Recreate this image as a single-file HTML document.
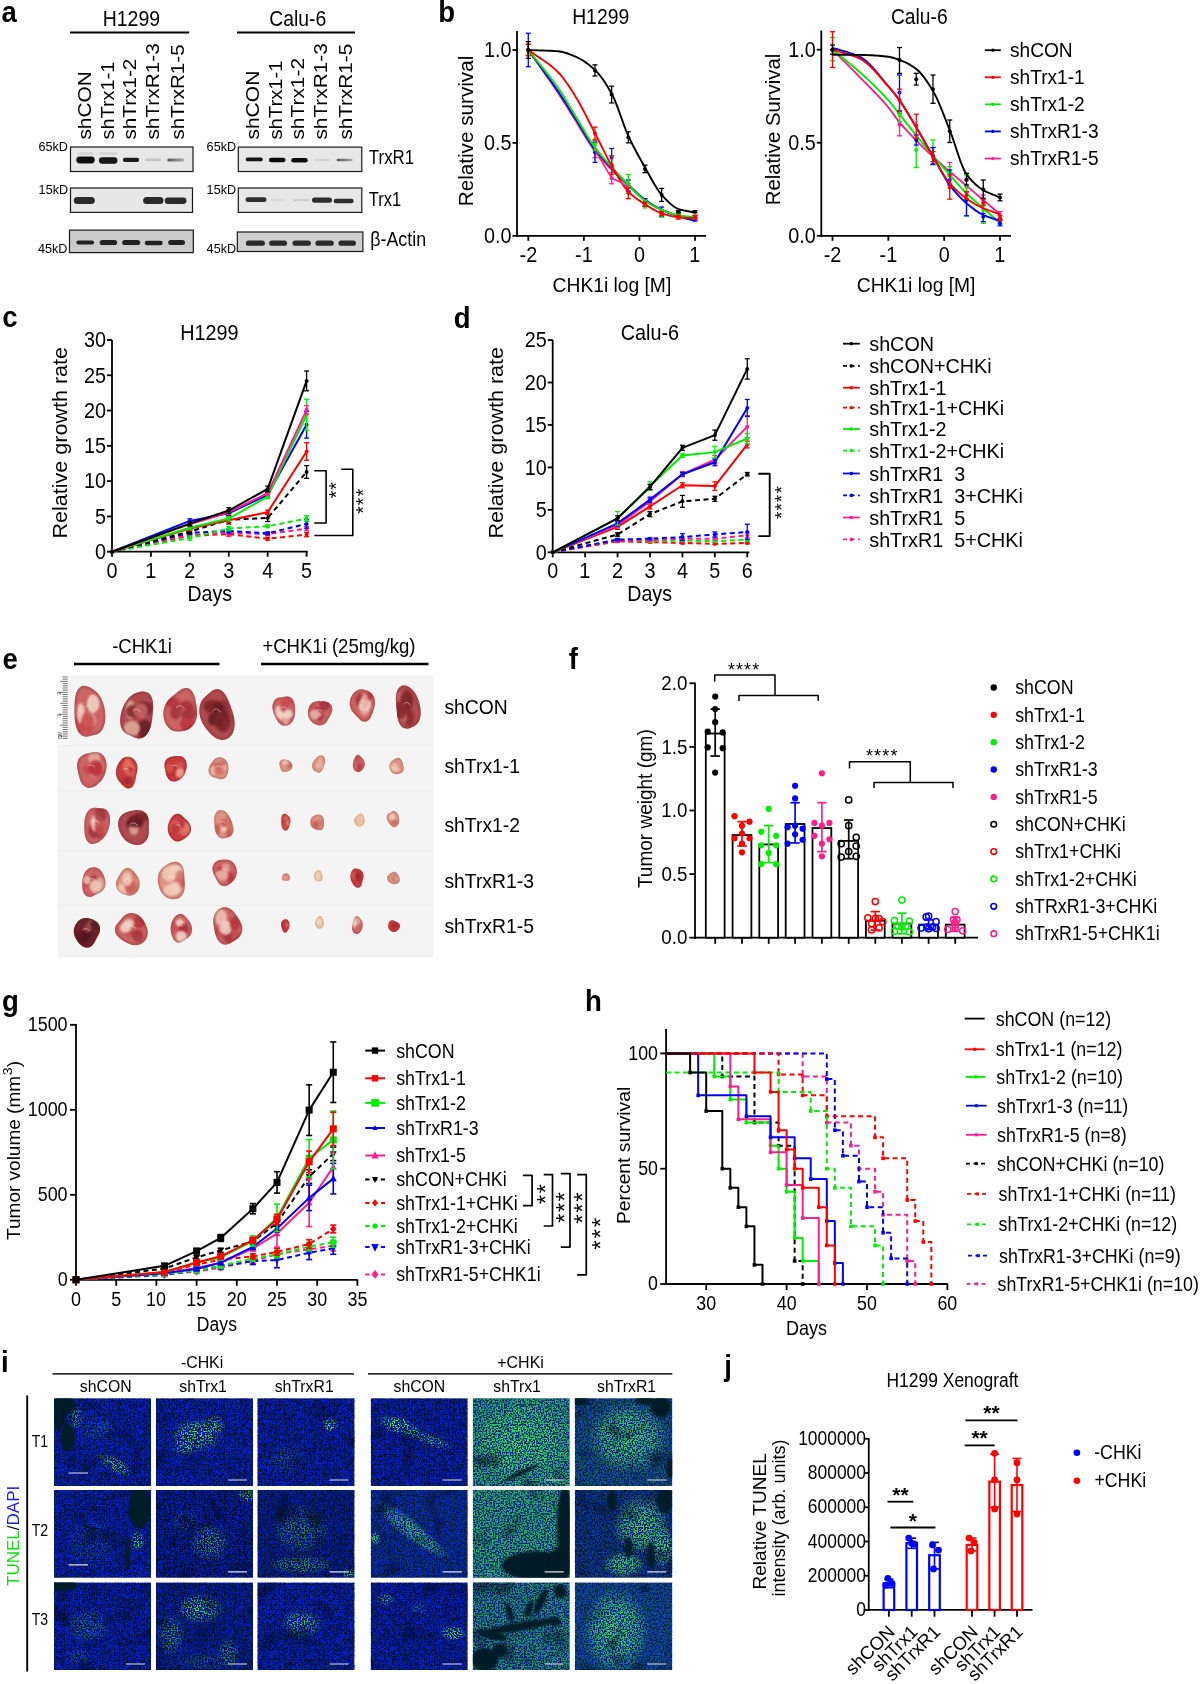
<!DOCTYPE html>
<html><head><meta charset="utf-8"><title>Figure</title>
<style>html,body{margin:0;padding:0;background:#fff;}body{width:1200px;height:1684px;overflow:hidden;}svg{display:block;will-change:transform;}text{font-family:"Liberation Sans",sans-serif;}</style>
</head><body>
<svg width="1200" height="1684" viewBox="0 0 1200 1684">
<rect width="1200" height="1684" fill="#fff"/>
<defs>
<filter id="bblur" x="-30%" y="-100%" width="160%" height="300%"><feGaussianBlur stdDeviation="0.6"/></filter>
<linearGradient id="fadeH"><stop offset="0" stop-color="#555"/><stop offset="1" stop-color="#aaa"/></linearGradient>
<filter id="tblur" x="-50%" y="-50%" width="200%" height="200%"><feGaussianBlur stdDeviation="1.2"/></filter>
<filter id="vblur" x="-50%" y="-50%" width="200%" height="200%"><feGaussianBlur stdDeviation="1.2"/></filter>
<filter id="fB0" color-interpolation-filters="sRGB" x="0" y="0" width="100%" height="100%"><feTurbulence type="turbulence" baseFrequency="0.6" numOctaves="2" seed="3" result="n"/><feColorMatrix in="n" type="matrix" values="0 0 0 0 0.02  0 0 0 0 0.14  0 0 0 0 0.92  3.0 0 0 0 -0.35"/><feGaussianBlur stdDeviation="0.35"/></filter>
<filter id="fG0" color-interpolation-filters="sRGB" x="0" y="0" width="100%" height="100%"><feTurbulence type="fractalNoise" baseFrequency="0.7" numOctaves="1" seed="5" result="n"/><feColorMatrix in="n" type="matrix" values="0 0 0 0 0.25  0 0 0 0 1.0  0 0 0 0 0.3  0 8 0 0 -4.0"/><feGaussianBlur stdDeviation="0.4"/></filter>
<filter id="fG0d" color-interpolation-filters="sRGB" x="0" y="0" width="100%" height="100%"><feTurbulence type="fractalNoise" baseFrequency="0.65" numOctaves="1" seed="2" result="n"/><feColorMatrix in="n" type="matrix" values="0 0 0 0 0.2  0 0 0 0 0.85  0 0 0 0 0.45  0 7 0 0 -3.0"/><feGaussianBlur stdDeviation="0.4"/></filter>
<filter id="fL0" color-interpolation-filters="sRGB" x="0" y="0" width="100%" height="100%"><feTurbulence type="fractalNoise" baseFrequency="0.04" numOctaves="2" seed="9" result="n"/><feColorMatrix in="n" type="matrix" values="0 0 0 0 0  0 0 0 0 0.03  0 0 0 0 0.12  0 0 -2.2 0 0.9"/></filter>
<filter id="fB1" color-interpolation-filters="sRGB" x="0" y="0" width="100%" height="100%"><feTurbulence type="turbulence" baseFrequency="0.6" numOctaves="2" seed="10" result="n"/><feColorMatrix in="n" type="matrix" values="0 0 0 0 0.02  0 0 0 0 0.14  0 0 0 0 0.92  3.0 0 0 0 -0.35"/><feGaussianBlur stdDeviation="0.35"/></filter>
<filter id="fG1" color-interpolation-filters="sRGB" x="0" y="0" width="100%" height="100%"><feTurbulence type="fractalNoise" baseFrequency="0.7" numOctaves="1" seed="16" result="n"/><feColorMatrix in="n" type="matrix" values="0 0 0 0 0.25  0 0 0 0 1.0  0 0 0 0 0.3  0 8 0 0 -4.0"/><feGaussianBlur stdDeviation="0.4"/></filter>
<filter id="fG1d" color-interpolation-filters="sRGB" x="0" y="0" width="100%" height="100%"><feTurbulence type="fractalNoise" baseFrequency="0.65" numOctaves="1" seed="15" result="n"/><feColorMatrix in="n" type="matrix" values="0 0 0 0 0.2  0 0 0 0 0.85  0 0 0 0 0.45  0 7 0 0 -3.0"/><feGaussianBlur stdDeviation="0.4"/></filter>
<filter id="fL1" color-interpolation-filters="sRGB" x="0" y="0" width="100%" height="100%"><feTurbulence type="fractalNoise" baseFrequency="0.04" numOctaves="2" seed="14" result="n"/><feColorMatrix in="n" type="matrix" values="0 0 0 0 0  0 0 0 0 0.03  0 0 0 0 0.12  0 0 -2.2 0 0.9"/></filter>
<filter id="fB2" color-interpolation-filters="sRGB" x="0" y="0" width="100%" height="100%"><feTurbulence type="turbulence" baseFrequency="0.6" numOctaves="2" seed="17" result="n"/><feColorMatrix in="n" type="matrix" values="0 0 0 0 0.02  0 0 0 0 0.14  0 0 0 0 0.92  3.0 0 0 0 -0.35"/><feGaussianBlur stdDeviation="0.35"/></filter>
<filter id="fG2" color-interpolation-filters="sRGB" x="0" y="0" width="100%" height="100%"><feTurbulence type="fractalNoise" baseFrequency="0.7" numOctaves="1" seed="27" result="n"/><feColorMatrix in="n" type="matrix" values="0 0 0 0 0.25  0 0 0 0 1.0  0 0 0 0 0.3  0 8 0 0 -4.0"/><feGaussianBlur stdDeviation="0.4"/></filter>
<filter id="fG2d" color-interpolation-filters="sRGB" x="0" y="0" width="100%" height="100%"><feTurbulence type="fractalNoise" baseFrequency="0.65" numOctaves="1" seed="28" result="n"/><feColorMatrix in="n" type="matrix" values="0 0 0 0 0.2  0 0 0 0 0.85  0 0 0 0 0.45  0 7 0 0 -3.0"/><feGaussianBlur stdDeviation="0.4"/></filter>
<filter id="fL2" color-interpolation-filters="sRGB" x="0" y="0" width="100%" height="100%"><feTurbulence type="fractalNoise" baseFrequency="0.04" numOctaves="2" seed="19" result="n"/><feColorMatrix in="n" type="matrix" values="0 0 0 0 0  0 0 0 0 0.03  0 0 0 0 0.12  0 0 -2.2 0 0.9"/></filter>
<radialGradient id="rgW"><stop offset="0" stop-color="#fff"/><stop offset="0.6" stop-color="#fff" stop-opacity="0.7"/><stop offset="1" stop-color="#fff" stop-opacity="0"/></radialGradient>
<radialGradient id="tgN" cx="0.45" cy="0.4" r="0.6"><stop offset="0" stop-color="#e08a80"/><stop offset="0.5" stop-color="#c8484a"/><stop offset="0.9" stop-color="#a52a33"/><stop offset="1" stop-color="#b04048" stop-opacity="0.6"/></radialGradient>
<radialGradient id="tgD" cx="0.45" cy="0.4" r="0.6"><stop offset="0" stop-color="#c86c6c"/><stop offset="0.5" stop-color="#9a3038"/><stop offset="0.9" stop-color="#6a1a22"/><stop offset="1" stop-color="#7a2a30" stop-opacity="0.6"/></radialGradient>
<radialGradient id="tgR" cx="0.45" cy="0.4" r="0.6"><stop offset="0" stop-color="#e06050"/><stop offset="0.6" stop-color="#c8303a"/><stop offset="1" stop-color="#b02a30" stop-opacity="0.7"/></radialGradient>
<radialGradient id="tgL" cx="0.45" cy="0.4" r="0.6"><stop offset="0" stop-color="#f0c0a8"/><stop offset="0.6" stop-color="#e08070"/><stop offset="1" stop-color="#d06060" stop-opacity="0.7"/></radialGradient>
<radialGradient id="tgP" cx="0.45" cy="0.4" r="0.6"><stop offset="0" stop-color="#f8e0c8"/><stop offset="0.7" stop-color="#ecc4a4"/><stop offset="1" stop-color="#e0b090" stop-opacity="0.7"/></radialGradient>
<radialGradient id="tgHi"><stop offset="0" stop-color="#f4d0c0" stop-opacity="0.7"/><stop offset="1" stop-color="#f4d0c0" stop-opacity="0"/></radialGradient>
<clipPath id="tcl1"><path d="M104.94,710.61 L105.35,715.15 L105.25,719.69 L104.59,723.98 L103.37,727.74 L101.66,730.73 L99.61,732.84 L97.41,734.14 L95.23,734.86 L93.13,735.34 L91.08,735.83 L88.99,736.36 L86.73,736.75 L84.30,736.62 L81.80,735.59 L79.43,733.44 L77.43,730.22 L75.97,726.23 L75.07,721.87 L74.63,717.49 L74.47,713.27 L74.43,709.19 L74.48,705.13 L74.68,701.00 L75.19,696.88 L76.17,693.02 L77.68,689.76 L79.66,687.42 L81.95,686.12 L84.36,685.78 L86.74,686.17 L89.01,687.01 L91.19,688.09 L93.32,689.38 L95.43,690.95 L97.51,692.94 L99.50,695.46 L101.31,698.56 L102.86,702.18 L104.09,706.24 Z"/></clipPath>
<clipPath id="tcl2"><path d="M152.20,718.94 L151.58,722.91 L150.55,727.02 L148.95,731.01 L146.77,734.46 L144.14,736.98 L141.30,738.36 L138.55,738.64 L136.04,738.12 L133.83,737.19 L131.82,736.21 L129.85,735.33 L127.84,734.48 L125.77,733.39 L123.78,731.79 L122.07,729.49 L120.83,726.47 L120.18,722.86 L120.14,718.90 L120.67,714.80 L121.68,710.76 L123.09,706.90 L124.84,703.34 L126.89,700.17 L129.16,697.50 L131.58,695.39 L134.05,693.83 L136.52,692.74 L138.95,692.02 L141.37,691.60 L143.79,691.53 L146.17,691.94 L148.41,693.01 L150.35,694.86 L151.81,697.48 L152.73,700.70 L153.12,704.26 L153.12,707.91 L152.91,711.54 L152.60,715.18 Z"/></clipPath>
<clipPath id="tcl3"><path d="M197.22,713.86 L196.78,717.56 L195.70,721.13 L194.01,724.29 L191.83,726.83 L189.39,728.66 L186.89,729.88 L184.43,730.65 L182.06,731.14 L179.72,731.45 L177.38,731.55 L175.01,731.31 L172.66,730.63 L170.41,729.40 L168.33,727.61 L166.51,725.28 L165.02,722.45 L163.93,719.19 L163.35,715.58 L163.38,711.79 L164.07,708.01 L165.38,704.51 L167.17,701.48 L169.26,699.00 L171.42,697.00 L173.53,695.29 L175.58,693.63 L177.66,691.92 L179.91,690.22 L182.39,688.79 L185.06,687.99 L187.74,688.12 L190.21,689.32 L192.25,691.46 L193.77,694.25 L194.84,697.36 L195.60,700.54 L196.22,703.70 L196.76,706.91 L197.15,710.28 Z"/></clipPath>
<clipPath id="tcl4"><path d="M232.74,712.31 L233.80,716.26 L234.50,720.47 L234.66,724.76 L234.17,728.86 L233.02,732.48 L231.32,735.41 L229.21,737.59 L226.87,739.02 L224.40,739.77 L221.89,739.91 L219.40,739.49 L216.96,738.55 L214.62,737.15 L212.38,735.40 L210.22,733.38 L208.09,731.12 L205.96,728.57 L203.87,725.59 L201.93,722.07 L200.37,718.02 L199.42,713.60 L199.27,709.14 L199.95,705.02 L201.32,701.55 L203.14,698.83 L205.14,696.73 L207.12,694.98 L209.05,693.34 L211.01,691.70 L213.13,690.23 L215.50,689.24 L218.09,689.09 L220.75,690.02 L223.27,692.01 L225.49,694.84 L227.33,698.15 L228.88,701.62 L230.23,705.11 L231.52,708.63 Z"/></clipPath>
<clipPath id="tcl5"><path d="M295.21,710.40 L295.13,712.80 L294.84,715.19 L294.30,717.53 L293.46,719.72 L292.33,721.65 L290.96,723.23 L289.40,724.43 L287.74,725.24 L286.03,725.67 L284.30,725.73 L282.60,725.40 L280.99,724.68 L279.51,723.57 L278.20,722.15 L277.07,720.52 L276.08,718.76 L275.16,716.92 L274.27,714.96 L273.43,712.81 L272.76,710.40 L272.40,707.76 L272.52,705.04 L273.19,702.48 L274.41,700.34 L276.00,698.79 L277.79,697.85 L279.56,697.38 L281.23,697.15 L282.78,696.95 L284.30,696.69 L285.88,696.43 L287.56,696.35 L289.29,696.68 L290.96,697.56 L292.42,699.03 L293.57,700.97 L294.38,703.21 L294.87,705.59 L295.13,708.00 Z"/></clipPath>
<clipPath id="tcl6"><path d="M331.75,712.50 L330.93,714.37 L330.03,716.02 L329.16,717.55 L328.34,719.07 L327.47,720.62 L326.42,722.15 L325.10,723.52 L323.50,724.58 L321.70,725.22 L319.80,725.40 L317.91,725.16 L316.09,724.59 L314.38,723.76 L312.79,722.71 L311.35,721.45 L310.09,719.97 L309.08,718.28 L308.37,716.43 L307.97,714.48 L307.88,712.50 L308.06,710.53 L308.50,708.61 L309.19,706.78 L310.16,705.08 L311.41,703.61 L312.91,702.45 L314.59,701.66 L316.34,701.23 L318.09,701.09 L319.80,701.10 L321.49,701.17 L323.24,701.27 L325.10,701.48 L327.04,701.94 L328.94,702.82 L330.59,704.20 L331.77,706.04 L332.34,708.18 L332.29,710.40 Z"/></clipPath>
<clipPath id="tcl7"><path d="M374.87,704.60 L374.42,707.12 L373.77,709.49 L373.04,711.76 L372.23,714.01 L371.28,716.25 L370.07,718.38 L368.55,720.18 L366.72,721.40 L364.71,721.84 L362.70,721.49 L360.85,720.49 L359.23,719.11 L357.82,717.61 L356.51,716.16 L355.20,714.79 L353.82,713.36 L352.43,711.71 L351.17,709.69 L350.21,707.29 L349.71,704.60 L349.73,701.81 L350.26,699.11 L351.20,696.64 L352.46,694.49 L353.94,692.70 L355.57,691.27 L357.31,690.22 L359.10,689.56 L360.91,689.27 L362.70,689.32 L364.45,689.63 L366.16,690.14 L367.86,690.84 L369.56,691.78 L371.20,693.05 L372.70,694.73 L373.90,696.85 L374.69,699.31 L375.00,701.95 Z"/></clipPath>
<clipPath id="tcl8"><path d="M420.15,706.41 L420.62,709.73 L420.74,713.16 L420.42,716.54 L419.63,719.64 L418.39,722.26 L416.83,724.30 L415.07,725.77 L413.24,726.81 L411.40,727.60 L409.51,728.23 L407.55,728.63 L405.47,728.62 L403.36,727.95 L401.36,726.44 L399.63,724.10 L398.34,721.12 L397.50,717.83 L397.05,714.54 L396.81,711.42 L396.59,708.47 L396.32,705.53 L396.02,702.43 L395.85,699.08 L396.00,695.60 L396.64,692.24 L397.83,689.33 L399.49,687.15 L401.48,685.84 L403.63,685.37 L405.78,685.59 L407.86,686.34 L409.81,687.46 L411.64,688.91 L413.34,690.66 L414.89,692.70 L416.28,695.02 L417.49,697.58 L418.55,700.33 L419.44,703.27 Z"/></clipPath>
<clipPath id="tcl9"><path d="M106.34,769.00 L105.81,771.61 L105.05,774.06 L104.05,776.34 L102.84,778.45 L101.46,780.38 L99.91,782.18 L98.19,783.86 L96.27,785.41 L94.11,786.72 L91.70,787.62 L89.13,787.90 L86.57,787.41 L84.22,786.12 L82.27,784.14 L80.81,781.71 L79.79,779.10 L79.06,776.51 L78.47,774.02 L77.90,771.55 L77.39,769.00 L77.08,766.30 L77.17,763.49 L77.84,760.76 L79.11,758.33 L80.90,756.39 L82.99,755.01 L85.19,754.09 L87.37,753.46 L89.52,752.93 L91.70,752.45 L94.00,752.09 L96.43,752.03 L98.91,752.50 L101.27,753.64 L103.32,755.45 L104.89,757.82 L105.94,760.54 L106.47,763.40 L106.58,766.25 Z"/></clipPath>
<clipPath id="tcl10"><path d="M137.04,772.00 L136.57,774.07 L136.12,776.04 L135.71,778.05 L135.27,780.20 L134.68,782.47 L133.77,784.71 L132.47,786.64 L130.81,788.00 L128.93,788.59 L127.00,788.39 L125.19,787.56 L123.59,786.32 L122.17,784.92 L120.88,783.48 L119.65,782.02 L118.47,780.45 L117.40,778.67 L116.56,776.63 L116.04,774.37 L115.90,772.00 L116.14,769.65 L116.69,767.43 L117.46,765.37 L118.39,763.47 L119.46,761.72 L120.68,760.14 L122.06,758.78 L123.60,757.72 L125.26,757.00 L127.00,756.68 L128.77,756.73 L130.54,757.16 L132.25,757.95 L133.86,759.13 L135.27,760.72 L136.40,762.69 L137.14,764.96 L137.45,767.37 L137.38,769.76 Z"/></clipPath>
<clipPath id="tcl11"><path d="M186.57,768.00 L186.20,769.83 L185.68,771.57 L185.02,773.23 L184.20,774.81 L183.19,776.29 L182.01,777.66 L180.65,778.90 L179.11,779.98 L177.39,780.85 L175.50,781.42 L173.51,781.55 L171.53,781.16 L169.72,780.22 L168.22,778.80 L167.10,777.05 L166.35,775.17 L165.85,773.30 L165.48,771.51 L165.11,769.77 L164.75,768.00 L164.47,766.12 L164.45,764.13 L164.83,762.14 L165.68,760.31 L166.97,758.81 L168.57,757.72 L170.30,757.01 L172.06,756.58 L173.78,756.28 L175.50,756.05 L177.28,755.89 L179.14,755.92 L181.04,756.28 L182.85,757.09 L184.42,758.39 L185.62,760.08 L186.38,762.02 L186.74,764.06 L186.77,766.08 Z"/></clipPath>
<clipPath id="tcl12"><path d="M228.46,768.50 L228.32,770.29 L228.04,772.05 L227.59,773.80 L226.93,775.48 L226.01,776.99 L224.82,778.20 L223.42,779.00 L221.91,779.34 L220.41,779.28 L219.00,778.97 L217.68,778.57 L216.40,778.19 L215.06,777.85 L213.63,777.45 L212.14,776.81 L210.71,775.79 L209.53,774.34 L208.75,772.53 L208.48,770.52 L208.69,768.50 L209.26,766.63 L210.06,764.98 L210.95,763.53 L211.86,762.22 L212.79,760.99 L213.79,759.83 L214.91,758.79 L216.17,757.95 L217.55,757.38 L219.00,757.12 L220.48,757.17 L221.95,757.50 L223.37,758.11 L224.71,758.98 L225.92,760.13 L226.93,761.53 L227.69,763.14 L228.19,764.89 L228.43,766.69 Z"/></clipPath>
<clipPath id="tcl13"><path d="M292.34,765.60 L292.37,766.67 L292.15,767.73 L291.68,768.70 L291.01,769.53 L290.18,770.18 L289.29,770.68 L288.39,771.07 L287.48,771.40 L286.56,771.68 L285.60,771.90 L284.59,772.00 L283.56,771.89 L282.58,771.53 L281.73,770.92 L281.08,770.12 L280.63,769.21 L280.32,768.29 L280.08,767.39 L279.84,766.51 L279.59,765.60 L279.38,764.61 L279.28,763.55 L279.42,762.45 L279.83,761.41 L280.53,760.53 L281.45,759.89 L282.50,759.52 L283.57,759.37 L284.62,759.39 L285.60,759.52 L286.53,759.73 L287.42,760.00 L288.28,760.34 L289.10,760.79 L289.87,761.33 L290.57,761.99 L291.19,762.75 L291.71,763.62 L292.11,764.57 Z"/></clipPath>
<clipPath id="tcl14"><path d="M324.10,765.42 L323.65,766.67 L323.18,767.91 L322.64,769.16 L321.98,770.36 L321.18,771.43 L320.26,772.22 L319.28,772.66 L318.32,772.74 L317.42,772.52 L316.62,772.12 L315.88,771.67 L315.15,771.22 L314.40,770.74 L313.63,770.14 L312.93,769.33 L312.38,768.24 L312.08,766.90 L312.08,765.40 L312.37,763.87 L312.90,762.42 L313.58,761.13 L314.33,760.01 L315.10,759.04 L315.88,758.17 L316.68,757.40 L317.50,756.72 L318.36,756.16 L319.26,755.74 L320.18,755.48 L321.10,755.40 L322.03,755.52 L322.92,755.86 L323.73,756.46 L324.41,757.34 L324.88,758.49 L325.11,759.83 L325.10,761.28 L324.88,762.74 L324.52,764.12 Z"/></clipPath>
<clipPath id="tcl15"><path d="M364.87,763.80 L364.75,765.32 L364.37,766.73 L363.80,767.94 L363.12,768.93 L362.40,769.74 L361.67,770.41 L360.94,770.97 L360.19,771.45 L359.41,771.80 L358.60,772.01 L357.76,772.04 L356.92,771.90 L356.07,771.56 L355.24,771.02 L354.46,770.27 L353.77,769.28 L353.23,768.07 L352.89,766.70 L352.76,765.24 L352.85,763.80 L353.10,762.44 L353.45,761.19 L353.85,760.02 L354.28,758.89 L354.75,757.79 L355.31,756.73 L356.00,755.81 L356.80,755.16 L357.69,754.85 L358.60,754.94 L359.46,755.35 L360.23,755.97 L360.93,756.67 L361.59,757.37 L362.27,758.07 L362.97,758.84 L363.67,759.76 L364.28,760.92 L364.71,762.29 Z"/></clipPath>
<clipPath id="tcl16"><path d="M403.50,766.40 L403.74,767.55 L403.81,768.79 L403.61,770.04 L403.11,771.21 L402.32,772.21 L401.33,772.99 L400.22,773.55 L399.06,773.91 L397.88,774.12 L396.70,774.19 L395.52,774.11 L394.36,773.84 L393.26,773.38 L392.25,772.73 L391.38,771.90 L390.65,770.94 L390.07,769.89 L389.63,768.77 L389.36,767.60 L389.27,766.40 L389.40,765.20 L389.73,764.06 L390.27,763.01 L390.94,762.08 L391.71,761.25 L392.53,760.48 L393.41,759.73 L394.38,759.02 L395.47,758.38 L396.70,757.95 L398.02,757.82 L399.31,758.08 L400.47,758.75 L401.38,759.74 L402.02,760.91 L402.42,762.11 L402.68,763.25 L402.92,764.31 L403.20,765.34 Z"/></clipPath>
<clipPath id="tcl17"><path d="M109.07,827.22 L108.12,830.20 L106.94,832.94 L105.56,835.40 L104.02,837.54 L102.36,839.34 L100.62,840.80 L98.83,841.98 L96.99,842.91 L95.10,843.60 L93.16,843.97 L91.19,843.88 L89.31,843.18 L87.63,841.81 L86.29,839.79 L85.34,837.28 L84.77,834.51 L84.47,831.65 L84.33,828.78 L84.28,825.87 L84.35,822.86 L84.64,819.70 L85.31,816.49 L86.44,813.45 L88.04,810.90 L89.98,809.07 L92.08,808.05 L94.13,807.72 L96.03,807.83 L97.77,808.07 L99.46,808.24 L101.19,808.32 L103.03,808.50 L104.92,809.04 L106.73,810.18 L108.27,812.03 L109.39,814.55 L110.00,817.54 L110.10,820.78 L109.76,824.05 Z"/></clipPath>
<clipPath id="tcl18"><path d="M148.80,827.00 L148.84,829.37 L148.86,831.87 L148.67,834.54 L148.03,837.27 L146.80,839.85 L144.95,842.05 L142.60,843.68 L139.93,844.65 L137.15,844.98 L134.40,844.77 L131.78,844.12 L129.35,843.10 L127.14,841.78 L125.17,840.17 L123.46,838.34 L122.02,836.32 L120.81,834.18 L119.79,831.92 L118.94,829.54 L118.31,827.00 L118.02,824.31 L118.21,821.55 L119.00,818.87 L120.40,816.46 L122.33,814.49 L124.60,813.02 L127.03,812.00 L129.48,811.29 L131.92,810.74 L134.40,810.29 L136.99,810.03 L139.68,810.15 L142.35,810.84 L144.76,812.22 L146.69,814.26 L147.98,816.77 L148.65,819.47 L148.86,822.13 L148.84,824.63 Z"/></clipPath>
<clipPath id="tcl19"><path d="M191.01,828.00 L190.89,830.48 L190.19,832.80 L189.05,834.77 L187.66,836.35 L186.19,837.58 L184.74,838.59 L183.32,839.49 L181.88,840.30 L180.38,840.97 L178.80,841.40 L177.15,841.49 L175.50,841.16 L173.91,840.44 L172.43,839.37 L171.09,837.99 L169.93,836.36 L168.96,834.50 L168.25,832.44 L167.84,830.25 L167.76,828.00 L167.99,825.78 L168.49,823.66 L169.20,821.66 L170.08,819.78 L171.11,818.03 L172.31,816.42 L173.72,815.08 L175.32,814.13 L177.05,813.71 L178.80,813.87 L180.44,814.56 L181.91,815.60 L183.21,816.79 L184.41,817.98 L185.64,819.13 L186.95,820.32 L188.31,821.72 L189.57,823.46 L190.54,825.59 Z"/></clipPath>
<clipPath id="tcl20"><path d="M231.96,822.48 L232.65,824.45 L233.22,826.57 L233.54,828.80 L233.49,831.01 L233.00,833.02 L232.11,834.69 L230.92,835.92 L229.57,836.75 L228.17,837.32 L226.77,837.76 L225.35,838.15 L223.85,838.44 L222.24,838.48 L220.54,838.09 L218.88,837.13 L217.40,835.61 L216.22,833.65 L215.41,831.45 L214.93,829.22 L214.68,827.11 L214.52,825.13 L214.38,823.21 L214.25,821.27 L214.21,819.26 L214.35,817.21 L214.76,815.22 L215.50,813.43 L216.56,811.95 L217.88,810.87 L219.39,810.22 L221.03,810.01 L222.71,810.25 L224.38,810.94 L225.95,812.03 L227.36,813.46 L228.57,815.14 L229.59,816.94 L230.45,818.77 L231.23,820.61 Z"/></clipPath>
<clipPath id="tcl21"><path d="M290.39,822.00 L290.18,823.21 L289.89,824.32 L289.56,825.36 L289.22,826.38 L288.83,827.39 L288.38,828.38 L287.82,829.28 L287.16,830.00 L286.40,830.46 L285.60,830.63 L284.79,830.50 L284.02,830.11 L283.31,829.48 L282.70,828.66 L282.18,827.69 L281.79,826.61 L281.52,825.46 L281.37,824.29 L281.30,823.13 L281.29,822.00 L281.30,820.87 L281.34,819.69 L281.43,818.46 L281.62,817.18 L281.97,815.95 L282.49,814.87 L283.18,814.09 L283.98,813.68 L284.81,813.64 L285.60,813.89 L286.33,814.32 L287.00,814.81 L287.65,815.30 L288.29,815.82 L288.93,816.44 L289.53,817.24 L290.02,818.25 L290.34,819.43 L290.46,820.72 Z"/></clipPath>
<clipPath id="tcl22"><path d="M323.88,820.08 L323.97,821.40 L323.96,822.64 L323.94,823.84 L323.90,825.03 L323.80,826.25 L323.55,827.46 L323.07,828.56 L322.35,829.46 L321.43,830.05 L320.38,830.32 L319.30,830.33 L318.24,830.16 L317.22,829.91 L316.21,829.63 L315.19,829.29 L314.13,828.83 L313.08,828.17 L312.11,827.28 L311.28,826.17 L310.68,824.88 L310.32,823.51 L310.21,822.12 L310.32,820.80 L310.61,819.57 L311.07,818.47 L311.67,817.52 L312.38,816.74 L313.18,816.12 L314.02,815.64 L314.90,815.25 L315.80,814.93 L316.76,814.65 L317.79,814.46 L318.92,814.43 L320.10,814.66 L321.26,815.23 L322.29,816.14 L323.09,817.34 L323.62,818.69 Z"/></clipPath>
<clipPath id="tcl23"><path d="M364.63,820.30 L364.68,821.24 L364.60,822.20 L364.37,823.14 L363.98,824.01 L363.43,824.77 L362.78,825.41 L362.05,825.91 L361.27,826.29 L360.45,826.55 L359.60,826.66 L358.74,826.62 L357.90,826.39 L357.11,826.00 L356.38,825.47 L355.73,824.81 L355.16,824.06 L354.67,823.23 L354.29,822.31 L354.05,821.32 L354.00,820.30 L354.15,819.29 L354.50,818.37 L355.01,817.57 L355.60,816.91 L356.20,816.34 L356.80,815.80 L357.39,815.23 L358.02,814.63 L358.75,814.05 L359.60,813.59 L360.54,813.38 L361.50,813.49 L362.37,813.96 L363.09,814.70 L363.61,815.62 L363.96,816.61 L364.18,817.57 L364.36,818.50 L364.51,819.39 Z"/></clipPath>
<clipPath id="tcl24"><path d="M399.00,817.47 L399.21,818.79 L399.29,820.08 L399.22,821.32 L399.02,822.50 L398.67,823.57 L398.20,824.52 L397.64,825.34 L396.99,826.05 L396.27,826.64 L395.46,827.06 L394.57,827.27 L393.64,827.23 L392.69,826.92 L391.78,826.36 L390.94,825.61 L390.17,824.75 L389.45,823.83 L388.74,822.85 L388.05,821.78 L387.42,820.58 L386.92,819.23 L386.64,817.80 L386.66,816.40 L387.00,815.15 L387.61,814.16 L388.37,813.46 L389.18,812.98 L389.96,812.63 L390.69,812.28 L391.39,811.88 L392.14,811.45 L392.98,811.11 L393.92,810.97 L394.92,811.15 L395.91,811.68 L396.82,812.53 L397.59,813.62 L398.20,814.86 L398.67,816.15 Z"/></clipPath>
<clipPath id="tcl25"><path d="M105.42,882.00 L105.39,884.39 L104.92,886.71 L103.99,888.80 L102.68,890.51 L101.15,891.80 L99.55,892.74 L98.00,893.50 L96.49,894.26 L94.96,895.11 L93.30,895.98 L91.44,896.68 L89.41,896.94 L87.36,896.54 L85.50,895.40 L84.01,893.59 L83.00,891.34 L82.46,888.89 L82.26,886.47 L82.28,884.18 L82.41,882.00 L82.60,879.88 L82.90,877.78 L83.39,875.70 L84.14,873.70 L85.18,871.87 L86.49,870.30 L88.01,869.03 L89.68,868.08 L91.45,867.45 L93.30,867.16 L95.17,867.25 L97.01,867.75 L98.74,868.68 L100.29,869.99 L101.63,871.60 L102.76,873.42 L103.71,875.38 L104.49,877.46 L105.08,879.67 Z"/></clipPath>
<clipPath id="tcl26"><path d="M139.71,882.50 L139.72,884.90 L139.31,887.24 L138.51,889.41 L137.40,891.32 L136.06,892.91 L134.56,894.15 L132.95,895.03 L131.28,895.53 L129.62,895.67 L128.00,895.52 L126.45,895.16 L124.93,894.69 L123.41,894.13 L121.84,893.45 L120.23,892.53 L118.68,891.24 L117.34,889.51 L116.40,887.36 L115.98,884.96 L116.11,882.50 L116.70,880.19 L117.60,878.14 L118.62,876.33 L119.65,874.67 L120.68,873.05 L121.78,871.45 L123.04,869.94 L124.53,868.71 L126.22,867.95 L128.00,867.80 L129.75,868.25 L131.35,869.19 L132.77,870.42 L134.03,871.79 L135.21,873.20 L136.36,874.66 L137.48,876.26 L138.49,878.10 L139.27,880.20 Z"/></clipPath>
<clipPath id="tcl27"><path d="M184.49,880.70 L184.68,883.21 L184.80,885.90 L184.64,888.75 L184.02,891.61 L182.83,894.24 L181.12,896.40 L179.03,897.96 L176.73,898.89 L174.35,899.27 L172.00,899.19 L169.72,898.72 L167.53,897.89 L165.48,896.69 L163.62,895.11 L162.00,893.20 L160.65,891.01 L159.56,888.63 L158.71,886.10 L158.11,883.45 L157.78,880.70 L157.80,877.89 L158.23,875.11 L159.11,872.49 L160.41,870.18 L162.03,868.24 L163.84,866.66 L165.74,865.35 L167.70,864.17 L169.77,863.10 L172.00,862.21 L174.41,861.71 L176.90,861.85 L179.29,862.81 L181.34,864.62 L182.86,867.12 L183.79,870.00 L184.20,872.93 L184.32,875.70 L184.37,878.25 Z"/></clipPath>
<clipPath id="tcl28"><path d="M236.93,872.00 L236.73,874.27 L236.14,876.42 L235.21,878.37 L234.04,880.06 L232.73,881.51 L231.34,882.79 L229.87,883.94 L228.31,884.95 L226.61,885.74 L224.80,886.15 L222.94,886.06 L221.17,885.41 L219.60,884.24 L218.30,882.73 L217.25,881.05 L216.35,879.37 L215.48,877.70 L214.56,875.99 L213.63,874.12 L212.86,872.00 L212.42,869.65 L212.52,867.21 L213.21,864.92 L214.46,862.98 L216.09,861.55 L217.91,860.62 L219.74,860.08 L221.49,859.79 L223.16,859.60 L224.80,859.49 L226.45,859.48 L228.13,859.69 L229.82,860.19 L231.44,861.04 L232.93,862.24 L234.25,863.76 L235.35,865.55 L236.20,867.55 L236.75,869.73 Z"/></clipPath>
<clipPath id="tcl29"><path d="M290.05,877.30 L290.08,877.95 L290.01,878.60 L289.83,879.25 L289.49,879.83 L289.01,880.31 L288.42,880.63 L287.78,880.79 L287.15,880.83 L286.55,880.80 L286.00,880.76 L285.45,880.75 L284.88,880.76 L284.25,880.73 L283.59,880.62 L282.95,880.35 L282.41,879.91 L282.02,879.33 L281.81,878.66 L281.78,877.97 L281.89,877.30 L282.08,876.68 L282.31,876.10 L282.58,875.56 L282.90,875.04 L283.27,874.57 L283.71,874.15 L284.22,873.81 L284.79,873.56 L285.39,873.42 L286.00,873.37 L286.62,873.40 L287.23,873.53 L287.81,873.74 L288.36,874.05 L288.84,874.46 L289.25,874.94 L289.56,875.49 L289.79,876.07 L289.95,876.67 Z"/></clipPath>
<clipPath id="tcl30"><path d="M322.47,876.00 L322.62,876.98 L322.64,878.01 L322.47,879.04 L322.10,879.95 L321.56,880.66 L320.90,881.12 L320.21,881.36 L319.53,881.43 L318.90,881.41 L318.30,881.37 L317.71,881.31 L317.11,881.21 L316.51,881.03 L315.90,880.71 L315.34,880.23 L314.83,879.60 L314.41,878.83 L314.09,877.95 L313.89,877.00 L313.82,876.00 L313.88,875.00 L314.09,874.05 L314.43,873.18 L314.88,872.45 L315.40,871.85 L315.94,871.37 L316.50,870.96 L317.07,870.60 L317.67,870.30 L318.30,870.07 L318.97,870.00 L319.64,870.13 L320.26,870.50 L320.80,871.09 L321.22,871.82 L321.54,872.63 L321.80,873.45 L322.03,874.27 L322.25,875.11 Z"/></clipPath>
<clipPath id="tcl31"><path d="M363.55,876.55 L363.35,877.99 L363.02,879.27 L362.67,880.42 L362.36,881.55 L362.09,882.73 L361.79,883.99 L361.35,885.28 L360.71,886.45 L359.84,887.35 L358.79,887.83 L357.64,887.87 L356.49,887.49 L355.42,886.80 L354.44,885.92 L353.57,884.93 L352.79,883.87 L352.09,882.73 L351.48,881.51 L351.00,880.19 L350.67,878.82 L350.51,877.41 L350.50,876.01 L350.63,874.64 L350.90,873.32 L351.30,872.08 L351.86,870.95 L352.58,870.00 L353.43,869.28 L354.39,868.82 L355.40,868.62 L356.43,868.62 L357.47,868.78 L358.51,869.05 L359.56,869.46 L360.62,870.05 L361.64,870.91 L362.52,872.05 L363.16,873.45 L363.51,874.99 Z"/></clipPath>
<clipPath id="tcl32"><path d="M399.68,878.30 L399.88,879.35 L399.84,880.43 L399.53,881.47 L398.95,882.38 L398.18,883.11 L397.30,883.65 L396.37,884.00 L395.43,884.20 L394.50,884.28 L393.60,884.24 L392.73,884.09 L391.89,883.84 L391.08,883.48 L390.31,883.05 L389.57,882.53 L388.86,881.91 L388.20,881.19 L387.65,880.33 L387.26,879.35 L387.11,878.30 L387.22,877.24 L387.58,876.25 L388.14,875.38 L388.81,874.64 L389.52,874.01 L390.24,873.44 L390.98,872.89 L391.77,872.38 L392.65,871.97 L393.60,871.74 L394.58,871.77 L395.52,872.09 L396.34,872.65 L397.01,873.37 L397.54,874.17 L397.99,874.95 L398.42,875.72 L398.87,876.50 L399.31,877.35 Z"/></clipPath>
<clipPath id="tcl33"><path d="M99.73,932.00 L98.94,934.04 L97.98,935.86 L97.03,937.54 L96.15,939.22 L95.28,941.03 L94.25,942.94 L92.91,944.82 L91.15,946.42 L89.03,947.47 L86.70,947.79 L84.39,947.36 L82.28,946.31 L80.48,944.85 L78.97,943.19 L77.69,941.49 L76.55,939.77 L75.52,937.99 L74.66,936.12 L74.03,934.11 L73.73,932.00 L73.80,929.85 L74.23,927.73 L74.98,925.71 L76.01,923.82 L77.29,922.10 L78.82,920.59 L80.58,919.35 L82.52,918.47 L84.59,917.98 L86.70,917.89 L88.78,918.15 L90.81,918.69 L92.78,919.45 L94.68,920.44 L96.48,921.71 L98.06,923.31 L99.29,925.25 L100.01,927.45 L100.14,929.76 Z"/></clipPath>
<clipPath id="tcl34"><path d="M147.50,935.24 L146.85,937.41 L145.82,939.49 L144.39,941.41 L142.54,943.07 L140.29,944.35 L137.72,945.11 L134.96,945.30 L132.19,944.93 L129.56,944.11 L127.12,943.00 L124.87,941.74 L122.71,940.39 L120.62,938.93 L118.61,937.26 L116.85,935.31 L115.54,933.09 L114.89,930.69 L114.97,928.29 L115.71,926.06 L116.90,924.10 L118.28,922.38 L119.67,920.78 L121.04,919.15 L122.50,917.45 L124.22,915.76 L126.35,914.27 L128.92,913.26 L131.79,912.95 L134.72,913.41 L137.46,914.59 L139.83,916.28 L141.76,918.26 L143.31,920.33 L144.59,922.40 L145.66,924.45 L146.57,926.51 L147.26,928.63 L147.68,930.81 L147.77,933.03 Z"/></clipPath>
<clipPath id="tcl35"><path d="M192.09,928.40 L192.00,930.99 L191.35,933.41 L190.26,935.44 L188.90,937.00 L187.47,938.14 L186.09,939.04 L184.80,939.87 L183.54,940.73 L182.23,941.59 L180.80,942.31 L179.25,942.70 L177.64,942.58 L176.08,941.91 L174.67,940.72 L173.45,939.13 L172.45,937.25 L171.67,935.19 L171.09,933.01 L170.73,930.73 L170.62,928.40 L170.78,926.08 L171.21,923.85 L171.88,921.77 L172.76,919.87 L173.79,918.17 L174.96,916.67 L176.27,915.41 L177.70,914.46 L179.23,913.91 L180.80,913.84 L182.33,914.27 L183.76,915.11 L185.05,916.23 L186.23,917.49 L187.37,918.81 L188.53,920.20 L189.70,921.78 L190.79,923.66 L191.65,925.89 Z"/></clipPath>
<clipPath id="tcl36"><path d="M241.24,923.49 L242.07,926.23 L242.36,929.12 L241.99,931.97 L240.99,934.53 L239.50,936.67 L237.75,938.39 L235.90,939.82 L234.04,941.10 L232.13,942.34 L230.08,943.48 L227.82,944.33 L225.37,944.64 L222.87,944.18 L220.54,942.90 L218.56,940.91 L217.04,938.46 L215.97,935.83 L215.21,933.22 L214.63,930.72 L214.11,928.27 L213.66,925.80 L213.33,923.22 L213.27,920.53 L213.58,917.82 L214.33,915.19 L215.53,912.77 L217.13,910.68 L219.07,909.00 L221.29,907.82 L223.69,907.21 L226.16,907.24 L228.58,907.92 L230.82,909.17 L232.79,910.85 L234.49,912.77 L235.98,914.77 L237.36,916.77 L238.72,918.82 L240.05,921.02 Z"/></clipPath>
<clipPath id="tcl37"><path d="M289.57,925.60 L289.46,926.56 L289.25,927.47 L288.96,928.31 L288.61,929.10 L288.22,929.85 L287.79,930.59 L287.30,931.32 L286.73,931.99 L286.05,932.52 L285.30,932.80 L284.52,932.75 L283.79,932.36 L283.17,931.67 L282.70,930.81 L282.35,929.89 L282.09,928.99 L281.85,928.16 L281.59,927.35 L281.32,926.52 L281.08,925.60 L280.95,924.60 L280.97,923.56 L281.19,922.55 L281.57,921.66 L282.09,920.93 L282.68,920.36 L283.31,919.92 L283.95,919.57 L284.62,919.32 L285.30,919.17 L286.00,919.16 L286.70,919.33 L287.37,919.70 L287.97,920.26 L288.48,920.97 L288.90,921.79 L289.22,922.69 L289.45,923.64 L289.56,924.62 Z"/></clipPath>
<clipPath id="tcl38"><path d="M323.99,922.70 L324.04,923.62 L323.96,924.55 L323.72,925.44 L323.35,926.25 L322.87,926.97 L322.31,927.57 L321.70,928.07 L321.03,928.45 L320.33,928.70 L319.60,928.80 L318.87,928.74 L318.15,928.50 L317.48,928.12 L316.86,927.62 L316.30,927.01 L315.80,926.30 L315.38,925.51 L315.07,924.62 L314.92,923.67 L314.94,922.70 L315.13,921.78 L315.46,920.94 L315.86,920.22 L316.29,919.56 L316.71,918.92 L317.13,918.26 L317.59,917.56 L318.15,916.87 L318.82,916.31 L319.60,915.97 L320.42,915.95 L321.20,916.27 L321.87,916.88 L322.40,917.67 L322.80,918.53 L323.10,919.38 L323.36,920.20 L323.61,921.00 L323.83,921.83 Z"/></clipPath>
<clipPath id="tcl39"><path d="M362.81,925.40 L362.64,926.79 L362.32,928.08 L361.88,929.23 L361.38,930.26 L360.82,931.18 L360.22,932.00 L359.57,932.71 L358.86,933.28 L358.10,933.70 L357.30,933.94 L356.47,934.01 L355.62,933.89 L354.76,933.57 L353.94,933.00 L353.18,932.16 L352.57,931.04 L352.16,929.70 L351.98,928.24 L352.03,926.77 L352.25,925.40 L352.56,924.17 L352.88,923.04 L353.16,921.94 L353.44,920.80 L353.76,919.59 L354.20,918.39 L354.79,917.32 L355.54,916.53 L356.41,916.13 L357.30,916.15 L358.16,916.51 L358.94,917.10 L359.66,917.81 L360.33,918.56 L360.97,919.38 L361.58,920.29 L362.13,921.36 L362.54,922.60 L362.78,923.97 Z"/></clipPath>
<clipPath id="tcl40"><path d="M400.08,926.20 L399.90,927.17 L399.53,928.06 L399.02,928.86 L398.45,929.58 L397.83,930.23 L397.17,930.84 L396.43,931.36 L395.61,931.77 L394.72,932.03 L393.80,932.09 L392.89,931.97 L392.02,931.69 L391.21,931.28 L390.48,930.77 L389.83,930.17 L389.26,929.50 L388.81,928.74 L388.48,927.93 L388.28,927.08 L388.19,926.20 L388.21,925.31 L388.31,924.42 L388.51,923.51 L388.84,922.60 L389.34,921.74 L390.02,921.00 L390.88,920.47 L391.85,920.21 L392.85,920.23 L393.80,920.49 L394.64,920.89 L395.38,921.33 L396.08,921.73 L396.78,922.10 L397.53,922.47 L398.31,922.93 L399.04,923.53 L399.64,924.30 L400.00,925.22 Z"/></clipPath>
<clipPath id="tc1"><rect x="54.00" y="1398.30" width="97.00" height="87.70"/></clipPath>
<mask id="gm1" maskUnits="userSpaceOnUse" x="54.0" y="1398.3" width="97.0" height="87.7"><rect x="54.00" y="1398.30" width="97.00" height="87.70" fill="#fff" fill-opacity="0.05"/><ellipse cx="114.1" cy="1464.1" rx="21.3" ry="7.9" fill="url(#rgW)" fill-opacity="0.90" transform="rotate(30.0 114.1 1464.1)"/><ellipse cx="75.3" cy="1417.6" rx="9.7" ry="12.3" fill="url(#rgW)" fill-opacity="0.70" transform="rotate(0.0 75.3 1417.6)"/><ellipse cx="58.9" cy="1402.7" rx="5.8" ry="4.4" fill="url(#rgW)" fill-opacity="1.00" transform="rotate(0.0 58.9 1402.7)"/><ellipse cx="97.7" cy="1429.0" rx="19.4" ry="13.2" fill="url(#rgW)" fill-opacity="0.30" transform="rotate(0.0 97.7 1429.0)"/></mask>
<clipPath id="tc2"><rect x="156.00" y="1398.30" width="97.00" height="87.70"/></clipPath>
<mask id="gm2" maskUnits="userSpaceOnUse" x="156.0" y="1398.3" width="97.0" height="87.7"><rect x="156.00" y="1398.30" width="97.00" height="87.70" fill="#fff" fill-opacity="0.05"/><ellipse cx="196.7" cy="1435.1" rx="26.2" ry="17.5" fill="url(#rgW)" fill-opacity="1.00" transform="rotate(0.0 196.7 1435.1)"/><ellipse cx="214.2" cy="1424.6" rx="11.6" ry="10.5" fill="url(#rgW)" fill-opacity="0.80" transform="rotate(0.0 214.2 1424.6)"/><ellipse cx="185.1" cy="1446.5" rx="14.5" ry="10.5" fill="url(#rgW)" fill-opacity="0.70" transform="rotate(0.0 185.1 1446.5)"/></mask>
<clipPath id="tc3"><rect x="257.40" y="1398.30" width="97.20" height="87.70"/></clipPath>
<mask id="gm3" maskUnits="userSpaceOnUse" x="257.4" y="1398.3" width="97.2" height="87.7"><rect x="257.40" y="1398.30" width="97.20" height="87.70" fill="#fff" fill-opacity="0.04"/><ellipse cx="330.3" cy="1424.6" rx="8.7" ry="7.9" fill="url(#rgW)" fill-opacity="1.00" transform="rotate(0.0 330.3 1424.6)"/><ellipse cx="286.6" cy="1459.7" rx="19.4" ry="17.5" fill="url(#rgW)" fill-opacity="0.25" transform="rotate(0.0 286.6 1459.7)"/></mask>
<clipPath id="tc4"><rect x="370.80" y="1398.30" width="96.90" height="87.70"/></clipPath>
<mask id="gm4" maskUnits="userSpaceOnUse" x="370.8" y="1398.3" width="96.9" height="87.7"><rect x="370.80" y="1398.30" width="96.90" height="87.70" fill="#fff" fill-opacity="0.04"/><ellipse cx="399.9" cy="1426.4" rx="24.2" ry="9.6" fill="url(#rgW)" fill-opacity="1.00" transform="rotate(20.0 399.9 1426.4)"/><ellipse cx="430.9" cy="1440.4" rx="24.2" ry="6.1" fill="url(#rgW)" fill-opacity="0.80" transform="rotate(20.0 430.9 1440.4)"/><ellipse cx="399.9" cy="1424.6" rx="11.6" ry="7.0" fill="url(#rgW)" fill-opacity="1.00" transform="rotate(0.0 399.9 1424.6)"/></mask>
<clipPath id="tc5"><rect x="472.80" y="1398.30" width="96.90" height="87.70"/></clipPath>
<mask id="gm5" maskUnits="userSpaceOnUse" x="472.8" y="1398.3" width="96.9" height="87.7"><rect x="472.80" y="1398.30" width="96.90" height="87.70" fill="#fff" fill-opacity="0.72"/><ellipse cx="521.2" cy="1442.2" rx="48.5" ry="43.9" fill="url(#rgW)" fill-opacity="1.00" transform="rotate(0.0 521.2 1442.2)"/></mask>
<clipPath id="tc6"><rect x="574.80" y="1398.30" width="97.50" height="87.70"/></clipPath>
<mask id="gm6" maskUnits="userSpaceOnUse" x="574.8" y="1398.3" width="97.5" height="87.7"><rect x="574.80" y="1398.30" width="97.50" height="87.70" fill="#fff" fill-opacity="0.30"/><ellipse cx="628.4" cy="1437.8" rx="40.9" ry="36.8" fill="url(#rgW)" fill-opacity="1.00" transform="rotate(0.0 628.4 1437.8)"/></mask>
<clipPath id="tc7"><rect x="54.00" y="1490.00" width="97.00" height="87.80"/></clipPath>
<mask id="gm7" maskUnits="userSpaceOnUse" x="54.0" y="1490.0" width="97.0" height="87.8"><rect x="54.00" y="1490.00" width="97.00" height="87.80" fill="#fff" fill-opacity="0.04"/><ellipse cx="137.4" cy="1540.9" rx="7.8" ry="10.5" fill="url(#rgW)" fill-opacity="1.00" transform="rotate(0.0 137.4 1540.9)"/><ellipse cx="92.8" cy="1542.7" rx="29.1" ry="26.3" fill="url(#rgW)" fill-opacity="0.20" transform="rotate(0.0 92.8 1542.7)"/></mask>
<clipPath id="tc8"><rect x="156.00" y="1490.00" width="97.00" height="87.80"/></clipPath>
<mask id="gm8" maskUnits="userSpaceOnUse" x="156.0" y="1490.0" width="97.0" height="87.8"><rect x="156.00" y="1490.00" width="97.00" height="87.80" fill="#fff" fill-opacity="0.05"/><ellipse cx="209.3" cy="1542.7" rx="21.3" ry="19.3" fill="url(#rgW)" fill-opacity="0.60" transform="rotate(0.0 209.3 1542.7)"/><ellipse cx="248.1" cy="1494.4" rx="11.6" ry="8.8" fill="url(#rgW)" fill-opacity="0.90" transform="rotate(0.0 248.1 1494.4)"/><ellipse cx="185.1" cy="1520.7" rx="14.5" ry="13.2" fill="url(#rgW)" fill-opacity="0.30" transform="rotate(0.0 185.1 1520.7)"/></mask>
<clipPath id="tc9"><rect x="257.40" y="1490.00" width="97.20" height="87.80"/></clipPath>
<mask id="gm9" maskUnits="userSpaceOnUse" x="257.4" y="1490.0" width="97.2" height="87.8"><rect x="257.40" y="1490.00" width="97.20" height="87.80" fill="#fff" fill-opacity="0.06"/><ellipse cx="301.1" cy="1529.5" rx="29.2" ry="26.3" fill="url(#rgW)" fill-opacity="0.50" transform="rotate(0.0 301.1 1529.5)"/><ellipse cx="301.1" cy="1564.6" rx="34.0" ry="10.5" fill="url(#rgW)" fill-opacity="0.60" transform="rotate(0.0 301.1 1564.6)"/><ellipse cx="349.7" cy="1573.4" rx="7.8" ry="7.0" fill="url(#rgW)" fill-opacity="0.80" transform="rotate(0.0 349.7 1573.4)"/></mask>
<clipPath id="tc10"><rect x="370.80" y="1490.00" width="96.90" height="87.80"/></clipPath>
<mask id="gm10" maskUnits="userSpaceOnUse" x="370.8" y="1490.0" width="96.9" height="87.8"><rect x="370.80" y="1490.00" width="96.90" height="87.80" fill="#fff" fill-opacity="0.12"/><ellipse cx="414.4" cy="1533.9" rx="43.6" ry="8.8" fill="url(#rgW)" fill-opacity="0.80" transform="rotate(35.0 414.4 1533.9)"/><ellipse cx="404.7" cy="1520.7" rx="33.9" ry="7.0" fill="url(#rgW)" fill-opacity="0.60" transform="rotate(35.0 404.7 1520.7)"/><ellipse cx="375.6" cy="1538.3" rx="5.8" ry="7.0" fill="url(#rgW)" fill-opacity="1.00" transform="rotate(0.0 375.6 1538.3)"/></mask>
<clipPath id="tc11"><rect x="472.80" y="1490.00" width="96.90" height="87.80"/></clipPath>
<mask id="gm11" maskUnits="userSpaceOnUse" x="472.8" y="1490.0" width="96.9" height="87.8"><rect x="472.80" y="1490.00" width="96.90" height="87.80" fill="#fff" fill-opacity="0.72"/></mask>
<clipPath id="tc12"><rect x="574.80" y="1490.00" width="97.50" height="87.80"/></clipPath>
<mask id="gm12" maskUnits="userSpaceOnUse" x="574.8" y="1490.0" width="97.5" height="87.8"><rect x="574.80" y="1490.00" width="97.50" height="87.80" fill="#fff" fill-opacity="0.20"/><ellipse cx="641.1" cy="1525.1" rx="29.2" ry="30.7" fill="url(#rgW)" fill-opacity="1.00" transform="rotate(0.0 641.1 1525.1)"/><ellipse cx="623.5" cy="1564.6" rx="21.4" ry="13.2" fill="url(#rgW)" fill-opacity="1.00" transform="rotate(0.0 623.5 1564.6)"/><ellipse cx="662.5" cy="1547.1" rx="11.7" ry="21.9" fill="url(#rgW)" fill-opacity="1.00" transform="rotate(0.0 662.5 1547.1)"/></mask>
<clipPath id="tc13"><rect x="54.00" y="1582.40" width="97.00" height="87.60"/></clipPath>
<mask id="gm13" maskUnits="userSpaceOnUse" x="54.0" y="1582.4" width="97.0" height="87.6"><rect x="54.00" y="1582.40" width="97.00" height="87.60" fill="#fff" fill-opacity="0.04"/><ellipse cx="87.9" cy="1626.2" rx="24.2" ry="17.5" fill="url(#rgW)" fill-opacity="0.40" transform="rotate(0.0 87.9 1626.2)"/><ellipse cx="78.2" cy="1656.9" rx="14.5" ry="8.8" fill="url(#rgW)" fill-opacity="0.30" transform="rotate(0.0 78.2 1656.9)"/></mask>
<clipPath id="tc14"><rect x="156.00" y="1582.40" width="97.00" height="87.60"/></clipPath>
<mask id="gm14" maskUnits="userSpaceOnUse" x="156.0" y="1582.4" width="97.0" height="87.6"><rect x="156.00" y="1582.40" width="97.00" height="87.60" fill="#fff" fill-opacity="0.06"/><ellipse cx="199.7" cy="1608.7" rx="24.2" ry="15.8" fill="url(#rgW)" fill-opacity="0.90" transform="rotate(0.0 199.7 1608.7)"/><ellipse cx="170.6" cy="1635.0" rx="14.5" ry="21.9" fill="url(#rgW)" fill-opacity="0.60" transform="rotate(0.0 170.6 1635.0)"/><ellipse cx="228.8" cy="1652.5" rx="11.6" ry="15.8" fill="url(#rgW)" fill-opacity="0.60" transform="rotate(0.0 228.8 1652.5)"/><ellipse cx="204.5" cy="1661.2" rx="29.1" ry="8.8" fill="url(#rgW)" fill-opacity="0.30" transform="rotate(0.0 204.5 1661.2)"/></mask>
<clipPath id="tc15"><rect x="257.40" y="1582.40" width="97.20" height="87.60"/></clipPath>
<mask id="gm15" maskUnits="userSpaceOnUse" x="257.4" y="1582.4" width="97.2" height="87.6"><rect x="257.40" y="1582.40" width="97.20" height="87.60" fill="#fff" fill-opacity="0.04"/><ellipse cx="301.1" cy="1624.4" rx="21.4" ry="15.8" fill="url(#rgW)" fill-opacity="0.80" transform="rotate(0.0 301.1 1624.4)"/></mask>
<clipPath id="tc16"><rect x="370.80" y="1582.40" width="96.90" height="87.60"/></clipPath>
<mask id="gm16" maskUnits="userSpaceOnUse" x="370.8" y="1582.4" width="96.9" height="87.6"><rect x="370.80" y="1582.40" width="96.90" height="87.60" fill="#fff" fill-opacity="0.04"/><ellipse cx="453.2" cy="1633.2" rx="13.6" ry="7.9" fill="url(#rgW)" fill-opacity="1.00" transform="rotate(0.0 453.2 1633.2)"/><ellipse cx="385.3" cy="1599.9" rx="9.7" ry="7.0" fill="url(#rgW)" fill-opacity="0.70" transform="rotate(0.0 385.3 1599.9)"/><ellipse cx="419.2" cy="1608.7" rx="9.7" ry="7.0" fill="url(#rgW)" fill-opacity="0.40" transform="rotate(0.0 419.2 1608.7)"/></mask>
<clipPath id="tc17"><rect x="472.80" y="1582.40" width="96.90" height="87.60"/></clipPath>
<mask id="gm17" maskUnits="userSpaceOnUse" x="472.8" y="1582.4" width="96.9" height="87.6"><rect x="472.80" y="1582.40" width="96.90" height="87.60" fill="#fff" fill-opacity="0.60"/></mask>
<clipPath id="tc18"><rect x="574.80" y="1582.40" width="97.50" height="87.60"/></clipPath>
<mask id="gm18" maskUnits="userSpaceOnUse" x="574.8" y="1582.4" width="97.5" height="87.6"><rect x="574.80" y="1582.40" width="97.50" height="87.60" fill="#fff" fill-opacity="0.25"/><ellipse cx="615.8" cy="1630.6" rx="34.1" ry="43.8" fill="url(#rgW)" fill-opacity="1.00" transform="rotate(0.0 615.8 1630.6)"/></mask></defs>
<text x="1.45" y="21.95" font-size="29.00" font-weight="bold" textLength="15.32" lengthAdjust="spacingAndGlyphs" fill="#000">a</text>
<text x="102.70" y="25.80" font-size="21.20" textLength="57.41" lengthAdjust="spacingAndGlyphs" fill="#000">H1299</text>
<line x1="70.00" y1="32.50" x2="189.20" y2="32.50" stroke="#000" stroke-width="2.00"/>
<text x="269.31" y="25.80" font-size="21.20" textLength="57.04" lengthAdjust="spacingAndGlyphs" fill="#000">Calu-6</text>
<line x1="237.00" y1="32.40" x2="355.00" y2="32.40" stroke="#000" stroke-width="2.00"/>
<text transform="translate(91.10 139.00) rotate(-90)" x="-0.58" y="0" font-size="19.20" textLength="68.38" lengthAdjust="spacingAndGlyphs" fill="#000">shCON</text>
<text transform="translate(114.40 139.00) rotate(-90)" x="-0.56" y="0" font-size="19.20" textLength="77.94" lengthAdjust="spacingAndGlyphs" fill="#000">shTrx1-1</text>
<text transform="translate(136.10 139.00) rotate(-90)" x="-0.58" y="0" font-size="19.20" textLength="80.92" lengthAdjust="spacingAndGlyphs" fill="#000">shTrx1-2</text>
<text transform="translate(159.40 139.00) rotate(-90)" x="-0.58" y="0" font-size="19.20" textLength="96.31" lengthAdjust="spacingAndGlyphs" fill="#000">shTrxR1-3</text>
<text transform="translate(184.00 139.00) rotate(-90)" x="-0.58" y="0" font-size="19.20" textLength="95.15" lengthAdjust="spacingAndGlyphs" fill="#000">shTrxR1-5</text>
<text transform="translate(258.80 139.00) rotate(-90)" x="-0.59" y="0" font-size="19.20" textLength="68.90" lengthAdjust="spacingAndGlyphs" fill="#000">shCON</text>
<text transform="translate(281.90 139.00) rotate(-90)" x="-0.57" y="0" font-size="19.20" textLength="79.06" lengthAdjust="spacingAndGlyphs" fill="#000">shTrx1-1</text>
<text transform="translate(303.90 139.00) rotate(-90)" x="-0.58" y="0" font-size="19.20" textLength="81.63" lengthAdjust="spacingAndGlyphs" fill="#000">shTrx1-2</text>
<text transform="translate(327.10 139.00) rotate(-90)" x="-0.58" y="0" font-size="19.20" textLength="96.31" lengthAdjust="spacingAndGlyphs" fill="#000">shTrxR1-3</text>
<text transform="translate(351.50 139.00) rotate(-90)" x="-0.58" y="0" font-size="19.20" textLength="95.76" lengthAdjust="spacingAndGlyphs" fill="#000">shTrxR1-5</text>
<rect x="70.50" y="147.00" width="122.50" height="24.50" fill="#e7e7e7" stroke="#1a1a1a" stroke-width="1.20"/>
<rect x="77.00" y="152.35" width="17.00" height="2.50" rx="1.25" fill="#d2d2d2" filter="url(#bblur)"/>
<rect x="99.70" y="152.35" width="17.00" height="2.50" rx="1.25" fill="#d2d2d2" filter="url(#bblur)"/>
<rect x="76.30" y="156.55" width="18.40" height="6.90" rx="3.45" fill="#111" filter="url(#bblur)"/>
<rect x="98.95" y="157.15" width="18.50" height="6.50" rx="3.25" fill="#141414" filter="url(#bblur)"/>
<rect x="122.90" y="157.75" width="16.20" height="4.30" rx="2.15" fill="#1a1a1a" filter="url(#bblur)"/>
<rect x="145.10" y="158.60" width="15.80" height="2.60" rx="1.30" fill="#c4c4c4" filter="url(#bblur)"/>
<rect x="167.30" y="158.40" width="16.80" height="3.00" rx="1.50" fill="url(#fadeH)" filter="url(#bblur)"/>
<rect x="70.50" y="188.00" width="122.00" height="24.40" fill="#e7e7e7" stroke="#1a1a1a" stroke-width="1.20"/>
<rect x="73.80" y="197.00" width="21.00" height="7.00" rx="3.50" fill="#2b2b2b" filter="url(#bblur)"/>
<rect x="143.10" y="197.00" width="20.40" height="7.00" rx="3.50" fill="#2b2b2b" filter="url(#bblur)"/>
<rect x="164.75" y="197.55" width="21.70" height="6.50" rx="3.25" fill="#2b2b2b" filter="url(#bblur)"/>
<rect x="69.50" y="230.10" width="123.80" height="22.50" fill="#cbcbcb" stroke="#1a1a1a" stroke-width="1.20"/>
<rect x="76.35" y="240.40" width="17.70" height="4.00" rx="2.00" fill="#222" filter="url(#bblur)"/>
<rect x="99.65" y="239.95" width="17.50" height="5.10" rx="2.55" fill="#222" filter="url(#bblur)"/>
<rect x="122.20" y="239.95" width="18.00" height="5.10" rx="2.55" fill="#222" filter="url(#bblur)"/>
<rect x="144.70" y="240.85" width="18.00" height="4.30" rx="2.15" fill="#222" filter="url(#bblur)"/>
<rect x="168.20" y="240.00" width="16.80" height="5.00" rx="2.50" fill="#222" filter="url(#bblur)"/>
<rect x="238.30" y="147.10" width="123.50" height="24.40" fill="#e7e7e7" stroke="#1a1a1a" stroke-width="1.20"/>
<rect x="245.70" y="157.50" width="17.00" height="3.80" rx="1.90" fill="#151515" filter="url(#bblur)"/>
<rect x="268.90" y="157.65" width="16.60" height="4.70" rx="2.35" fill="#111" filter="url(#bblur)"/>
<rect x="291.25" y="158.00" width="16.50" height="4.60" rx="2.30" fill="#111" filter="url(#bblur)"/>
<rect x="315.00" y="159.00" width="15.00" height="2.00" rx="1.00" fill="#d6d6d6" filter="url(#bblur)"/>
<rect x="336.60" y="158.75" width="16.00" height="2.50" rx="1.25" fill="url(#fadeH)" filter="url(#bblur)"/>
<rect x="238.30" y="188.00" width="123.50" height="24.40" fill="#e7e7e7" stroke="#1a1a1a" stroke-width="1.20"/>
<rect x="245.50" y="197.30" width="21.00" height="4.80" rx="2.40" fill="#2e2e2e" filter="url(#bblur)"/>
<rect x="271.00" y="199.20" width="14.00" height="1.60" rx="0.80" fill="#d6d6d6" filter="url(#bblur)"/>
<rect x="293.00" y="199.30" width="16.00" height="2.00" rx="1.00" fill="#cdcdcd" filter="url(#bblur)"/>
<rect x="312.00" y="197.50" width="20.00" height="5.20" rx="2.60" fill="#2e2e2e" filter="url(#bblur)"/>
<rect x="333.70" y="198.75" width="20.00" height="4.50" rx="2.25" fill="#2e2e2e" filter="url(#bblur)"/>
<rect x="237.30" y="232.00" width="125.60" height="19.50" fill="#d0d0d0" stroke="#1a1a1a" stroke-width="1.20"/>
<rect x="245.90" y="240.60" width="19.00" height="5.20" rx="2.60" fill="#2a2a2a" filter="url(#bblur)"/>
<rect x="269.15" y="240.60" width="17.90" height="5.20" rx="2.60" fill="#2a2a2a" filter="url(#bblur)"/>
<rect x="292.50" y="240.60" width="18.40" height="5.20" rx="2.60" fill="#2a2a2a" filter="url(#bblur)"/>
<rect x="315.50" y="240.60" width="18.20" height="5.20" rx="2.60" fill="#2a2a2a" filter="url(#bblur)"/>
<rect x="338.50" y="240.60" width="17.40" height="5.20" rx="2.60" fill="#2a2a2a" filter="url(#bblur)"/>
<text x="38.42" y="150.90" font-size="13.30" textLength="29.50" lengthAdjust="spacingAndGlyphs" fill="#000">65kD</text>
<text x="38.62" y="193.80" font-size="13.30" textLength="29.50" lengthAdjust="spacingAndGlyphs" fill="#000">15kD</text>
<text x="37.92" y="252.50" font-size="13.30" textLength="29.50" lengthAdjust="spacingAndGlyphs" fill="#000">45kD</text>
<text x="206.62" y="150.90" font-size="13.30" textLength="29.50" lengthAdjust="spacingAndGlyphs" fill="#000">65kD</text>
<text x="206.62" y="193.80" font-size="13.30" textLength="29.50" lengthAdjust="spacingAndGlyphs" fill="#000">15kD</text>
<text x="206.62" y="252.50" font-size="13.30" textLength="29.50" lengthAdjust="spacingAndGlyphs" fill="#000">45kD</text>
<text x="368.83" y="164.25" font-size="19.70" textLength="45.40" lengthAdjust="spacingAndGlyphs" fill="#000">TrxR1</text>
<text x="368.84" y="205.70" font-size="19.70" textLength="32.27" lengthAdjust="spacingAndGlyphs" fill="#000">Trx1</text>
<text x="370.27" y="246.30" font-size="19.70" textLength="55.79" lengthAdjust="spacingAndGlyphs" fill="#000">β-Actin</text>
<text x="438.18" y="21.70" font-size="29.00" font-weight="bold" textLength="16.83" lengthAdjust="spacingAndGlyphs" fill="#000">b</text>
<text x="572.16" y="24.00" font-size="21.60" textLength="56.99" lengthAdjust="spacingAndGlyphs" fill="#000">H1299</text>
<text x="890.92" y="24.00" font-size="21.60" textLength="56.73" lengthAdjust="spacingAndGlyphs" fill="#000">Calu-6</text>
<line x1="517.00" y1="31.00" x2="517.00" y2="236.80" stroke="#000" stroke-width="1.80"/>
<line x1="516.00" y1="235.80" x2="706.00" y2="235.80" stroke="#000" stroke-width="1.80"/>
<line x1="512.50" y1="50.00" x2="517.00" y2="50.00" stroke="#000" stroke-width="1.80"/>
<text x="483.94" y="57.00" font-size="21.30" textLength="27.54" lengthAdjust="spacingAndGlyphs" fill="#000">1.0</text>
<line x1="512.50" y1="142.90" x2="517.00" y2="142.90" stroke="#000" stroke-width="1.80"/>
<text x="484.00" y="149.90" font-size="21.30" textLength="27.54" lengthAdjust="spacingAndGlyphs" fill="#000">0.5</text>
<line x1="512.50" y1="235.80" x2="517.00" y2="235.80" stroke="#000" stroke-width="1.80"/>
<text x="483.94" y="242.80" font-size="21.30" textLength="27.54" lengthAdjust="spacingAndGlyphs" fill="#000">0.0</text>
<line x1="528.30" y1="235.80" x2="528.30" y2="240.80" stroke="#000" stroke-width="1.80"/>
<text x="519.55" y="261.80" font-size="21.30" textLength="17.61" lengthAdjust="spacingAndGlyphs" fill="#000">-2</text>
<line x1="583.87" y1="235.80" x2="583.87" y2="240.80" stroke="#000" stroke-width="1.80"/>
<text x="575.11" y="261.80" font-size="21.30" textLength="17.61" lengthAdjust="spacingAndGlyphs" fill="#000">-1</text>
<line x1="639.44" y1="235.80" x2="639.44" y2="240.80" stroke="#000" stroke-width="1.80"/>
<text x="633.93" y="261.80" font-size="21.30" textLength="11.02" lengthAdjust="spacingAndGlyphs" fill="#000">0</text>
<line x1="695.01" y1="235.80" x2="695.01" y2="240.80" stroke="#000" stroke-width="1.80"/>
<text x="689.24" y="261.80" font-size="21.30" textLength="11.02" lengthAdjust="spacingAndGlyphs" fill="#000">1</text>
<polyline points="528.30,50.00 530.80,53.59 533.30,57.16 535.80,60.72 538.30,64.26 540.80,67.81 543.30,71.37 545.80,74.94 548.31,78.53 550.81,82.15 553.31,85.82 555.81,89.53 558.31,93.29 559.74,95.49 561.18,97.71 562.61,99.96 564.05,102.23 565.49,104.51 566.92,106.81 568.36,109.12 569.79,111.42 571.23,113.73 572.66,116.03 574.10,118.33 575.53,120.60 577.16,123.20 578.78,125.85 580.40,128.53 582.02,131.23 583.64,133.93 585.26,136.62 586.88,139.26 588.50,141.84 590.12,144.36 591.74,146.78 593.36,149.08 594.98,151.26 596.37,153.04 597.76,154.75 599.15,156.41 600.54,158.02 601.93,159.59 603.32,161.13 604.71,162.63 606.10,164.10 607.49,165.55 608.88,166.99 610.27,168.42 611.65,169.84 613.04,171.25 614.43,172.63 615.82,173.99 617.21,175.33 618.60,176.65 619.99,177.96 621.38,179.25 622.77,180.54 624.16,181.81 625.55,183.09 626.94,184.36 628.33,185.63 629.72,186.93 631.10,188.24 632.49,189.57 633.88,190.91 635.27,192.24 636.66,193.55 638.05,194.84 639.44,196.08 640.83,197.29 642.22,198.43 643.61,199.50 645.00,200.50 646.39,201.44 647.78,202.35 649.16,203.23 650.55,204.08 651.94,204.91 653.33,205.70 654.72,206.46 656.11,207.19 657.50,207.89 658.89,208.56 660.28,209.19 661.67,209.79 663.06,210.36 664.45,210.92 665.84,211.46 667.22,211.99 668.61,212.50 670.00,212.98 671.39,213.44 672.78,213.88 674.17,214.30 675.56,214.68 676.95,215.04 678.34,215.36 679.73,215.66 681.12,215.93 682.51,216.19 683.90,216.43 685.29,216.65 686.67,216.87 688.06,217.08 689.45,217.29 690.84,217.50 692.23,217.71 693.62,217.92 695.01,218.15" fill="none" stroke="#ff1f8c" stroke-width="1.90" stroke-linejoin="round"/>
<line x1="528.30" y1="44.43" x2="528.30" y2="55.57" stroke="#ff1f8c" stroke-width="1.30"/>
<line x1="525.80" y1="44.43" x2="530.80" y2="44.43" stroke="#ff1f8c" stroke-width="1.30"/>
<line x1="525.80" y1="55.57" x2="530.80" y2="55.57" stroke="#ff1f8c" stroke-width="1.30"/>
<circle cx="528.30" cy="50.00" r="2.00" fill="#ff1f8c"/>
<line x1="594.98" y1="142.90" x2="594.98" y2="157.76" stroke="#ff1f8c" stroke-width="1.30"/>
<line x1="592.48" y1="142.90" x2="597.48" y2="142.90" stroke="#ff1f8c" stroke-width="1.30"/>
<line x1="592.48" y1="157.76" x2="597.48" y2="157.76" stroke="#ff1f8c" stroke-width="1.30"/>
<circle cx="594.98" cy="150.33" r="2.00" fill="#ff1f8c"/>
<line x1="611.65" y1="172.63" x2="611.65" y2="183.78" stroke="#ff1f8c" stroke-width="1.30"/>
<line x1="609.15" y1="172.63" x2="614.15" y2="172.63" stroke="#ff1f8c" stroke-width="1.30"/>
<line x1="609.15" y1="183.78" x2="614.15" y2="183.78" stroke="#ff1f8c" stroke-width="1.30"/>
<circle cx="611.65" cy="178.20" r="2.00" fill="#ff1f8c"/>
<line x1="628.33" y1="183.78" x2="628.33" y2="191.21" stroke="#ff1f8c" stroke-width="1.30"/>
<line x1="625.83" y1="183.78" x2="630.83" y2="183.78" stroke="#ff1f8c" stroke-width="1.30"/>
<line x1="625.83" y1="191.21" x2="630.83" y2="191.21" stroke="#ff1f8c" stroke-width="1.30"/>
<circle cx="628.33" cy="187.49" r="2.00" fill="#ff1f8c"/>
<line x1="645.00" y1="198.64" x2="645.00" y2="206.07" stroke="#ff1f8c" stroke-width="1.30"/>
<line x1="642.50" y1="198.64" x2="647.50" y2="198.64" stroke="#ff1f8c" stroke-width="1.30"/>
<line x1="642.50" y1="206.07" x2="647.50" y2="206.07" stroke="#ff1f8c" stroke-width="1.30"/>
<circle cx="645.00" cy="202.36" r="2.00" fill="#ff1f8c"/>
<line x1="661.67" y1="209.79" x2="661.67" y2="213.50" stroke="#ff1f8c" stroke-width="1.30"/>
<line x1="659.17" y1="209.79" x2="664.17" y2="209.79" stroke="#ff1f8c" stroke-width="1.30"/>
<line x1="659.17" y1="213.50" x2="664.17" y2="213.50" stroke="#ff1f8c" stroke-width="1.30"/>
<circle cx="661.67" cy="211.65" r="2.00" fill="#ff1f8c"/>
<line x1="678.34" y1="213.50" x2="678.34" y2="217.22" stroke="#ff1f8c" stroke-width="1.30"/>
<line x1="675.84" y1="213.50" x2="680.84" y2="213.50" stroke="#ff1f8c" stroke-width="1.30"/>
<line x1="675.84" y1="217.22" x2="680.84" y2="217.22" stroke="#ff1f8c" stroke-width="1.30"/>
<circle cx="678.34" cy="215.36" r="2.00" fill="#ff1f8c"/>
<line x1="695.01" y1="215.36" x2="695.01" y2="219.08" stroke="#ff1f8c" stroke-width="1.30"/>
<line x1="692.51" y1="215.36" x2="697.51" y2="215.36" stroke="#ff1f8c" stroke-width="1.30"/>
<line x1="692.51" y1="219.08" x2="697.51" y2="219.08" stroke="#ff1f8c" stroke-width="1.30"/>
<circle cx="695.01" cy="217.22" r="2.00" fill="#ff1f8c"/>
<polyline points="528.30,50.00 530.80,53.45 533.30,56.87 535.80,60.27 538.30,63.66 540.80,67.05 543.30,70.45 545.80,73.87 548.31,77.32 550.81,80.81 553.31,84.35 555.81,87.95 558.31,91.62 559.74,93.77 561.18,95.96 562.61,98.18 564.05,100.43 565.49,102.70 566.92,104.98 568.36,107.28 569.79,109.59 571.23,111.89 572.66,114.19 574.10,116.47 575.53,118.75 577.16,121.33 578.78,123.98 580.40,126.66 582.02,129.36 583.64,132.06 585.26,134.74 586.88,137.39 588.50,139.98 590.12,142.49 591.74,144.91 593.36,147.22 594.98,149.40 596.37,151.17 597.76,152.88 599.15,154.53 600.54,156.13 601.93,157.68 603.32,159.20 604.71,160.69 606.10,162.16 607.49,163.62 608.88,165.07 610.27,166.52 611.65,167.98 613.04,169.44 614.43,170.89 615.82,172.33 617.21,173.76 618.60,175.17 619.99,176.58 621.38,177.97 622.77,179.34 624.16,180.70 625.55,182.05 626.94,183.39 628.33,184.71 629.72,186.02 631.10,187.35 632.49,188.67 633.88,189.99 635.27,191.30 636.66,192.59 638.05,193.85 639.44,195.09 640.83,196.28 642.22,197.43 643.61,198.53 645.00,199.57 646.39,200.57 647.78,201.54 649.16,202.50 650.55,203.42 651.94,204.33 653.33,205.20 654.72,206.04 656.11,206.86 657.50,207.64 658.89,208.39 660.28,209.11 661.67,209.79 663.06,210.44 664.45,211.06 665.84,211.67 667.22,212.25 668.61,212.81 670.00,213.36 671.39,213.88 672.78,214.39 674.17,214.89 675.56,215.37 676.95,215.83 678.34,216.29 679.73,216.73 681.12,217.15 682.51,217.56 683.90,217.95 685.29,218.34 686.67,218.71 688.06,219.08 689.45,219.45 690.84,219.81 692.23,220.18 693.62,220.55 695.01,220.94" fill="none" stroke="#0000ff" stroke-width="1.90" stroke-linejoin="round"/>
<line x1="528.30" y1="33.28" x2="528.30" y2="66.72" stroke="#0000ff" stroke-width="1.30"/>
<line x1="525.80" y1="33.28" x2="530.80" y2="33.28" stroke="#0000ff" stroke-width="1.30"/>
<line x1="525.80" y1="66.72" x2="530.80" y2="66.72" stroke="#0000ff" stroke-width="1.30"/>
<circle cx="528.30" cy="50.00" r="2.00" fill="#0000ff"/>
<line x1="594.98" y1="141.97" x2="594.98" y2="162.41" stroke="#0000ff" stroke-width="1.30"/>
<line x1="592.48" y1="141.97" x2="597.48" y2="141.97" stroke="#0000ff" stroke-width="1.30"/>
<line x1="592.48" y1="162.41" x2="597.48" y2="162.41" stroke="#0000ff" stroke-width="1.30"/>
<circle cx="594.98" cy="152.19" r="2.00" fill="#0000ff"/>
<line x1="611.65" y1="148.47" x2="611.65" y2="167.05" stroke="#0000ff" stroke-width="1.30"/>
<line x1="609.15" y1="148.47" x2="614.15" y2="148.47" stroke="#0000ff" stroke-width="1.30"/>
<line x1="609.15" y1="167.05" x2="614.15" y2="167.05" stroke="#0000ff" stroke-width="1.30"/>
<circle cx="611.65" cy="157.76" r="2.00" fill="#0000ff"/>
<line x1="628.33" y1="180.06" x2="628.33" y2="191.21" stroke="#0000ff" stroke-width="1.30"/>
<line x1="625.83" y1="180.06" x2="630.83" y2="180.06" stroke="#0000ff" stroke-width="1.30"/>
<line x1="625.83" y1="191.21" x2="630.83" y2="191.21" stroke="#0000ff" stroke-width="1.30"/>
<circle cx="628.33" cy="185.63" r="2.00" fill="#0000ff"/>
<line x1="645.00" y1="198.64" x2="645.00" y2="206.07" stroke="#0000ff" stroke-width="1.30"/>
<line x1="642.50" y1="198.64" x2="647.50" y2="198.64" stroke="#0000ff" stroke-width="1.30"/>
<line x1="642.50" y1="206.07" x2="647.50" y2="206.07" stroke="#0000ff" stroke-width="1.30"/>
<circle cx="645.00" cy="202.36" r="2.00" fill="#0000ff"/>
<line x1="661.67" y1="207.00" x2="661.67" y2="216.29" stroke="#0000ff" stroke-width="1.30"/>
<line x1="659.17" y1="207.00" x2="664.17" y2="207.00" stroke="#0000ff" stroke-width="1.30"/>
<line x1="659.17" y1="216.29" x2="664.17" y2="216.29" stroke="#0000ff" stroke-width="1.30"/>
<circle cx="661.67" cy="211.65" r="2.00" fill="#0000ff"/>
<line x1="678.34" y1="213.50" x2="678.34" y2="217.22" stroke="#0000ff" stroke-width="1.30"/>
<line x1="675.84" y1="213.50" x2="680.84" y2="213.50" stroke="#0000ff" stroke-width="1.30"/>
<line x1="675.84" y1="217.22" x2="680.84" y2="217.22" stroke="#0000ff" stroke-width="1.30"/>
<circle cx="678.34" cy="215.36" r="2.00" fill="#0000ff"/>
<line x1="695.01" y1="217.22" x2="695.01" y2="220.94" stroke="#0000ff" stroke-width="1.30"/>
<line x1="692.51" y1="217.22" x2="697.51" y2="217.22" stroke="#0000ff" stroke-width="1.30"/>
<line x1="692.51" y1="220.94" x2="697.51" y2="220.94" stroke="#0000ff" stroke-width="1.30"/>
<circle cx="695.01" cy="219.08" r="2.00" fill="#0000ff"/>
<polyline points="528.30,50.00 530.80,53.16 533.30,56.26 535.80,59.33 538.30,62.39 540.80,65.44 543.30,68.51 545.80,71.62 548.31,74.78 550.81,78.00 553.31,81.32 555.81,84.74 558.31,88.27 559.74,90.39 561.18,92.57 562.61,94.82 564.05,97.12 565.49,99.46 566.92,101.83 568.36,104.23 569.79,106.63 571.23,109.04 572.66,111.43 574.10,113.81 575.53,116.14 577.16,118.80 578.78,121.50 580.40,124.24 582.02,127.00 583.64,129.75 585.26,132.49 586.88,135.19 588.50,137.84 590.12,140.42 591.74,142.90 593.36,145.29 594.98,147.55 596.37,149.39 597.76,151.17 599.15,152.89 600.54,154.57 601.93,156.20 603.32,157.80 604.71,159.37 606.10,160.92 607.49,162.46 608.88,163.99 610.27,165.52 611.65,167.05 613.04,168.59 614.43,170.12 615.82,171.64 617.21,173.14 618.60,174.63 619.99,176.11 621.38,177.58 622.77,179.03 624.16,180.47 625.55,181.90 626.94,183.31 628.33,184.71 629.72,186.11 631.10,187.53 632.49,188.97 633.88,190.40 635.27,191.82 636.66,193.22 638.05,194.59 639.44,195.91 640.83,197.17 642.22,198.36 643.61,199.47 645.00,200.50 646.39,201.46 647.78,202.38 649.16,203.27 650.55,204.12 651.94,204.95 653.33,205.73 654.72,206.49 656.11,207.21 657.50,207.91 658.89,208.56 660.28,209.19 661.67,209.79 663.06,210.37 664.45,210.94 665.84,211.51 667.22,212.06 668.61,212.59 670.00,213.10 671.39,213.58 672.78,214.02 674.17,214.43 675.56,214.79 676.95,215.10 678.34,215.36 679.73,215.58 681.12,215.78 682.51,215.96 683.90,216.12 685.29,216.27 686.67,216.41 688.06,216.54 689.45,216.67 690.84,216.80 692.23,216.93 693.62,217.07 695.01,217.22" fill="none" stroke="#00ee00" stroke-width="1.90" stroke-linejoin="round"/>
<line x1="528.30" y1="44.43" x2="528.30" y2="55.57" stroke="#00ee00" stroke-width="1.30"/>
<line x1="525.80" y1="44.43" x2="530.80" y2="44.43" stroke="#00ee00" stroke-width="1.30"/>
<line x1="525.80" y1="55.57" x2="530.80" y2="55.57" stroke="#00ee00" stroke-width="1.30"/>
<circle cx="528.30" cy="50.00" r="2.00" fill="#00ee00"/>
<line x1="594.98" y1="139.18" x2="594.98" y2="150.33" stroke="#00ee00" stroke-width="1.30"/>
<line x1="592.48" y1="139.18" x2="597.48" y2="139.18" stroke="#00ee00" stroke-width="1.30"/>
<line x1="592.48" y1="150.33" x2="597.48" y2="150.33" stroke="#00ee00" stroke-width="1.30"/>
<circle cx="594.98" cy="144.76" r="2.00" fill="#00ee00"/>
<line x1="611.65" y1="155.91" x2="611.65" y2="174.49" stroke="#00ee00" stroke-width="1.30"/>
<line x1="609.15" y1="155.91" x2="614.15" y2="155.91" stroke="#00ee00" stroke-width="1.30"/>
<line x1="609.15" y1="174.49" x2="614.15" y2="174.49" stroke="#00ee00" stroke-width="1.30"/>
<circle cx="611.65" cy="165.20" r="2.00" fill="#00ee00"/>
<line x1="628.33" y1="174.49" x2="628.33" y2="193.07" stroke="#00ee00" stroke-width="1.30"/>
<line x1="625.83" y1="174.49" x2="630.83" y2="174.49" stroke="#00ee00" stroke-width="1.30"/>
<line x1="625.83" y1="193.07" x2="630.83" y2="193.07" stroke="#00ee00" stroke-width="1.30"/>
<circle cx="628.33" cy="183.78" r="2.00" fill="#00ee00"/>
<line x1="645.00" y1="200.50" x2="645.00" y2="207.93" stroke="#00ee00" stroke-width="1.30"/>
<line x1="642.50" y1="200.50" x2="647.50" y2="200.50" stroke="#00ee00" stroke-width="1.30"/>
<line x1="642.50" y1="207.93" x2="647.50" y2="207.93" stroke="#00ee00" stroke-width="1.30"/>
<circle cx="645.00" cy="204.21" r="2.00" fill="#00ee00"/>
<line x1="661.67" y1="209.79" x2="661.67" y2="217.22" stroke="#00ee00" stroke-width="1.30"/>
<line x1="659.17" y1="209.79" x2="664.17" y2="209.79" stroke="#00ee00" stroke-width="1.30"/>
<line x1="659.17" y1="217.22" x2="664.17" y2="217.22" stroke="#00ee00" stroke-width="1.30"/>
<circle cx="661.67" cy="213.50" r="2.00" fill="#00ee00"/>
<line x1="678.34" y1="213.50" x2="678.34" y2="217.22" stroke="#00ee00" stroke-width="1.30"/>
<line x1="675.84" y1="213.50" x2="680.84" y2="213.50" stroke="#00ee00" stroke-width="1.30"/>
<line x1="675.84" y1="217.22" x2="680.84" y2="217.22" stroke="#00ee00" stroke-width="1.30"/>
<circle cx="678.34" cy="215.36" r="2.00" fill="#00ee00"/>
<line x1="695.01" y1="215.36" x2="695.01" y2="219.08" stroke="#00ee00" stroke-width="1.30"/>
<line x1="692.51" y1="215.36" x2="697.51" y2="215.36" stroke="#00ee00" stroke-width="1.30"/>
<line x1="692.51" y1="219.08" x2="697.51" y2="219.08" stroke="#00ee00" stroke-width="1.30"/>
<circle cx="695.01" cy="217.22" r="2.00" fill="#00ee00"/>
<polyline points="528.30,50.00 530.80,51.82 533.30,53.57 535.80,55.26 538.30,56.93 540.80,58.59 543.30,60.28 545.80,62.03 548.31,63.85 550.81,65.79 553.31,67.85 555.81,70.07 558.31,72.48 559.74,73.99 561.18,75.63 562.61,77.39 564.05,79.26 565.49,81.22 566.92,83.27 568.36,85.39 569.79,87.57 571.23,89.79 572.66,92.05 574.10,94.34 575.53,96.64 577.16,99.30 578.78,102.09 580.40,104.99 582.02,107.98 583.64,111.05 585.26,114.17 586.88,117.34 588.50,120.54 590.12,123.74 591.74,126.93 593.36,130.11 594.98,133.24 596.37,135.93 597.76,138.68 599.15,141.46 600.54,144.27 601.93,147.08 603.32,149.89 604.71,152.68 606.10,155.43 607.49,158.12 608.88,160.75 610.27,163.30 611.65,165.75 613.04,168.17 614.43,170.61 615.82,173.04 617.21,175.46 618.60,177.83 619.99,180.14 621.38,182.37 622.77,184.50 624.16,186.51 625.55,188.37 626.94,190.07 628.33,191.58 629.72,192.95 631.10,194.23 632.49,195.44 633.88,196.59 635.27,197.67 636.66,198.69 638.05,199.68 639.44,200.63 640.83,201.55 642.22,202.45 643.61,203.33 645.00,204.21 646.39,205.10 647.78,205.99 649.16,206.87 650.55,207.74 651.94,208.59 653.33,209.41 654.72,210.19 656.11,210.93 657.50,211.62 658.89,212.26 660.28,212.82 661.67,213.32 663.06,213.77 664.45,214.20 665.84,214.61 667.22,215.01 668.61,215.38 670.00,215.74 671.39,216.06 672.78,216.36 674.17,216.62 675.56,216.86 676.95,217.06 678.34,217.22 679.73,217.36 681.12,217.48 682.51,217.59 683.90,217.68 685.29,217.77 686.67,217.85 688.06,217.93 689.45,218.01 690.84,218.09 692.23,218.16 693.62,218.25 695.01,218.33" fill="none" stroke="#ff0000" stroke-width="1.90" stroke-linejoin="round"/>
<line x1="528.30" y1="44.43" x2="528.30" y2="55.57" stroke="#ff0000" stroke-width="1.30"/>
<line x1="525.80" y1="44.43" x2="530.80" y2="44.43" stroke="#ff0000" stroke-width="1.30"/>
<line x1="525.80" y1="55.57" x2="530.80" y2="55.57" stroke="#ff0000" stroke-width="1.30"/>
<circle cx="528.30" cy="50.00" r="2.00" fill="#ff0000"/>
<line x1="594.98" y1="127.11" x2="594.98" y2="140.11" stroke="#ff0000" stroke-width="1.30"/>
<line x1="592.48" y1="127.11" x2="597.48" y2="127.11" stroke="#ff0000" stroke-width="1.30"/>
<line x1="592.48" y1="140.11" x2="597.48" y2="140.11" stroke="#ff0000" stroke-width="1.30"/>
<circle cx="594.98" cy="133.61" r="2.00" fill="#ff0000"/>
<line x1="611.65" y1="155.91" x2="611.65" y2="174.49" stroke="#ff0000" stroke-width="1.30"/>
<line x1="609.15" y1="155.91" x2="614.15" y2="155.91" stroke="#ff0000" stroke-width="1.30"/>
<line x1="609.15" y1="174.49" x2="614.15" y2="174.49" stroke="#ff0000" stroke-width="1.30"/>
<circle cx="611.65" cy="165.20" r="2.00" fill="#ff0000"/>
<line x1="628.33" y1="187.49" x2="628.33" y2="198.64" stroke="#ff0000" stroke-width="1.30"/>
<line x1="625.83" y1="187.49" x2="630.83" y2="187.49" stroke="#ff0000" stroke-width="1.30"/>
<line x1="625.83" y1="198.64" x2="630.83" y2="198.64" stroke="#ff0000" stroke-width="1.30"/>
<circle cx="628.33" cy="193.07" r="2.00" fill="#ff0000"/>
<line x1="645.00" y1="202.36" x2="645.00" y2="206.07" stroke="#ff0000" stroke-width="1.30"/>
<line x1="642.50" y1="202.36" x2="647.50" y2="202.36" stroke="#ff0000" stroke-width="1.30"/>
<line x1="642.50" y1="206.07" x2="647.50" y2="206.07" stroke="#ff0000" stroke-width="1.30"/>
<circle cx="645.00" cy="204.21" r="2.00" fill="#ff0000"/>
<line x1="661.67" y1="211.65" x2="661.67" y2="215.36" stroke="#ff0000" stroke-width="1.30"/>
<line x1="659.17" y1="211.65" x2="664.17" y2="211.65" stroke="#ff0000" stroke-width="1.30"/>
<line x1="659.17" y1="215.36" x2="664.17" y2="215.36" stroke="#ff0000" stroke-width="1.30"/>
<circle cx="661.67" cy="213.50" r="2.00" fill="#ff0000"/>
<line x1="678.34" y1="215.36" x2="678.34" y2="219.08" stroke="#ff0000" stroke-width="1.30"/>
<line x1="675.84" y1="215.36" x2="680.84" y2="215.36" stroke="#ff0000" stroke-width="1.30"/>
<line x1="675.84" y1="219.08" x2="680.84" y2="219.08" stroke="#ff0000" stroke-width="1.30"/>
<circle cx="678.34" cy="217.22" r="2.00" fill="#ff0000"/>
<line x1="695.01" y1="215.36" x2="695.01" y2="219.08" stroke="#ff0000" stroke-width="1.30"/>
<line x1="692.51" y1="215.36" x2="697.51" y2="215.36" stroke="#ff0000" stroke-width="1.30"/>
<line x1="692.51" y1="219.08" x2="697.51" y2="219.08" stroke="#ff0000" stroke-width="1.30"/>
<circle cx="695.01" cy="217.22" r="2.00" fill="#ff0000"/>
<polyline points="528.30,50.00 530.80,50.10 533.30,50.19 535.80,50.27 538.30,50.35 540.80,50.43 543.30,50.51 545.80,50.60 548.31,50.70 550.81,50.81 553.31,50.95 555.81,51.11 558.31,51.30 559.74,51.46 561.18,51.69 562.61,52.00 564.05,52.36 565.49,52.78 566.92,53.25 568.36,53.76 569.79,54.31 571.23,54.88 572.66,55.47 574.10,56.08 575.53,56.69 577.16,57.42 578.78,58.22 580.40,59.09 582.02,60.04 583.64,61.06 585.26,62.14 586.88,63.30 588.50,64.52 590.12,65.81 591.74,67.16 593.36,68.58 594.98,70.07 596.37,71.43 597.76,72.92 599.15,74.52 600.54,76.25 601.93,78.09 603.32,80.03 604.71,82.07 606.10,84.22 607.49,86.45 608.88,88.77 610.27,91.18 611.65,93.66 613.04,96.38 614.43,99.45 615.82,102.82 617.21,106.41 618.60,110.16 619.99,114.02 621.38,117.92 622.77,121.80 624.16,125.59 625.55,129.24 626.94,132.67 628.33,135.84 629.72,138.80 631.10,141.68 632.49,144.48 633.88,147.21 635.27,149.88 636.66,152.49 638.05,155.05 639.44,157.57 640.83,160.06 642.22,162.53 643.61,164.98 645.00,167.43 646.39,169.90 647.78,172.41 649.16,174.94 650.55,177.47 651.94,179.97 653.33,182.42 654.72,184.79 656.11,187.07 657.50,189.23 658.89,191.24 660.28,193.08 661.67,194.74 663.06,196.28 664.45,197.80 665.84,199.29 667.22,200.72 668.61,202.09 670.00,203.39 671.39,204.60 672.78,205.71 674.17,206.70 675.56,207.56 676.95,208.29 678.34,208.86 679.73,209.32 681.12,209.73 682.51,210.09 683.90,210.42 685.29,210.71 686.67,210.99 688.06,211.25 689.45,211.50 690.84,211.75 692.23,212.01 693.62,212.28 695.01,212.58" fill="none" stroke="#000000" stroke-width="1.90" stroke-linejoin="round"/>
<line x1="528.30" y1="41.64" x2="528.30" y2="58.36" stroke="#000000" stroke-width="1.30"/>
<line x1="525.80" y1="41.64" x2="530.80" y2="41.64" stroke="#000000" stroke-width="1.30"/>
<line x1="525.80" y1="58.36" x2="530.80" y2="58.36" stroke="#000000" stroke-width="1.30"/>
<circle cx="528.30" cy="50.00" r="2.00" fill="#000000"/>
<line x1="594.98" y1="64.86" x2="594.98" y2="76.01" stroke="#000000" stroke-width="1.30"/>
<line x1="592.48" y1="64.86" x2="597.48" y2="64.86" stroke="#000000" stroke-width="1.30"/>
<line x1="592.48" y1="76.01" x2="597.48" y2="76.01" stroke="#000000" stroke-width="1.30"/>
<circle cx="594.98" cy="70.44" r="2.00" fill="#000000"/>
<line x1="611.65" y1="86.23" x2="611.65" y2="102.95" stroke="#000000" stroke-width="1.30"/>
<line x1="609.15" y1="86.23" x2="614.15" y2="86.23" stroke="#000000" stroke-width="1.30"/>
<line x1="609.15" y1="102.95" x2="614.15" y2="102.95" stroke="#000000" stroke-width="1.30"/>
<circle cx="611.65" cy="94.59" r="2.00" fill="#000000"/>
<line x1="628.33" y1="131.75" x2="628.33" y2="142.90" stroke="#000000" stroke-width="1.30"/>
<line x1="625.83" y1="131.75" x2="630.83" y2="131.75" stroke="#000000" stroke-width="1.30"/>
<line x1="625.83" y1="142.90" x2="630.83" y2="142.90" stroke="#000000" stroke-width="1.30"/>
<circle cx="628.33" cy="137.33" r="2.00" fill="#000000"/>
<line x1="645.00" y1="165.20" x2="645.00" y2="172.63" stroke="#000000" stroke-width="1.30"/>
<line x1="642.50" y1="165.20" x2="647.50" y2="165.20" stroke="#000000" stroke-width="1.30"/>
<line x1="642.50" y1="172.63" x2="647.50" y2="172.63" stroke="#000000" stroke-width="1.30"/>
<circle cx="645.00" cy="168.91" r="2.00" fill="#000000"/>
<line x1="661.67" y1="188.42" x2="661.67" y2="201.43" stroke="#000000" stroke-width="1.30"/>
<line x1="659.17" y1="188.42" x2="664.17" y2="188.42" stroke="#000000" stroke-width="1.30"/>
<line x1="659.17" y1="201.43" x2="664.17" y2="201.43" stroke="#000000" stroke-width="1.30"/>
<circle cx="661.67" cy="194.92" r="2.00" fill="#000000"/>
<line x1="678.34" y1="210.72" x2="678.34" y2="212.58" stroke="#000000" stroke-width="1.30"/>
<line x1="675.84" y1="210.72" x2="680.84" y2="210.72" stroke="#000000" stroke-width="1.30"/>
<line x1="675.84" y1="212.58" x2="680.84" y2="212.58" stroke="#000000" stroke-width="1.30"/>
<circle cx="678.34" cy="211.65" r="2.00" fill="#000000"/>
<line x1="695.01" y1="210.72" x2="695.01" y2="212.58" stroke="#000000" stroke-width="1.30"/>
<line x1="692.51" y1="210.72" x2="697.51" y2="210.72" stroke="#000000" stroke-width="1.30"/>
<line x1="692.51" y1="212.58" x2="697.51" y2="212.58" stroke="#000000" stroke-width="1.30"/>
<circle cx="695.01" cy="211.65" r="2.00" fill="#000000"/>
<polyline points="594.98,150.33 611.65,178.20 619.99,181.92 628.33,187.49" fill="none" stroke="#ff1f8c" stroke-width="1.60" stroke-linejoin="round"/>
<text transform="translate(473.40 204.60) rotate(-90)" x="-1.70" y="0" font-size="20.80" textLength="150.59" lengthAdjust="spacingAndGlyphs" fill="#000">Relative survival</text>
<text x="552.62" y="291.70" font-size="20.50" textLength="118.64" lengthAdjust="spacingAndGlyphs" fill="#000">CHK1i log [M]</text>
<line x1="821.30" y1="30.50" x2="821.30" y2="236.80" stroke="#000" stroke-width="1.80"/>
<line x1="820.30" y1="235.80" x2="1011.00" y2="235.80" stroke="#000" stroke-width="1.80"/>
<line x1="816.80" y1="49.70" x2="821.30" y2="49.70" stroke="#000" stroke-width="1.80"/>
<text x="788.24" y="56.70" font-size="21.30" textLength="27.54" lengthAdjust="spacingAndGlyphs" fill="#000">1.0</text>
<line x1="816.80" y1="142.75" x2="821.30" y2="142.75" stroke="#000" stroke-width="1.80"/>
<text x="788.30" y="149.75" font-size="21.30" textLength="27.54" lengthAdjust="spacingAndGlyphs" fill="#000">0.5</text>
<line x1="816.80" y1="235.80" x2="821.30" y2="235.80" stroke="#000" stroke-width="1.80"/>
<text x="788.24" y="242.80" font-size="21.30" textLength="27.54" lengthAdjust="spacingAndGlyphs" fill="#000">0.0</text>
<line x1="832.50" y1="235.80" x2="832.50" y2="240.80" stroke="#000" stroke-width="1.80"/>
<text x="823.75" y="261.80" font-size="21.30" textLength="17.61" lengthAdjust="spacingAndGlyphs" fill="#000">-2</text>
<line x1="888.33" y1="235.80" x2="888.33" y2="240.80" stroke="#000" stroke-width="1.80"/>
<text x="879.57" y="261.80" font-size="21.30" textLength="17.61" lengthAdjust="spacingAndGlyphs" fill="#000">-1</text>
<line x1="944.16" y1="235.80" x2="944.16" y2="240.80" stroke="#000" stroke-width="1.80"/>
<text x="938.65" y="261.80" font-size="21.30" textLength="11.02" lengthAdjust="spacingAndGlyphs" fill="#000">0</text>
<line x1="999.99" y1="235.80" x2="999.99" y2="240.80" stroke="#000" stroke-width="1.80"/>
<text x="994.22" y="261.80" font-size="21.30" textLength="11.02" lengthAdjust="spacingAndGlyphs" fill="#000">1</text>
<polyline points="832.50,49.70 834.83,52.04 837.15,54.37 839.48,56.69 841.80,59.01 844.13,61.34 846.46,63.66 848.78,65.99 851.11,68.33 853.44,70.67 855.76,73.03 858.09,75.41 860.41,77.80 862.74,80.19 865.07,82.55 867.39,84.91 869.72,87.26 872.05,89.62 874.37,92.01 876.70,94.43 879.02,96.89 881.35,99.41 883.68,101.99 886.00,104.65 888.33,107.39 889.26,108.54 890.19,109.74 891.12,110.97 892.05,112.24 892.98,113.53 893.91,114.84 894.84,116.14 895.77,117.43 896.70,118.70 897.63,119.94 898.57,121.13 899.50,122.28 900.89,123.93 902.29,125.55 903.68,127.12 905.08,128.67 906.47,130.18 907.87,131.67 909.27,133.14 910.66,134.60 912.06,136.04 913.45,137.47 914.85,138.90 916.25,140.33 917.64,141.76 919.04,143.17 920.43,144.57 921.83,145.97 923.22,147.35 924.62,148.72 926.02,150.08 927.41,151.42 928.81,152.76 930.20,154.09 931.60,155.40 932.99,156.71 934.39,158.00 935.79,159.28 937.18,160.55 938.58,161.80 939.97,163.05 941.37,164.29 942.76,165.52 944.16,166.74 945.56,167.96 946.95,169.17 948.35,170.39 949.74,171.60 951.14,172.80 952.53,173.99 953.93,175.18 955.33,176.36 956.72,177.53 958.12,178.70 959.51,179.87 960.91,181.04 962.30,182.21 963.70,183.38 965.10,184.56 966.49,185.74 967.89,186.93 969.28,188.12 970.68,189.31 972.08,190.51 973.47,191.71 974.87,192.90 976.26,194.10 977.66,195.30 979.05,196.50 980.45,197.69 981.85,198.88 983.24,200.07 984.64,201.25 986.03,202.44 987.43,203.62 988.82,204.80 990.22,205.98 991.62,207.15 993.01,208.33 994.41,209.50 995.80,210.68 997.20,211.86 998.59,213.03 999.99,214.21" fill="none" stroke="#ff1f8c" stroke-width="1.90" stroke-linejoin="round"/>
<circle cx="832.50" cy="49.70" r="2.00" fill="#ff1f8c"/>
<line x1="899.50" y1="113.34" x2="899.50" y2="135.84" stroke="#ff1f8c" stroke-width="1.30"/>
<line x1="897.00" y1="113.34" x2="902.00" y2="113.34" stroke="#ff1f8c" stroke-width="1.30"/>
<line x1="897.00" y1="135.84" x2="902.00" y2="135.84" stroke="#ff1f8c" stroke-width="1.30"/>
<circle cx="899.50" cy="124.67" r="2.00" fill="#ff1f8c"/>
<line x1="932.99" y1="147.50" x2="932.99" y2="164.16" stroke="#ff1f8c" stroke-width="1.30"/>
<line x1="930.49" y1="147.50" x2="935.49" y2="147.50" stroke="#ff1f8c" stroke-width="1.30"/>
<line x1="930.49" y1="164.16" x2="935.49" y2="164.16" stroke="#ff1f8c" stroke-width="1.30"/>
<circle cx="932.99" cy="156.71" r="2.00" fill="#ff1f8c"/>
<line x1="949.74" y1="162.49" x2="949.74" y2="183.32" stroke="#ff1f8c" stroke-width="1.30"/>
<line x1="947.24" y1="162.49" x2="952.24" y2="162.49" stroke="#ff1f8c" stroke-width="1.30"/>
<line x1="947.24" y1="183.32" x2="952.24" y2="183.32" stroke="#ff1f8c" stroke-width="1.30"/>
<circle cx="949.74" cy="173.32" r="2.00" fill="#ff1f8c"/>
<line x1="966.49" y1="179.99" x2="966.49" y2="191.65" stroke="#ff1f8c" stroke-width="1.30"/>
<line x1="963.99" y1="179.99" x2="968.99" y2="179.99" stroke="#ff1f8c" stroke-width="1.30"/>
<line x1="963.99" y1="191.65" x2="968.99" y2="191.65" stroke="#ff1f8c" stroke-width="1.30"/>
<circle cx="966.49" cy="186.65" r="2.00" fill="#ff1f8c"/>
<line x1="983.24" y1="194.98" x2="983.24" y2="204.98" stroke="#ff1f8c" stroke-width="1.30"/>
<line x1="980.74" y1="194.98" x2="985.74" y2="194.98" stroke="#ff1f8c" stroke-width="1.30"/>
<line x1="980.74" y1="204.98" x2="985.74" y2="204.98" stroke="#ff1f8c" stroke-width="1.30"/>
<circle cx="983.24" cy="199.98" r="2.00" fill="#ff1f8c"/>
<line x1="999.99" y1="211.64" x2="999.99" y2="218.31" stroke="#ff1f8c" stroke-width="1.30"/>
<line x1="997.49" y1="211.64" x2="1002.49" y2="211.64" stroke="#ff1f8c" stroke-width="1.30"/>
<line x1="997.49" y1="218.31" x2="1002.49" y2="218.31" stroke="#ff1f8c" stroke-width="1.30"/>
<circle cx="999.99" cy="214.97" r="2.00" fill="#ff1f8c"/>
<polyline points="832.50,49.70 834.83,51.61 837.15,53.50 839.48,55.37 841.80,57.24 844.13,59.11 846.46,60.98 848.78,62.87 851.11,64.78 853.44,66.72 855.76,68.69 858.09,70.71 860.41,72.78 862.74,74.88 865.07,77.00 867.39,79.14 869.72,81.32 872.05,83.53 874.37,85.77 876.70,88.06 879.02,90.40 881.35,92.79 883.68,95.24 886.00,97.74 888.33,100.32 889.26,101.38 890.19,102.48 891.12,103.61 892.05,104.76 892.98,105.93 893.91,107.12 894.84,108.31 895.77,109.51 896.70,110.72 897.63,111.91 898.57,113.10 899.50,114.28 900.89,116.03 902.29,117.78 903.68,119.54 905.08,121.30 906.47,123.06 907.87,124.82 909.27,126.58 910.66,128.33 912.06,130.09 913.45,131.83 914.85,133.57 916.25,135.31 917.64,137.04 919.04,138.77 920.43,140.49 921.83,142.22 923.22,143.94 924.62,145.66 926.02,147.37 927.41,149.07 928.81,150.77 930.20,152.45 931.60,154.12 932.99,155.78 934.39,157.42 935.79,159.05 937.18,160.68 938.58,162.29 939.97,163.89 941.37,165.49 942.76,167.08 944.16,168.66 945.56,170.24 946.95,171.81 948.35,173.38 949.74,174.95 951.14,176.52 952.53,178.10 953.93,179.69 955.33,181.29 956.72,182.87 958.12,184.45 959.51,186.01 960.91,187.54 962.30,189.06 963.70,190.53 965.10,191.97 966.49,193.37 967.89,194.72 969.28,196.03 970.68,197.31 972.08,198.56 973.47,199.79 974.87,201.00 976.26,202.20 977.66,203.40 979.05,204.60 980.45,205.80 981.85,207.02 983.24,208.26 984.64,209.51 986.03,210.76 987.43,212.01 988.82,213.27 990.22,214.52 991.62,215.78 993.01,217.04 994.41,218.30 995.80,219.56 997.20,220.82 998.59,222.07 999.99,223.33" fill="none" stroke="#00ee00" stroke-width="1.90" stroke-linejoin="round"/>
<line x1="832.50" y1="37.54" x2="832.50" y2="60.86" stroke="#00ee00" stroke-width="1.30"/>
<line x1="830.00" y1="37.54" x2="835.00" y2="37.54" stroke="#00ee00" stroke-width="1.30"/>
<line x1="830.00" y1="60.86" x2="835.00" y2="60.86" stroke="#00ee00" stroke-width="1.30"/>
<circle cx="832.50" cy="49.70" r="2.00" fill="#00ee00"/>
<line x1="899.50" y1="111.68" x2="899.50" y2="121.67" stroke="#00ee00" stroke-width="1.30"/>
<line x1="897.00" y1="111.68" x2="902.00" y2="111.68" stroke="#00ee00" stroke-width="1.30"/>
<line x1="897.00" y1="121.67" x2="902.00" y2="121.67" stroke="#00ee00" stroke-width="1.30"/>
<circle cx="899.50" cy="115.01" r="2.00" fill="#00ee00"/>
<line x1="916.25" y1="140.00" x2="916.25" y2="167.49" stroke="#00ee00" stroke-width="1.30"/>
<line x1="913.75" y1="140.00" x2="918.75" y2="140.00" stroke="#00ee00" stroke-width="1.30"/>
<line x1="913.75" y1="167.49" x2="918.75" y2="167.49" stroke="#00ee00" stroke-width="1.30"/>
<circle cx="916.25" cy="150.00" r="2.00" fill="#00ee00"/>
<line x1="932.99" y1="140.00" x2="932.99" y2="164.99" stroke="#00ee00" stroke-width="1.30"/>
<line x1="930.49" y1="140.00" x2="935.49" y2="140.00" stroke="#00ee00" stroke-width="1.30"/>
<line x1="930.49" y1="164.99" x2="935.49" y2="164.99" stroke="#00ee00" stroke-width="1.30"/>
<circle cx="932.99" cy="156.66" r="2.00" fill="#00ee00"/>
<line x1="949.74" y1="166.66" x2="949.74" y2="176.65" stroke="#00ee00" stroke-width="1.30"/>
<line x1="947.24" y1="166.66" x2="952.24" y2="166.66" stroke="#00ee00" stroke-width="1.30"/>
<line x1="947.24" y1="176.65" x2="952.24" y2="176.65" stroke="#00ee00" stroke-width="1.30"/>
<circle cx="949.74" cy="171.66" r="2.00" fill="#00ee00"/>
<line x1="966.49" y1="174.99" x2="966.49" y2="215.81" stroke="#00ee00" stroke-width="1.30"/>
<line x1="963.99" y1="174.99" x2="968.99" y2="174.99" stroke="#00ee00" stroke-width="1.30"/>
<line x1="963.99" y1="215.81" x2="968.99" y2="215.81" stroke="#00ee00" stroke-width="1.30"/>
<circle cx="966.49" cy="198.31" r="2.00" fill="#00ee00"/>
<line x1="983.24" y1="204.98" x2="983.24" y2="223.30" stroke="#00ee00" stroke-width="1.30"/>
<line x1="980.74" y1="204.98" x2="985.74" y2="204.98" stroke="#00ee00" stroke-width="1.30"/>
<line x1="980.74" y1="223.30" x2="985.74" y2="223.30" stroke="#00ee00" stroke-width="1.30"/>
<circle cx="983.24" cy="209.98" r="2.00" fill="#00ee00"/>
<line x1="999.99" y1="219.14" x2="999.99" y2="224.14" stroke="#00ee00" stroke-width="1.30"/>
<line x1="997.49" y1="219.14" x2="1002.49" y2="219.14" stroke="#00ee00" stroke-width="1.30"/>
<line x1="997.49" y1="224.14" x2="1002.49" y2="224.14" stroke="#00ee00" stroke-width="1.30"/>
<circle cx="999.99" cy="221.64" r="2.00" fill="#00ee00"/>
<polyline points="832.50,47.84 834.83,48.58 837.15,49.28 839.48,49.94 841.80,50.58 844.13,51.23 846.46,51.89 848.78,52.58 851.11,53.33 853.44,54.14 855.76,55.04 858.09,56.03 860.41,57.14 862.74,58.50 865.07,60.20 867.39,62.18 869.72,64.42 872.05,66.87 874.37,69.49 876.70,72.23 879.02,75.06 881.35,77.93 883.68,80.80 886.00,83.62 888.33,86.36 889.26,87.44 890.19,88.53 891.12,89.62 892.05,90.73 892.98,91.86 893.91,93.00 894.84,94.16 895.77,95.35 896.70,96.55 897.63,97.78 898.57,99.04 899.50,100.32 900.89,102.31 902.29,104.38 903.68,106.51 905.08,108.71 906.47,110.95 907.87,113.24 909.27,115.56 910.66,117.90 912.06,120.25 913.45,122.61 914.85,124.96 916.25,127.30 917.64,129.65 919.04,132.02 920.43,134.42 921.83,136.84 923.22,139.27 924.62,141.71 926.02,144.16 927.41,146.61 928.81,149.05 930.20,151.49 931.60,153.92 932.99,156.34 934.39,158.78 935.79,161.28 937.18,163.82 938.58,166.39 939.97,168.95 941.37,171.48 942.76,173.97 944.16,176.40 945.56,178.73 946.95,180.96 948.35,183.05 949.74,184.99 951.14,186.82 952.53,188.60 953.93,190.31 955.33,191.97 956.72,193.57 958.12,195.12 959.51,196.61 960.91,198.04 962.30,199.42 963.70,200.75 965.10,202.02 966.49,203.23 967.89,204.41 969.28,205.57 970.68,206.70 972.08,207.80 973.47,208.87 974.87,209.89 976.26,210.87 977.66,211.80 979.05,212.68 980.45,213.50 981.85,214.26 983.24,214.96 984.64,215.59 986.03,216.17 987.43,216.72 988.82,217.23 990.22,217.71 991.62,218.18 993.01,218.63 994.41,219.07 995.80,219.51 997.20,219.96 998.59,220.43 999.99,220.91" fill="none" stroke="#0000ff" stroke-width="1.90" stroke-linejoin="round"/>
<circle cx="832.50" cy="49.70" r="2.00" fill="#0000ff"/>
<line x1="899.50" y1="75.02" x2="899.50" y2="110.84" stroke="#0000ff" stroke-width="1.30"/>
<line x1="897.00" y1="75.02" x2="902.00" y2="75.02" stroke="#0000ff" stroke-width="1.30"/>
<line x1="897.00" y1="110.84" x2="902.00" y2="110.84" stroke="#0000ff" stroke-width="1.30"/>
<circle cx="899.50" cy="92.52" r="2.00" fill="#0000ff"/>
<line x1="916.25" y1="135.00" x2="916.25" y2="145.00" stroke="#0000ff" stroke-width="1.30"/>
<line x1="913.75" y1="135.00" x2="918.75" y2="135.00" stroke="#0000ff" stroke-width="1.30"/>
<line x1="913.75" y1="145.00" x2="918.75" y2="145.00" stroke="#0000ff" stroke-width="1.30"/>
<circle cx="916.25" cy="140.00" r="2.00" fill="#0000ff"/>
<line x1="932.99" y1="147.50" x2="932.99" y2="164.16" stroke="#0000ff" stroke-width="1.30"/>
<line x1="930.49" y1="147.50" x2="935.49" y2="147.50" stroke="#0000ff" stroke-width="1.30"/>
<line x1="930.49" y1="164.16" x2="935.49" y2="164.16" stroke="#0000ff" stroke-width="1.30"/>
<circle cx="932.99" cy="155.83" r="2.00" fill="#0000ff"/>
<line x1="949.74" y1="169.99" x2="949.74" y2="184.98" stroke="#0000ff" stroke-width="1.30"/>
<line x1="947.24" y1="169.99" x2="952.24" y2="169.99" stroke="#0000ff" stroke-width="1.30"/>
<line x1="947.24" y1="184.98" x2="952.24" y2="184.98" stroke="#0000ff" stroke-width="1.30"/>
<circle cx="949.74" cy="179.99" r="2.00" fill="#0000ff"/>
<line x1="966.49" y1="191.65" x2="966.49" y2="215.81" stroke="#0000ff" stroke-width="1.30"/>
<line x1="963.99" y1="191.65" x2="968.99" y2="191.65" stroke="#0000ff" stroke-width="1.30"/>
<line x1="963.99" y1="215.81" x2="968.99" y2="215.81" stroke="#0000ff" stroke-width="1.30"/>
<circle cx="966.49" cy="199.98" r="2.00" fill="#0000ff"/>
<line x1="983.24" y1="213.31" x2="983.24" y2="221.64" stroke="#0000ff" stroke-width="1.30"/>
<line x1="980.74" y1="213.31" x2="985.74" y2="213.31" stroke="#0000ff" stroke-width="1.30"/>
<line x1="980.74" y1="221.64" x2="985.74" y2="221.64" stroke="#0000ff" stroke-width="1.30"/>
<circle cx="983.24" cy="216.64" r="2.00" fill="#0000ff"/>
<line x1="999.99" y1="219.97" x2="999.99" y2="225.80" stroke="#0000ff" stroke-width="1.30"/>
<line x1="997.49" y1="219.97" x2="1002.49" y2="219.97" stroke="#0000ff" stroke-width="1.30"/>
<line x1="997.49" y1="225.80" x2="1002.49" y2="225.80" stroke="#0000ff" stroke-width="1.30"/>
<circle cx="999.99" cy="223.30" r="2.00" fill="#0000ff"/>
<polyline points="832.50,49.70 834.83,50.45 837.15,51.14 839.48,51.81 841.80,52.46 844.13,53.11 846.46,53.78 848.78,54.48 851.11,55.22 853.44,56.03 855.76,56.92 858.09,57.91 860.41,59.01 862.74,60.32 865.07,61.92 867.39,63.77 869.72,65.84 872.05,68.10 874.37,70.52 876.70,73.05 879.02,75.67 881.35,78.35 883.68,81.04 886.00,83.73 888.33,86.36 889.26,87.41 890.19,88.48 891.12,89.57 892.05,90.68 892.98,91.80 893.91,92.95 894.84,94.12 895.77,95.32 896.70,96.53 897.63,97.77 898.57,99.03 899.50,100.32 900.89,102.31 902.29,104.38 903.68,106.51 905.08,108.71 906.47,110.95 907.87,113.24 909.27,115.56 910.66,117.90 912.06,120.25 913.45,122.61 914.85,124.96 916.25,127.30 917.64,129.66 919.04,132.04 920.43,134.46 921.83,136.90 923.22,139.36 924.62,141.82 926.02,144.28 927.41,146.74 928.81,149.18 930.20,151.59 931.60,153.98 932.99,156.34 934.39,158.70 935.79,161.12 937.18,163.57 938.58,166.03 939.97,168.48 941.37,170.89 942.76,173.24 944.16,175.51 945.56,177.67 946.95,179.71 948.35,181.60 949.74,183.32 951.14,184.91 952.53,186.43 953.93,187.89 955.33,189.29 956.72,190.62 958.12,191.91 959.51,193.13 960.91,194.31 962.30,195.44 963.70,196.53 965.10,197.57 966.49,198.58 967.89,199.55 969.28,200.50 970.68,201.41 972.08,202.30 973.47,203.15 974.87,203.98 976.26,204.77 977.66,205.53 979.05,206.26 980.45,206.96 981.85,207.63 983.24,208.26 984.64,208.85 986.03,209.41 987.43,209.95 988.82,210.45 990.22,210.94 991.62,211.41 993.01,211.87 994.41,212.33 995.80,212.79 997.20,213.25 998.59,213.73 999.99,214.21" fill="none" stroke="#ff0000" stroke-width="1.90" stroke-linejoin="round"/>
<line x1="832.50" y1="31.71" x2="832.50" y2="67.53" stroke="#ff0000" stroke-width="1.30"/>
<line x1="830.00" y1="31.71" x2="835.00" y2="31.71" stroke="#ff0000" stroke-width="1.30"/>
<line x1="830.00" y1="67.53" x2="835.00" y2="67.53" stroke="#ff0000" stroke-width="1.30"/>
<circle cx="832.50" cy="49.70" r="2.00" fill="#ff0000"/>
<line x1="899.50" y1="89.19" x2="899.50" y2="111.68" stroke="#ff0000" stroke-width="1.30"/>
<line x1="897.00" y1="89.19" x2="902.00" y2="89.19" stroke="#ff0000" stroke-width="1.30"/>
<line x1="897.00" y1="111.68" x2="902.00" y2="111.68" stroke="#ff0000" stroke-width="1.30"/>
<circle cx="899.50" cy="100.02" r="2.00" fill="#ff0000"/>
<line x1="916.25" y1="114.18" x2="916.25" y2="138.33" stroke="#ff0000" stroke-width="1.30"/>
<line x1="913.75" y1="114.18" x2="918.75" y2="114.18" stroke="#ff0000" stroke-width="1.30"/>
<line x1="913.75" y1="138.33" x2="918.75" y2="138.33" stroke="#ff0000" stroke-width="1.30"/>
<circle cx="916.25" cy="125.84" r="2.00" fill="#ff0000"/>
<line x1="932.99" y1="151.66" x2="932.99" y2="161.66" stroke="#ff0000" stroke-width="1.30"/>
<line x1="930.49" y1="151.66" x2="935.49" y2="151.66" stroke="#ff0000" stroke-width="1.30"/>
<line x1="930.49" y1="161.66" x2="935.49" y2="161.66" stroke="#ff0000" stroke-width="1.30"/>
<circle cx="932.99" cy="156.66" r="2.00" fill="#ff0000"/>
<line x1="949.74" y1="174.99" x2="949.74" y2="199.15" stroke="#ff0000" stroke-width="1.30"/>
<line x1="947.24" y1="174.99" x2="952.24" y2="174.99" stroke="#ff0000" stroke-width="1.30"/>
<line x1="947.24" y1="199.15" x2="952.24" y2="199.15" stroke="#ff0000" stroke-width="1.30"/>
<circle cx="949.74" cy="187.48" r="2.00" fill="#ff0000"/>
<line x1="966.49" y1="191.65" x2="966.49" y2="199.15" stroke="#ff0000" stroke-width="1.30"/>
<line x1="963.99" y1="191.65" x2="968.99" y2="191.65" stroke="#ff0000" stroke-width="1.30"/>
<line x1="963.99" y1="199.15" x2="968.99" y2="199.15" stroke="#ff0000" stroke-width="1.30"/>
<circle cx="966.49" cy="194.98" r="2.00" fill="#ff0000"/>
<line x1="983.24" y1="199.15" x2="983.24" y2="205.81" stroke="#ff0000" stroke-width="1.30"/>
<line x1="980.74" y1="199.15" x2="985.74" y2="199.15" stroke="#ff0000" stroke-width="1.30"/>
<line x1="980.74" y1="205.81" x2="985.74" y2="205.81" stroke="#ff0000" stroke-width="1.30"/>
<circle cx="983.24" cy="202.48" r="2.00" fill="#ff0000"/>
<line x1="999.99" y1="215.81" x2="999.99" y2="220.81" stroke="#ff0000" stroke-width="1.30"/>
<line x1="997.49" y1="215.81" x2="1002.49" y2="215.81" stroke="#ff0000" stroke-width="1.30"/>
<line x1="997.49" y1="220.81" x2="1002.49" y2="220.81" stroke="#ff0000" stroke-width="1.30"/>
<circle cx="999.99" cy="218.31" r="2.00" fill="#ff0000"/>
<polyline points="832.50,54.72 834.83,54.74 837.15,54.75 839.48,54.76 841.80,54.78 844.13,54.79 846.46,54.80 848.78,54.81 851.11,54.83 853.44,54.84 855.76,54.86 858.09,54.88 860.41,54.91 862.74,54.95 865.07,55.01 867.39,55.09 869.72,55.20 872.05,55.32 874.37,55.47 876.70,55.64 879.02,55.82 881.35,56.03 883.68,56.26 886.00,56.51 888.33,56.77 889.26,56.90 890.19,57.06 891.12,57.26 892.05,57.49 892.98,57.74 893.91,58.01 894.84,58.30 895.77,58.61 896.70,58.93 897.63,59.26 898.57,59.60 899.50,59.94 900.89,60.46 902.29,61.02 903.68,61.62 905.08,62.25 906.47,62.93 907.87,63.65 909.27,64.42 910.66,65.23 912.06,66.10 913.45,67.03 914.85,68.01 916.25,69.05 917.64,70.21 919.04,71.52 920.43,72.98 921.83,74.57 923.22,76.29 924.62,78.13 926.02,80.07 927.41,82.11 928.81,84.23 930.20,86.43 931.60,88.70 932.99,91.01 934.39,93.49 935.79,96.20 937.18,99.13 938.58,102.24 939.97,105.50 941.37,108.89 942.76,112.37 944.16,115.91 945.56,119.48 946.95,123.05 948.35,126.60 949.74,130.10 951.14,133.72 952.53,137.62 953.93,141.72 955.33,145.94 956.72,150.20 958.12,154.42 959.51,158.51 960.91,162.39 962.30,165.98 963.70,169.20 965.10,171.97 966.49,174.20 967.89,176.08 969.28,177.83 970.68,179.47 972.08,181.00 973.47,182.43 974.87,183.76 976.26,184.99 977.66,186.14 979.05,187.22 980.45,188.21 981.85,189.15 983.24,190.02 984.64,190.83 986.03,191.57 987.43,192.26 988.82,192.90 990.22,193.50 991.62,194.08 993.01,194.63 994.41,195.18 995.80,195.73 997.20,196.28 998.59,196.86 999.99,197.46" fill="none" stroke="#000000" stroke-width="1.90" stroke-linejoin="round"/>
<line x1="832.50" y1="45.04" x2="832.50" y2="54.20" stroke="#000000" stroke-width="1.30"/>
<line x1="830.00" y1="45.04" x2="835.00" y2="45.04" stroke="#000000" stroke-width="1.30"/>
<line x1="830.00" y1="54.20" x2="835.00" y2="54.20" stroke="#000000" stroke-width="1.30"/>
<circle cx="832.50" cy="49.70" r="2.00" fill="#000000"/>
<line x1="899.50" y1="47.53" x2="899.50" y2="73.36" stroke="#000000" stroke-width="1.30"/>
<line x1="897.00" y1="47.53" x2="902.00" y2="47.53" stroke="#000000" stroke-width="1.30"/>
<line x1="897.00" y1="73.36" x2="902.00" y2="73.36" stroke="#000000" stroke-width="1.30"/>
<circle cx="899.50" cy="60.03" r="2.00" fill="#000000"/>
<line x1="916.25" y1="73.36" x2="916.25" y2="85.02" stroke="#000000" stroke-width="1.30"/>
<line x1="913.75" y1="73.36" x2="918.75" y2="73.36" stroke="#000000" stroke-width="1.30"/>
<line x1="913.75" y1="85.02" x2="918.75" y2="85.02" stroke="#000000" stroke-width="1.30"/>
<circle cx="916.25" cy="79.19" r="2.00" fill="#000000"/>
<line x1="932.99" y1="75.02" x2="932.99" y2="103.35" stroke="#000000" stroke-width="1.30"/>
<line x1="930.49" y1="75.02" x2="935.49" y2="75.02" stroke="#000000" stroke-width="1.30"/>
<line x1="930.49" y1="103.35" x2="935.49" y2="103.35" stroke="#000000" stroke-width="1.30"/>
<circle cx="932.99" cy="89.19" r="2.00" fill="#000000"/>
<line x1="949.74" y1="120.01" x2="949.74" y2="142.50" stroke="#000000" stroke-width="1.30"/>
<line x1="947.24" y1="120.01" x2="952.24" y2="120.01" stroke="#000000" stroke-width="1.30"/>
<line x1="947.24" y1="142.50" x2="952.24" y2="142.50" stroke="#000000" stroke-width="1.30"/>
<circle cx="949.74" cy="131.34" r="2.00" fill="#000000"/>
<line x1="966.49" y1="173.32" x2="966.49" y2="184.98" stroke="#000000" stroke-width="1.30"/>
<line x1="963.99" y1="173.32" x2="968.99" y2="173.32" stroke="#000000" stroke-width="1.30"/>
<line x1="963.99" y1="184.98" x2="968.99" y2="184.98" stroke="#000000" stroke-width="1.30"/>
<circle cx="966.49" cy="179.65" r="2.00" fill="#000000"/>
<line x1="983.24" y1="179.99" x2="983.24" y2="198.31" stroke="#000000" stroke-width="1.30"/>
<line x1="980.74" y1="179.99" x2="985.74" y2="179.99" stroke="#000000" stroke-width="1.30"/>
<line x1="980.74" y1="198.31" x2="985.74" y2="198.31" stroke="#000000" stroke-width="1.30"/>
<circle cx="983.24" cy="189.48" r="2.00" fill="#000000"/>
<line x1="999.99" y1="194.15" x2="999.99" y2="200.81" stroke="#000000" stroke-width="1.30"/>
<line x1="997.49" y1="194.15" x2="1002.49" y2="194.15" stroke="#000000" stroke-width="1.30"/>
<line x1="997.49" y1="200.81" x2="1002.49" y2="200.81" stroke="#000000" stroke-width="1.30"/>
<circle cx="999.99" cy="197.48" r="2.00" fill="#000000"/>
<text transform="translate(779.90 203.60) rotate(-90)" x="-1.67" y="0" font-size="20.20" textLength="151.54" lengthAdjust="spacingAndGlyphs" fill="#000">Relative Survival</text>
<text x="856.82" y="291.70" font-size="20.50" textLength="118.64" lengthAdjust="spacingAndGlyphs" fill="#000">CHK1i log [M]</text>
<line x1="984.80" y1="50.20" x2="1000.80" y2="50.20" stroke="#000000" stroke-width="1.80"/>
<circle cx="992.80" cy="50.20" r="1.60" fill="#000000"/>
<text x="1009.96" y="57.00" font-size="20.00" textLength="62.75" lengthAdjust="spacingAndGlyphs" fill="#000">shCON</text>
<line x1="984.80" y1="77.28" x2="1000.80" y2="77.28" stroke="#ff0000" stroke-width="1.80"/>
<circle cx="992.80" cy="77.28" r="1.60" fill="#ff0000"/>
<text x="1009.96" y="84.08" font-size="20.00" textLength="74.80" lengthAdjust="spacingAndGlyphs" fill="#000">shTrx1-1</text>
<line x1="984.80" y1="104.36" x2="1000.80" y2="104.36" stroke="#00ee00" stroke-width="1.80"/>
<circle cx="992.80" cy="104.36" r="1.60" fill="#00ee00"/>
<text x="1009.96" y="111.16" font-size="20.00" textLength="74.80" lengthAdjust="spacingAndGlyphs" fill="#000">shTrx1-2</text>
<line x1="984.80" y1="131.44" x2="1000.80" y2="131.44" stroke="#0000ff" stroke-width="1.80"/>
<circle cx="992.80" cy="131.44" r="1.60" fill="#0000ff"/>
<text x="1009.96" y="138.24" font-size="20.00" textLength="88.63" lengthAdjust="spacingAndGlyphs" fill="#000">shTrxR1-3</text>
<line x1="984.80" y1="158.52" x2="1000.80" y2="158.52" stroke="#ff1f8c" stroke-width="1.80"/>
<circle cx="992.80" cy="158.52" r="1.60" fill="#ff1f8c"/>
<text x="1009.96" y="165.32" font-size="20.00" textLength="88.63" lengthAdjust="spacingAndGlyphs" fill="#000">shTrxR1-5</text>
<text x="2.23" y="327.00" font-size="29.00" font-weight="bold" textLength="15.32" lengthAdjust="spacingAndGlyphs" fill="#000">c</text>
<text x="180.28" y="339.80" font-size="21.60" textLength="58.35" lengthAdjust="spacingAndGlyphs" fill="#000">H1299</text>
<line x1="112.00" y1="340.00" x2="112.00" y2="552.70" stroke="#000" stroke-width="1.80"/>
<line x1="111.00" y1="551.70" x2="307.70" y2="551.70" stroke="#000" stroke-width="1.80"/>
<line x1="107.00" y1="551.70" x2="112.00" y2="551.70" stroke="#000" stroke-width="1.80"/>
<text x="94.97" y="559.00" font-size="21.50" textLength="11.00" lengthAdjust="spacingAndGlyphs" fill="#000">0</text>
<line x1="107.00" y1="516.42" x2="112.00" y2="516.42" stroke="#000" stroke-width="1.80"/>
<text x="95.03" y="523.72" font-size="21.50" textLength="11.00" lengthAdjust="spacingAndGlyphs" fill="#000">5</text>
<line x1="107.00" y1="481.13" x2="112.00" y2="481.13" stroke="#000" stroke-width="1.80"/>
<text x="83.98" y="488.43" font-size="21.50" textLength="22.00" lengthAdjust="spacingAndGlyphs" fill="#000">10</text>
<line x1="107.00" y1="445.85" x2="112.00" y2="445.85" stroke="#000" stroke-width="1.80"/>
<text x="84.04" y="453.15" font-size="21.50" textLength="22.00" lengthAdjust="spacingAndGlyphs" fill="#000">15</text>
<line x1="107.00" y1="410.56" x2="112.00" y2="410.56" stroke="#000" stroke-width="1.80"/>
<text x="83.98" y="417.86" font-size="21.50" textLength="22.00" lengthAdjust="spacingAndGlyphs" fill="#000">20</text>
<line x1="107.00" y1="375.28" x2="112.00" y2="375.28" stroke="#000" stroke-width="1.80"/>
<text x="84.04" y="382.58" font-size="21.50" textLength="22.00" lengthAdjust="spacingAndGlyphs" fill="#000">25</text>
<line x1="107.00" y1="339.99" x2="112.00" y2="339.99" stroke="#000" stroke-width="1.80"/>
<text x="83.98" y="347.29" font-size="21.50" textLength="22.00" lengthAdjust="spacingAndGlyphs" fill="#000">30</text>
<line x1="112.00" y1="551.70" x2="112.00" y2="556.70" stroke="#000" stroke-width="1.80"/>
<text x="106.50" y="577.50" font-size="21.50" textLength="11.00" lengthAdjust="spacingAndGlyphs" fill="#000">0</text>
<line x1="150.92" y1="551.70" x2="150.92" y2="556.70" stroke="#000" stroke-width="1.80"/>
<text x="145.15" y="577.50" font-size="21.50" textLength="11.00" lengthAdjust="spacingAndGlyphs" fill="#000">1</text>
<line x1="189.84" y1="551.70" x2="189.84" y2="556.70" stroke="#000" stroke-width="1.80"/>
<text x="184.34" y="577.50" font-size="21.50" textLength="11.00" lengthAdjust="spacingAndGlyphs" fill="#000">2</text>
<line x1="228.76" y1="551.70" x2="228.76" y2="556.70" stroke="#000" stroke-width="1.80"/>
<text x="223.32" y="577.50" font-size="21.50" textLength="11.00" lengthAdjust="spacingAndGlyphs" fill="#000">3</text>
<line x1="267.68" y1="551.70" x2="267.68" y2="556.70" stroke="#000" stroke-width="1.80"/>
<text x="262.24" y="577.50" font-size="21.50" textLength="11.00" lengthAdjust="spacingAndGlyphs" fill="#000">4</text>
<line x1="306.60" y1="551.70" x2="306.60" y2="556.70" stroke="#000" stroke-width="1.80"/>
<text x="301.12" y="577.50" font-size="21.50" textLength="11.00" lengthAdjust="spacingAndGlyphs" fill="#000">5</text>
<polyline points="112.00,551.70 189.84,535.82 228.76,534.06 267.68,538.72 306.60,534.62" fill="none" stroke="#ff0000" stroke-width="2.00" stroke-dasharray="5,3.5" stroke-linejoin="round"/>
<circle cx="112.00" cy="551.70" r="2.00" fill="#ff0000"/>
<line x1="189.84" y1="533.70" x2="189.84" y2="537.94" stroke="#ff0000" stroke-width="1.30"/>
<line x1="187.34" y1="533.70" x2="192.34" y2="533.70" stroke="#ff0000" stroke-width="1.30"/>
<line x1="187.34" y1="537.94" x2="192.34" y2="537.94" stroke="#ff0000" stroke-width="1.30"/>
<circle cx="189.84" cy="535.82" r="2.00" fill="#ff0000"/>
<line x1="228.76" y1="531.94" x2="228.76" y2="536.17" stroke="#ff0000" stroke-width="1.30"/>
<line x1="226.26" y1="531.94" x2="231.26" y2="531.94" stroke="#ff0000" stroke-width="1.30"/>
<line x1="226.26" y1="536.17" x2="231.26" y2="536.17" stroke="#ff0000" stroke-width="1.30"/>
<circle cx="228.76" cy="534.06" r="2.00" fill="#ff0000"/>
<line x1="267.68" y1="537.30" x2="267.68" y2="540.13" stroke="#ff0000" stroke-width="1.30"/>
<line x1="265.18" y1="537.30" x2="270.18" y2="537.30" stroke="#ff0000" stroke-width="1.30"/>
<line x1="265.18" y1="540.13" x2="270.18" y2="540.13" stroke="#ff0000" stroke-width="1.30"/>
<circle cx="267.68" cy="538.72" r="2.00" fill="#ff0000"/>
<line x1="306.60" y1="532.50" x2="306.60" y2="536.74" stroke="#ff0000" stroke-width="1.30"/>
<line x1="304.10" y1="532.50" x2="309.10" y2="532.50" stroke="#ff0000" stroke-width="1.30"/>
<line x1="304.10" y1="536.74" x2="309.10" y2="536.74" stroke="#ff0000" stroke-width="1.30"/>
<circle cx="306.60" cy="534.62" r="2.00" fill="#ff0000"/>
<polyline points="112.00,551.70 189.84,534.76 228.76,532.79 267.68,534.06 306.60,528.62" fill="none" stroke="#ff1f8c" stroke-width="2.00" stroke-dasharray="5,3.5" stroke-linejoin="round"/>
<circle cx="112.00" cy="551.70" r="2.00" fill="#ff1f8c"/>
<line x1="189.84" y1="532.65" x2="189.84" y2="536.88" stroke="#ff1f8c" stroke-width="1.30"/>
<line x1="187.34" y1="532.65" x2="192.34" y2="532.65" stroke="#ff1f8c" stroke-width="1.30"/>
<line x1="187.34" y1="536.88" x2="192.34" y2="536.88" stroke="#ff1f8c" stroke-width="1.30"/>
<circle cx="189.84" cy="534.76" r="2.00" fill="#ff1f8c"/>
<line x1="228.76" y1="530.67" x2="228.76" y2="534.90" stroke="#ff1f8c" stroke-width="1.30"/>
<line x1="226.26" y1="530.67" x2="231.26" y2="530.67" stroke="#ff1f8c" stroke-width="1.30"/>
<line x1="226.26" y1="534.90" x2="231.26" y2="534.90" stroke="#ff1f8c" stroke-width="1.30"/>
<circle cx="228.76" cy="532.79" r="2.00" fill="#ff1f8c"/>
<line x1="267.68" y1="532.65" x2="267.68" y2="535.47" stroke="#ff1f8c" stroke-width="1.30"/>
<line x1="265.18" y1="532.65" x2="270.18" y2="532.65" stroke="#ff1f8c" stroke-width="1.30"/>
<line x1="265.18" y1="535.47" x2="270.18" y2="535.47" stroke="#ff1f8c" stroke-width="1.30"/>
<circle cx="267.68" cy="534.06" r="2.00" fill="#ff1f8c"/>
<line x1="306.60" y1="526.51" x2="306.60" y2="530.74" stroke="#ff1f8c" stroke-width="1.30"/>
<line x1="304.10" y1="526.51" x2="309.10" y2="526.51" stroke="#ff1f8c" stroke-width="1.30"/>
<line x1="304.10" y1="530.74" x2="309.10" y2="530.74" stroke="#ff1f8c" stroke-width="1.30"/>
<circle cx="306.60" cy="528.62" r="2.00" fill="#ff1f8c"/>
<polyline points="112.00,551.70 189.84,532.79 228.76,531.02 267.68,533.35 306.60,523.90" fill="none" stroke="#0000ff" stroke-width="2.00" stroke-dasharray="5,3.5" stroke-linejoin="round"/>
<circle cx="112.00" cy="551.70" r="2.00" fill="#0000ff"/>
<line x1="189.84" y1="530.67" x2="189.84" y2="534.90" stroke="#0000ff" stroke-width="1.30"/>
<line x1="187.34" y1="530.67" x2="192.34" y2="530.67" stroke="#0000ff" stroke-width="1.30"/>
<line x1="187.34" y1="534.90" x2="192.34" y2="534.90" stroke="#0000ff" stroke-width="1.30"/>
<circle cx="189.84" cy="532.79" r="2.00" fill="#0000ff"/>
<line x1="228.76" y1="528.91" x2="228.76" y2="533.14" stroke="#0000ff" stroke-width="1.30"/>
<line x1="226.26" y1="528.91" x2="231.26" y2="528.91" stroke="#0000ff" stroke-width="1.30"/>
<line x1="226.26" y1="533.14" x2="231.26" y2="533.14" stroke="#0000ff" stroke-width="1.30"/>
<circle cx="228.76" cy="531.02" r="2.00" fill="#0000ff"/>
<line x1="267.68" y1="531.94" x2="267.68" y2="534.76" stroke="#0000ff" stroke-width="1.30"/>
<line x1="265.18" y1="531.94" x2="270.18" y2="531.94" stroke="#0000ff" stroke-width="1.30"/>
<line x1="265.18" y1="534.76" x2="270.18" y2="534.76" stroke="#0000ff" stroke-width="1.30"/>
<circle cx="267.68" cy="533.35" r="2.00" fill="#0000ff"/>
<line x1="306.60" y1="519.66" x2="306.60" y2="528.13" stroke="#0000ff" stroke-width="1.30"/>
<line x1="304.10" y1="519.66" x2="309.10" y2="519.66" stroke="#0000ff" stroke-width="1.30"/>
<line x1="304.10" y1="528.13" x2="309.10" y2="528.13" stroke="#0000ff" stroke-width="1.30"/>
<circle cx="306.60" cy="523.90" r="2.00" fill="#0000ff"/>
<polyline points="112.00,551.70 189.84,538.08 228.76,528.62 267.68,526.29 306.60,518.53" fill="none" stroke="#00ee00" stroke-width="2.00" stroke-dasharray="5,3.5" stroke-linejoin="round"/>
<circle cx="112.00" cy="551.70" r="2.00" fill="#00ee00"/>
<line x1="189.84" y1="535.96" x2="189.84" y2="540.20" stroke="#00ee00" stroke-width="1.30"/>
<line x1="187.34" y1="535.96" x2="192.34" y2="535.96" stroke="#00ee00" stroke-width="1.30"/>
<line x1="187.34" y1="540.20" x2="192.34" y2="540.20" stroke="#00ee00" stroke-width="1.30"/>
<circle cx="189.84" cy="538.08" r="2.00" fill="#00ee00"/>
<line x1="228.76" y1="526.51" x2="228.76" y2="530.74" stroke="#00ee00" stroke-width="1.30"/>
<line x1="226.26" y1="526.51" x2="231.26" y2="526.51" stroke="#00ee00" stroke-width="1.30"/>
<line x1="226.26" y1="530.74" x2="231.26" y2="530.74" stroke="#00ee00" stroke-width="1.30"/>
<circle cx="228.76" cy="528.62" r="2.00" fill="#00ee00"/>
<line x1="267.68" y1="524.88" x2="267.68" y2="527.71" stroke="#00ee00" stroke-width="1.30"/>
<line x1="265.18" y1="524.88" x2="270.18" y2="524.88" stroke="#00ee00" stroke-width="1.30"/>
<line x1="265.18" y1="527.71" x2="270.18" y2="527.71" stroke="#00ee00" stroke-width="1.30"/>
<circle cx="267.68" cy="526.29" r="2.00" fill="#00ee00"/>
<line x1="306.60" y1="515.71" x2="306.60" y2="521.35" stroke="#00ee00" stroke-width="1.30"/>
<line x1="304.10" y1="515.71" x2="309.10" y2="515.71" stroke="#00ee00" stroke-width="1.30"/>
<line x1="304.10" y1="521.35" x2="309.10" y2="521.35" stroke="#00ee00" stroke-width="1.30"/>
<circle cx="306.60" cy="518.53" r="2.00" fill="#00ee00"/>
<polyline points="112.00,551.70 189.84,531.59 228.76,519.73 267.68,517.97 306.60,471.96" fill="none" stroke="#000000" stroke-width="2.00" stroke-dasharray="5,3.5" stroke-linejoin="round"/>
<circle cx="112.00" cy="551.70" r="2.00" fill="#000000"/>
<line x1="189.84" y1="529.47" x2="189.84" y2="533.70" stroke="#000000" stroke-width="1.30"/>
<line x1="187.34" y1="529.47" x2="192.34" y2="529.47" stroke="#000000" stroke-width="1.30"/>
<line x1="187.34" y1="533.70" x2="192.34" y2="533.70" stroke="#000000" stroke-width="1.30"/>
<circle cx="189.84" cy="531.59" r="2.00" fill="#000000"/>
<line x1="228.76" y1="515.50" x2="228.76" y2="523.97" stroke="#000000" stroke-width="1.30"/>
<line x1="226.26" y1="515.50" x2="231.26" y2="515.50" stroke="#000000" stroke-width="1.30"/>
<line x1="226.26" y1="523.97" x2="231.26" y2="523.97" stroke="#000000" stroke-width="1.30"/>
<circle cx="228.76" cy="519.73" r="2.00" fill="#000000"/>
<line x1="267.68" y1="514.44" x2="267.68" y2="521.50" stroke="#000000" stroke-width="1.30"/>
<line x1="265.18" y1="514.44" x2="270.18" y2="514.44" stroke="#000000" stroke-width="1.30"/>
<line x1="265.18" y1="521.50" x2="270.18" y2="521.50" stroke="#000000" stroke-width="1.30"/>
<circle cx="267.68" cy="517.97" r="2.00" fill="#000000"/>
<line x1="306.60" y1="465.60" x2="306.60" y2="478.31" stroke="#000000" stroke-width="1.30"/>
<line x1="304.10" y1="465.60" x2="309.10" y2="465.60" stroke="#000000" stroke-width="1.30"/>
<line x1="304.10" y1="478.31" x2="309.10" y2="478.31" stroke="#000000" stroke-width="1.30"/>
<circle cx="306.60" cy="471.96" r="2.00" fill="#000000"/>
<polyline points="112.00,551.70 189.84,528.62 228.76,520.30 267.68,512.18 306.60,451.49" fill="none" stroke="#ff0000" stroke-width="2.00" stroke-linejoin="round"/>
<circle cx="112.00" cy="551.70" r="2.00" fill="#ff0000"/>
<line x1="189.84" y1="526.51" x2="189.84" y2="530.74" stroke="#ff0000" stroke-width="1.30"/>
<line x1="187.34" y1="526.51" x2="192.34" y2="526.51" stroke="#ff0000" stroke-width="1.30"/>
<line x1="187.34" y1="530.74" x2="192.34" y2="530.74" stroke="#ff0000" stroke-width="1.30"/>
<circle cx="189.84" cy="528.62" r="2.00" fill="#ff0000"/>
<line x1="228.76" y1="518.18" x2="228.76" y2="522.41" stroke="#ff0000" stroke-width="1.30"/>
<line x1="226.26" y1="518.18" x2="231.26" y2="518.18" stroke="#ff0000" stroke-width="1.30"/>
<line x1="226.26" y1="522.41" x2="231.26" y2="522.41" stroke="#ff0000" stroke-width="1.30"/>
<circle cx="228.76" cy="520.30" r="2.00" fill="#ff0000"/>
<line x1="267.68" y1="510.06" x2="267.68" y2="514.30" stroke="#ff0000" stroke-width="1.30"/>
<line x1="265.18" y1="510.06" x2="270.18" y2="510.06" stroke="#ff0000" stroke-width="1.30"/>
<line x1="265.18" y1="514.30" x2="270.18" y2="514.30" stroke="#ff0000" stroke-width="1.30"/>
<circle cx="267.68" cy="512.18" r="2.00" fill="#ff0000"/>
<line x1="306.60" y1="442.67" x2="306.60" y2="460.31" stroke="#ff0000" stroke-width="1.30"/>
<line x1="304.10" y1="442.67" x2="309.10" y2="442.67" stroke="#ff0000" stroke-width="1.30"/>
<line x1="304.10" y1="460.31" x2="309.10" y2="460.31" stroke="#ff0000" stroke-width="1.30"/>
<circle cx="306.60" cy="451.49" r="2.00" fill="#ff0000"/>
<polyline points="112.00,551.70 189.84,520.93 228.76,513.24 267.68,494.82 306.60,424.67" fill="none" stroke="#0000ff" stroke-width="2.00" stroke-linejoin="round"/>
<circle cx="112.00" cy="551.70" r="2.00" fill="#0000ff"/>
<line x1="189.84" y1="518.81" x2="189.84" y2="523.05" stroke="#0000ff" stroke-width="1.30"/>
<line x1="187.34" y1="518.81" x2="192.34" y2="518.81" stroke="#0000ff" stroke-width="1.30"/>
<line x1="187.34" y1="523.05" x2="192.34" y2="523.05" stroke="#0000ff" stroke-width="1.30"/>
<circle cx="189.84" cy="520.93" r="2.00" fill="#0000ff"/>
<line x1="228.76" y1="510.42" x2="228.76" y2="516.06" stroke="#0000ff" stroke-width="1.30"/>
<line x1="226.26" y1="510.42" x2="231.26" y2="510.42" stroke="#0000ff" stroke-width="1.30"/>
<line x1="226.26" y1="516.06" x2="231.26" y2="516.06" stroke="#0000ff" stroke-width="1.30"/>
<circle cx="228.76" cy="513.24" r="2.00" fill="#0000ff"/>
<line x1="267.68" y1="492.70" x2="267.68" y2="496.94" stroke="#0000ff" stroke-width="1.30"/>
<line x1="265.18" y1="492.70" x2="270.18" y2="492.70" stroke="#0000ff" stroke-width="1.30"/>
<line x1="265.18" y1="496.94" x2="270.18" y2="496.94" stroke="#0000ff" stroke-width="1.30"/>
<circle cx="267.68" cy="494.82" r="2.00" fill="#0000ff"/>
<line x1="306.60" y1="411.27" x2="306.60" y2="438.08" stroke="#0000ff" stroke-width="1.30"/>
<line x1="304.10" y1="411.27" x2="309.10" y2="411.27" stroke="#0000ff" stroke-width="1.30"/>
<line x1="304.10" y1="438.08" x2="309.10" y2="438.08" stroke="#0000ff" stroke-width="1.30"/>
<circle cx="306.60" cy="424.67" r="2.00" fill="#0000ff"/>
<polyline points="112.00,551.70 189.84,527.71 228.76,518.53 267.68,496.66 306.60,414.79" fill="none" stroke="#00ee00" stroke-width="2.00" stroke-linejoin="round"/>
<circle cx="112.00" cy="551.70" r="2.00" fill="#00ee00"/>
<line x1="189.84" y1="525.59" x2="189.84" y2="529.82" stroke="#00ee00" stroke-width="1.30"/>
<line x1="187.34" y1="525.59" x2="192.34" y2="525.59" stroke="#00ee00" stroke-width="1.30"/>
<line x1="187.34" y1="529.82" x2="192.34" y2="529.82" stroke="#00ee00" stroke-width="1.30"/>
<circle cx="189.84" cy="527.71" r="2.00" fill="#00ee00"/>
<line x1="228.76" y1="516.42" x2="228.76" y2="520.65" stroke="#00ee00" stroke-width="1.30"/>
<line x1="226.26" y1="516.42" x2="231.26" y2="516.42" stroke="#00ee00" stroke-width="1.30"/>
<line x1="226.26" y1="520.65" x2="231.26" y2="520.65" stroke="#00ee00" stroke-width="1.30"/>
<circle cx="228.76" cy="518.53" r="2.00" fill="#00ee00"/>
<line x1="267.68" y1="494.54" x2="267.68" y2="498.77" stroke="#00ee00" stroke-width="1.30"/>
<line x1="265.18" y1="494.54" x2="270.18" y2="494.54" stroke="#00ee00" stroke-width="1.30"/>
<line x1="265.18" y1="498.77" x2="270.18" y2="498.77" stroke="#00ee00" stroke-width="1.30"/>
<circle cx="267.68" cy="496.66" r="2.00" fill="#00ee00"/>
<line x1="306.60" y1="399.27" x2="306.60" y2="430.32" stroke="#00ee00" stroke-width="1.30"/>
<line x1="304.10" y1="399.27" x2="309.10" y2="399.27" stroke="#00ee00" stroke-width="1.30"/>
<line x1="304.10" y1="430.32" x2="309.10" y2="430.32" stroke="#00ee00" stroke-width="1.30"/>
<circle cx="306.60" cy="414.79" r="2.00" fill="#00ee00"/>
<polyline points="112.00,551.70 189.84,524.18 228.76,512.18 267.68,493.13 306.60,409.85" fill="none" stroke="#ff1f8c" stroke-width="2.00" stroke-linejoin="round"/>
<circle cx="112.00" cy="551.70" r="2.00" fill="#ff1f8c"/>
<line x1="189.84" y1="522.06" x2="189.84" y2="526.29" stroke="#ff1f8c" stroke-width="1.30"/>
<line x1="187.34" y1="522.06" x2="192.34" y2="522.06" stroke="#ff1f8c" stroke-width="1.30"/>
<line x1="187.34" y1="526.29" x2="192.34" y2="526.29" stroke="#ff1f8c" stroke-width="1.30"/>
<circle cx="189.84" cy="524.18" r="2.00" fill="#ff1f8c"/>
<line x1="228.76" y1="510.06" x2="228.76" y2="514.30" stroke="#ff1f8c" stroke-width="1.30"/>
<line x1="226.26" y1="510.06" x2="231.26" y2="510.06" stroke="#ff1f8c" stroke-width="1.30"/>
<line x1="226.26" y1="514.30" x2="231.26" y2="514.30" stroke="#ff1f8c" stroke-width="1.30"/>
<circle cx="228.76" cy="512.18" r="2.00" fill="#ff1f8c"/>
<line x1="267.68" y1="491.01" x2="267.68" y2="495.24" stroke="#ff1f8c" stroke-width="1.30"/>
<line x1="265.18" y1="491.01" x2="270.18" y2="491.01" stroke="#ff1f8c" stroke-width="1.30"/>
<line x1="265.18" y1="495.24" x2="270.18" y2="495.24" stroke="#ff1f8c" stroke-width="1.30"/>
<circle cx="267.68" cy="493.13" r="2.00" fill="#ff1f8c"/>
<line x1="306.60" y1="405.62" x2="306.60" y2="414.09" stroke="#ff1f8c" stroke-width="1.30"/>
<line x1="304.10" y1="405.62" x2="309.10" y2="405.62" stroke="#ff1f8c" stroke-width="1.30"/>
<line x1="304.10" y1="414.09" x2="309.10" y2="414.09" stroke="#ff1f8c" stroke-width="1.30"/>
<circle cx="306.60" cy="409.85" r="2.00" fill="#ff1f8c"/>
<polyline points="112.00,551.70 189.84,523.68 228.76,510.56 267.68,488.89 306.60,380.92" fill="none" stroke="#000000" stroke-width="2.00" stroke-linejoin="round"/>
<circle cx="112.00" cy="551.70" r="2.00" fill="#000000"/>
<line x1="189.84" y1="521.57" x2="189.84" y2="525.80" stroke="#000000" stroke-width="1.30"/>
<line x1="187.34" y1="521.57" x2="192.34" y2="521.57" stroke="#000000" stroke-width="1.30"/>
<line x1="187.34" y1="525.80" x2="192.34" y2="525.80" stroke="#000000" stroke-width="1.30"/>
<circle cx="189.84" cy="523.68" r="2.00" fill="#000000"/>
<line x1="228.76" y1="507.73" x2="228.76" y2="513.38" stroke="#000000" stroke-width="1.30"/>
<line x1="226.26" y1="507.73" x2="231.26" y2="507.73" stroke="#000000" stroke-width="1.30"/>
<line x1="226.26" y1="513.38" x2="231.26" y2="513.38" stroke="#000000" stroke-width="1.30"/>
<circle cx="228.76" cy="510.56" r="2.00" fill="#000000"/>
<line x1="267.68" y1="486.07" x2="267.68" y2="491.72" stroke="#000000" stroke-width="1.30"/>
<line x1="265.18" y1="486.07" x2="270.18" y2="486.07" stroke="#000000" stroke-width="1.30"/>
<line x1="265.18" y1="491.72" x2="270.18" y2="491.72" stroke="#000000" stroke-width="1.30"/>
<circle cx="267.68" cy="488.89" r="2.00" fill="#000000"/>
<line x1="306.60" y1="371.04" x2="306.60" y2="390.80" stroke="#000000" stroke-width="1.30"/>
<line x1="304.10" y1="371.04" x2="309.10" y2="371.04" stroke="#000000" stroke-width="1.30"/>
<line x1="304.10" y1="390.80" x2="309.10" y2="390.80" stroke="#000000" stroke-width="1.30"/>
<circle cx="306.60" cy="380.92" r="2.00" fill="#000000"/>
<text transform="translate(66.60 536.80) rotate(-90)" x="-1.77" y="0" font-size="20.80" textLength="191.62" lengthAdjust="spacingAndGlyphs" fill="#000">Relative growth rate</text>
<text x="187.40" y="601.00" font-size="21.80" textLength="44.56" lengthAdjust="spacingAndGlyphs" fill="#000">Days</text>
<polyline points="314.30,470.80 326.10,470.80 326.10,523.00 314.30,523.00" fill="none" stroke="#000" stroke-width="1.60" stroke-linejoin="round"/>
<text x="329.51" y="495.99" font-size="19.50" transform="rotate(-90.0 333.30 486.00)">*</text>
<text x="329.51" y="504.39" font-size="19.50" transform="rotate(-90.0 333.30 494.40)">*</text>
<polyline points="341.20,469.30 352.80,469.30 352.80,535.50 314.30,535.50" fill="none" stroke="#000" stroke-width="1.60" stroke-linejoin="round"/>
<text x="356.61" y="502.39" font-size="19.50" transform="rotate(-90.0 360.40 492.40)">*</text>
<text x="356.61" y="511.49" font-size="19.50" transform="rotate(-90.0 360.40 501.50)">*</text>
<text x="356.61" y="519.89" font-size="19.50" transform="rotate(-90.0 360.40 509.90)">*</text>
<text x="453.87" y="328.00" font-size="29.00" font-weight="bold" textLength="16.83" lengthAdjust="spacingAndGlyphs" fill="#000">d</text>
<text x="620.79" y="339.60" font-size="21.60" textLength="58.28" lengthAdjust="spacingAndGlyphs" fill="#000">Calu-6</text>
<line x1="552.70" y1="340.00" x2="552.70" y2="553.30" stroke="#000" stroke-width="1.80"/>
<line x1="551.70" y1="552.30" x2="749.30" y2="552.30" stroke="#000" stroke-width="1.80"/>
<line x1="547.70" y1="552.30" x2="552.70" y2="552.30" stroke="#000" stroke-width="1.80"/>
<text x="535.67" y="559.60" font-size="21.50" textLength="11.00" lengthAdjust="spacingAndGlyphs" fill="#000">0</text>
<line x1="547.70" y1="509.85" x2="552.70" y2="509.85" stroke="#000" stroke-width="1.80"/>
<text x="535.73" y="517.15" font-size="21.50" textLength="11.00" lengthAdjust="spacingAndGlyphs" fill="#000">5</text>
<line x1="547.70" y1="467.40" x2="552.70" y2="467.40" stroke="#000" stroke-width="1.80"/>
<text x="524.68" y="474.70" font-size="21.50" textLength="22.00" lengthAdjust="spacingAndGlyphs" fill="#000">10</text>
<line x1="547.70" y1="424.95" x2="552.70" y2="424.95" stroke="#000" stroke-width="1.80"/>
<text x="524.74" y="432.25" font-size="21.50" textLength="22.00" lengthAdjust="spacingAndGlyphs" fill="#000">15</text>
<line x1="547.70" y1="382.50" x2="552.70" y2="382.50" stroke="#000" stroke-width="1.80"/>
<text x="524.68" y="389.80" font-size="21.50" textLength="22.00" lengthAdjust="spacingAndGlyphs" fill="#000">20</text>
<line x1="547.70" y1="340.05" x2="552.70" y2="340.05" stroke="#000" stroke-width="1.80"/>
<text x="524.74" y="347.35" font-size="21.50" textLength="22.00" lengthAdjust="spacingAndGlyphs" fill="#000">25</text>
<line x1="552.70" y1="552.30" x2="552.70" y2="557.30" stroke="#000" stroke-width="1.80"/>
<text x="547.20" y="578.10" font-size="21.50" textLength="11.00" lengthAdjust="spacingAndGlyphs" fill="#000">0</text>
<line x1="585.13" y1="552.30" x2="585.13" y2="557.30" stroke="#000" stroke-width="1.80"/>
<text x="579.36" y="578.10" font-size="21.50" textLength="11.00" lengthAdjust="spacingAndGlyphs" fill="#000">1</text>
<line x1="617.56" y1="552.30" x2="617.56" y2="557.30" stroke="#000" stroke-width="1.80"/>
<text x="612.06" y="578.10" font-size="21.50" textLength="11.00" lengthAdjust="spacingAndGlyphs" fill="#000">2</text>
<line x1="649.99" y1="552.30" x2="649.99" y2="557.30" stroke="#000" stroke-width="1.80"/>
<text x="644.55" y="578.10" font-size="21.50" textLength="11.00" lengthAdjust="spacingAndGlyphs" fill="#000">3</text>
<line x1="682.42" y1="552.30" x2="682.42" y2="557.30" stroke="#000" stroke-width="1.80"/>
<text x="676.98" y="578.10" font-size="21.50" textLength="11.00" lengthAdjust="spacingAndGlyphs" fill="#000">4</text>
<line x1="714.85" y1="552.30" x2="714.85" y2="557.30" stroke="#000" stroke-width="1.80"/>
<text x="709.37" y="578.10" font-size="21.50" textLength="11.00" lengthAdjust="spacingAndGlyphs" fill="#000">5</text>
<line x1="747.28" y1="552.30" x2="747.28" y2="557.30" stroke="#000" stroke-width="1.80"/>
<text x="741.71" y="578.10" font-size="21.50" textLength="11.00" lengthAdjust="spacingAndGlyphs" fill="#000">6</text>
<polyline points="552.70,552.30 617.56,541.26 649.99,542.11 682.42,542.96 714.85,543.81 747.28,542.96" fill="none" stroke="#ff0000" stroke-width="2.00" stroke-dasharray="5,3.5" stroke-linejoin="round"/>
<circle cx="552.70" cy="552.30" r="2.00" fill="#ff0000"/>
<line x1="617.56" y1="540.41" x2="617.56" y2="542.11" stroke="#ff0000" stroke-width="1.30"/>
<line x1="615.06" y1="540.41" x2="620.06" y2="540.41" stroke="#ff0000" stroke-width="1.30"/>
<line x1="615.06" y1="542.11" x2="620.06" y2="542.11" stroke="#ff0000" stroke-width="1.30"/>
<circle cx="617.56" cy="541.26" r="2.00" fill="#ff0000"/>
<line x1="649.99" y1="541.26" x2="649.99" y2="542.96" stroke="#ff0000" stroke-width="1.30"/>
<line x1="647.49" y1="541.26" x2="652.49" y2="541.26" stroke="#ff0000" stroke-width="1.30"/>
<line x1="647.49" y1="542.96" x2="652.49" y2="542.96" stroke="#ff0000" stroke-width="1.30"/>
<circle cx="649.99" cy="542.11" r="2.00" fill="#ff0000"/>
<line x1="682.42" y1="542.11" x2="682.42" y2="543.81" stroke="#ff0000" stroke-width="1.30"/>
<line x1="679.92" y1="542.11" x2="684.92" y2="542.11" stroke="#ff0000" stroke-width="1.30"/>
<line x1="679.92" y1="543.81" x2="684.92" y2="543.81" stroke="#ff0000" stroke-width="1.30"/>
<circle cx="682.42" cy="542.96" r="2.00" fill="#ff0000"/>
<line x1="714.85" y1="542.96" x2="714.85" y2="544.66" stroke="#ff0000" stroke-width="1.30"/>
<line x1="712.35" y1="542.96" x2="717.35" y2="542.96" stroke="#ff0000" stroke-width="1.30"/>
<line x1="712.35" y1="544.66" x2="717.35" y2="544.66" stroke="#ff0000" stroke-width="1.30"/>
<circle cx="714.85" cy="543.81" r="2.00" fill="#ff0000"/>
<line x1="747.28" y1="542.11" x2="747.28" y2="543.81" stroke="#ff0000" stroke-width="1.30"/>
<line x1="744.78" y1="542.11" x2="749.78" y2="542.11" stroke="#ff0000" stroke-width="1.30"/>
<line x1="744.78" y1="543.81" x2="749.78" y2="543.81" stroke="#ff0000" stroke-width="1.30"/>
<circle cx="747.28" cy="542.96" r="2.00" fill="#ff0000"/>
<polyline points="552.70,552.30 617.56,539.56 649.99,541.26 682.42,540.41 714.85,541.26 747.28,539.56" fill="none" stroke="#00ee00" stroke-width="2.00" stroke-dasharray="5,3.5" stroke-linejoin="round"/>
<circle cx="552.70" cy="552.30" r="2.00" fill="#00ee00"/>
<line x1="617.56" y1="538.72" x2="617.56" y2="540.41" stroke="#00ee00" stroke-width="1.30"/>
<line x1="615.06" y1="538.72" x2="620.06" y2="538.72" stroke="#00ee00" stroke-width="1.30"/>
<line x1="615.06" y1="540.41" x2="620.06" y2="540.41" stroke="#00ee00" stroke-width="1.30"/>
<circle cx="617.56" cy="539.56" r="2.00" fill="#00ee00"/>
<line x1="649.99" y1="540.41" x2="649.99" y2="542.11" stroke="#00ee00" stroke-width="1.30"/>
<line x1="647.49" y1="540.41" x2="652.49" y2="540.41" stroke="#00ee00" stroke-width="1.30"/>
<line x1="647.49" y1="542.11" x2="652.49" y2="542.11" stroke="#00ee00" stroke-width="1.30"/>
<circle cx="649.99" cy="541.26" r="2.00" fill="#00ee00"/>
<line x1="682.42" y1="539.56" x2="682.42" y2="541.26" stroke="#00ee00" stroke-width="1.30"/>
<line x1="679.92" y1="539.56" x2="684.92" y2="539.56" stroke="#00ee00" stroke-width="1.30"/>
<line x1="679.92" y1="541.26" x2="684.92" y2="541.26" stroke="#00ee00" stroke-width="1.30"/>
<circle cx="682.42" cy="540.41" r="2.00" fill="#00ee00"/>
<line x1="714.85" y1="540.41" x2="714.85" y2="542.11" stroke="#00ee00" stroke-width="1.30"/>
<line x1="712.35" y1="540.41" x2="717.35" y2="540.41" stroke="#00ee00" stroke-width="1.30"/>
<line x1="712.35" y1="542.11" x2="717.35" y2="542.11" stroke="#00ee00" stroke-width="1.30"/>
<circle cx="714.85" cy="541.26" r="2.00" fill="#00ee00"/>
<line x1="747.28" y1="537.87" x2="747.28" y2="541.26" stroke="#00ee00" stroke-width="1.30"/>
<line x1="744.78" y1="537.87" x2="749.78" y2="537.87" stroke="#00ee00" stroke-width="1.30"/>
<line x1="744.78" y1="541.26" x2="749.78" y2="541.26" stroke="#00ee00" stroke-width="1.30"/>
<circle cx="747.28" cy="539.56" r="2.00" fill="#00ee00"/>
<polyline points="552.70,552.30 617.56,540.41 649.99,540.41 682.42,538.72 714.85,538.72 747.28,535.32" fill="none" stroke="#ff1f8c" stroke-width="2.00" stroke-dasharray="5,3.5" stroke-linejoin="round"/>
<circle cx="552.70" cy="552.30" r="2.00" fill="#ff1f8c"/>
<line x1="617.56" y1="539.56" x2="617.56" y2="541.26" stroke="#ff1f8c" stroke-width="1.30"/>
<line x1="615.06" y1="539.56" x2="620.06" y2="539.56" stroke="#ff1f8c" stroke-width="1.30"/>
<line x1="615.06" y1="541.26" x2="620.06" y2="541.26" stroke="#ff1f8c" stroke-width="1.30"/>
<circle cx="617.56" cy="540.41" r="2.00" fill="#ff1f8c"/>
<line x1="649.99" y1="539.56" x2="649.99" y2="541.26" stroke="#ff1f8c" stroke-width="1.30"/>
<line x1="647.49" y1="539.56" x2="652.49" y2="539.56" stroke="#ff1f8c" stroke-width="1.30"/>
<line x1="647.49" y1="541.26" x2="652.49" y2="541.26" stroke="#ff1f8c" stroke-width="1.30"/>
<circle cx="649.99" cy="540.41" r="2.00" fill="#ff1f8c"/>
<line x1="682.42" y1="537.87" x2="682.42" y2="539.56" stroke="#ff1f8c" stroke-width="1.30"/>
<line x1="679.92" y1="537.87" x2="684.92" y2="537.87" stroke="#ff1f8c" stroke-width="1.30"/>
<line x1="679.92" y1="539.56" x2="684.92" y2="539.56" stroke="#ff1f8c" stroke-width="1.30"/>
<circle cx="682.42" cy="538.72" r="2.00" fill="#ff1f8c"/>
<line x1="714.85" y1="537.87" x2="714.85" y2="539.56" stroke="#ff1f8c" stroke-width="1.30"/>
<line x1="712.35" y1="537.87" x2="717.35" y2="537.87" stroke="#ff1f8c" stroke-width="1.30"/>
<line x1="712.35" y1="539.56" x2="717.35" y2="539.56" stroke="#ff1f8c" stroke-width="1.30"/>
<circle cx="714.85" cy="538.72" r="2.00" fill="#ff1f8c"/>
<line x1="747.28" y1="532.77" x2="747.28" y2="537.87" stroke="#ff1f8c" stroke-width="1.30"/>
<line x1="744.78" y1="532.77" x2="749.78" y2="532.77" stroke="#ff1f8c" stroke-width="1.30"/>
<line x1="744.78" y1="537.87" x2="749.78" y2="537.87" stroke="#ff1f8c" stroke-width="1.30"/>
<circle cx="747.28" cy="535.32" r="2.00" fill="#ff1f8c"/>
<polyline points="552.70,552.30 617.56,539.56 649.99,538.72 682.42,537.02 714.85,534.47 747.28,531.92" fill="none" stroke="#0000ff" stroke-width="2.00" stroke-dasharray="5,3.5" stroke-linejoin="round"/>
<circle cx="552.70" cy="552.30" r="2.00" fill="#0000ff"/>
<line x1="617.56" y1="538.72" x2="617.56" y2="540.41" stroke="#0000ff" stroke-width="1.30"/>
<line x1="615.06" y1="538.72" x2="620.06" y2="538.72" stroke="#0000ff" stroke-width="1.30"/>
<line x1="615.06" y1="540.41" x2="620.06" y2="540.41" stroke="#0000ff" stroke-width="1.30"/>
<circle cx="617.56" cy="539.56" r="2.00" fill="#0000ff"/>
<line x1="649.99" y1="537.87" x2="649.99" y2="539.56" stroke="#0000ff" stroke-width="1.30"/>
<line x1="647.49" y1="537.87" x2="652.49" y2="537.87" stroke="#0000ff" stroke-width="1.30"/>
<line x1="647.49" y1="539.56" x2="652.49" y2="539.56" stroke="#0000ff" stroke-width="1.30"/>
<circle cx="649.99" cy="538.72" r="2.00" fill="#0000ff"/>
<line x1="682.42" y1="533.62" x2="682.42" y2="540.41" stroke="#0000ff" stroke-width="1.30"/>
<line x1="679.92" y1="533.62" x2="684.92" y2="533.62" stroke="#0000ff" stroke-width="1.30"/>
<line x1="679.92" y1="540.41" x2="684.92" y2="540.41" stroke="#0000ff" stroke-width="1.30"/>
<circle cx="682.42" cy="537.02" r="2.00" fill="#0000ff"/>
<line x1="714.85" y1="531.92" x2="714.85" y2="537.02" stroke="#0000ff" stroke-width="1.30"/>
<line x1="712.35" y1="531.92" x2="717.35" y2="531.92" stroke="#0000ff" stroke-width="1.30"/>
<line x1="712.35" y1="537.02" x2="717.35" y2="537.02" stroke="#0000ff" stroke-width="1.30"/>
<circle cx="714.85" cy="534.47" r="2.00" fill="#0000ff"/>
<line x1="747.28" y1="524.28" x2="747.28" y2="539.56" stroke="#0000ff" stroke-width="1.30"/>
<line x1="744.78" y1="524.28" x2="749.78" y2="524.28" stroke="#0000ff" stroke-width="1.30"/>
<line x1="744.78" y1="539.56" x2="749.78" y2="539.56" stroke="#0000ff" stroke-width="1.30"/>
<circle cx="747.28" cy="531.92" r="2.00" fill="#0000ff"/>
<polyline points="552.70,552.30 617.56,534.47 649.99,514.09 682.42,501.36 714.85,498.81 747.28,474.19" fill="none" stroke="#000000" stroke-width="2.00" stroke-dasharray="5,3.5" stroke-linejoin="round"/>
<circle cx="552.70" cy="552.30" r="2.00" fill="#000000"/>
<line x1="617.56" y1="532.77" x2="617.56" y2="536.17" stroke="#000000" stroke-width="1.30"/>
<line x1="615.06" y1="532.77" x2="620.06" y2="532.77" stroke="#000000" stroke-width="1.30"/>
<line x1="615.06" y1="536.17" x2="620.06" y2="536.17" stroke="#000000" stroke-width="1.30"/>
<circle cx="617.56" cy="534.47" r="2.00" fill="#000000"/>
<line x1="649.99" y1="511.55" x2="649.99" y2="516.64" stroke="#000000" stroke-width="1.30"/>
<line x1="647.49" y1="511.55" x2="652.49" y2="511.55" stroke="#000000" stroke-width="1.30"/>
<line x1="647.49" y1="516.64" x2="652.49" y2="516.64" stroke="#000000" stroke-width="1.30"/>
<circle cx="649.99" cy="514.09" r="2.00" fill="#000000"/>
<line x1="682.42" y1="495.42" x2="682.42" y2="507.30" stroke="#000000" stroke-width="1.30"/>
<line x1="679.92" y1="495.42" x2="684.92" y2="495.42" stroke="#000000" stroke-width="1.30"/>
<line x1="679.92" y1="507.30" x2="684.92" y2="507.30" stroke="#000000" stroke-width="1.30"/>
<circle cx="682.42" cy="501.36" r="2.00" fill="#000000"/>
<line x1="714.85" y1="496.27" x2="714.85" y2="501.36" stroke="#000000" stroke-width="1.30"/>
<line x1="712.35" y1="496.27" x2="717.35" y2="496.27" stroke="#000000" stroke-width="1.30"/>
<line x1="712.35" y1="501.36" x2="717.35" y2="501.36" stroke="#000000" stroke-width="1.30"/>
<circle cx="714.85" cy="498.81" r="2.00" fill="#000000"/>
<line x1="747.28" y1="472.49" x2="747.28" y2="475.89" stroke="#000000" stroke-width="1.30"/>
<line x1="744.78" y1="472.49" x2="749.78" y2="472.49" stroke="#000000" stroke-width="1.30"/>
<line x1="744.78" y1="475.89" x2="749.78" y2="475.89" stroke="#000000" stroke-width="1.30"/>
<circle cx="747.28" cy="474.19" r="2.00" fill="#000000"/>
<polyline points="552.70,552.30 617.56,526.83 649.99,506.45 682.42,485.23 714.85,486.08 747.28,444.48" fill="none" stroke="#ff0000" stroke-width="2.00" stroke-linejoin="round"/>
<circle cx="552.70" cy="552.30" r="2.00" fill="#ff0000"/>
<line x1="617.56" y1="524.28" x2="617.56" y2="529.38" stroke="#ff0000" stroke-width="1.30"/>
<line x1="615.06" y1="524.28" x2="620.06" y2="524.28" stroke="#ff0000" stroke-width="1.30"/>
<line x1="615.06" y1="529.38" x2="620.06" y2="529.38" stroke="#ff0000" stroke-width="1.30"/>
<circle cx="617.56" cy="526.83" r="2.00" fill="#ff0000"/>
<line x1="649.99" y1="503.91" x2="649.99" y2="509.00" stroke="#ff0000" stroke-width="1.30"/>
<line x1="647.49" y1="503.91" x2="652.49" y2="503.91" stroke="#ff0000" stroke-width="1.30"/>
<line x1="647.49" y1="509.00" x2="652.49" y2="509.00" stroke="#ff0000" stroke-width="1.30"/>
<circle cx="649.99" cy="506.45" r="2.00" fill="#ff0000"/>
<line x1="682.42" y1="482.68" x2="682.42" y2="487.78" stroke="#ff0000" stroke-width="1.30"/>
<line x1="679.92" y1="482.68" x2="684.92" y2="482.68" stroke="#ff0000" stroke-width="1.30"/>
<line x1="679.92" y1="487.78" x2="684.92" y2="487.78" stroke="#ff0000" stroke-width="1.30"/>
<circle cx="682.42" cy="485.23" r="2.00" fill="#ff0000"/>
<line x1="714.85" y1="481.83" x2="714.85" y2="490.32" stroke="#ff0000" stroke-width="1.30"/>
<line x1="712.35" y1="481.83" x2="717.35" y2="481.83" stroke="#ff0000" stroke-width="1.30"/>
<line x1="712.35" y1="490.32" x2="717.35" y2="490.32" stroke="#ff0000" stroke-width="1.30"/>
<circle cx="714.85" cy="486.08" r="2.00" fill="#ff0000"/>
<line x1="747.28" y1="441.08" x2="747.28" y2="447.87" stroke="#ff0000" stroke-width="1.30"/>
<line x1="744.78" y1="441.08" x2="749.78" y2="441.08" stroke="#ff0000" stroke-width="1.30"/>
<line x1="744.78" y1="447.87" x2="749.78" y2="447.87" stroke="#ff0000" stroke-width="1.30"/>
<circle cx="747.28" cy="444.48" r="2.00" fill="#ff0000"/>
<polyline points="552.70,552.30 617.56,525.13 649.99,501.36 682.42,474.19 714.85,459.76 747.28,426.65" fill="none" stroke="#ff1f8c" stroke-width="2.00" stroke-linejoin="round"/>
<circle cx="552.70" cy="552.30" r="2.00" fill="#ff1f8c"/>
<line x1="617.56" y1="522.58" x2="617.56" y2="527.68" stroke="#ff1f8c" stroke-width="1.30"/>
<line x1="615.06" y1="522.58" x2="620.06" y2="522.58" stroke="#ff1f8c" stroke-width="1.30"/>
<line x1="615.06" y1="527.68" x2="620.06" y2="527.68" stroke="#ff1f8c" stroke-width="1.30"/>
<circle cx="617.56" cy="525.13" r="2.00" fill="#ff1f8c"/>
<line x1="649.99" y1="498.81" x2="649.99" y2="503.91" stroke="#ff1f8c" stroke-width="1.30"/>
<line x1="647.49" y1="498.81" x2="652.49" y2="498.81" stroke="#ff1f8c" stroke-width="1.30"/>
<line x1="647.49" y1="503.91" x2="652.49" y2="503.91" stroke="#ff1f8c" stroke-width="1.30"/>
<circle cx="649.99" cy="501.36" r="2.00" fill="#ff1f8c"/>
<line x1="682.42" y1="471.64" x2="682.42" y2="476.74" stroke="#ff1f8c" stroke-width="1.30"/>
<line x1="679.92" y1="471.64" x2="684.92" y2="471.64" stroke="#ff1f8c" stroke-width="1.30"/>
<line x1="679.92" y1="476.74" x2="684.92" y2="476.74" stroke="#ff1f8c" stroke-width="1.30"/>
<circle cx="682.42" cy="474.19" r="2.00" fill="#ff1f8c"/>
<line x1="714.85" y1="455.51" x2="714.85" y2="464.00" stroke="#ff1f8c" stroke-width="1.30"/>
<line x1="712.35" y1="455.51" x2="717.35" y2="455.51" stroke="#ff1f8c" stroke-width="1.30"/>
<line x1="712.35" y1="464.00" x2="717.35" y2="464.00" stroke="#ff1f8c" stroke-width="1.30"/>
<circle cx="714.85" cy="459.76" r="2.00" fill="#ff1f8c"/>
<line x1="747.28" y1="415.61" x2="747.28" y2="437.68" stroke="#ff1f8c" stroke-width="1.30"/>
<line x1="744.78" y1="415.61" x2="749.78" y2="415.61" stroke="#ff1f8c" stroke-width="1.30"/>
<line x1="744.78" y1="437.68" x2="749.78" y2="437.68" stroke="#ff1f8c" stroke-width="1.30"/>
<circle cx="747.28" cy="426.65" r="2.00" fill="#ff1f8c"/>
<polyline points="552.70,552.30 617.56,523.43 649.99,499.66 682.42,474.19 714.85,462.31 747.28,407.97" fill="none" stroke="#0000ff" stroke-width="2.00" stroke-linejoin="round"/>
<circle cx="552.70" cy="552.30" r="2.00" fill="#0000ff"/>
<line x1="617.56" y1="520.89" x2="617.56" y2="525.98" stroke="#0000ff" stroke-width="1.30"/>
<line x1="615.06" y1="520.89" x2="620.06" y2="520.89" stroke="#0000ff" stroke-width="1.30"/>
<line x1="615.06" y1="525.98" x2="620.06" y2="525.98" stroke="#0000ff" stroke-width="1.30"/>
<circle cx="617.56" cy="523.43" r="2.00" fill="#0000ff"/>
<line x1="649.99" y1="497.11" x2="649.99" y2="502.21" stroke="#0000ff" stroke-width="1.30"/>
<line x1="647.49" y1="497.11" x2="652.49" y2="497.11" stroke="#0000ff" stroke-width="1.30"/>
<line x1="647.49" y1="502.21" x2="652.49" y2="502.21" stroke="#0000ff" stroke-width="1.30"/>
<circle cx="649.99" cy="499.66" r="2.00" fill="#0000ff"/>
<line x1="682.42" y1="472.49" x2="682.42" y2="475.89" stroke="#0000ff" stroke-width="1.30"/>
<line x1="679.92" y1="472.49" x2="684.92" y2="472.49" stroke="#0000ff" stroke-width="1.30"/>
<line x1="679.92" y1="475.89" x2="684.92" y2="475.89" stroke="#0000ff" stroke-width="1.30"/>
<circle cx="682.42" cy="474.19" r="2.00" fill="#0000ff"/>
<line x1="714.85" y1="458.91" x2="714.85" y2="465.70" stroke="#0000ff" stroke-width="1.30"/>
<line x1="712.35" y1="458.91" x2="717.35" y2="458.91" stroke="#0000ff" stroke-width="1.30"/>
<line x1="712.35" y1="465.70" x2="717.35" y2="465.70" stroke="#0000ff" stroke-width="1.30"/>
<circle cx="714.85" cy="462.31" r="2.00" fill="#0000ff"/>
<line x1="747.28" y1="399.48" x2="747.28" y2="416.46" stroke="#0000ff" stroke-width="1.30"/>
<line x1="744.78" y1="399.48" x2="749.78" y2="399.48" stroke="#0000ff" stroke-width="1.30"/>
<line x1="744.78" y1="416.46" x2="749.78" y2="416.46" stroke="#0000ff" stroke-width="1.30"/>
<circle cx="747.28" cy="407.97" r="2.00" fill="#0000ff"/>
<polyline points="552.70,552.30 617.56,518.34 649.99,486.08 682.42,455.51 714.85,452.12 747.28,438.53" fill="none" stroke="#00ee00" stroke-width="2.00" stroke-linejoin="round"/>
<circle cx="552.70" cy="552.30" r="2.00" fill="#00ee00"/>
<line x1="617.56" y1="511.55" x2="617.56" y2="525.13" stroke="#00ee00" stroke-width="1.30"/>
<line x1="615.06" y1="511.55" x2="620.06" y2="511.55" stroke="#00ee00" stroke-width="1.30"/>
<line x1="615.06" y1="525.13" x2="620.06" y2="525.13" stroke="#00ee00" stroke-width="1.30"/>
<circle cx="617.56" cy="518.34" r="2.00" fill="#00ee00"/>
<line x1="649.99" y1="481.83" x2="649.99" y2="490.32" stroke="#00ee00" stroke-width="1.30"/>
<line x1="647.49" y1="481.83" x2="652.49" y2="481.83" stroke="#00ee00" stroke-width="1.30"/>
<line x1="647.49" y1="490.32" x2="652.49" y2="490.32" stroke="#00ee00" stroke-width="1.30"/>
<circle cx="649.99" cy="486.08" r="2.00" fill="#00ee00"/>
<line x1="682.42" y1="453.82" x2="682.42" y2="457.21" stroke="#00ee00" stroke-width="1.30"/>
<line x1="679.92" y1="453.82" x2="684.92" y2="453.82" stroke="#00ee00" stroke-width="1.30"/>
<line x1="679.92" y1="457.21" x2="684.92" y2="457.21" stroke="#00ee00" stroke-width="1.30"/>
<circle cx="682.42" cy="455.51" r="2.00" fill="#00ee00"/>
<line x1="714.85" y1="446.17" x2="714.85" y2="458.06" stroke="#00ee00" stroke-width="1.30"/>
<line x1="712.35" y1="446.17" x2="717.35" y2="446.17" stroke="#00ee00" stroke-width="1.30"/>
<line x1="712.35" y1="458.06" x2="717.35" y2="458.06" stroke="#00ee00" stroke-width="1.30"/>
<circle cx="714.85" cy="452.12" r="2.00" fill="#00ee00"/>
<line x1="747.28" y1="433.44" x2="747.28" y2="443.63" stroke="#00ee00" stroke-width="1.30"/>
<line x1="744.78" y1="433.44" x2="749.78" y2="433.44" stroke="#00ee00" stroke-width="1.30"/>
<line x1="744.78" y1="443.63" x2="749.78" y2="443.63" stroke="#00ee00" stroke-width="1.30"/>
<circle cx="747.28" cy="438.53" r="2.00" fill="#00ee00"/>
<polyline points="552.70,552.30 617.56,518.34 649.99,486.93 682.42,447.87 714.85,435.14 747.28,368.92" fill="none" stroke="#000000" stroke-width="2.00" stroke-linejoin="round"/>
<circle cx="552.70" cy="552.30" r="2.00" fill="#000000"/>
<line x1="617.56" y1="515.79" x2="617.56" y2="520.89" stroke="#000000" stroke-width="1.30"/>
<line x1="615.06" y1="515.79" x2="620.06" y2="515.79" stroke="#000000" stroke-width="1.30"/>
<line x1="615.06" y1="520.89" x2="620.06" y2="520.89" stroke="#000000" stroke-width="1.30"/>
<circle cx="617.56" cy="518.34" r="2.00" fill="#000000"/>
<line x1="649.99" y1="484.38" x2="649.99" y2="489.47" stroke="#000000" stroke-width="1.30"/>
<line x1="647.49" y1="484.38" x2="652.49" y2="484.38" stroke="#000000" stroke-width="1.30"/>
<line x1="647.49" y1="489.47" x2="652.49" y2="489.47" stroke="#000000" stroke-width="1.30"/>
<circle cx="649.99" cy="486.93" r="2.00" fill="#000000"/>
<line x1="682.42" y1="445.33" x2="682.42" y2="450.42" stroke="#000000" stroke-width="1.30"/>
<line x1="679.92" y1="445.33" x2="684.92" y2="445.33" stroke="#000000" stroke-width="1.30"/>
<line x1="679.92" y1="450.42" x2="684.92" y2="450.42" stroke="#000000" stroke-width="1.30"/>
<circle cx="682.42" cy="447.87" r="2.00" fill="#000000"/>
<line x1="714.85" y1="430.04" x2="714.85" y2="440.23" stroke="#000000" stroke-width="1.30"/>
<line x1="712.35" y1="430.04" x2="717.35" y2="430.04" stroke="#000000" stroke-width="1.30"/>
<line x1="712.35" y1="440.23" x2="717.35" y2="440.23" stroke="#000000" stroke-width="1.30"/>
<circle cx="714.85" cy="435.14" r="2.00" fill="#000000"/>
<line x1="747.28" y1="358.73" x2="747.28" y2="379.10" stroke="#000000" stroke-width="1.30"/>
<line x1="744.78" y1="358.73" x2="749.78" y2="358.73" stroke="#000000" stroke-width="1.30"/>
<line x1="744.78" y1="379.10" x2="749.78" y2="379.10" stroke="#000000" stroke-width="1.30"/>
<circle cx="747.28" cy="368.92" r="2.00" fill="#000000"/>
<text transform="translate(502.50 536.80) rotate(-90)" x="-1.77" y="0" font-size="20.70" textLength="191.62" lengthAdjust="spacingAndGlyphs" fill="#000">Relative growth rate</text>
<text x="627.19" y="601.00" font-size="21.80" textLength="44.83" lengthAdjust="spacingAndGlyphs" fill="#000">Days</text>
<polyline points="758.30,473.80 769.70,473.80 769.70,536.10 758.30,536.10" fill="none" stroke="#000" stroke-width="1.90" stroke-linejoin="round"/>
<text x="774.10" y="499.44" font-size="19.00" transform="rotate(-90.0 777.80 489.70)">*</text>
<text x="774.10" y="508.24" font-size="19.00" transform="rotate(-90.0 777.80 498.50)">*</text>
<text x="774.10" y="516.54" font-size="19.00" transform="rotate(-90.0 777.80 506.80)">*</text>
<text x="774.10" y="525.14" font-size="19.00" transform="rotate(-90.0 777.80 515.40)">*</text>
<line x1="843.00" y1="343.70" x2="859.80" y2="343.70" stroke="#000000" stroke-width="1.80"/>
<circle cx="851.30" cy="343.70" r="1.80" fill="#000000"/>
<text x="869.25" y="351.00" font-size="20.80" textLength="64.78" lengthAdjust="spacingAndGlyphs" fill="#000">shCON</text>
<line x1="843.00" y1="365.90" x2="859.80" y2="365.90" stroke="#000000" stroke-width="1.80" stroke-dasharray="4,3.5"/>
<circle cx="851.30" cy="365.90" r="1.80" fill="#000000"/>
<text x="869.25" y="373.20" font-size="20.80" textLength="122.43" lengthAdjust="spacingAndGlyphs" fill="#000">shCON+CHKi</text>
<line x1="843.00" y1="387.70" x2="859.80" y2="387.70" stroke="#ff0000" stroke-width="1.80"/>
<circle cx="851.30" cy="387.70" r="1.80" fill="#ff0000"/>
<text x="869.25" y="395.00" font-size="20.80" textLength="77.23" lengthAdjust="spacingAndGlyphs" fill="#000">shTrx1-1</text>
<line x1="843.00" y1="407.70" x2="859.80" y2="407.70" stroke="#ff0000" stroke-width="1.80" stroke-dasharray="4,3.5"/>
<circle cx="851.30" cy="407.70" r="1.80" fill="#ff0000"/>
<text x="869.25" y="415.00" font-size="20.80" textLength="134.88" lengthAdjust="spacingAndGlyphs" fill="#000">shTrx1-1+CHKi</text>
<line x1="843.00" y1="428.95" x2="859.80" y2="428.95" stroke="#00ee00" stroke-width="1.80"/>
<circle cx="851.30" cy="428.95" r="1.80" fill="#00ee00"/>
<text x="869.25" y="436.25" font-size="20.80" textLength="77.23" lengthAdjust="spacingAndGlyphs" fill="#000">shTrx1-2</text>
<line x1="843.00" y1="450.60" x2="859.80" y2="450.60" stroke="#00ee00" stroke-width="1.80" stroke-dasharray="4,3.5"/>
<circle cx="851.30" cy="450.60" r="1.80" fill="#00ee00"/>
<text x="869.25" y="457.90" font-size="20.80" textLength="134.88" lengthAdjust="spacingAndGlyphs" fill="#000">shTrx1-2+CHKi</text>
<line x1="843.00" y1="473.50" x2="859.80" y2="473.50" stroke="#0000ff" stroke-width="1.80"/>
<circle cx="851.30" cy="473.50" r="1.80" fill="#0000ff"/>
<text x="869.25" y="480.80" font-size="20.80" textLength="95.90" lengthAdjust="spacingAndGlyphs" fill="#000">shTrxR1  3</text>
<line x1="843.00" y1="495.40" x2="859.80" y2="495.40" stroke="#0000ff" stroke-width="1.80" stroke-dasharray="4,3.5"/>
<circle cx="851.30" cy="495.40" r="1.80" fill="#0000ff"/>
<text x="869.25" y="502.70" font-size="20.80" textLength="153.55" lengthAdjust="spacingAndGlyphs" fill="#000">shTrxR1  3+CHKi</text>
<line x1="843.00" y1="517.50" x2="859.80" y2="517.50" stroke="#ff1f8c" stroke-width="1.80"/>
<circle cx="851.30" cy="517.50" r="1.80" fill="#ff1f8c"/>
<text x="869.25" y="524.80" font-size="20.80" textLength="95.90" lengthAdjust="spacingAndGlyphs" fill="#000">shTrxR1  5</text>
<line x1="843.00" y1="539.40" x2="859.80" y2="539.40" stroke="#ff1f8c" stroke-width="1.80" stroke-dasharray="4,3.5"/>
<circle cx="851.30" cy="539.40" r="1.80" fill="#ff1f8c"/>
<text x="869.25" y="546.70" font-size="20.80" textLength="153.55" lengthAdjust="spacingAndGlyphs" fill="#000">shTrxR1  5+CHKi</text>
<text x="2.53" y="669.30" font-size="29.00" font-weight="bold" textLength="15.32" lengthAdjust="spacingAndGlyphs" fill="#000">e</text>
<text x="112.18" y="652.90" font-size="19.80" textLength="59.75" lengthAdjust="spacingAndGlyphs" fill="#000">-CHK1i</text>
<line x1="74.00" y1="664.00" x2="219.60" y2="664.00" stroke="#000" stroke-width="2.60"/>
<text x="262.39" y="652.90" font-size="19.80" textLength="153.06" lengthAdjust="spacingAndGlyphs" fill="#000">+CHK1i (25mg/kg)</text>
<line x1="261.00" y1="664.00" x2="428.40" y2="664.00" stroke="#000" stroke-width="2.60"/>
<rect x="57.80" y="675.30" width="375.40" height="282.30" fill="#f4f4f4"/>
<rect x="57.80" y="745.00" width="375.40" height="1.00" fill="#ececec"/>
<rect x="57.80" y="790.00" width="375.40" height="1.00" fill="#ececec"/>
<rect x="57.80" y="850.00" width="375.40" height="1.00" fill="#ececec"/>
<rect x="57.80" y="905.00" width="375.40" height="1.00" fill="#ececec"/>
<path d="M58.1,674.9 H68.3 V740 Q68.3,745.2 63,745.2 H58.1 Z" fill="#fbfbfb"/>
<line x1="62.60" y1="677.00" x2="67.80" y2="677.00" stroke="#555" stroke-width="0.80"/>
<line x1="62.60" y1="679.19" x2="67.80" y2="679.19" stroke="#555" stroke-width="0.80"/>
<line x1="60.20" y1="681.38" x2="67.80" y2="681.38" stroke="#555" stroke-width="0.80"/>
<line x1="62.60" y1="683.57" x2="67.80" y2="683.57" stroke="#555" stroke-width="0.80"/>
<line x1="62.60" y1="685.76" x2="67.80" y2="685.76" stroke="#555" stroke-width="0.80"/>
<line x1="62.60" y1="687.95" x2="67.80" y2="687.95" stroke="#555" stroke-width="0.80"/>
<line x1="62.60" y1="690.14" x2="67.80" y2="690.14" stroke="#555" stroke-width="0.80"/>
<line x1="58.60" y1="692.33" x2="67.80" y2="692.33" stroke="#555" stroke-width="0.80"/>
<line x1="62.60" y1="694.52" x2="67.80" y2="694.52" stroke="#555" stroke-width="0.80"/>
<line x1="62.60" y1="696.71" x2="67.80" y2="696.71" stroke="#555" stroke-width="0.80"/>
<line x1="62.60" y1="698.90" x2="67.80" y2="698.90" stroke="#555" stroke-width="0.80"/>
<line x1="62.60" y1="701.09" x2="67.80" y2="701.09" stroke="#555" stroke-width="0.80"/>
<line x1="60.20" y1="703.28" x2="67.80" y2="703.28" stroke="#555" stroke-width="0.80"/>
<line x1="62.60" y1="705.47" x2="67.80" y2="705.47" stroke="#555" stroke-width="0.80"/>
<line x1="62.60" y1="707.66" x2="67.80" y2="707.66" stroke="#555" stroke-width="0.80"/>
<line x1="62.60" y1="709.85" x2="67.80" y2="709.85" stroke="#555" stroke-width="0.80"/>
<line x1="62.60" y1="712.04" x2="67.80" y2="712.04" stroke="#555" stroke-width="0.80"/>
<line x1="58.60" y1="714.23" x2="67.80" y2="714.23" stroke="#555" stroke-width="0.80"/>
<line x1="62.60" y1="716.42" x2="67.80" y2="716.42" stroke="#555" stroke-width="0.80"/>
<line x1="62.60" y1="718.61" x2="67.80" y2="718.61" stroke="#555" stroke-width="0.80"/>
<line x1="62.60" y1="720.80" x2="67.80" y2="720.80" stroke="#555" stroke-width="0.80"/>
<line x1="62.60" y1="722.99" x2="67.80" y2="722.99" stroke="#555" stroke-width="0.80"/>
<line x1="60.20" y1="725.18" x2="67.80" y2="725.18" stroke="#555" stroke-width="0.80"/>
<line x1="62.60" y1="727.37" x2="67.80" y2="727.37" stroke="#555" stroke-width="0.80"/>
<line x1="62.60" y1="729.56" x2="67.80" y2="729.56" stroke="#555" stroke-width="0.80"/>
<line x1="62.60" y1="731.75" x2="67.80" y2="731.75" stroke="#555" stroke-width="0.80"/>
<line x1="62.60" y1="733.94" x2="67.80" y2="733.94" stroke="#555" stroke-width="0.80"/>
<line x1="58.60" y1="736.13" x2="67.80" y2="736.13" stroke="#555" stroke-width="0.80"/>
<line x1="62.60" y1="738.32" x2="67.80" y2="738.32" stroke="#555" stroke-width="0.80"/>
<text transform="translate(61.3 694.5) rotate(-90)" font-size="4.5" fill="#333">2</text>
<text transform="translate(61.3 716.3) rotate(-90)" font-size="4.5" fill="#333">1</text>
<text transform="translate(62.2 739) rotate(-90)" font-size="4.5" fill="#333">CM</text>
<path d="M104.94,710.61 L105.35,715.15 L105.25,719.69 L104.59,723.98 L103.37,727.74 L101.66,730.73 L99.61,732.84 L97.41,734.14 L95.23,734.86 L93.13,735.34 L91.08,735.83 L88.99,736.36 L86.73,736.75 L84.30,736.62 L81.80,735.59 L79.43,733.44 L77.43,730.22 L75.97,726.23 L75.07,721.87 L74.63,717.49 L74.47,713.27 L74.43,709.19 L74.48,705.13 L74.68,701.00 L75.19,696.88 L76.17,693.02 L77.68,689.76 L79.66,687.42 L81.95,686.12 L84.36,685.78 L86.74,686.17 L89.01,687.01 L91.19,688.09 L93.32,689.38 L95.43,690.95 L97.51,692.94 L99.50,695.46 L101.31,698.56 L102.86,702.18 L104.09,706.24 Z" fill="#cc6464"/>
<g clip-path="url(#tcl1)">
<ellipse cx="81.04" cy="722.95" rx="5.56" ry="9.91" fill="#c84a4e" opacity="0.85" filter="url(#tblur)"/>
<ellipse cx="93.22" cy="703.46" rx="6.18" ry="8.49" fill="#f2dccc" opacity="0.85" filter="url(#tblur)"/>
<ellipse cx="89.42" cy="720.41" rx="6.68" ry="7.57" fill="#e6aca0" opacity="0.85" filter="url(#tblur)"/>
<ellipse cx="80.87" cy="713.28" rx="3.83" ry="10.24" fill="#f2dccc" opacity="0.85" filter="url(#tblur)"/>
<ellipse cx="92.58" cy="704.36" rx="4.39" ry="9.68" fill="#ecc8b8" opacity="0.85" filter="url(#tblur)"/>
<ellipse cx="87.51" cy="722.99" rx="6.87" ry="10.53" fill="#c84a4e" opacity="0.85" filter="url(#tblur)"/>
<path d="M104.94,710.61 L105.35,715.15 L105.25,719.69 L104.59,723.98 L103.37,727.74 L101.66,730.73 L99.61,732.84 L97.41,734.14 L95.23,734.86 L93.13,735.34 L91.08,735.83 L88.99,736.36 L86.73,736.75 L84.30,736.62 L81.80,735.59 L79.43,733.44 L77.43,730.22 L75.97,726.23 L75.07,721.87 L74.63,717.49 L74.47,713.27 L74.43,709.19 L74.48,705.13 L74.68,701.00 L75.19,696.88 L76.17,693.02 L77.68,689.76 L79.66,687.42 L81.95,686.12 L84.36,685.78 L86.74,686.17 L89.01,687.01 L91.19,688.09 L93.32,689.38 L95.43,690.95 L97.51,692.94 L99.50,695.46 L101.31,698.56 L102.86,702.18 L104.09,706.24 Z" fill="none" stroke="#6a1a22" stroke-opacity="0.35" stroke-width="2.70" filter="url(#tblur)"/>
<path d="M84.50,707.95 q3.75,-5.40 7.50,1.35" fill="none" stroke="#fff3ee" stroke-opacity="0.55" stroke-width="0.9"/>
</g>
<path d="M152.20,718.94 L151.58,722.91 L150.55,727.02 L148.95,731.01 L146.77,734.46 L144.14,736.98 L141.30,738.36 L138.55,738.64 L136.04,738.12 L133.83,737.19 L131.82,736.21 L129.85,735.33 L127.84,734.48 L125.77,733.39 L123.78,731.79 L122.07,729.49 L120.83,726.47 L120.18,722.86 L120.14,718.90 L120.67,714.80 L121.68,710.76 L123.09,706.90 L124.84,703.34 L126.89,700.17 L129.16,697.50 L131.58,695.39 L134.05,693.83 L136.52,692.74 L138.95,692.02 L141.37,691.60 L143.79,691.53 L146.17,691.94 L148.41,693.01 L150.35,694.86 L151.81,697.48 L152.73,700.70 L153.12,704.26 L153.12,707.91 L152.91,711.54 L152.60,715.18 Z" fill="#b04a50"/>
<g clip-path="url(#tcl2)">
<ellipse cx="130.47" cy="709.70" rx="4.78" ry="9.44" fill="#e0b0a0" opacity="0.85" filter="url(#tblur)"/>
<ellipse cx="143.83" cy="708.59" rx="8.47" ry="7.18" fill="#7a2028" opacity="0.85" filter="url(#tblur)"/>
<ellipse cx="144.48" cy="729.32" rx="7.87" ry="9.52" fill="#5e1a22" opacity="0.85" filter="url(#tblur)"/>
<ellipse cx="133.49" cy="711.36" rx="7.69" ry="6.51" fill="#7a2028" opacity="0.85" filter="url(#tblur)"/>
<ellipse cx="140.72" cy="710.68" rx="7.18" ry="7.60" fill="#c86a6a" opacity="0.85" filter="url(#tblur)"/>
<ellipse cx="131.86" cy="728.41" rx="8.12" ry="7.74" fill="#e0b0a0" opacity="0.85" filter="url(#tblur)"/>
<path d="M152.20,718.94 L151.58,722.91 L150.55,727.02 L148.95,731.01 L146.77,734.46 L144.14,736.98 L141.30,738.36 L138.55,738.64 L136.04,738.12 L133.83,737.19 L131.82,736.21 L129.85,735.33 L127.84,734.48 L125.77,733.39 L123.78,731.79 L122.07,729.49 L120.83,726.47 L120.18,722.86 L120.14,718.90 L120.67,714.80 L121.68,710.76 L123.09,706.90 L124.84,703.34 L126.89,700.17 L129.16,697.50 L131.58,695.39 L134.05,693.83 L136.52,692.74 L138.95,692.02 L141.37,691.60 L143.79,691.53 L146.17,691.94 L148.41,693.01 L150.35,694.86 L151.81,697.48 L152.73,700.70 L153.12,704.26 L153.12,707.91 L152.91,711.54 L152.60,715.18 Z" fill="none" stroke="#6a1a22" stroke-opacity="0.35" stroke-width="2.79" filter="url(#tblur)"/>
<path d="M132.85,711.25 q3.88,-5.00 7.75,1.25" fill="none" stroke="#fff3ee" stroke-opacity="0.55" stroke-width="0.9"/>
</g>
<path d="M197.22,713.86 L196.78,717.56 L195.70,721.13 L194.01,724.29 L191.83,726.83 L189.39,728.66 L186.89,729.88 L184.43,730.65 L182.06,731.14 L179.72,731.45 L177.38,731.55 L175.01,731.31 L172.66,730.63 L170.41,729.40 L168.33,727.61 L166.51,725.28 L165.02,722.45 L163.93,719.19 L163.35,715.58 L163.38,711.79 L164.07,708.01 L165.38,704.51 L167.17,701.48 L169.26,699.00 L171.42,697.00 L173.53,695.29 L175.58,693.63 L177.66,691.92 L179.91,690.22 L182.39,688.79 L185.06,687.99 L187.74,688.12 L190.21,689.32 L192.25,691.46 L193.77,694.25 L194.84,697.36 L195.60,700.54 L196.22,703.70 L196.76,706.91 L197.15,710.28 Z" fill="#cc6464"/>
<g clip-path="url(#tcl3)">
<ellipse cx="172.79" cy="702.66" rx="6.98" ry="5.41" fill="#b8303a" opacity="0.85" filter="url(#tblur)"/>
<ellipse cx="186.28" cy="706.61" rx="7.40" ry="5.94" fill="#a0303a" opacity="0.85" filter="url(#tblur)"/>
<ellipse cx="184.15" cy="715.66" rx="5.95" ry="6.23" fill="#e6aca0" opacity="0.85" filter="url(#tblur)"/>
<ellipse cx="186.80" cy="721.44" rx="6.60" ry="10.85" fill="#b8303a" opacity="0.85" filter="url(#tblur)"/>
<ellipse cx="176.21" cy="712.72" rx="6.27" ry="6.43" fill="#a0303a" opacity="0.85" filter="url(#tblur)"/>
<ellipse cx="188.74" cy="713.61" rx="7.19" ry="5.72" fill="#a0303a" opacity="0.85" filter="url(#tblur)"/>
<path d="M197.22,713.86 L196.78,717.56 L195.70,721.13 L194.01,724.29 L191.83,726.83 L189.39,728.66 L186.89,729.88 L184.43,730.65 L182.06,731.14 L179.72,731.45 L177.38,731.55 L175.01,731.31 L172.66,730.63 L170.41,729.40 L168.33,727.61 L166.51,725.28 L165.02,722.45 L163.93,719.19 L163.35,715.58 L163.38,711.79 L164.07,708.01 L165.38,704.51 L167.17,701.48 L169.26,699.00 L171.42,697.00 L173.53,695.29 L175.58,693.63 L177.66,691.92 L179.91,690.22 L182.39,688.79 L185.06,687.99 L187.74,688.12 L190.21,689.32 L192.25,691.46 L193.77,694.25 L194.84,697.36 L195.60,700.54 L196.22,703.70 L196.76,706.91 L197.15,710.28 Z" fill="none" stroke="#6a1a22" stroke-opacity="0.35" stroke-width="2.88" filter="url(#tblur)"/>
<path d="M176.20,707.62 q4.00,-4.50 8.00,1.12" fill="none" stroke="#fff3ee" stroke-opacity="0.55" stroke-width="0.9"/>
</g>
<path d="M232.74,712.31 L233.80,716.26 L234.50,720.47 L234.66,724.76 L234.17,728.86 L233.02,732.48 L231.32,735.41 L229.21,737.59 L226.87,739.02 L224.40,739.77 L221.89,739.91 L219.40,739.49 L216.96,738.55 L214.62,737.15 L212.38,735.40 L210.22,733.38 L208.09,731.12 L205.96,728.57 L203.87,725.59 L201.93,722.07 L200.37,718.02 L199.42,713.60 L199.27,709.14 L199.95,705.02 L201.32,701.55 L203.14,698.83 L205.14,696.73 L207.12,694.98 L209.05,693.34 L211.01,691.70 L213.13,690.23 L215.50,689.24 L218.09,689.09 L220.75,690.02 L223.27,692.01 L225.49,694.84 L227.33,698.15 L228.88,701.62 L230.23,705.11 L231.52,708.63 Z" fill="#b04a50"/>
<g clip-path="url(#tcl4)">
<ellipse cx="212.13" cy="719.47" rx="4.03" ry="6.16" fill="#5e1a22" opacity="0.85" filter="url(#tblur)"/>
<ellipse cx="212.13" cy="706.64" rx="8.78" ry="6.86" fill="#7a2028" opacity="0.85" filter="url(#tblur)"/>
<ellipse cx="223.29" cy="710.42" rx="5.70" ry="10.59" fill="#8a2a32" opacity="0.85" filter="url(#tblur)"/>
<ellipse cx="219.69" cy="718.05" rx="4.38" ry="7.41" fill="#e0b0a0" opacity="0.85" filter="url(#tblur)"/>
<ellipse cx="218.73" cy="714.82" rx="6.06" ry="12.68" fill="#5e1a22" opacity="0.85" filter="url(#tblur)"/>
<ellipse cx="223.16" cy="721.22" rx="7.46" ry="11.00" fill="#7a2028" opacity="0.85" filter="url(#tblur)"/>
<path d="M232.74,712.31 L233.80,716.26 L234.50,720.47 L234.66,724.76 L234.17,728.86 L233.02,732.48 L231.32,735.41 L229.21,737.59 L226.87,739.02 L224.40,739.77 L221.89,739.91 L219.40,739.49 L216.96,738.55 L214.62,737.15 L212.38,735.40 L210.22,733.38 L208.09,731.12 L205.96,728.57 L203.87,725.59 L201.93,722.07 L200.37,718.02 L199.42,713.60 L199.27,709.14 L199.95,705.02 L201.32,701.55 L203.14,698.83 L205.14,696.73 L207.12,694.98 L209.05,693.34 L211.01,691.70 L213.13,690.23 L215.50,689.24 L218.09,689.09 L220.75,690.02 L223.27,692.01 L225.49,694.84 L227.33,698.15 L228.88,701.62 L230.23,705.11 L231.52,708.63 Z" fill="none" stroke="#6a1a22" stroke-opacity="0.35" stroke-width="2.88" filter="url(#tblur)"/>
<path d="M212.70,711.10 q4.00,-5.20 8.00,1.30" fill="none" stroke="#fff3ee" stroke-opacity="0.55" stroke-width="0.9"/>
</g>
<path d="M295.21,710.40 L295.13,712.80 L294.84,715.19 L294.30,717.53 L293.46,719.72 L292.33,721.65 L290.96,723.23 L289.40,724.43 L287.74,725.24 L286.03,725.67 L284.30,725.73 L282.60,725.40 L280.99,724.68 L279.51,723.57 L278.20,722.15 L277.07,720.52 L276.08,718.76 L275.16,716.92 L274.27,714.96 L273.43,712.81 L272.76,710.40 L272.40,707.76 L272.52,705.04 L273.19,702.48 L274.41,700.34 L276.00,698.79 L277.79,697.85 L279.56,697.38 L281.23,697.15 L282.78,696.95 L284.30,696.69 L285.88,696.43 L287.56,696.35 L289.29,696.68 L290.96,697.56 L292.42,699.03 L293.57,700.97 L294.38,703.21 L294.87,705.59 L295.13,708.00 Z" fill="#cc6464"/>
<g clip-path="url(#tcl5)">
<ellipse cx="278.91" cy="711.64" rx="3.94" ry="6.43" fill="#f2dccc" opacity="0.85" filter="url(#tblur)"/>
<ellipse cx="287.62" cy="701.85" rx="5.42" ry="3.73" fill="#c84a4e" opacity="0.85" filter="url(#tblur)"/>
<ellipse cx="281.61" cy="714.58" rx="3.03" ry="6.10" fill="#f2dccc" opacity="0.85" filter="url(#tblur)"/>
<ellipse cx="286.04" cy="717.86" rx="3.42" ry="7.65" fill="#e6aca0" opacity="0.85" filter="url(#tblur)"/>
<ellipse cx="287.23" cy="714.01" rx="5.81" ry="4.68" fill="#f2dccc" opacity="0.85" filter="url(#tblur)"/>
<ellipse cx="283.53" cy="707.00" rx="3.29" ry="5.36" fill="#c84a4e" opacity="0.85" filter="url(#tblur)"/>
<path d="M295.21,710.40 L295.13,712.80 L294.84,715.19 L294.30,717.53 L293.46,719.72 L292.33,721.65 L290.96,723.23 L289.40,724.43 L287.74,725.24 L286.03,725.67 L284.30,725.73 L282.60,725.40 L280.99,724.68 L279.51,723.57 L278.20,722.15 L277.07,720.52 L276.08,718.76 L275.16,716.92 L274.27,714.96 L273.43,712.81 L272.76,710.40 L272.40,707.76 L272.52,705.04 L273.19,702.48 L274.41,700.34 L276.00,698.79 L277.79,697.85 L279.56,697.38 L281.23,697.15 L282.78,696.95 L284.30,696.69 L285.88,696.43 L287.56,696.35 L289.29,696.68 L290.96,697.56 L292.42,699.03 L293.57,700.97 L294.38,703.21 L294.87,705.59 L295.13,708.00 Z" fill="none" stroke="#6a1a22" stroke-opacity="0.35" stroke-width="1.98" filter="url(#tblur)"/>
<path d="M281.00,708.09 q2.75,-3.08 5.50,0.77" fill="none" stroke="#fff3ee" stroke-opacity="0.55" stroke-width="0.9"/>
</g>
<path d="M331.75,712.50 L330.93,714.37 L330.03,716.02 L329.16,717.55 L328.34,719.07 L327.47,720.62 L326.42,722.15 L325.10,723.52 L323.50,724.58 L321.70,725.22 L319.80,725.40 L317.91,725.16 L316.09,724.59 L314.38,723.76 L312.79,722.71 L311.35,721.45 L310.09,719.97 L309.08,718.28 L308.37,716.43 L307.97,714.48 L307.88,712.50 L308.06,710.53 L308.50,708.61 L309.19,706.78 L310.16,705.08 L311.41,703.61 L312.91,702.45 L314.59,701.66 L316.34,701.23 L318.09,701.09 L319.80,701.10 L321.49,701.17 L323.24,701.27 L325.10,701.48 L327.04,701.94 L328.94,702.82 L330.59,704.20 L331.77,706.04 L332.34,708.18 L332.29,710.40 Z" fill="#cc6464"/>
<g clip-path="url(#tcl6)">
<ellipse cx="313.85" cy="708.89" rx="4.84" ry="3.86" fill="#c84a4e" opacity="0.85" filter="url(#tblur)"/>
<ellipse cx="319.71" cy="715.53" rx="3.99" ry="5.67" fill="#a0303a" opacity="0.85" filter="url(#tblur)"/>
<ellipse cx="317.84" cy="711.62" rx="3.85" ry="3.86" fill="#a0303a" opacity="0.85" filter="url(#tblur)"/>
<ellipse cx="316.64" cy="714.31" rx="4.95" ry="2.99" fill="#e6aca0" opacity="0.85" filter="url(#tblur)"/>
<ellipse cx="314.38" cy="714.36" rx="4.86" ry="5.40" fill="#e6aca0" opacity="0.85" filter="url(#tblur)"/>
<ellipse cx="324.69" cy="705.73" rx="5.28" ry="4.96" fill="#a0303a" opacity="0.85" filter="url(#tblur)"/>
<path d="M331.75,712.50 L330.93,714.37 L330.03,716.02 L329.16,717.55 L328.34,719.07 L327.47,720.62 L326.42,722.15 L325.10,723.52 L323.50,724.58 L321.70,725.22 L319.80,725.40 L317.91,725.16 L316.09,724.59 L314.38,723.76 L312.79,722.71 L311.35,721.45 L310.09,719.97 L309.08,718.28 L308.37,716.43 L307.97,714.48 L307.88,712.50 L308.06,710.53 L308.50,708.61 L309.19,706.78 L310.16,705.08 L311.41,703.61 L312.91,702.45 L314.59,701.66 L316.34,701.23 L318.09,701.09 L319.80,701.10 L321.49,701.17 L323.24,701.27 L325.10,701.48 L327.04,701.94 L328.94,702.82 L330.59,704.20 L331.77,706.04 L332.34,708.18 L332.29,710.40 Z" fill="none" stroke="#6a1a22" stroke-opacity="0.35" stroke-width="2.12" filter="url(#tblur)"/>
<path d="M316.26,710.62 q2.95,-2.50 5.90,0.62" fill="none" stroke="#fff3ee" stroke-opacity="0.55" stroke-width="0.9"/>
</g>
<path d="M374.87,704.60 L374.42,707.12 L373.77,709.49 L373.04,711.76 L372.23,714.01 L371.28,716.25 L370.07,718.38 L368.55,720.18 L366.72,721.40 L364.71,721.84 L362.70,721.49 L360.85,720.49 L359.23,719.11 L357.82,717.61 L356.51,716.16 L355.20,714.79 L353.82,713.36 L352.43,711.71 L351.17,709.69 L350.21,707.29 L349.71,704.60 L349.73,701.81 L350.26,699.11 L351.20,696.64 L352.46,694.49 L353.94,692.70 L355.57,691.27 L357.31,690.22 L359.10,689.56 L360.91,689.27 L362.70,689.32 L364.45,689.63 L366.16,690.14 L367.86,690.84 L369.56,691.78 L371.20,693.05 L372.70,694.73 L373.90,696.85 L374.69,699.31 L375.00,701.95 Z" fill="#cc6464"/>
<g clip-path="url(#tcl7)">
<ellipse cx="359.77" cy="700.02" rx="4.26" ry="6.55" fill="#a0303a" opacity="0.85" filter="url(#tblur)"/>
<ellipse cx="361.81" cy="706.32" rx="3.16" ry="3.92" fill="#f2dccc" opacity="0.85" filter="url(#tblur)"/>
<ellipse cx="364.39" cy="710.55" rx="4.49" ry="5.22" fill="#e6aca0" opacity="0.85" filter="url(#tblur)"/>
<ellipse cx="365.55" cy="704.05" rx="5.46" ry="7.18" fill="#f2dccc" opacity="0.85" filter="url(#tblur)"/>
<ellipse cx="368.72" cy="696.48" rx="4.08" ry="4.03" fill="#b8303a" opacity="0.85" filter="url(#tblur)"/>
<ellipse cx="364.73" cy="701.37" rx="3.57" ry="7.82" fill="#e6aca0" opacity="0.85" filter="url(#tblur)"/>
<path d="M374.87,704.60 L374.42,707.12 L373.77,709.49 L373.04,711.76 L372.23,714.01 L371.28,716.25 L370.07,718.38 L368.55,720.18 L366.72,721.40 L364.71,721.84 L362.70,721.49 L360.85,720.49 L359.23,719.11 L357.82,717.61 L356.51,716.16 L355.20,714.79 L353.82,713.36 L352.43,711.71 L351.17,709.69 L350.21,707.29 L349.71,704.60 L349.73,701.81 L350.26,699.11 L351.20,696.64 L352.46,694.49 L353.94,692.70 L355.57,691.27 L357.31,690.22 L359.10,689.56 L360.91,689.27 L362.70,689.32 L364.45,689.63 L366.16,690.14 L367.86,690.84 L369.56,691.78 L371.20,693.05 L372.70,694.73 L373.90,696.85 L374.69,699.31 L375.00,701.95 Z" fill="none" stroke="#6a1a22" stroke-opacity="0.35" stroke-width="2.16" filter="url(#tblur)"/>
<path d="M359.10,702.15 q3.00,-3.26 6.00,0.82" fill="none" stroke="#fff3ee" stroke-opacity="0.55" stroke-width="0.9"/>
</g>
<path d="M420.15,706.41 L420.62,709.73 L420.74,713.16 L420.42,716.54 L419.63,719.64 L418.39,722.26 L416.83,724.30 L415.07,725.77 L413.24,726.81 L411.40,727.60 L409.51,728.23 L407.55,728.63 L405.47,728.62 L403.36,727.95 L401.36,726.44 L399.63,724.10 L398.34,721.12 L397.50,717.83 L397.05,714.54 L396.81,711.42 L396.59,708.47 L396.32,705.53 L396.02,702.43 L395.85,699.08 L396.00,695.60 L396.64,692.24 L397.83,689.33 L399.49,687.15 L401.48,685.84 L403.63,685.37 L405.78,685.59 L407.86,686.34 L409.81,687.46 L411.64,688.91 L413.34,690.66 L414.89,692.70 L416.28,695.02 L417.49,697.58 L418.55,700.33 L419.44,703.27 Z" fill="#b04a50"/>
<g clip-path="url(#tcl8)">
<ellipse cx="401.60" cy="697.88" rx="6.37" ry="6.31" fill="#c86a6a" opacity="0.85" filter="url(#tblur)"/>
<ellipse cx="406.76" cy="700.49" rx="6.56" ry="9.91" fill="#7a2028" opacity="0.85" filter="url(#tblur)"/>
<ellipse cx="403.53" cy="714.23" rx="5.08" ry="8.32" fill="#7a2028" opacity="0.85" filter="url(#tblur)"/>
<ellipse cx="409.20" cy="717.14" rx="4.68" ry="9.21" fill="#8a2a32" opacity="0.85" filter="url(#tblur)"/>
<ellipse cx="403.22" cy="717.69" rx="4.10" ry="5.37" fill="#c86a6a" opacity="0.85" filter="url(#tblur)"/>
<ellipse cx="401.09" cy="709.64" rx="6.23" ry="9.00" fill="#8a2a32" opacity="0.85" filter="url(#tblur)"/>
<path d="M420.15,706.41 L420.62,709.73 L420.74,713.16 L420.42,716.54 L419.63,719.64 L418.39,722.26 L416.83,724.30 L415.07,725.77 L413.24,726.81 L411.40,727.60 L409.51,728.23 L407.55,728.63 L405.47,728.62 L403.36,727.95 L401.36,726.44 L399.63,724.10 L398.34,721.12 L397.50,717.83 L397.05,714.54 L396.81,711.42 L396.59,708.47 L396.32,705.53 L396.02,702.43 L395.85,699.08 L396.00,695.60 L396.64,692.24 L397.83,689.33 L399.49,687.15 L401.48,685.84 L403.63,685.37 L405.78,685.59 L407.86,686.34 L409.81,687.46 L411.64,688.91 L413.34,690.66 L414.89,692.70 L416.28,695.02 L417.49,697.58 L418.55,700.33 L419.44,703.27 Z" fill="none" stroke="#6a1a22" stroke-opacity="0.35" stroke-width="2.29" filter="url(#tblur)"/>
<path d="M403.89,704.32 q3.17,-4.24 6.35,1.06" fill="none" stroke="#fff3ee" stroke-opacity="0.55" stroke-width="0.9"/>
</g>
<path d="M106.34,769.00 L105.81,771.61 L105.05,774.06 L104.05,776.34 L102.84,778.45 L101.46,780.38 L99.91,782.18 L98.19,783.86 L96.27,785.41 L94.11,786.72 L91.70,787.62 L89.13,787.90 L86.57,787.41 L84.22,786.12 L82.27,784.14 L80.81,781.71 L79.79,779.10 L79.06,776.51 L78.47,774.02 L77.90,771.55 L77.39,769.00 L77.08,766.30 L77.17,763.49 L77.84,760.76 L79.11,758.33 L80.90,756.39 L82.99,755.01 L85.19,754.09 L87.37,753.46 L89.52,752.93 L91.70,752.45 L94.00,752.09 L96.43,752.03 L98.91,752.50 L101.27,753.64 L103.32,755.45 L104.89,757.82 L105.94,760.54 L106.47,763.40 L106.58,766.25 Z" fill="#cc6464"/>
<g clip-path="url(#tcl9)">
<ellipse cx="96.92" cy="766.75" rx="7.52" ry="5.45" fill="#e6aca0" opacity="0.85" filter="url(#tblur)"/>
<ellipse cx="94.22" cy="758.89" rx="5.96" ry="8.71" fill="#e6aca0" opacity="0.85" filter="url(#tblur)"/>
<ellipse cx="94.92" cy="773.37" rx="4.66" ry="3.74" fill="#e6aca0" opacity="0.85" filter="url(#tblur)"/>
<ellipse cx="97.79" cy="769.34" rx="4.65" ry="7.37" fill="#c84a4e" opacity="0.85" filter="url(#tblur)"/>
<ellipse cx="88.51" cy="769.33" rx="5.58" ry="4.83" fill="#c84a4e" opacity="0.85" filter="url(#tblur)"/>
<ellipse cx="95.42" cy="768.19" rx="7.35" ry="8.01" fill="#b8303a" opacity="0.85" filter="url(#tblur)"/>
<path d="M106.34,769.00 L105.81,771.61 L105.05,774.06 L104.05,776.34 L102.84,778.45 L101.46,780.38 L99.91,782.18 L98.19,783.86 L96.27,785.41 L94.11,786.72 L91.70,787.62 L89.13,787.90 L86.57,787.41 L84.22,786.12 L82.27,784.14 L80.81,781.71 L79.79,779.10 L79.06,776.51 L78.47,774.02 L77.90,771.55 L77.39,769.00 L77.08,766.30 L77.17,763.49 L77.84,760.76 L79.11,758.33 L80.90,756.39 L82.99,755.01 L85.19,754.09 L87.37,753.46 L89.52,752.93 L91.70,752.45 L94.00,752.09 L96.43,752.03 L98.91,752.50 L101.27,753.64 L103.32,755.45 L104.89,757.82 L105.94,760.54 L106.47,763.40 L106.58,766.25 Z" fill="none" stroke="#6a1a22" stroke-opacity="0.35" stroke-width="2.70" filter="url(#tblur)"/>
<path d="M87.20,766.38 q3.75,-3.50 7.50,0.88" fill="none" stroke="#fff3ee" stroke-opacity="0.55" stroke-width="0.9"/>
</g>
<path d="M137.04,772.00 L136.57,774.07 L136.12,776.04 L135.71,778.05 L135.27,780.20 L134.68,782.47 L133.77,784.71 L132.47,786.64 L130.81,788.00 L128.93,788.59 L127.00,788.39 L125.19,787.56 L123.59,786.32 L122.17,784.92 L120.88,783.48 L119.65,782.02 L118.47,780.45 L117.40,778.67 L116.56,776.63 L116.04,774.37 L115.90,772.00 L116.14,769.65 L116.69,767.43 L117.46,765.37 L118.39,763.47 L119.46,761.72 L120.68,760.14 L122.06,758.78 L123.60,757.72 L125.26,757.00 L127.00,756.68 L128.77,756.73 L130.54,757.16 L132.25,757.95 L133.86,759.13 L135.27,760.72 L136.40,762.69 L137.14,764.96 L137.45,767.37 L137.38,769.76 Z" fill="#c83c40"/>
<g clip-path="url(#tcl10)">
<ellipse cx="130.27" cy="769.62" rx="4.38" ry="5.68" fill="#eea890" opacity="0.85" filter="url(#tblur)"/>
<ellipse cx="130.33" cy="778.05" rx="5.98" ry="6.78" fill="#d85850" opacity="0.85" filter="url(#tblur)"/>
<ellipse cx="127.24" cy="767.25" rx="4.99" ry="4.83" fill="#e27060" opacity="0.85" filter="url(#tblur)"/>
<ellipse cx="127.97" cy="780.67" rx="5.25" ry="4.35" fill="#a02830" opacity="0.85" filter="url(#tblur)"/>
<ellipse cx="127.99" cy="763.78" rx="3.53" ry="6.67" fill="#e27060" opacity="0.85" filter="url(#tblur)"/>
<ellipse cx="130.91" cy="769.87" rx="3.33" ry="3.01" fill="#b83038" opacity="0.85" filter="url(#tblur)"/>
<path d="M137.04,772.00 L136.57,774.07 L136.12,776.04 L135.71,778.05 L135.27,780.20 L134.68,782.47 L133.77,784.71 L132.47,786.64 L130.81,788.00 L128.93,788.59 L127.00,788.39 L125.19,787.56 L123.59,786.32 L122.17,784.92 L120.88,783.48 L119.65,782.02 L118.47,780.45 L117.40,778.67 L116.56,776.63 L116.04,774.37 L115.90,772.00 L116.14,769.65 L116.69,767.43 L117.46,765.37 L118.39,763.47 L119.46,761.72 L120.68,760.14 L122.06,758.78 L123.60,757.72 L125.26,757.00 L127.00,756.68 L128.77,756.73 L130.54,757.16 L132.25,757.95 L133.86,759.13 L135.27,760.72 L136.40,762.69 L137.14,764.96 L137.45,767.37 L137.38,769.76 Z" fill="none" stroke="#6a1a22" stroke-opacity="0.35" stroke-width="1.98" filter="url(#tblur)"/>
<path d="M123.70,769.75 q2.75,-3.00 5.50,0.75" fill="none" stroke="#fff3ee" stroke-opacity="0.55" stroke-width="0.9"/>
</g>
<path d="M186.57,768.00 L186.20,769.83 L185.68,771.57 L185.02,773.23 L184.20,774.81 L183.19,776.29 L182.01,777.66 L180.65,778.90 L179.11,779.98 L177.39,780.85 L175.50,781.42 L173.51,781.55 L171.53,781.16 L169.72,780.22 L168.22,778.80 L167.10,777.05 L166.35,775.17 L165.85,773.30 L165.48,771.51 L165.11,769.77 L164.75,768.00 L164.47,766.12 L164.45,764.13 L164.83,762.14 L165.68,760.31 L166.97,758.81 L168.57,757.72 L170.30,757.01 L172.06,756.58 L173.78,756.28 L175.50,756.05 L177.28,755.89 L179.14,755.92 L181.04,756.28 L182.85,757.09 L184.42,758.39 L185.62,760.08 L186.38,762.02 L186.74,764.06 L186.77,766.08 Z" fill="#c83c40"/>
<g clip-path="url(#tcl11)">
<ellipse cx="179.46" cy="767.18" rx="3.68" ry="5.29" fill="#d85850" opacity="0.85" filter="url(#tblur)"/>
<ellipse cx="171.88" cy="773.86" rx="5.22" ry="3.36" fill="#b83038" opacity="0.85" filter="url(#tblur)"/>
<ellipse cx="172.17" cy="768.74" rx="5.83" ry="2.72" fill="#b83038" opacity="0.85" filter="url(#tblur)"/>
<ellipse cx="179.28" cy="774.67" rx="4.06" ry="3.37" fill="#d85850" opacity="0.85" filter="url(#tblur)"/>
<ellipse cx="169.13" cy="768.20" rx="4.37" ry="4.50" fill="#d85850" opacity="0.85" filter="url(#tblur)"/>
<ellipse cx="180.18" cy="772.96" rx="4.30" ry="4.83" fill="#eea890" opacity="0.85" filter="url(#tblur)"/>
<path d="M186.57,768.00 L186.20,769.83 L185.68,771.57 L185.02,773.23 L184.20,774.81 L183.19,776.29 L182.01,777.66 L180.65,778.90 L179.11,779.98 L177.39,780.85 L175.50,781.42 L173.51,781.55 L171.53,781.16 L169.72,780.22 L168.22,778.80 L167.10,777.05 L166.35,775.17 L165.85,773.30 L165.48,771.51 L165.11,769.77 L164.75,768.00 L164.47,766.12 L164.45,764.13 L164.83,762.14 L165.68,760.31 L166.97,758.81 L168.57,757.72 L170.30,757.01 L172.06,756.58 L173.78,756.28 L175.50,756.05 L177.28,755.89 L179.14,755.92 L181.04,756.28 L182.85,757.09 L184.42,758.39 L185.62,760.08 L186.38,762.02 L186.74,764.06 L186.77,766.08 Z" fill="none" stroke="#6a1a22" stroke-opacity="0.35" stroke-width="2.09" filter="url(#tblur)"/>
<path d="M172.02,766.12 q2.90,-2.50 5.80,0.62" fill="none" stroke="#fff3ee" stroke-opacity="0.55" stroke-width="0.9"/>
</g>
<path d="M228.46,768.50 L228.32,770.29 L228.04,772.05 L227.59,773.80 L226.93,775.48 L226.01,776.99 L224.82,778.20 L223.42,779.00 L221.91,779.34 L220.41,779.28 L219.00,778.97 L217.68,778.57 L216.40,778.19 L215.06,777.85 L213.63,777.45 L212.14,776.81 L210.71,775.79 L209.53,774.34 L208.75,772.53 L208.48,770.52 L208.69,768.50 L209.26,766.63 L210.06,764.98 L210.95,763.53 L211.86,762.22 L212.79,760.99 L213.79,759.83 L214.91,758.79 L216.17,757.95 L217.55,757.38 L219.00,757.12 L220.48,757.17 L221.95,757.50 L223.37,758.11 L224.71,758.98 L225.92,760.13 L226.93,761.53 L227.69,763.14 L228.19,764.89 L228.43,766.69 Z" fill="#dc9484"/>
<g clip-path="url(#tcl12)">
<ellipse cx="216.42" cy="765.93" rx="4.64" ry="2.77" fill="#c85a54" opacity="0.85" filter="url(#tblur)"/>
<ellipse cx="223.91" cy="767.20" rx="3.57" ry="3.21" fill="#ecb4a0" opacity="0.85" filter="url(#tblur)"/>
<ellipse cx="213.85" cy="770.36" rx="3.17" ry="4.60" fill="#f2ccb8" opacity="0.85" filter="url(#tblur)"/>
<ellipse cx="221.61" cy="763.44" rx="4.59" ry="2.76" fill="#d47064" opacity="0.85" filter="url(#tblur)"/>
<ellipse cx="219.76" cy="771.57" rx="3.64" ry="2.32" fill="#d47064" opacity="0.85" filter="url(#tblur)"/>
<ellipse cx="218.41" cy="770.40" rx="4.79" ry="4.29" fill="#d47064" opacity="0.85" filter="url(#tblur)"/>
<path d="M228.46,768.50 L228.32,770.29 L228.04,772.05 L227.59,773.80 L226.93,775.48 L226.01,776.99 L224.82,778.20 L223.42,779.00 L221.91,779.34 L220.41,779.28 L219.00,778.97 L217.68,778.57 L216.40,778.19 L215.06,777.85 L213.63,777.45 L212.14,776.81 L210.71,775.79 L209.53,774.34 L208.75,772.53 L208.48,770.52 L208.69,768.50 L209.26,766.63 L210.06,764.98 L210.95,763.53 L211.86,762.22 L212.79,760.99 L213.79,759.83 L214.91,758.79 L216.17,757.95 L217.55,757.38 L219.00,757.12 L220.48,757.17 L221.95,757.50 L223.37,758.11 L224.71,758.98 L225.92,760.13 L226.93,761.53 L227.69,763.14 L228.19,764.89 L228.43,766.69 Z" fill="none" stroke="#6a1a22" stroke-opacity="0.35" stroke-width="1.71" filter="url(#tblur)"/>
<path d="M216.15,766.77 q2.38,-2.30 4.75,0.58" fill="none" stroke="#fff3ee" stroke-opacity="0.55" stroke-width="0.9"/>
</g>
<path d="M292.34,765.60 L292.37,766.67 L292.15,767.73 L291.68,768.70 L291.01,769.53 L290.18,770.18 L289.29,770.68 L288.39,771.07 L287.48,771.40 L286.56,771.68 L285.60,771.90 L284.59,772.00 L283.56,771.89 L282.58,771.53 L281.73,770.92 L281.08,770.12 L280.63,769.21 L280.32,768.29 L280.08,767.39 L279.84,766.51 L279.59,765.60 L279.38,764.61 L279.28,763.55 L279.42,762.45 L279.83,761.41 L280.53,760.53 L281.45,759.89 L282.50,759.52 L283.57,759.37 L284.62,759.39 L285.60,759.52 L286.53,759.73 L287.42,760.00 L288.28,760.34 L289.10,760.79 L289.87,761.33 L290.57,761.99 L291.19,762.75 L291.71,763.62 L292.11,764.57 Z" fill="#dc9484"/>
<g clip-path="url(#tcl13)">
<ellipse cx="289.22" cy="765.71" rx="2.05" ry="2.22" fill="#c85a54" opacity="0.85" filter="url(#tblur)"/>
<ellipse cx="287.24" cy="763.50" rx="3.44" ry="2.46" fill="#d47064" opacity="0.85" filter="url(#tblur)"/>
<ellipse cx="285.29" cy="762.25" rx="3.31" ry="3.00" fill="#f2ccb8" opacity="0.85" filter="url(#tblur)"/>
<path d="M292.34,765.60 L292.37,766.67 L292.15,767.73 L291.68,768.70 L291.01,769.53 L290.18,770.18 L289.29,770.68 L288.39,771.07 L287.48,771.40 L286.56,771.68 L285.60,771.90 L284.59,772.00 L283.56,771.89 L282.58,771.53 L281.73,770.92 L281.08,770.12 L280.63,769.21 L280.32,768.29 L280.08,767.39 L279.84,766.51 L279.59,765.60 L279.38,764.61 L279.28,763.55 L279.42,762.45 L279.83,761.41 L280.53,760.53 L281.45,759.89 L282.50,759.52 L283.57,759.37 L284.62,759.39 L285.60,759.52 L286.53,759.73 L287.42,760.00 L288.28,760.34 L289.10,760.79 L289.87,761.33 L290.57,761.99 L291.19,762.75 L291.71,763.62 L292.11,764.57 Z" fill="none" stroke="#6a1a22" stroke-opacity="0.35" stroke-width="1.15" filter="url(#tblur)"/>
</g>
<path d="M324.10,765.42 L323.65,766.67 L323.18,767.91 L322.64,769.16 L321.98,770.36 L321.18,771.43 L320.26,772.22 L319.28,772.66 L318.32,772.74 L317.42,772.52 L316.62,772.12 L315.88,771.67 L315.15,771.22 L314.40,770.74 L313.63,770.14 L312.93,769.33 L312.38,768.24 L312.08,766.90 L312.08,765.40 L312.37,763.87 L312.90,762.42 L313.58,761.13 L314.33,760.01 L315.10,759.04 L315.88,758.17 L316.68,757.40 L317.50,756.72 L318.36,756.16 L319.26,755.74 L320.18,755.48 L321.10,755.40 L322.03,755.52 L322.92,755.86 L323.73,756.46 L324.41,757.34 L324.88,758.49 L325.11,759.83 L325.10,761.28 L324.88,762.74 L324.52,764.12 Z" fill="#dc9484"/>
<g clip-path="url(#tcl14)">
<ellipse cx="319.96" cy="760.30" rx="1.69" ry="3.58" fill="#ecb4a0" opacity="0.85" filter="url(#tblur)"/>
<ellipse cx="317.99" cy="765.50" rx="1.57" ry="2.35" fill="#f6dccc" opacity="0.85" filter="url(#tblur)"/>
<ellipse cx="320.75" cy="765.25" rx="2.78" ry="3.64" fill="#ecb4a0" opacity="0.85" filter="url(#tblur)"/>
<path d="M324.10,765.42 L323.65,766.67 L323.18,767.91 L322.64,769.16 L321.98,770.36 L321.18,771.43 L320.26,772.22 L319.28,772.66 L318.32,772.74 L317.42,772.52 L316.62,772.12 L315.88,771.67 L315.15,771.22 L314.40,770.74 L313.63,770.14 L312.93,769.33 L312.38,768.24 L312.08,766.90 L312.08,765.40 L312.37,763.87 L312.90,762.42 L313.58,761.13 L314.33,760.01 L315.10,759.04 L315.88,758.17 L316.68,757.40 L317.50,756.72 L318.36,756.16 L319.26,755.74 L320.18,755.48 L321.10,755.40 L322.03,755.52 L322.92,755.86 L323.73,756.46 L324.41,757.34 L324.88,758.49 L325.11,759.83 L325.10,761.28 L324.88,762.74 L324.52,764.12 Z" fill="none" stroke="#6a1a22" stroke-opacity="0.35" stroke-width="1.04" filter="url(#tblur)"/>
</g>
<path d="M364.87,763.80 L364.75,765.32 L364.37,766.73 L363.80,767.94 L363.12,768.93 L362.40,769.74 L361.67,770.41 L360.94,770.97 L360.19,771.45 L359.41,771.80 L358.60,772.01 L357.76,772.04 L356.92,771.90 L356.07,771.56 L355.24,771.02 L354.46,770.27 L353.77,769.28 L353.23,768.07 L352.89,766.70 L352.76,765.24 L352.85,763.80 L353.10,762.44 L353.45,761.19 L353.85,760.02 L354.28,758.89 L354.75,757.79 L355.31,756.73 L356.00,755.81 L356.80,755.16 L357.69,754.85 L358.60,754.94 L359.46,755.35 L360.23,755.97 L360.93,756.67 L361.59,757.37 L362.27,758.07 L362.97,758.84 L363.67,759.76 L364.28,760.92 L364.71,762.29 Z" fill="#cc6464"/>
<g clip-path="url(#tcl15)">
<ellipse cx="359.62" cy="765.90" rx="1.82" ry="1.96" fill="#a0303a" opacity="0.85" filter="url(#tblur)"/>
<ellipse cx="357.48" cy="758.65" rx="1.91" ry="3.62" fill="#c84a4e" opacity="0.85" filter="url(#tblur)"/>
<ellipse cx="359.29" cy="768.68" rx="1.55" ry="4.14" fill="#b8303a" opacity="0.85" filter="url(#tblur)"/>
<path d="M364.87,763.80 L364.75,765.32 L364.37,766.73 L363.80,767.94 L363.12,768.93 L362.40,769.74 L361.67,770.41 L360.94,770.97 L360.19,771.45 L359.41,771.80 L358.60,772.01 L357.76,772.04 L356.92,771.90 L356.07,771.56 L355.24,771.02 L354.46,770.27 L353.77,769.28 L353.23,768.07 L352.89,766.70 L352.76,765.24 L352.85,763.80 L353.10,762.44 L353.45,761.19 L353.85,760.02 L354.28,758.89 L354.75,757.79 L355.31,756.73 L356.00,755.81 L356.80,755.16 L357.69,754.85 L358.60,754.94 L359.46,755.35 L360.23,755.97 L360.93,756.67 L361.59,757.37 L362.27,758.07 L362.97,758.84 L363.67,759.76 L364.28,760.92 L364.71,762.29 Z" fill="none" stroke="#6a1a22" stroke-opacity="0.35" stroke-width="1.01" filter="url(#tblur)"/>
</g>
<path d="M403.50,766.40 L403.74,767.55 L403.81,768.79 L403.61,770.04 L403.11,771.21 L402.32,772.21 L401.33,772.99 L400.22,773.55 L399.06,773.91 L397.88,774.12 L396.70,774.19 L395.52,774.11 L394.36,773.84 L393.26,773.38 L392.25,772.73 L391.38,771.90 L390.65,770.94 L390.07,769.89 L389.63,768.77 L389.36,767.60 L389.27,766.40 L389.40,765.20 L389.73,764.06 L390.27,763.01 L390.94,762.08 L391.71,761.25 L392.53,760.48 L393.41,759.73 L394.38,759.02 L395.47,758.38 L396.70,757.95 L398.02,757.82 L399.31,758.08 L400.47,758.75 L401.38,759.74 L402.02,760.91 L402.42,762.11 L402.68,763.25 L402.92,764.31 L403.20,765.34 Z" fill="#dc9484"/>
<g clip-path="url(#tcl16)">
<ellipse cx="393.13" cy="767.50" rx="3.43" ry="1.99" fill="#f6dccc" opacity="0.85" filter="url(#tblur)"/>
<ellipse cx="392.22" cy="764.54" rx="4.04" ry="2.38" fill="#ecb4a0" opacity="0.85" filter="url(#tblur)"/>
<ellipse cx="395.36" cy="769.19" rx="4.04" ry="2.36" fill="#f2ccb8" opacity="0.85" filter="url(#tblur)"/>
<path d="M403.50,766.40 L403.74,767.55 L403.81,768.79 L403.61,770.04 L403.11,771.21 L402.32,772.21 L401.33,772.99 L400.22,773.55 L399.06,773.91 L397.88,774.12 L396.70,774.19 L395.52,774.11 L394.36,773.84 L393.26,773.38 L392.25,772.73 L391.38,771.90 L390.65,770.94 L390.07,769.89 L389.63,768.77 L389.36,767.60 L389.27,766.40 L389.40,765.20 L389.73,764.06 L390.27,763.01 L390.94,762.08 L391.71,761.25 L392.53,760.48 L393.41,759.73 L394.38,759.02 L395.47,758.38 L396.70,757.95 L398.02,757.82 L399.31,758.08 L400.47,758.75 L401.38,759.74 L402.02,760.91 L402.42,762.11 L402.68,763.25 L402.92,764.31 L403.20,765.34 Z" fill="none" stroke="#6a1a22" stroke-opacity="0.35" stroke-width="1.35" filter="url(#tblur)"/>
<path d="M394.45,765.24 q1.88,-1.55 3.75,0.39" fill="none" stroke="#fff3ee" stroke-opacity="0.55" stroke-width="0.9"/>
</g>
<path d="M109.07,827.22 L108.12,830.20 L106.94,832.94 L105.56,835.40 L104.02,837.54 L102.36,839.34 L100.62,840.80 L98.83,841.98 L96.99,842.91 L95.10,843.60 L93.16,843.97 L91.19,843.88 L89.31,843.18 L87.63,841.81 L86.29,839.79 L85.34,837.28 L84.77,834.51 L84.47,831.65 L84.33,828.78 L84.28,825.87 L84.35,822.86 L84.64,819.70 L85.31,816.49 L86.44,813.45 L88.04,810.90 L89.98,809.07 L92.08,808.05 L94.13,807.72 L96.03,807.83 L97.77,808.07 L99.46,808.24 L101.19,808.32 L103.03,808.50 L104.92,809.04 L106.73,810.18 L108.27,812.03 L109.39,814.55 L110.00,817.54 L110.10,820.78 L109.76,824.05 Z" fill="#cc6464"/>
<g clip-path="url(#tcl17)">
<ellipse cx="93.79" cy="830.80" rx="5.64" ry="7.42" fill="#a0303a" opacity="0.85" filter="url(#tblur)"/>
<ellipse cx="97.00" cy="819.23" rx="3.20" ry="5.61" fill="#ecc8b8" opacity="0.85" filter="url(#tblur)"/>
<ellipse cx="96.60" cy="823.11" rx="5.81" ry="9.00" fill="#f2dccc" opacity="0.85" filter="url(#tblur)"/>
<ellipse cx="100.32" cy="814.78" rx="6.36" ry="7.06" fill="#a0303a" opacity="0.85" filter="url(#tblur)"/>
<ellipse cx="99.25" cy="832.13" rx="3.75" ry="6.33" fill="#a0303a" opacity="0.85" filter="url(#tblur)"/>
<ellipse cx="99.53" cy="826.02" rx="4.86" ry="9.04" fill="#c84a4e" opacity="0.85" filter="url(#tblur)"/>
<path d="M109.07,827.22 L108.12,830.20 L106.94,832.94 L105.56,835.40 L104.02,837.54 L102.36,839.34 L100.62,840.80 L98.83,841.98 L96.99,842.91 L95.10,843.60 L93.16,843.97 L91.19,843.88 L89.31,843.18 L87.63,841.81 L86.29,839.79 L85.34,837.28 L84.77,834.51 L84.47,831.65 L84.33,828.78 L84.28,825.87 L84.35,822.86 L84.64,819.70 L85.31,816.49 L86.44,813.45 L88.04,810.90 L89.98,809.07 L92.08,808.05 L94.13,807.72 L96.03,807.83 L97.77,808.07 L99.46,808.24 L101.19,808.32 L103.03,808.50 L104.92,809.04 L106.73,810.18 L108.27,812.03 L109.39,814.55 L110.00,817.54 L110.10,820.78 L109.76,824.05 Z" fill="none" stroke="#6a1a22" stroke-opacity="0.35" stroke-width="2.21" filter="url(#tblur)"/>
<path d="M92.81,822.08 q3.08,-3.90 6.15,0.98" fill="none" stroke="#fff3ee" stroke-opacity="0.55" stroke-width="0.9"/>
</g>
<path d="M148.80,827.00 L148.84,829.37 L148.86,831.87 L148.67,834.54 L148.03,837.27 L146.80,839.85 L144.95,842.05 L142.60,843.68 L139.93,844.65 L137.15,844.98 L134.40,844.77 L131.78,844.12 L129.35,843.10 L127.14,841.78 L125.17,840.17 L123.46,838.34 L122.02,836.32 L120.81,834.18 L119.79,831.92 L118.94,829.54 L118.31,827.00 L118.02,824.31 L118.21,821.55 L119.00,818.87 L120.40,816.46 L122.33,814.49 L124.60,813.02 L127.03,812.00 L129.48,811.29 L131.92,810.74 L134.40,810.29 L136.99,810.03 L139.68,810.15 L142.35,810.84 L144.76,812.22 L146.69,814.26 L147.98,816.77 L148.65,819.47 L148.86,822.13 L148.84,824.63 Z" fill="#b04a50"/>
<g clip-path="url(#tcl18)">
<ellipse cx="133.14" cy="825.73" rx="6.09" ry="8.31" fill="#8a2a32" opacity="0.85" filter="url(#tblur)"/>
<ellipse cx="135.92" cy="820.43" rx="7.22" ry="5.60" fill="#5e1a22" opacity="0.85" filter="url(#tblur)"/>
<ellipse cx="134.07" cy="824.64" rx="6.78" ry="7.04" fill="#8a2a32" opacity="0.85" filter="url(#tblur)"/>
<ellipse cx="141.72" cy="816.98" rx="7.78" ry="4.14" fill="#7a2028" opacity="0.85" filter="url(#tblur)"/>
<ellipse cx="133.90" cy="828.77" rx="4.95" ry="6.47" fill="#e0b0a0" opacity="0.85" filter="url(#tblur)"/>
<ellipse cx="134.92" cy="823.46" rx="8.43" ry="3.93" fill="#5e1a22" opacity="0.85" filter="url(#tblur)"/>
<path d="M148.80,827.00 L148.84,829.37 L148.86,831.87 L148.67,834.54 L148.03,837.27 L146.80,839.85 L144.95,842.05 L142.60,843.68 L139.93,844.65 L137.15,844.98 L134.40,844.77 L131.78,844.12 L129.35,843.10 L127.14,841.78 L125.17,840.17 L123.46,838.34 L122.02,836.32 L120.81,834.18 L119.79,831.92 L118.94,829.54 L118.31,827.00 L118.02,824.31 L118.21,821.55 L119.00,818.87 L120.40,816.46 L122.33,814.49 L124.60,813.02 L127.03,812.00 L129.48,811.29 L131.92,810.74 L134.40,810.29 L136.99,810.03 L139.68,810.15 L142.35,810.84 L144.76,812.22 L146.69,814.26 L147.98,816.77 L148.65,819.47 L148.86,822.13 L148.84,824.63 Z" fill="none" stroke="#6a1a22" stroke-opacity="0.35" stroke-width="2.95" filter="url(#tblur)"/>
<path d="M129.48,824.45 q4.10,-3.40 8.20,0.85" fill="none" stroke="#fff3ee" stroke-opacity="0.55" stroke-width="0.9"/>
</g>
<path d="M191.01,828.00 L190.89,830.48 L190.19,832.80 L189.05,834.77 L187.66,836.35 L186.19,837.58 L184.74,838.59 L183.32,839.49 L181.88,840.30 L180.38,840.97 L178.80,841.40 L177.15,841.49 L175.50,841.16 L173.91,840.44 L172.43,839.37 L171.09,837.99 L169.93,836.36 L168.96,834.50 L168.25,832.44 L167.84,830.25 L167.76,828.00 L167.99,825.78 L168.49,823.66 L169.20,821.66 L170.08,819.78 L171.11,818.03 L172.31,816.42 L173.72,815.08 L175.32,814.13 L177.05,813.71 L178.80,813.87 L180.44,814.56 L181.91,815.60 L183.21,816.79 L184.41,817.98 L185.64,819.13 L186.95,820.32 L188.31,821.72 L189.57,823.46 L190.54,825.59 Z" fill="#c83c40"/>
<g clip-path="url(#tcl19)">
<ellipse cx="184.86" cy="827.61" rx="4.17" ry="4.91" fill="#eea890" opacity="0.85" filter="url(#tblur)"/>
<ellipse cx="184.58" cy="830.59" rx="4.95" ry="5.30" fill="#e27060" opacity="0.85" filter="url(#tblur)"/>
<ellipse cx="177.52" cy="828.33" rx="4.62" ry="5.70" fill="#e27060" opacity="0.85" filter="url(#tblur)"/>
<ellipse cx="179.63" cy="824.92" rx="5.76" ry="3.57" fill="#b83038" opacity="0.85" filter="url(#tblur)"/>
<ellipse cx="174.91" cy="826.96" rx="5.61" ry="6.82" fill="#e27060" opacity="0.85" filter="url(#tblur)"/>
<ellipse cx="175.13" cy="828.79" rx="4.70" ry="5.74" fill="#b83038" opacity="0.85" filter="url(#tblur)"/>
<path d="M191.01,828.00 L190.89,830.48 L190.19,832.80 L189.05,834.77 L187.66,836.35 L186.19,837.58 L184.74,838.59 L183.32,839.49 L181.88,840.30 L180.38,840.97 L178.80,841.40 L177.15,841.49 L175.50,841.16 L173.91,840.44 L172.43,839.37 L171.09,837.99 L169.93,836.36 L168.96,834.50 L168.25,832.44 L167.84,830.25 L167.76,828.00 L167.99,825.78 L168.49,823.66 L169.20,821.66 L170.08,819.78 L171.11,818.03 L172.31,816.42 L173.72,815.08 L175.32,814.13 L177.05,813.71 L178.80,813.87 L180.44,814.56 L181.91,815.60 L183.21,816.79 L184.41,817.98 L185.64,819.13 L186.95,820.32 L188.31,821.72 L189.57,823.46 L190.54,825.59 Z" fill="none" stroke="#6a1a22" stroke-opacity="0.35" stroke-width="1.94" filter="url(#tblur)"/>
<path d="M175.56,825.90 q2.70,-2.80 5.40,0.70" fill="none" stroke="#fff3ee" stroke-opacity="0.55" stroke-width="0.9"/>
</g>
<path d="M231.96,822.48 L232.65,824.45 L233.22,826.57 L233.54,828.80 L233.49,831.01 L233.00,833.02 L232.11,834.69 L230.92,835.92 L229.57,836.75 L228.17,837.32 L226.77,837.76 L225.35,838.15 L223.85,838.44 L222.24,838.48 L220.54,838.09 L218.88,837.13 L217.40,835.61 L216.22,833.65 L215.41,831.45 L214.93,829.22 L214.68,827.11 L214.52,825.13 L214.38,823.21 L214.25,821.27 L214.21,819.26 L214.35,817.21 L214.76,815.22 L215.50,813.43 L216.56,811.95 L217.88,810.87 L219.39,810.22 L221.03,810.01 L222.71,810.25 L224.38,810.94 L225.95,812.03 L227.36,813.46 L228.57,815.14 L229.59,816.94 L230.45,818.77 L231.23,820.61 Z" fill="#dc9484"/>
<g clip-path="url(#tcl20)">
<ellipse cx="228.20" cy="830.84" rx="3.91" ry="4.62" fill="#d47064" opacity="0.85" filter="url(#tblur)"/>
<ellipse cx="223.64" cy="828.27" rx="5.21" ry="3.67" fill="#f6dccc" opacity="0.85" filter="url(#tblur)"/>
<ellipse cx="228.71" cy="833.03" rx="2.55" ry="5.97" fill="#c85a54" opacity="0.85" filter="url(#tblur)"/>
<ellipse cx="227.94" cy="822.17" rx="4.47" ry="6.05" fill="#d47064" opacity="0.85" filter="url(#tblur)"/>
<ellipse cx="223.56" cy="823.42" rx="2.73" ry="3.66" fill="#c85a54" opacity="0.85" filter="url(#tblur)"/>
<ellipse cx="217.93" cy="828.71" rx="2.95" ry="5.41" fill="#c85a54" opacity="0.85" filter="url(#tblur)"/>
<path d="M231.96,822.48 L232.65,824.45 L233.22,826.57 L233.54,828.80 L233.49,831.01 L233.00,833.02 L232.11,834.69 L230.92,835.92 L229.57,836.75 L228.17,837.32 L226.77,837.76 L225.35,838.15 L223.85,838.44 L222.24,838.48 L220.54,838.09 L218.88,837.13 L217.40,835.61 L216.22,833.65 L215.41,831.45 L214.93,829.22 L214.68,827.11 L214.52,825.13 L214.38,823.21 L214.25,821.27 L214.21,819.26 L214.35,817.21 L214.76,815.22 L215.50,813.43 L216.56,811.95 L217.88,810.87 L219.39,810.22 L221.03,810.01 L222.71,810.25 L224.38,810.94 L225.95,812.03 L227.36,813.46 L228.57,815.14 L229.59,816.94 L230.45,818.77 L231.23,820.61 Z" fill="none" stroke="#6a1a22" stroke-opacity="0.35" stroke-width="1.75" filter="url(#tblur)"/>
<path d="M220.39,822.70 q2.42,-2.80 4.85,0.70" fill="none" stroke="#fff3ee" stroke-opacity="0.55" stroke-width="0.9"/>
</g>
<path d="M290.39,822.00 L290.18,823.21 L289.89,824.32 L289.56,825.36 L289.22,826.38 L288.83,827.39 L288.38,828.38 L287.82,829.28 L287.16,830.00 L286.40,830.46 L285.60,830.63 L284.79,830.50 L284.02,830.11 L283.31,829.48 L282.70,828.66 L282.18,827.69 L281.79,826.61 L281.52,825.46 L281.37,824.29 L281.30,823.13 L281.29,822.00 L281.30,820.87 L281.34,819.69 L281.43,818.46 L281.62,817.18 L281.97,815.95 L282.49,814.87 L283.18,814.09 L283.98,813.68 L284.81,813.64 L285.60,813.89 L286.33,814.32 L287.00,814.81 L287.65,815.30 L288.29,815.82 L288.93,816.44 L289.53,817.24 L290.02,818.25 L290.34,819.43 L290.46,820.72 Z" fill="#c83c40"/>
<g clip-path="url(#tcl21)">
<ellipse cx="287.89" cy="823.09" rx="1.49" ry="3.39" fill="#eea890" opacity="0.85" filter="url(#tblur)"/>
<ellipse cx="284.33" cy="826.55" rx="1.78" ry="3.60" fill="#d85850" opacity="0.85" filter="url(#tblur)"/>
<ellipse cx="285.84" cy="818.10" rx="2.63" ry="2.82" fill="#e27060" opacity="0.85" filter="url(#tblur)"/>
<path d="M290.39,822.00 L290.18,823.21 L289.89,824.32 L289.56,825.36 L289.22,826.38 L288.83,827.39 L288.38,828.38 L287.82,829.28 L287.16,830.00 L286.40,830.46 L285.60,830.63 L284.79,830.50 L284.02,830.11 L283.31,829.48 L282.70,828.66 L282.18,827.69 L281.79,826.61 L281.52,825.46 L281.37,824.29 L281.30,823.13 L281.29,822.00 L281.30,820.87 L281.34,819.69 L281.43,818.46 L281.62,817.18 L281.97,815.95 L282.49,814.87 L283.18,814.09 L283.98,813.68 L284.81,813.64 L285.60,813.89 L286.33,814.32 L287.00,814.81 L287.65,815.30 L288.29,815.82 L288.93,816.44 L289.53,817.24 L290.02,818.25 L290.34,819.43 L290.46,820.72 Z" fill="none" stroke="#6a1a22" stroke-opacity="0.35" stroke-width="1.00" filter="url(#tblur)"/>
</g>
<path d="M323.88,820.08 L323.97,821.40 L323.96,822.64 L323.94,823.84 L323.90,825.03 L323.80,826.25 L323.55,827.46 L323.07,828.56 L322.35,829.46 L321.43,830.05 L320.38,830.32 L319.30,830.33 L318.24,830.16 L317.22,829.91 L316.21,829.63 L315.19,829.29 L314.13,828.83 L313.08,828.17 L312.11,827.28 L311.28,826.17 L310.68,824.88 L310.32,823.51 L310.21,822.12 L310.32,820.80 L310.61,819.57 L311.07,818.47 L311.67,817.52 L312.38,816.74 L313.18,816.12 L314.02,815.64 L314.90,815.25 L315.80,814.93 L316.76,814.65 L317.79,814.46 L318.92,814.43 L320.10,814.66 L321.26,815.23 L322.29,816.14 L323.09,817.34 L323.62,818.69 Z" fill="#dc9484"/>
<g clip-path="url(#tcl22)">
<ellipse cx="313.69" cy="824.37" rx="1.86" ry="2.56" fill="#d47064" opacity="0.85" filter="url(#tblur)"/>
<ellipse cx="316.27" cy="824.95" rx="2.88" ry="4.10" fill="#c85a54" opacity="0.85" filter="url(#tblur)"/>
<ellipse cx="320.86" cy="823.26" rx="2.09" ry="3.23" fill="#d47064" opacity="0.85" filter="url(#tblur)"/>
<path d="M323.88,820.08 L323.97,821.40 L323.96,822.64 L323.94,823.84 L323.90,825.03 L323.80,826.25 L323.55,827.46 L323.07,828.56 L322.35,829.46 L321.43,830.05 L320.38,830.32 L319.30,830.33 L318.24,830.16 L317.22,829.91 L316.21,829.63 L315.19,829.29 L314.13,828.83 L313.08,828.17 L312.11,827.28 L311.28,826.17 L310.68,824.88 L310.32,823.51 L310.21,822.12 L310.32,820.80 L310.61,819.57 L311.07,818.47 L311.67,817.52 L312.38,816.74 L313.18,816.12 L314.02,815.64 L314.90,815.25 L315.80,814.93 L316.76,814.65 L317.79,814.46 L318.92,814.43 L320.10,814.66 L321.26,815.23 L322.29,816.14 L323.09,817.34 L323.62,818.69 Z" fill="none" stroke="#6a1a22" stroke-opacity="0.35" stroke-width="1.21" filter="url(#tblur)"/>
</g>
<path d="M364.63,820.30 L364.68,821.24 L364.60,822.20 L364.37,823.14 L363.98,824.01 L363.43,824.77 L362.78,825.41 L362.05,825.91 L361.27,826.29 L360.45,826.55 L359.60,826.66 L358.74,826.62 L357.90,826.39 L357.11,826.00 L356.38,825.47 L355.73,824.81 L355.16,824.06 L354.67,823.23 L354.29,822.31 L354.05,821.32 L354.00,820.30 L354.15,819.29 L354.50,818.37 L355.01,817.57 L355.60,816.91 L356.20,816.34 L356.80,815.80 L357.39,815.23 L358.02,814.63 L358.75,814.05 L359.60,813.59 L360.54,813.38 L361.50,813.49 L362.37,813.96 L363.09,814.70 L363.61,815.62 L363.96,816.61 L364.18,817.57 L364.36,818.50 L364.51,819.39 Z" fill="#ecc8a8"/>
<g clip-path="url(#tcl23)">
<ellipse cx="358.60" cy="817.91" rx="2.33" ry="3.01" fill="#e4b898" opacity="0.85" filter="url(#tblur)"/>
<ellipse cx="358.98" cy="818.23" rx="2.26" ry="1.81" fill="#f0d2b8" opacity="0.85" filter="url(#tblur)"/>
<ellipse cx="357.46" cy="821.11" rx="1.57" ry="2.34" fill="#e4b898" opacity="0.85" filter="url(#tblur)"/>
<path d="M364.63,820.30 L364.68,821.24 L364.60,822.20 L364.37,823.14 L363.98,824.01 L363.43,824.77 L362.78,825.41 L362.05,825.91 L361.27,826.29 L360.45,826.55 L359.60,826.66 L358.74,826.62 L357.90,826.39 L357.11,826.00 L356.38,825.47 L355.73,824.81 L355.16,824.06 L354.67,823.23 L354.29,822.31 L354.05,821.32 L354.00,820.30 L354.15,819.29 L354.50,818.37 L355.01,817.57 L355.60,816.91 L356.20,816.34 L356.80,815.80 L357.39,815.23 L358.02,814.63 L358.75,814.05 L359.60,813.59 L360.54,813.38 L361.50,813.49 L362.37,813.96 L363.09,814.70 L363.61,815.62 L363.96,816.61 L364.18,817.57 L364.36,818.50 L364.51,819.39 Z" fill="none" stroke="#6a1a22" stroke-opacity="0.35" stroke-width="1.00" filter="url(#tblur)"/>
</g>
<path d="M399.00,817.47 L399.21,818.79 L399.29,820.08 L399.22,821.32 L399.02,822.50 L398.67,823.57 L398.20,824.52 L397.64,825.34 L396.99,826.05 L396.27,826.64 L395.46,827.06 L394.57,827.27 L393.64,827.23 L392.69,826.92 L391.78,826.36 L390.94,825.61 L390.17,824.75 L389.45,823.83 L388.74,822.85 L388.05,821.78 L387.42,820.58 L386.92,819.23 L386.64,817.80 L386.66,816.40 L387.00,815.15 L387.61,814.16 L388.37,813.46 L389.18,812.98 L389.96,812.63 L390.69,812.28 L391.39,811.88 L392.14,811.45 L392.98,811.11 L393.92,810.97 L394.92,811.15 L395.91,811.68 L396.82,812.53 L397.59,813.62 L398.20,814.86 L398.67,816.15 Z" fill="#dc9484"/>
<g clip-path="url(#tcl24)">
<ellipse cx="391.34" cy="816.84" rx="2.47" ry="3.07" fill="#ecb4a0" opacity="0.85" filter="url(#tblur)"/>
<ellipse cx="392.34" cy="817.05" rx="2.97" ry="3.46" fill="#f2ccb8" opacity="0.85" filter="url(#tblur)"/>
<ellipse cx="394.33" cy="822.74" rx="3.16" ry="2.48" fill="#c85a54" opacity="0.85" filter="url(#tblur)"/>
<path d="M399.00,817.47 L399.21,818.79 L399.29,820.08 L399.22,821.32 L399.02,822.50 L398.67,823.57 L398.20,824.52 L397.64,825.34 L396.99,826.05 L396.27,826.64 L395.46,827.06 L394.57,827.27 L393.64,827.23 L392.69,826.92 L391.78,826.36 L390.94,825.61 L390.17,824.75 L389.45,823.83 L388.74,822.85 L388.05,821.78 L387.42,820.58 L386.92,819.23 L386.64,817.80 L386.66,816.40 L387.00,815.15 L387.61,814.16 L388.37,813.46 L389.18,812.98 L389.96,812.63 L390.69,812.28 L391.39,811.88 L392.14,811.45 L392.98,811.11 L393.92,810.97 L394.92,811.15 L395.91,811.68 L396.82,812.53 L397.59,813.62 L398.20,814.86 L398.67,816.15 Z" fill="none" stroke="#6a1a22" stroke-opacity="0.35" stroke-width="1.04" filter="url(#tblur)"/>
</g>
<path d="M105.42,882.00 L105.39,884.39 L104.92,886.71 L103.99,888.80 L102.68,890.51 L101.15,891.80 L99.55,892.74 L98.00,893.50 L96.49,894.26 L94.96,895.11 L93.30,895.98 L91.44,896.68 L89.41,896.94 L87.36,896.54 L85.50,895.40 L84.01,893.59 L83.00,891.34 L82.46,888.89 L82.26,886.47 L82.28,884.18 L82.41,882.00 L82.60,879.88 L82.90,877.78 L83.39,875.70 L84.14,873.70 L85.18,871.87 L86.49,870.30 L88.01,869.03 L89.68,868.08 L91.45,867.45 L93.30,867.16 L95.17,867.25 L97.01,867.75 L98.74,868.68 L100.29,869.99 L101.63,871.60 L102.76,873.42 L103.71,875.38 L104.49,877.46 L105.08,879.67 Z" fill="#cc6464"/>
<g clip-path="url(#tcl25)">
<ellipse cx="99.88" cy="884.32" rx="6.35" ry="6.95" fill="#e6aca0" opacity="0.85" filter="url(#tblur)"/>
<ellipse cx="87.27" cy="881.06" rx="6.43" ry="4.94" fill="#b8303a" opacity="0.85" filter="url(#tblur)"/>
<ellipse cx="86.60" cy="879.91" rx="4.84" ry="4.50" fill="#ecc8b8" opacity="0.85" filter="url(#tblur)"/>
<ellipse cx="94.06" cy="881.00" rx="3.22" ry="5.76" fill="#a0303a" opacity="0.85" filter="url(#tblur)"/>
<ellipse cx="94.54" cy="884.85" rx="5.47" ry="5.06" fill="#e6aca0" opacity="0.85" filter="url(#tblur)"/>
<ellipse cx="96.07" cy="886.83" rx="5.65" ry="6.82" fill="#ecc8b8" opacity="0.85" filter="url(#tblur)"/>
<path d="M105.42,882.00 L105.39,884.39 L104.92,886.71 L103.99,888.80 L102.68,890.51 L101.15,891.80 L99.55,892.74 L98.00,893.50 L96.49,894.26 L94.96,895.11 L93.30,895.98 L91.44,896.68 L89.41,896.94 L87.36,896.54 L85.50,895.40 L84.01,893.59 L83.00,891.34 L82.46,888.89 L82.26,886.47 L82.28,884.18 L82.41,882.00 L82.60,879.88 L82.90,877.78 L83.39,875.70 L84.14,873.70 L85.18,871.87 L86.49,870.30 L88.01,869.03 L89.68,868.08 L91.45,867.45 L93.30,867.16 L95.17,867.25 L97.01,867.75 L98.74,868.68 L100.29,869.99 L101.63,871.60 L102.76,873.42 L103.71,875.38 L104.49,877.46 L105.08,879.67 Z" fill="none" stroke="#6a1a22" stroke-opacity="0.35" stroke-width="2.11" filter="url(#tblur)"/>
<path d="M89.79,879.81 q2.92,-2.92 5.85,0.73" fill="none" stroke="#fff3ee" stroke-opacity="0.55" stroke-width="0.9"/>
</g>
<path d="M139.71,882.50 L139.72,884.90 L139.31,887.24 L138.51,889.41 L137.40,891.32 L136.06,892.91 L134.56,894.15 L132.95,895.03 L131.28,895.53 L129.62,895.67 L128.00,895.52 L126.45,895.16 L124.93,894.69 L123.41,894.13 L121.84,893.45 L120.23,892.53 L118.68,891.24 L117.34,889.51 L116.40,887.36 L115.98,884.96 L116.11,882.50 L116.70,880.19 L117.60,878.14 L118.62,876.33 L119.65,874.67 L120.68,873.05 L121.78,871.45 L123.04,869.94 L124.53,868.71 L126.22,867.95 L128.00,867.80 L129.75,868.25 L131.35,869.19 L132.77,870.42 L134.03,871.79 L135.21,873.20 L136.36,874.66 L137.48,876.26 L138.49,878.10 L139.27,880.20 Z" fill="#dc9484"/>
<g clip-path="url(#tcl26)">
<ellipse cx="130.82" cy="885.22" rx="3.06" ry="3.01" fill="#d47064" opacity="0.85" filter="url(#tblur)"/>
<ellipse cx="121.69" cy="890.50" rx="5.83" ry="6.62" fill="#f2ccb8" opacity="0.85" filter="url(#tblur)"/>
<ellipse cx="132.50" cy="887.13" rx="5.72" ry="6.12" fill="#d47064" opacity="0.85" filter="url(#tblur)"/>
<ellipse cx="132.76" cy="876.77" rx="2.85" ry="5.39" fill="#d47064" opacity="0.85" filter="url(#tblur)"/>
<ellipse cx="129.89" cy="886.96" rx="5.09" ry="6.57" fill="#c85a54" opacity="0.85" filter="url(#tblur)"/>
<ellipse cx="127.36" cy="879.04" rx="5.23" ry="6.90" fill="#f2ccb8" opacity="0.85" filter="url(#tblur)"/>
<path d="M139.71,882.50 L139.72,884.90 L139.31,887.24 L138.51,889.41 L137.40,891.32 L136.06,892.91 L134.56,894.15 L132.95,895.03 L131.28,895.53 L129.62,895.67 L128.00,895.52 L126.45,895.16 L124.93,894.69 L123.41,894.13 L121.84,893.45 L120.23,892.53 L118.68,891.24 L117.34,889.51 L116.40,887.36 L115.98,884.96 L116.11,882.50 L116.70,880.19 L117.60,878.14 L118.62,876.33 L119.65,874.67 L120.68,873.05 L121.78,871.45 L123.04,869.94 L124.53,868.71 L126.22,867.95 L128.00,867.80 L129.75,868.25 L131.35,869.19 L132.77,870.42 L134.03,871.79 L135.21,873.20 L136.36,874.66 L137.48,876.26 L138.49,878.10 L139.27,880.20 Z" fill="none" stroke="#6a1a22" stroke-opacity="0.35" stroke-width="1.98" filter="url(#tblur)"/>
<path d="M124.70,880.37 q2.75,-2.84 5.50,0.71" fill="none" stroke="#fff3ee" stroke-opacity="0.55" stroke-width="0.9"/>
</g>
<path d="M184.49,880.70 L184.68,883.21 L184.80,885.90 L184.64,888.75 L184.02,891.61 L182.83,894.24 L181.12,896.40 L179.03,897.96 L176.73,898.89 L174.35,899.27 L172.00,899.19 L169.72,898.72 L167.53,897.89 L165.48,896.69 L163.62,895.11 L162.00,893.20 L160.65,891.01 L159.56,888.63 L158.71,886.10 L158.11,883.45 L157.78,880.70 L157.80,877.89 L158.23,875.11 L159.11,872.49 L160.41,870.18 L162.03,868.24 L163.84,866.66 L165.74,865.35 L167.70,864.17 L169.77,863.10 L172.00,862.21 L174.41,861.71 L176.90,861.85 L179.29,862.81 L181.34,864.62 L182.86,867.12 L183.79,870.00 L184.20,872.93 L184.32,875.70 L184.37,878.25 Z" fill="#dc9484"/>
<g clip-path="url(#tcl27)">
<ellipse cx="176.20" cy="871.83" rx="6.96" ry="6.94" fill="#f6dccc" opacity="0.85" filter="url(#tblur)"/>
<ellipse cx="169.66" cy="873.25" rx="7.61" ry="8.71" fill="#f2ccb8" opacity="0.85" filter="url(#tblur)"/>
<ellipse cx="179.82" cy="882.89" rx="6.59" ry="3.78" fill="#c85a54" opacity="0.85" filter="url(#tblur)"/>
<ellipse cx="179.76" cy="878.49" rx="4.56" ry="8.53" fill="#d47064" opacity="0.85" filter="url(#tblur)"/>
<ellipse cx="175.04" cy="888.16" rx="5.26" ry="6.65" fill="#f6dccc" opacity="0.85" filter="url(#tblur)"/>
<ellipse cx="170.12" cy="890.06" rx="7.07" ry="5.91" fill="#f2ccb8" opacity="0.85" filter="url(#tblur)"/>
<path d="M184.49,880.70 L184.68,883.21 L184.80,885.90 L184.64,888.75 L184.02,891.61 L182.83,894.24 L181.12,896.40 L179.03,897.96 L176.73,898.89 L174.35,899.27 L172.00,899.19 L169.72,898.72 L167.53,897.89 L165.48,896.69 L163.62,895.11 L162.00,893.20 L160.65,891.01 L159.56,888.63 L158.71,886.10 L158.11,883.45 L157.78,880.70 L157.80,877.89 L158.23,875.11 L159.11,872.49 L160.41,870.18 L162.03,868.24 L163.84,866.66 L165.74,865.35 L167.70,864.17 L169.77,863.10 L172.00,862.21 L174.41,861.71 L176.90,861.85 L179.29,862.81 L181.34,864.62 L182.86,867.12 L183.79,870.00 L184.20,872.93 L184.32,875.70 L184.37,878.25 Z" fill="none" stroke="#6a1a22" stroke-opacity="0.35" stroke-width="2.59" filter="url(#tblur)"/>
<path d="M167.68,878.00 q3.60,-3.60 7.20,0.90" fill="none" stroke="#fff3ee" stroke-opacity="0.55" stroke-width="0.9"/>
</g>
<path d="M236.93,872.00 L236.73,874.27 L236.14,876.42 L235.21,878.37 L234.04,880.06 L232.73,881.51 L231.34,882.79 L229.87,883.94 L228.31,884.95 L226.61,885.74 L224.80,886.15 L222.94,886.06 L221.17,885.41 L219.60,884.24 L218.30,882.73 L217.25,881.05 L216.35,879.37 L215.48,877.70 L214.56,875.99 L213.63,874.12 L212.86,872.00 L212.42,869.65 L212.52,867.21 L213.21,864.92 L214.46,862.98 L216.09,861.55 L217.91,860.62 L219.74,860.08 L221.49,859.79 L223.16,859.60 L224.80,859.49 L226.45,859.48 L228.13,859.69 L229.82,860.19 L231.44,861.04 L232.93,862.24 L234.25,863.76 L235.35,865.55 L236.20,867.55 L236.75,869.73 Z" fill="#cc6464"/>
<g clip-path="url(#tcl28)">
<ellipse cx="223.10" cy="869.13" rx="6.03" ry="2.88" fill="#b8303a" opacity="0.85" filter="url(#tblur)"/>
<ellipse cx="226.67" cy="872.83" rx="5.02" ry="4.80" fill="#e6aca0" opacity="0.85" filter="url(#tblur)"/>
<ellipse cx="230.28" cy="876.91" rx="3.38" ry="6.22" fill="#b8303a" opacity="0.85" filter="url(#tblur)"/>
<ellipse cx="222.19" cy="875.70" rx="5.78" ry="5.51" fill="#e6aca0" opacity="0.85" filter="url(#tblur)"/>
<ellipse cx="225.66" cy="866.94" rx="3.92" ry="3.15" fill="#e6aca0" opacity="0.85" filter="url(#tblur)"/>
<ellipse cx="220.00" cy="874.06" rx="4.86" ry="2.97" fill="#e6aca0" opacity="0.85" filter="url(#tblur)"/>
<path d="M236.93,872.00 L236.73,874.27 L236.14,876.42 L235.21,878.37 L234.04,880.06 L232.73,881.51 L231.34,882.79 L229.87,883.94 L228.31,884.95 L226.61,885.74 L224.80,886.15 L222.94,886.06 L221.17,885.41 L219.60,884.24 L218.30,882.73 L217.25,881.05 L216.35,879.37 L215.48,877.70 L214.56,875.99 L213.63,874.12 L212.86,872.00 L212.42,869.65 L212.52,867.21 L213.21,864.92 L214.46,862.98 L216.09,861.55 L217.91,860.62 L219.74,860.08 L221.49,859.79 L223.16,859.60 L224.80,859.49 L226.45,859.48 L228.13,859.69 L229.82,860.19 L231.44,861.04 L232.93,862.24 L234.25,863.76 L235.35,865.55 L236.20,867.55 L236.75,869.73 Z" fill="none" stroke="#6a1a22" stroke-opacity="0.35" stroke-width="2.07" filter="url(#tblur)"/>
<path d="M221.35,869.93 q2.88,-2.76 5.75,0.69" fill="none" stroke="#fff3ee" stroke-opacity="0.55" stroke-width="0.9"/>
</g>
<path d="M290.05,877.30 L290.08,877.95 L290.01,878.60 L289.83,879.25 L289.49,879.83 L289.01,880.31 L288.42,880.63 L287.78,880.79 L287.15,880.83 L286.55,880.80 L286.00,880.76 L285.45,880.75 L284.88,880.76 L284.25,880.73 L283.59,880.62 L282.95,880.35 L282.41,879.91 L282.02,879.33 L281.81,878.66 L281.78,877.97 L281.89,877.30 L282.08,876.68 L282.31,876.10 L282.58,875.56 L282.90,875.04 L283.27,874.57 L283.71,874.15 L284.22,873.81 L284.79,873.56 L285.39,873.42 L286.00,873.37 L286.62,873.40 L287.23,873.53 L287.81,873.74 L288.36,874.05 L288.84,874.46 L289.25,874.94 L289.56,875.49 L289.79,876.07 L289.95,876.67 Z" fill="#dc9484"/>
<g clip-path="url(#tcl29)">
<ellipse cx="284.80" cy="875.31" rx="1.98" ry="0.85" fill="#d47064" opacity="0.85" filter="url(#tblur)"/>
<ellipse cx="284.64" cy="876.95" rx="2.18" ry="1.60" fill="#ecb4a0" opacity="0.85" filter="url(#tblur)"/>
<ellipse cx="285.80" cy="874.90" rx="1.44" ry="0.84" fill="#c85a54" opacity="0.85" filter="url(#tblur)"/>
<path d="M290.05,877.30 L290.08,877.95 L290.01,878.60 L289.83,879.25 L289.49,879.83 L289.01,880.31 L288.42,880.63 L287.78,880.79 L287.15,880.83 L286.55,880.80 L286.00,880.76 L285.45,880.75 L284.88,880.76 L284.25,880.73 L283.59,880.62 L282.95,880.35 L282.41,879.91 L282.02,879.33 L281.81,878.66 L281.78,877.97 L281.89,877.30 L282.08,876.68 L282.31,876.10 L282.58,875.56 L282.90,875.04 L283.27,874.57 L283.71,874.15 L284.22,873.81 L284.79,873.56 L285.39,873.42 L286.00,873.37 L286.62,873.40 L287.23,873.53 L287.81,873.74 L288.36,874.05 L288.84,874.46 L289.25,874.94 L289.56,875.49 L289.79,876.07 L289.95,876.67 Z" fill="none" stroke="#6a1a22" stroke-opacity="0.35" stroke-width="1.00" filter="url(#tblur)"/>
</g>
<path d="M322.47,876.00 L322.62,876.98 L322.64,878.01 L322.47,879.04 L322.10,879.95 L321.56,880.66 L320.90,881.12 L320.21,881.36 L319.53,881.43 L318.90,881.41 L318.30,881.37 L317.71,881.31 L317.11,881.21 L316.51,881.03 L315.90,880.71 L315.34,880.23 L314.83,879.60 L314.41,878.83 L314.09,877.95 L313.89,877.00 L313.82,876.00 L313.88,875.00 L314.09,874.05 L314.43,873.18 L314.88,872.45 L315.40,871.85 L315.94,871.37 L316.50,870.96 L317.07,870.60 L317.67,870.30 L318.30,870.07 L318.97,870.00 L319.64,870.13 L320.26,870.50 L320.80,871.09 L321.22,871.82 L321.54,872.63 L321.80,873.45 L322.03,874.27 L322.25,875.11 Z" fill="#ecc8a8"/>
<g clip-path="url(#tcl30)">
<ellipse cx="319.91" cy="872.44" rx="1.24" ry="2.15" fill="#f0d2b8" opacity="0.85" filter="url(#tblur)"/>
<ellipse cx="316.70" cy="875.14" rx="2.17" ry="1.48" fill="#f0d2b8" opacity="0.85" filter="url(#tblur)"/>
<ellipse cx="318.17" cy="877.90" rx="2.05" ry="2.18" fill="#f0d2b8" opacity="0.85" filter="url(#tblur)"/>
<path d="M322.47,876.00 L322.62,876.98 L322.64,878.01 L322.47,879.04 L322.10,879.95 L321.56,880.66 L320.90,881.12 L320.21,881.36 L319.53,881.43 L318.90,881.41 L318.30,881.37 L317.71,881.31 L317.11,881.21 L316.51,881.03 L315.90,880.71 L315.34,880.23 L314.83,879.60 L314.41,878.83 L314.09,877.95 L313.89,877.00 L313.82,876.00 L313.88,875.00 L314.09,874.05 L314.43,873.18 L314.88,872.45 L315.40,871.85 L315.94,871.37 L316.50,870.96 L317.07,870.60 L317.67,870.30 L318.30,870.07 L318.97,870.00 L319.64,870.13 L320.26,870.50 L320.80,871.09 L321.22,871.82 L321.54,872.63 L321.80,873.45 L322.03,874.27 L322.25,875.11 Z" fill="none" stroke="#6a1a22" stroke-opacity="0.35" stroke-width="1.00" filter="url(#tblur)"/>
</g>
<path d="M363.55,876.55 L363.35,877.99 L363.02,879.27 L362.67,880.42 L362.36,881.55 L362.09,882.73 L361.79,883.99 L361.35,885.28 L360.71,886.45 L359.84,887.35 L358.79,887.83 L357.64,887.87 L356.49,887.49 L355.42,886.80 L354.44,885.92 L353.57,884.93 L352.79,883.87 L352.09,882.73 L351.48,881.51 L351.00,880.19 L350.67,878.82 L350.51,877.41 L350.50,876.01 L350.63,874.64 L350.90,873.32 L351.30,872.08 L351.86,870.95 L352.58,870.00 L353.43,869.28 L354.39,868.82 L355.40,868.62 L356.43,868.62 L357.47,868.78 L358.51,869.05 L359.56,869.46 L360.62,870.05 L361.64,870.91 L362.52,872.05 L363.16,873.45 L363.51,874.99 Z" fill="#c83c40"/>
<g clip-path="url(#tcl31)">
<ellipse cx="353.28" cy="875.02" rx="3.30" ry="3.87" fill="#d85850" opacity="0.85" filter="url(#tblur)"/>
<ellipse cx="357.88" cy="875.20" rx="2.84" ry="3.18" fill="#a02830" opacity="0.85" filter="url(#tblur)"/>
<ellipse cx="358.33" cy="878.07" rx="1.81" ry="3.18" fill="#a02830" opacity="0.85" filter="url(#tblur)"/>
<path d="M363.55,876.55 L363.35,877.99 L363.02,879.27 L362.67,880.42 L362.36,881.55 L362.09,882.73 L361.79,883.99 L361.35,885.28 L360.71,886.45 L359.84,887.35 L358.79,887.83 L357.64,887.87 L356.49,887.49 L355.42,886.80 L354.44,885.92 L353.57,884.93 L352.79,883.87 L352.09,882.73 L351.48,881.51 L351.00,880.19 L350.67,878.82 L350.51,877.41 L350.50,876.01 L350.63,874.64 L350.90,873.32 L351.30,872.08 L351.86,870.95 L352.58,870.00 L353.43,869.28 L354.39,868.82 L355.40,868.62 L356.43,868.62 L357.47,868.78 L358.51,869.05 L359.56,869.46 L360.62,870.05 L361.64,870.91 L362.52,872.05 L363.16,873.45 L363.51,874.99 Z" fill="none" stroke="#6a1a22" stroke-opacity="0.35" stroke-width="1.19" filter="url(#tblur)"/>
</g>
<path d="M399.68,878.30 L399.88,879.35 L399.84,880.43 L399.53,881.47 L398.95,882.38 L398.18,883.11 L397.30,883.65 L396.37,884.00 L395.43,884.20 L394.50,884.28 L393.60,884.24 L392.73,884.09 L391.89,883.84 L391.08,883.48 L390.31,883.05 L389.57,882.53 L388.86,881.91 L388.20,881.19 L387.65,880.33 L387.26,879.35 L387.11,878.30 L387.22,877.24 L387.58,876.25 L388.14,875.38 L388.81,874.64 L389.52,874.01 L390.24,873.44 L390.98,872.89 L391.77,872.38 L392.65,871.97 L393.60,871.74 L394.58,871.77 L395.52,872.09 L396.34,872.65 L397.01,873.37 L397.54,874.17 L397.99,874.95 L398.42,875.72 L398.87,876.50 L399.31,877.35 Z" fill="#dc9484"/>
<g clip-path="url(#tcl32)">
<ellipse cx="394.90" cy="879.53" rx="2.41" ry="1.57" fill="#c85a54" opacity="0.85" filter="url(#tblur)"/>
<ellipse cx="396.93" cy="878.26" rx="2.40" ry="1.67" fill="#f2ccb8" opacity="0.85" filter="url(#tblur)"/>
<ellipse cx="396.14" cy="876.44" rx="2.83" ry="1.28" fill="#d47064" opacity="0.85" filter="url(#tblur)"/>
<path d="M399.68,878.30 L399.88,879.35 L399.84,880.43 L399.53,881.47 L398.95,882.38 L398.18,883.11 L397.30,883.65 L396.37,884.00 L395.43,884.20 L394.50,884.28 L393.60,884.24 L392.73,884.09 L391.89,883.84 L391.08,883.48 L390.31,883.05 L389.57,882.53 L388.86,881.91 L388.20,881.19 L387.65,880.33 L387.26,879.35 L387.11,878.30 L387.22,877.24 L387.58,876.25 L388.14,875.38 L388.81,874.64 L389.52,874.01 L390.24,873.44 L390.98,872.89 L391.77,872.38 L392.65,871.97 L393.60,871.74 L394.58,871.77 L395.52,872.09 L396.34,872.65 L397.01,873.37 L397.54,874.17 L397.99,874.95 L398.42,875.72 L398.87,876.50 L399.31,877.35 Z" fill="none" stroke="#6a1a22" stroke-opacity="0.35" stroke-width="1.08" filter="url(#tblur)"/>
</g>
<path d="M99.73,932.00 L98.94,934.04 L97.98,935.86 L97.03,937.54 L96.15,939.22 L95.28,941.03 L94.25,942.94 L92.91,944.82 L91.15,946.42 L89.03,947.47 L86.70,947.79 L84.39,947.36 L82.28,946.31 L80.48,944.85 L78.97,943.19 L77.69,941.49 L76.55,939.77 L75.52,937.99 L74.66,936.12 L74.03,934.11 L73.73,932.00 L73.80,929.85 L74.23,927.73 L74.98,925.71 L76.01,923.82 L77.29,922.10 L78.82,920.59 L80.58,919.35 L82.52,918.47 L84.59,917.98 L86.70,917.89 L88.78,918.15 L90.81,918.69 L92.78,919.45 L94.68,920.44 L96.48,921.71 L98.06,923.31 L99.29,925.25 L100.01,927.45 L100.14,929.76 Z" fill="#6e222a"/>
<g clip-path="url(#tcl33)">
<ellipse cx="91.93" cy="926.78" rx="4.76" ry="6.56" fill="#c88080" opacity="0.85" filter="url(#tblur)"/>
<ellipse cx="84.07" cy="938.29" rx="4.53" ry="5.29" fill="#4a1218" opacity="0.85" filter="url(#tblur)"/>
<ellipse cx="87.93" cy="933.60" rx="6.80" ry="4.88" fill="#581820" opacity="0.85" filter="url(#tblur)"/>
<ellipse cx="93.55" cy="926.45" rx="4.78" ry="5.88" fill="#4a1218" opacity="0.85" filter="url(#tblur)"/>
<ellipse cx="79.27" cy="937.97" rx="4.31" ry="6.24" fill="#581820" opacity="0.85" filter="url(#tblur)"/>
<ellipse cx="87.79" cy="928.32" rx="4.16" ry="3.73" fill="#a04048" opacity="0.85" filter="url(#tblur)"/>
<path d="M99.73,932.00 L98.94,934.04 L97.98,935.86 L97.03,937.54 L96.15,939.22 L95.28,941.03 L94.25,942.94 L92.91,944.82 L91.15,946.42 L89.03,947.47 L86.70,947.79 L84.39,947.36 L82.28,946.31 L80.48,944.85 L78.97,943.19 L77.69,941.49 L76.55,939.77 L75.52,937.99 L74.66,936.12 L74.03,934.11 L73.73,932.00 L73.80,929.85 L74.23,927.73 L74.98,925.71 L76.01,923.82 L77.29,922.10 L78.82,920.59 L80.58,919.35 L82.52,918.47 L84.59,917.98 L86.70,917.89 L88.78,918.15 L90.81,918.69 L92.78,919.45 L94.68,920.44 L96.48,921.71 L98.06,923.31 L99.29,925.25 L100.01,927.45 L100.14,929.76 Z" fill="none" stroke="#6a1a22" stroke-opacity="0.35" stroke-width="2.39" filter="url(#tblur)"/>
<path d="M82.71,929.90 q3.33,-2.80 6.65,0.70" fill="none" stroke="#fff3ee" stroke-opacity="0.55" stroke-width="0.9"/>
</g>
<path d="M147.50,935.24 L146.85,937.41 L145.82,939.49 L144.39,941.41 L142.54,943.07 L140.29,944.35 L137.72,945.11 L134.96,945.30 L132.19,944.93 L129.56,944.11 L127.12,943.00 L124.87,941.74 L122.71,940.39 L120.62,938.93 L118.61,937.26 L116.85,935.31 L115.54,933.09 L114.89,930.69 L114.97,928.29 L115.71,926.06 L116.90,924.10 L118.28,922.38 L119.67,920.78 L121.04,919.15 L122.50,917.45 L124.22,915.76 L126.35,914.27 L128.92,913.26 L131.79,912.95 L134.72,913.41 L137.46,914.59 L139.83,916.28 L141.76,918.26 L143.31,920.33 L144.59,922.40 L145.66,924.45 L146.57,926.51 L147.26,928.63 L147.68,930.81 L147.77,933.03 Z" fill="#cc6464"/>
<g clip-path="url(#tcl34)">
<ellipse cx="135.77" cy="935.35" rx="4.64" ry="6.12" fill="#e6aca0" opacity="0.85" filter="url(#tblur)"/>
<ellipse cx="133.58" cy="933.40" rx="8.02" ry="3.63" fill="#c84a4e" opacity="0.85" filter="url(#tblur)"/>
<ellipse cx="139.14" cy="921.68" rx="6.08" ry="6.35" fill="#b8303a" opacity="0.85" filter="url(#tblur)"/>
<ellipse cx="137.17" cy="935.84" rx="5.84" ry="6.32" fill="#a0303a" opacity="0.85" filter="url(#tblur)"/>
<ellipse cx="125.47" cy="927.73" rx="5.48" ry="4.97" fill="#f2dccc" opacity="0.85" filter="url(#tblur)"/>
<ellipse cx="128.82" cy="923.14" rx="5.36" ry="3.98" fill="#f2dccc" opacity="0.85" filter="url(#tblur)"/>
<path d="M147.50,935.24 L146.85,937.41 L145.82,939.49 L144.39,941.41 L142.54,943.07 L140.29,944.35 L137.72,945.11 L134.96,945.30 L132.19,944.93 L129.56,944.11 L127.12,943.00 L124.87,941.74 L122.71,940.39 L120.62,938.93 L118.61,937.26 L116.85,935.31 L115.54,933.09 L114.89,930.69 L114.97,928.29 L115.71,926.06 L116.90,924.10 L118.28,922.38 L119.67,920.78 L121.04,919.15 L122.50,917.45 L124.22,915.76 L126.35,914.27 L128.92,913.26 L131.79,912.95 L134.72,913.41 L137.46,914.59 L139.83,916.28 L141.76,918.26 L143.31,920.33 L144.59,922.40 L145.66,924.45 L146.57,926.51 L147.26,928.63 L147.68,930.81 L147.77,933.03 Z" fill="none" stroke="#6a1a22" stroke-opacity="0.35" stroke-width="3.06" filter="url(#tblur)"/>
<path d="M126.90,927.41 q4.25,-2.92 8.50,0.73" fill="none" stroke="#fff3ee" stroke-opacity="0.55" stroke-width="0.9"/>
</g>
<path d="M192.09,928.40 L192.00,930.99 L191.35,933.41 L190.26,935.44 L188.90,937.00 L187.47,938.14 L186.09,939.04 L184.80,939.87 L183.54,940.73 L182.23,941.59 L180.80,942.31 L179.25,942.70 L177.64,942.58 L176.08,941.91 L174.67,940.72 L173.45,939.13 L172.45,937.25 L171.67,935.19 L171.09,933.01 L170.73,930.73 L170.62,928.40 L170.78,926.08 L171.21,923.85 L171.88,921.77 L172.76,919.87 L173.79,918.17 L174.96,916.67 L176.27,915.41 L177.70,914.46 L179.23,913.91 L180.80,913.84 L182.33,914.27 L183.76,915.11 L185.05,916.23 L186.23,917.49 L187.37,918.81 L188.53,920.20 L189.70,921.78 L190.79,923.66 L191.65,925.89 Z" fill="#cc6464"/>
<g clip-path="url(#tcl35)">
<ellipse cx="183.83" cy="927.43" rx="4.16" ry="6.45" fill="#c84a4e" opacity="0.85" filter="url(#tblur)"/>
<ellipse cx="174.88" cy="925.79" rx="2.92" ry="4.83" fill="#c84a4e" opacity="0.85" filter="url(#tblur)"/>
<ellipse cx="184.56" cy="931.64" rx="3.95" ry="4.39" fill="#c84a4e" opacity="0.85" filter="url(#tblur)"/>
<ellipse cx="179.79" cy="922.55" rx="4.16" ry="3.63" fill="#f2dccc" opacity="0.85" filter="url(#tblur)"/>
<ellipse cx="183.39" cy="929.05" rx="4.74" ry="4.24" fill="#a0303a" opacity="0.85" filter="url(#tblur)"/>
<ellipse cx="181.39" cy="936.78" rx="5.44" ry="5.94" fill="#f2dccc" opacity="0.85" filter="url(#tblur)"/>
<path d="M192.09,928.40 L192.00,930.99 L191.35,933.41 L190.26,935.44 L188.90,937.00 L187.47,938.14 L186.09,939.04 L184.80,939.87 L183.54,940.73 L182.23,941.59 L180.80,942.31 L179.25,942.70 L177.64,942.58 L176.08,941.91 L174.67,940.72 L173.45,939.13 L172.45,937.25 L171.67,935.19 L171.09,933.01 L170.73,930.73 L170.62,928.40 L170.78,926.08 L171.21,923.85 L171.88,921.77 L172.76,919.87 L173.79,918.17 L174.96,916.67 L176.27,915.41 L177.70,914.46 L179.23,913.91 L180.80,913.84 L182.33,914.27 L183.76,915.11 L185.05,916.23 L186.23,917.49 L187.37,918.81 L188.53,920.20 L189.70,921.78 L190.79,923.66 L191.65,925.89 Z" fill="none" stroke="#6a1a22" stroke-opacity="0.35" stroke-width="1.80" filter="url(#tblur)"/>
<path d="M177.80,926.21 q2.50,-2.92 5.00,0.73" fill="none" stroke="#fff3ee" stroke-opacity="0.55" stroke-width="0.9"/>
</g>
<path d="M241.24,923.49 L242.07,926.23 L242.36,929.12 L241.99,931.97 L240.99,934.53 L239.50,936.67 L237.75,938.39 L235.90,939.82 L234.04,941.10 L232.13,942.34 L230.08,943.48 L227.82,944.33 L225.37,944.64 L222.87,944.18 L220.54,942.90 L218.56,940.91 L217.04,938.46 L215.97,935.83 L215.21,933.22 L214.63,930.72 L214.11,928.27 L213.66,925.80 L213.33,923.22 L213.27,920.53 L213.58,917.82 L214.33,915.19 L215.53,912.77 L217.13,910.68 L219.07,909.00 L221.29,907.82 L223.69,907.21 L226.16,907.24 L228.58,907.92 L230.82,909.17 L232.79,910.85 L234.49,912.77 L235.98,914.77 L237.36,916.77 L238.72,918.82 L240.05,921.02 Z" fill="#cc6464"/>
<g clip-path="url(#tcl36)">
<ellipse cx="228.39" cy="935.54" rx="5.81" ry="7.33" fill="#a0303a" opacity="0.85" filter="url(#tblur)"/>
<ellipse cx="218.99" cy="931.61" rx="6.42" ry="4.18" fill="#c84a4e" opacity="0.85" filter="url(#tblur)"/>
<ellipse cx="225.80" cy="927.88" rx="6.52" ry="7.02" fill="#f2dccc" opacity="0.85" filter="url(#tblur)"/>
<ellipse cx="234.56" cy="923.75" rx="4.96" ry="7.22" fill="#b8303a" opacity="0.85" filter="url(#tblur)"/>
<ellipse cx="220.83" cy="917.22" rx="6.20" ry="8.53" fill="#ecc8b8" opacity="0.85" filter="url(#tblur)"/>
<ellipse cx="235.30" cy="935.54" rx="5.03" ry="4.78" fill="#c84a4e" opacity="0.85" filter="url(#tblur)"/>
<path d="M241.24,923.49 L242.07,926.23 L242.36,929.12 L241.99,931.97 L240.99,934.53 L239.50,936.67 L237.75,938.39 L235.90,939.82 L234.04,941.10 L232.13,942.34 L230.08,943.48 L227.82,944.33 L225.37,944.64 L222.87,944.18 L220.54,942.90 L218.56,940.91 L217.04,938.46 L215.97,935.83 L215.21,933.22 L214.63,930.72 L214.11,928.27 L213.66,925.80 L213.33,923.22 L213.27,920.53 L213.58,917.82 L214.33,915.19 L215.53,912.77 L217.13,910.68 L219.07,909.00 L221.29,907.82 L223.69,907.21 L226.16,907.24 L228.58,907.92 L230.82,909.17 L232.79,910.85 L234.49,912.77 L235.98,914.77 L237.36,916.77 L238.72,918.82 L240.05,921.02 Z" fill="none" stroke="#6a1a22" stroke-opacity="0.35" stroke-width="2.63" filter="url(#tblur)"/>
<path d="M222.62,923.35 q3.65,-3.54 7.30,0.89" fill="none" stroke="#fff3ee" stroke-opacity="0.55" stroke-width="0.9"/>
</g>
<path d="M289.57,925.60 L289.46,926.56 L289.25,927.47 L288.96,928.31 L288.61,929.10 L288.22,929.85 L287.79,930.59 L287.30,931.32 L286.73,931.99 L286.05,932.52 L285.30,932.80 L284.52,932.75 L283.79,932.36 L283.17,931.67 L282.70,930.81 L282.35,929.89 L282.09,928.99 L281.85,928.16 L281.59,927.35 L281.32,926.52 L281.08,925.60 L280.95,924.60 L280.97,923.56 L281.19,922.55 L281.57,921.66 L282.09,920.93 L282.68,920.36 L283.31,919.92 L283.95,919.57 L284.62,919.32 L285.30,919.17 L286.00,919.16 L286.70,919.33 L287.37,919.70 L287.97,920.26 L288.48,920.97 L288.90,921.79 L289.22,922.69 L289.45,923.64 L289.56,924.62 Z" fill="#c83c40"/>
<g clip-path="url(#tcl37)">
<ellipse cx="286.75" cy="923.08" rx="1.18" ry="1.67" fill="#b83038" opacity="0.85" filter="url(#tblur)"/>
<ellipse cx="283.36" cy="925.88" rx="2.11" ry="1.73" fill="#b83038" opacity="0.85" filter="url(#tblur)"/>
<ellipse cx="287.18" cy="924.83" rx="1.21" ry="1.72" fill="#eea890" opacity="0.85" filter="url(#tblur)"/>
<path d="M289.57,925.60 L289.46,926.56 L289.25,927.47 L288.96,928.31 L288.61,929.10 L288.22,929.85 L287.79,930.59 L287.30,931.32 L286.73,931.99 L286.05,932.52 L285.30,932.80 L284.52,932.75 L283.79,932.36 L283.17,931.67 L282.70,930.81 L282.35,929.89 L282.09,928.99 L281.85,928.16 L281.59,927.35 L281.32,926.52 L281.08,925.60 L280.95,924.60 L280.97,923.56 L281.19,922.55 L281.57,921.66 L282.09,920.93 L282.68,920.36 L283.31,919.92 L283.95,919.57 L284.62,919.32 L285.30,919.17 L286.00,919.16 L286.70,919.33 L287.37,919.70 L287.97,920.26 L288.48,920.97 L288.90,921.79 L289.22,922.69 L289.45,923.64 L289.56,924.62 Z" fill="none" stroke="#6a1a22" stroke-opacity="0.35" stroke-width="1.00" filter="url(#tblur)"/>
</g>
<path d="M323.99,922.70 L324.04,923.62 L323.96,924.55 L323.72,925.44 L323.35,926.25 L322.87,926.97 L322.31,927.57 L321.70,928.07 L321.03,928.45 L320.33,928.70 L319.60,928.80 L318.87,928.74 L318.15,928.50 L317.48,928.12 L316.86,927.62 L316.30,927.01 L315.80,926.30 L315.38,925.51 L315.07,924.62 L314.92,923.67 L314.94,922.70 L315.13,921.78 L315.46,920.94 L315.86,920.22 L316.29,919.56 L316.71,918.92 L317.13,918.26 L317.59,917.56 L318.15,916.87 L318.82,916.31 L319.60,915.97 L320.42,915.95 L321.20,916.27 L321.87,916.88 L322.40,917.67 L322.80,918.53 L323.10,919.38 L323.36,920.20 L323.61,921.00 L323.83,921.83 Z" fill="#ecc8a8"/>
<g clip-path="url(#tcl38)">
<ellipse cx="320.94" cy="921.48" rx="1.32" ry="1.64" fill="#f0d2b8" opacity="0.85" filter="url(#tblur)"/>
<ellipse cx="319.69" cy="919.87" rx="2.07" ry="2.32" fill="#f0d2b8" opacity="0.85" filter="url(#tblur)"/>
<ellipse cx="318.08" cy="921.51" rx="1.35" ry="2.86" fill="#fae8d8" opacity="0.85" filter="url(#tblur)"/>
<path d="M323.99,922.70 L324.04,923.62 L323.96,924.55 L323.72,925.44 L323.35,926.25 L322.87,926.97 L322.31,927.57 L321.70,928.07 L321.03,928.45 L320.33,928.70 L319.60,928.80 L318.87,928.74 L318.15,928.50 L317.48,928.12 L316.86,927.62 L316.30,927.01 L315.80,926.30 L315.38,925.51 L315.07,924.62 L314.92,923.67 L314.94,922.70 L315.13,921.78 L315.46,920.94 L315.86,920.22 L316.29,919.56 L316.71,918.92 L317.13,918.26 L317.59,917.56 L318.15,916.87 L318.82,916.31 L319.60,915.97 L320.42,915.95 L321.20,916.27 L321.87,916.88 L322.40,917.67 L322.80,918.53 L323.10,919.38 L323.36,920.20 L323.61,921.00 L323.83,921.83 Z" fill="none" stroke="#6a1a22" stroke-opacity="0.35" stroke-width="1.00" filter="url(#tblur)"/>
</g>
<path d="M362.81,925.40 L362.64,926.79 L362.32,928.08 L361.88,929.23 L361.38,930.26 L360.82,931.18 L360.22,932.00 L359.57,932.71 L358.86,933.28 L358.10,933.70 L357.30,933.94 L356.47,934.01 L355.62,933.89 L354.76,933.57 L353.94,933.00 L353.18,932.16 L352.57,931.04 L352.16,929.70 L351.98,928.24 L352.03,926.77 L352.25,925.40 L352.56,924.17 L352.88,923.04 L353.16,921.94 L353.44,920.80 L353.76,919.59 L354.20,918.39 L354.79,917.32 L355.54,916.53 L356.41,916.13 L357.30,916.15 L358.16,916.51 L358.94,917.10 L359.66,917.81 L360.33,918.56 L360.97,919.38 L361.58,920.29 L362.13,921.36 L362.54,922.60 L362.78,923.97 Z" fill="#cc6464"/>
<g clip-path="url(#tcl39)">
<ellipse cx="355.10" cy="921.16" rx="2.44" ry="4.30" fill="#f2dccc" opacity="0.85" filter="url(#tblur)"/>
<ellipse cx="358.86" cy="920.38" rx="2.04" ry="3.89" fill="#e6aca0" opacity="0.85" filter="url(#tblur)"/>
<ellipse cx="354.15" cy="924.36" rx="1.89" ry="3.73" fill="#f2dccc" opacity="0.85" filter="url(#tblur)"/>
<path d="M362.81,925.40 L362.64,926.79 L362.32,928.08 L361.88,929.23 L361.38,930.26 L360.82,931.18 L360.22,932.00 L359.57,932.71 L358.86,933.28 L358.10,933.70 L357.30,933.94 L356.47,934.01 L355.62,933.89 L354.76,933.57 L353.94,933.00 L353.18,932.16 L352.57,931.04 L352.16,929.70 L351.98,928.24 L352.03,926.77 L352.25,925.40 L352.56,924.17 L352.88,923.04 L353.16,921.94 L353.44,920.80 L353.76,919.59 L354.20,918.39 L354.79,917.32 L355.54,916.53 L356.41,916.13 L357.30,916.15 L358.16,916.51 L358.94,917.10 L359.66,917.81 L360.33,918.56 L360.97,919.38 L361.58,920.29 L362.13,921.36 L362.54,922.60 L362.78,923.97 Z" fill="none" stroke="#6a1a22" stroke-opacity="0.35" stroke-width="1.00" filter="url(#tblur)"/>
</g>
<path d="M400.08,926.20 L399.90,927.17 L399.53,928.06 L399.02,928.86 L398.45,929.58 L397.83,930.23 L397.17,930.84 L396.43,931.36 L395.61,931.77 L394.72,932.03 L393.80,932.09 L392.89,931.97 L392.02,931.69 L391.21,931.28 L390.48,930.77 L389.83,930.17 L389.26,929.50 L388.81,928.74 L388.48,927.93 L388.28,927.08 L388.19,926.20 L388.21,925.31 L388.31,924.42 L388.51,923.51 L388.84,922.60 L389.34,921.74 L390.02,921.00 L390.88,920.47 L391.85,920.21 L392.85,920.23 L393.80,920.49 L394.64,920.89 L395.38,921.33 L396.08,921.73 L396.78,922.10 L397.53,922.47 L398.31,922.93 L399.04,923.53 L399.64,924.30 L400.00,925.22 Z" fill="#c83c40"/>
<g clip-path="url(#tcl40)">
<ellipse cx="395.93" cy="924.22" rx="2.58" ry="2.49" fill="#b83038" opacity="0.85" filter="url(#tblur)"/>
<ellipse cx="396.30" cy="926.56" rx="2.83" ry="1.75" fill="#b83038" opacity="0.85" filter="url(#tblur)"/>
<ellipse cx="393.68" cy="926.19" rx="1.50" ry="2.76" fill="#a02830" opacity="0.85" filter="url(#tblur)"/>
<path d="M400.08,926.20 L399.90,927.17 L399.53,928.06 L399.02,928.86 L398.45,929.58 L397.83,930.23 L397.17,930.84 L396.43,931.36 L395.61,931.77 L394.72,932.03 L393.80,932.09 L392.89,931.97 L392.02,931.69 L391.21,931.28 L390.48,930.77 L389.83,930.17 L389.26,929.50 L388.81,928.74 L388.48,927.93 L388.28,927.08 L388.19,926.20 L388.21,925.31 L388.31,924.42 L388.51,923.51 L388.84,922.60 L389.34,921.74 L390.02,921.00 L390.88,920.47 L391.85,920.21 L392.85,920.23 L393.80,920.49 L394.64,920.89 L395.38,921.33 L396.08,921.73 L396.78,922.10 L397.53,922.47 L398.31,922.93 L399.04,923.53 L399.64,924.30 L400.00,925.22 Z" fill="none" stroke="#6a1a22" stroke-opacity="0.35" stroke-width="1.04" filter="url(#tblur)"/>
</g>
<text x="444.46" y="713.90" font-size="21.00" textLength="63.34" lengthAdjust="spacingAndGlyphs" fill="#000">shCON</text>
<text x="444.46" y="772.90" font-size="21.00" textLength="75.51" lengthAdjust="spacingAndGlyphs" fill="#000">shTrx1-1</text>
<text x="444.46" y="831.90" font-size="21.00" textLength="75.51" lengthAdjust="spacingAndGlyphs" fill="#000">shTrx1-2</text>
<text x="444.46" y="888.40" font-size="21.00" textLength="89.46" lengthAdjust="spacingAndGlyphs" fill="#000">shTrxR1-3</text>
<text x="444.46" y="933.30" font-size="21.00" textLength="89.46" lengthAdjust="spacingAndGlyphs" fill="#000">shTrxR1-5</text>
<text x="568.83" y="669.30" font-size="29.00" font-weight="bold" textLength="9.17" lengthAdjust="spacingAndGlyphs" fill="#000">f</text>
<line x1="695.00" y1="682.50" x2="695.00" y2="938.70" stroke="#000" stroke-width="1.80"/>
<line x1="694.00" y1="937.70" x2="978.00" y2="937.70" stroke="#000" stroke-width="1.80"/>
<line x1="689.40" y1="937.70" x2="695.00" y2="937.70" stroke="#000" stroke-width="1.80"/>
<text x="661.36" y="944.40" font-size="19.60" textLength="26.08" lengthAdjust="spacingAndGlyphs" fill="#000">0.0</text>
<line x1="689.40" y1="874.10" x2="695.00" y2="874.10" stroke="#000" stroke-width="1.80"/>
<text x="661.42" y="880.80" font-size="19.60" textLength="26.08" lengthAdjust="spacingAndGlyphs" fill="#000">0.5</text>
<line x1="689.40" y1="810.50" x2="695.00" y2="810.50" stroke="#000" stroke-width="1.80"/>
<text x="661.36" y="817.20" font-size="19.60" textLength="26.08" lengthAdjust="spacingAndGlyphs" fill="#000">1.0</text>
<line x1="689.40" y1="746.90" x2="695.00" y2="746.90" stroke="#000" stroke-width="1.80"/>
<text x="661.42" y="753.60" font-size="19.60" textLength="26.08" lengthAdjust="spacingAndGlyphs" fill="#000">1.5</text>
<line x1="689.40" y1="683.30" x2="695.00" y2="683.30" stroke="#000" stroke-width="1.80"/>
<text x="661.36" y="690.00" font-size="19.60" textLength="26.08" lengthAdjust="spacingAndGlyphs" fill="#000">2.0</text>
<text transform="translate(651.80 887.70) rotate(-90)" x="-0.42" y="0" font-size="19.60" textLength="158.89" lengthAdjust="spacingAndGlyphs" fill="#000">Tumor weight (gm)</text>
<rect x="705.80" y="733.54" width="18.80" height="204.16" fill="#fff" stroke="#000" stroke-width="1.80"/>
<line x1="715.20" y1="937.70" x2="715.20" y2="943.80" stroke="#000" stroke-width="1.80"/>
<circle cx="715.20" cy="696.53" r="3.10" fill="#000000"/>
<circle cx="715.20" cy="709.12" r="3.10" fill="#000000"/>
<circle cx="715.20" cy="722.22" r="3.10" fill="#000000"/>
<circle cx="707.70" cy="731.64" r="3.10" fill="#000000"/>
<circle cx="722.70" cy="732.40" r="3.10" fill="#000000"/>
<circle cx="707.70" cy="747.41" r="3.10" fill="#000000"/>
<circle cx="722.70" cy="748.17" r="3.10" fill="#000000"/>
<circle cx="715.20" cy="772.59" r="3.10" fill="#000000"/>
<line x1="715.20" y1="709.12" x2="715.20" y2="756.06" stroke="#000000" stroke-width="1.70"/>
<line x1="710.50" y1="709.12" x2="719.90" y2="709.12" stroke="#000000" stroke-width="1.70"/>
<line x1="710.50" y1="756.06" x2="719.90" y2="756.06" stroke="#000000" stroke-width="1.70"/>
<rect x="732.60" y="835.05" width="18.80" height="102.65" fill="#fff" stroke="#000" stroke-width="1.80"/>
<line x1="742.00" y1="937.70" x2="742.00" y2="943.80" stroke="#000" stroke-width="1.80"/>
<circle cx="734.50" cy="816.22" r="3.10" fill="#ff0000"/>
<circle cx="749.50" cy="821.69" r="3.10" fill="#ff0000"/>
<circle cx="742.00" cy="825.64" r="3.10" fill="#ff0000"/>
<circle cx="742.00" cy="833.52" r="3.10" fill="#ff0000"/>
<circle cx="734.50" cy="838.23" r="3.10" fill="#ff0000"/>
<circle cx="749.50" cy="838.23" r="3.10" fill="#ff0000"/>
<circle cx="742.00" cy="843.70" r="3.10" fill="#ff0000"/>
<circle cx="742.00" cy="852.35" r="3.10" fill="#ff0000"/>
<line x1="742.00" y1="821.69" x2="742.00" y2="845.99" stroke="#ff0000" stroke-width="1.70"/>
<line x1="737.30" y1="821.69" x2="746.70" y2="821.69" stroke="#ff0000" stroke-width="1.70"/>
<line x1="737.30" y1="845.99" x2="746.70" y2="845.99" stroke="#ff0000" stroke-width="1.70"/>
<rect x="759.30" y="844.46" width="18.80" height="93.24" fill="#fff" stroke="#000" stroke-width="1.80"/>
<line x1="768.70" y1="937.70" x2="768.70" y2="943.80" stroke="#000" stroke-width="1.80"/>
<circle cx="768.70" cy="808.85" r="3.10" fill="#00ee00"/>
<circle cx="761.20" cy="831.87" r="3.10" fill="#00ee00"/>
<circle cx="776.20" cy="835.81" r="3.10" fill="#00ee00"/>
<circle cx="761.20" cy="845.35" r="3.10" fill="#00ee00"/>
<circle cx="776.20" cy="845.35" r="3.10" fill="#00ee00"/>
<circle cx="768.70" cy="853.11" r="3.10" fill="#00ee00"/>
<circle cx="761.20" cy="864.18" r="3.10" fill="#00ee00"/>
<circle cx="776.20" cy="864.18" r="3.10" fill="#00ee00"/>
<line x1="768.70" y1="825.64" x2="768.70" y2="862.65" stroke="#00ee00" stroke-width="1.70"/>
<line x1="764.00" y1="825.64" x2="773.40" y2="825.64" stroke="#00ee00" stroke-width="1.70"/>
<line x1="764.00" y1="862.65" x2="773.40" y2="862.65" stroke="#00ee00" stroke-width="1.70"/>
<rect x="785.70" y="823.98" width="18.80" height="113.72" fill="#fff" stroke="#000" stroke-width="1.80"/>
<line x1="795.10" y1="937.70" x2="795.10" y2="943.80" stroke="#000" stroke-width="1.80"/>
<circle cx="795.10" cy="785.82" r="3.10" fill="#0000ff"/>
<circle cx="795.10" cy="798.42" r="3.10" fill="#0000ff"/>
<circle cx="795.10" cy="825.64" r="3.10" fill="#0000ff"/>
<circle cx="787.60" cy="827.16" r="3.10" fill="#0000ff"/>
<circle cx="802.60" cy="828.69" r="3.10" fill="#0000ff"/>
<circle cx="795.10" cy="834.29" r="3.10" fill="#0000ff"/>
<circle cx="802.60" cy="839.76" r="3.10" fill="#0000ff"/>
<circle cx="787.60" cy="843.70" r="3.10" fill="#0000ff"/>
<line x1="795.10" y1="802.74" x2="795.10" y2="842.94" stroke="#0000ff" stroke-width="1.70"/>
<line x1="790.40" y1="802.74" x2="799.80" y2="802.74" stroke="#0000ff" stroke-width="1.70"/>
<line x1="790.40" y1="842.94" x2="799.80" y2="842.94" stroke="#0000ff" stroke-width="1.70"/>
<rect x="812.50" y="828.05" width="18.80" height="109.65" fill="#fff" stroke="#000" stroke-width="1.80"/>
<line x1="821.90" y1="937.70" x2="821.90" y2="943.80" stroke="#000" stroke-width="1.80"/>
<circle cx="821.90" cy="773.23" r="3.10" fill="#ff1f8c"/>
<circle cx="814.40" cy="822.97" r="3.10" fill="#ff1f8c"/>
<circle cx="829.40" cy="822.97" r="3.10" fill="#ff1f8c"/>
<circle cx="821.90" cy="825.64" r="3.10" fill="#ff1f8c"/>
<circle cx="814.40" cy="835.81" r="3.10" fill="#ff1f8c"/>
<circle cx="829.40" cy="839.25" r="3.10" fill="#ff1f8c"/>
<circle cx="821.90" cy="843.70" r="3.10" fill="#ff1f8c"/>
<circle cx="821.90" cy="856.29" r="3.10" fill="#ff1f8c"/>
<line x1="821.90" y1="802.74" x2="821.90" y2="851.59" stroke="#ff1f8c" stroke-width="1.70"/>
<line x1="817.20" y1="802.74" x2="826.60" y2="802.74" stroke="#ff1f8c" stroke-width="1.70"/>
<line x1="817.20" y1="851.59" x2="826.60" y2="851.59" stroke="#ff1f8c" stroke-width="1.70"/>
<rect x="839.30" y="840.90" width="18.80" height="96.80" fill="#fff" stroke="#000" stroke-width="1.80"/>
<line x1="848.70" y1="937.70" x2="848.70" y2="943.80" stroke="#000" stroke-width="1.80"/>
<circle cx="848.70" cy="799.94" r="3.10" fill="none" stroke="#000000" stroke-width="1.50"/>
<circle cx="848.70" cy="825.64" r="3.10" fill="none" stroke="#000000" stroke-width="1.50"/>
<circle cx="856.20" cy="837.34" r="3.10" fill="none" stroke="#000000" stroke-width="1.50"/>
<circle cx="841.20" cy="843.70" r="3.10" fill="none" stroke="#000000" stroke-width="1.50"/>
<circle cx="856.20" cy="846.12" r="3.10" fill="none" stroke="#000000" stroke-width="1.50"/>
<circle cx="848.70" cy="851.59" r="3.10" fill="none" stroke="#000000" stroke-width="1.50"/>
<circle cx="856.20" cy="856.29" r="3.10" fill="none" stroke="#000000" stroke-width="1.50"/>
<circle cx="841.20" cy="857.06" r="3.10" fill="none" stroke="#000000" stroke-width="1.50"/>
<line x1="848.70" y1="820.04" x2="848.70" y2="858.71" stroke="#000000" stroke-width="1.70"/>
<line x1="844.00" y1="820.04" x2="853.40" y2="820.04" stroke="#000000" stroke-width="1.70"/>
<line x1="844.00" y1="858.71" x2="853.40" y2="858.71" stroke="#000000" stroke-width="1.70"/>
<rect x="865.90" y="920.66" width="18.80" height="17.04" fill="#fff" stroke="#000" stroke-width="1.80"/>
<line x1="875.30" y1="937.70" x2="875.30" y2="943.80" stroke="#000" stroke-width="1.80"/>
<circle cx="875.30" cy="901.58" r="3.10" fill="none" stroke="#ff0000" stroke-width="1.50"/>
<circle cx="867.80" cy="917.86" r="3.10" fill="none" stroke="#ff0000" stroke-width="1.50"/>
<circle cx="875.30" cy="918.37" r="3.10" fill="none" stroke="#ff0000" stroke-width="1.50"/>
<circle cx="879.10" cy="918.62" r="3.10" fill="none" stroke="#ff0000" stroke-width="1.50"/>
<circle cx="882.80" cy="921.67" r="3.10" fill="none" stroke="#ff0000" stroke-width="1.50"/>
<circle cx="871.50" cy="923.58" r="3.10" fill="none" stroke="#ff0000" stroke-width="1.50"/>
<circle cx="879.10" cy="927.91" r="3.10" fill="none" stroke="#ff0000" stroke-width="1.50"/>
<circle cx="871.50" cy="929.94" r="3.10" fill="none" stroke="#ff0000" stroke-width="1.50"/>
<line x1="875.30" y1="911.62" x2="875.30" y2="930.07" stroke="#ff0000" stroke-width="1.70"/>
<line x1="870.60" y1="911.62" x2="880.00" y2="911.62" stroke="#ff0000" stroke-width="1.70"/>
<line x1="870.60" y1="930.07" x2="880.00" y2="930.07" stroke="#ff0000" stroke-width="1.70"/>
<rect x="892.50" y="923.58" width="18.80" height="14.12" fill="#fff" stroke="#000" stroke-width="1.80"/>
<line x1="901.90" y1="937.70" x2="901.90" y2="943.80" stroke="#000" stroke-width="1.80"/>
<circle cx="901.90" cy="900.05" r="3.10" fill="none" stroke="#00ee00" stroke-width="1.50"/>
<circle cx="894.40" cy="920.66" r="3.10" fill="none" stroke="#00ee00" stroke-width="1.50"/>
<circle cx="909.40" cy="921.16" r="3.10" fill="none" stroke="#00ee00" stroke-width="1.50"/>
<circle cx="901.90" cy="927.02" r="3.10" fill="none" stroke="#00ee00" stroke-width="1.50"/>
<circle cx="897.90" cy="926.25" r="3.10" fill="none" stroke="#00ee00" stroke-width="1.50"/>
<circle cx="905.90" cy="926.25" r="3.10" fill="none" stroke="#00ee00" stroke-width="1.50"/>
<circle cx="894.40" cy="931.34" r="3.10" fill="none" stroke="#00ee00" stroke-width="1.50"/>
<circle cx="909.40" cy="931.85" r="3.10" fill="none" stroke="#00ee00" stroke-width="1.50"/>
<line x1="901.90" y1="913.15" x2="901.90" y2="933.88" stroke="#00ee00" stroke-width="1.70"/>
<line x1="897.20" y1="913.15" x2="906.60" y2="913.15" stroke="#00ee00" stroke-width="1.70"/>
<line x1="897.20" y1="933.88" x2="906.60" y2="933.88" stroke="#00ee00" stroke-width="1.70"/>
<rect x="919.20" y="924.60" width="18.80" height="13.10" fill="#fff" stroke="#000" stroke-width="1.80"/>
<line x1="928.60" y1="937.70" x2="928.60" y2="943.80" stroke="#000" stroke-width="1.80"/>
<circle cx="926.20" cy="916.97" r="3.10" fill="none" stroke="#0000ff" stroke-width="1.50"/>
<circle cx="928.60" cy="916.08" r="3.10" fill="none" stroke="#0000ff" stroke-width="1.50"/>
<circle cx="936.10" cy="921.67" r="3.10" fill="none" stroke="#0000ff" stroke-width="1.50"/>
<circle cx="921.10" cy="928.03" r="3.10" fill="none" stroke="#0000ff" stroke-width="1.50"/>
<circle cx="927.10" cy="927.02" r="3.10" fill="none" stroke="#0000ff" stroke-width="1.50"/>
<circle cx="932.60" cy="927.02" r="3.10" fill="none" stroke="#0000ff" stroke-width="1.50"/>
<circle cx="936.10" cy="928.41" r="3.10" fill="none" stroke="#0000ff" stroke-width="1.50"/>
<circle cx="928.60" cy="928.80" r="3.10" fill="none" stroke="#0000ff" stroke-width="1.50"/>
<line x1="928.60" y1="919.89" x2="928.60" y2="928.80" stroke="#0000ff" stroke-width="1.70"/>
<line x1="923.90" y1="919.89" x2="933.30" y2="919.89" stroke="#0000ff" stroke-width="1.70"/>
<line x1="923.90" y1="928.80" x2="933.30" y2="928.80" stroke="#0000ff" stroke-width="1.70"/>
<rect x="945.80" y="924.60" width="18.80" height="13.10" fill="#fff" stroke="#000" stroke-width="1.80"/>
<line x1="955.20" y1="937.70" x2="955.20" y2="943.80" stroke="#000" stroke-width="1.80"/>
<circle cx="955.20" cy="911.62" r="3.10" fill="none" stroke="#ff1f8c" stroke-width="1.50"/>
<circle cx="953.50" cy="919.76" r="3.10" fill="none" stroke="#ff1f8c" stroke-width="1.50"/>
<circle cx="956.90" cy="919.76" r="3.10" fill="none" stroke="#ff1f8c" stroke-width="1.50"/>
<circle cx="955.20" cy="924.98" r="3.10" fill="none" stroke="#ff1f8c" stroke-width="1.50"/>
<circle cx="955.20" cy="922.44" r="3.10" fill="none" stroke="#ff1f8c" stroke-width="1.50"/>
<circle cx="947.70" cy="929.43" r="3.10" fill="none" stroke="#ff1f8c" stroke-width="1.50"/>
<circle cx="962.70" cy="930.83" r="3.10" fill="none" stroke="#ff1f8c" stroke-width="1.50"/>
<circle cx="955.20" cy="927.52" r="3.10" fill="none" stroke="#ff1f8c" stroke-width="1.50"/>
<line x1="955.20" y1="917.35" x2="955.20" y2="931.34" stroke="#ff1f8c" stroke-width="1.70"/>
<line x1="950.50" y1="917.35" x2="959.90" y2="917.35" stroke="#ff1f8c" stroke-width="1.70"/>
<line x1="950.50" y1="931.34" x2="959.90" y2="931.34" stroke="#ff1f8c" stroke-width="1.70"/>
<polyline points="714.70,681.50 714.70,675.00 775.00,675.00 775.00,695.50" fill="none" stroke="#000" stroke-width="1.50" stroke-linejoin="round"/>
<polyline points="739.00,701.00 739.00,695.50 818.20,695.50 818.20,701.00" fill="none" stroke="#000" stroke-width="1.50" stroke-linejoin="round"/>
<text x="727.90" y="676.02" font-size="18.00">*</text>
<text x="735.90" y="676.02" font-size="18.00">*</text>
<text x="743.90" y="676.02" font-size="18.00">*</text>
<text x="752.30" y="676.02" font-size="18.00">*</text>
<polyline points="849.50,768.50 849.50,761.80 910.30,761.80 910.30,782.50" fill="none" stroke="#000" stroke-width="1.50" stroke-linejoin="round"/>
<polyline points="874.00,788.00 874.00,782.50 953.00,782.50 953.00,788.00" fill="none" stroke="#000" stroke-width="1.50" stroke-linejoin="round"/>
<text x="865.90" y="762.43" font-size="18.00">*</text>
<text x="874.10" y="762.43" font-size="18.00">*</text>
<text x="882.30" y="762.43" font-size="18.00">*</text>
<text x="890.40" y="762.43" font-size="18.00">*</text>
<circle cx="993.75" cy="687.50" r="3.20" fill="#000000"/>
<text x="1015.20" y="694.30" font-size="19.80" textLength="58.42" lengthAdjust="spacingAndGlyphs" fill="#000">shCON</text>
<circle cx="993.75" cy="714.85" r="3.20" fill="#ff0000"/>
<text x="1015.20" y="721.65" font-size="19.80" textLength="69.64" lengthAdjust="spacingAndGlyphs" fill="#000">shTrx1-1</text>
<circle cx="993.75" cy="742.20" r="3.20" fill="#00ee00"/>
<text x="1015.20" y="749.00" font-size="19.80" textLength="69.64" lengthAdjust="spacingAndGlyphs" fill="#000">shTrx1-2</text>
<circle cx="993.75" cy="769.55" r="3.20" fill="#0000ff"/>
<text x="1015.20" y="776.35" font-size="19.80" textLength="82.51" lengthAdjust="spacingAndGlyphs" fill="#000">shTrxR1-3</text>
<circle cx="993.75" cy="796.90" r="3.20" fill="#ff1f8c"/>
<text x="1015.20" y="803.70" font-size="19.80" textLength="82.51" lengthAdjust="spacingAndGlyphs" fill="#000">shTrxR1-5</text>
<circle cx="993.75" cy="824.25" r="2.80" fill="none" stroke="#000000" stroke-width="1.60"/>
<text x="1015.20" y="831.05" font-size="19.80" textLength="110.41" lengthAdjust="spacingAndGlyphs" fill="#000">shCON+CHKi</text>
<circle cx="993.75" cy="851.60" r="2.80" fill="none" stroke="#ff0000" stroke-width="1.60"/>
<text x="1015.20" y="858.40" font-size="19.80" textLength="105.79" lengthAdjust="spacingAndGlyphs" fill="#000">shTrx1+CHKi</text>
<circle cx="993.75" cy="878.95" r="2.80" fill="none" stroke="#00ee00" stroke-width="1.60"/>
<text x="1015.20" y="885.75" font-size="19.80" textLength="121.63" lengthAdjust="spacingAndGlyphs" fill="#000">shTrx1-2+CHKi</text>
<circle cx="993.75" cy="906.30" r="2.80" fill="none" stroke="#0000ff" stroke-width="1.60"/>
<text x="1015.20" y="913.10" font-size="19.80" textLength="142.10" lengthAdjust="spacingAndGlyphs" fill="#000">shTRxR1-3+CHKi</text>
<circle cx="993.75" cy="933.65" r="2.80" fill="none" stroke="#ff1f8c" stroke-width="1.60"/>
<text x="1015.20" y="940.45" font-size="19.80" textLength="144.41" lengthAdjust="spacingAndGlyphs" fill="#000">shTrxR1-5+CHK1i</text>
<text x="2.07" y="1010.90" font-size="29.00" font-weight="bold" textLength="16.83" lengthAdjust="spacingAndGlyphs" fill="#000">g</text>
<line x1="76.00" y1="1024.10" x2="76.00" y2="1280.80" stroke="#000" stroke-width="1.80"/>
<line x1="75.00" y1="1279.80" x2="357.80" y2="1279.80" stroke="#000" stroke-width="1.80"/>
<line x1="70.00" y1="1279.80" x2="76.00" y2="1279.80" stroke="#000" stroke-width="1.80"/>
<text x="57.63" y="1286.30" font-size="19.50" textLength="9.98" lengthAdjust="spacingAndGlyphs" fill="#000">0</text>
<line x1="70.00" y1="1194.80" x2="76.00" y2="1194.80" stroke="#000" stroke-width="1.80"/>
<text x="37.68" y="1201.30" font-size="19.50" textLength="29.93" lengthAdjust="spacingAndGlyphs" fill="#000">500</text>
<line x1="70.00" y1="1109.80" x2="76.00" y2="1109.80" stroke="#000" stroke-width="1.80"/>
<text x="27.70" y="1116.30" font-size="19.50" textLength="39.91" lengthAdjust="spacingAndGlyphs" fill="#000">1000</text>
<line x1="70.00" y1="1024.80" x2="76.00" y2="1024.80" stroke="#000" stroke-width="1.80"/>
<text x="27.70" y="1031.30" font-size="19.50" textLength="39.91" lengthAdjust="spacingAndGlyphs" fill="#000">1500</text>
<line x1="76.00" y1="1279.80" x2="76.00" y2="1285.80" stroke="#000" stroke-width="1.80"/>
<text x="71.01" y="1305.60" font-size="19.50" textLength="9.98" lengthAdjust="spacingAndGlyphs" fill="#000">0</text>
<line x1="116.20" y1="1279.80" x2="116.20" y2="1285.80" stroke="#000" stroke-width="1.80"/>
<text x="111.23" y="1305.60" font-size="19.50" textLength="9.98" lengthAdjust="spacingAndGlyphs" fill="#000">5</text>
<line x1="156.40" y1="1279.80" x2="156.40" y2="1285.80" stroke="#000" stroke-width="1.80"/>
<text x="146.09" y="1305.60" font-size="19.50" textLength="19.95" lengthAdjust="spacingAndGlyphs" fill="#000">10</text>
<line x1="196.60" y1="1279.80" x2="196.60" y2="1285.80" stroke="#000" stroke-width="1.80"/>
<text x="186.32" y="1305.60" font-size="19.50" textLength="19.95" lengthAdjust="spacingAndGlyphs" fill="#000">15</text>
<line x1="236.80" y1="1279.80" x2="236.80" y2="1285.80" stroke="#000" stroke-width="1.80"/>
<text x="226.73" y="1305.60" font-size="19.50" textLength="19.95" lengthAdjust="spacingAndGlyphs" fill="#000">20</text>
<line x1="277.00" y1="1279.80" x2="277.00" y2="1285.80" stroke="#000" stroke-width="1.80"/>
<text x="266.95" y="1305.60" font-size="19.50" textLength="19.95" lengthAdjust="spacingAndGlyphs" fill="#000">25</text>
<line x1="317.20" y1="1279.80" x2="317.20" y2="1285.80" stroke="#000" stroke-width="1.80"/>
<text x="307.23" y="1305.60" font-size="19.50" textLength="19.95" lengthAdjust="spacingAndGlyphs" fill="#000">30</text>
<line x1="357.40" y1="1279.80" x2="357.40" y2="1285.80" stroke="#000" stroke-width="1.80"/>
<text x="347.46" y="1305.60" font-size="19.50" textLength="19.95" lengthAdjust="spacingAndGlyphs" fill="#000">35</text>
<text x="196.86" y="1330.50" font-size="20.50" textLength="40.08" lengthAdjust="spacingAndGlyphs" fill="#000">Days</text>
<text transform="translate(19.60 1239.50) rotate(-90)" x="-0.42" y="0" font-size="19.00" fill="#000">Tumor volume (mm</text>
<text transform="translate(11.90 1074.70) rotate(-90)" x="-0.54" y="0" font-size="13.50" textLength="7.86" lengthAdjust="spacingAndGlyphs" fill="#000">3</text>
<text transform="translate(19.60 1067.20) rotate(-90)" x="-0.11" y="0" font-size="19.00" fill="#000">)</text>
<polyline points="76.00,1279.80 164.44,1274.19 196.60,1271.64 220.72,1267.56 252.88,1260.76 277.00,1254.30 309.16,1249.20 333.28,1245.80" fill="none" stroke="#ff1f8c" stroke-width="2.00" stroke-dasharray="5,3.5" stroke-linejoin="round"/>
<polygon points="76.00,1275.84 79.30,1279.80 76.00,1283.76 72.70,1279.80" fill="#ff1f8c"/>
<line x1="164.44" y1="1272.83" x2="164.44" y2="1275.55" stroke="#ff1f8c" stroke-width="1.60"/>
<line x1="161.44" y1="1272.83" x2="167.44" y2="1272.83" stroke="#ff1f8c" stroke-width="1.60"/>
<line x1="161.44" y1="1275.55" x2="167.44" y2="1275.55" stroke="#ff1f8c" stroke-width="1.60"/>
<polygon points="164.44,1270.23 167.74,1274.19 164.44,1278.15 161.14,1274.19" fill="#ff1f8c"/>
<line x1="196.60" y1="1269.94" x2="196.60" y2="1273.34" stroke="#ff1f8c" stroke-width="1.60"/>
<line x1="193.60" y1="1269.94" x2="199.60" y2="1269.94" stroke="#ff1f8c" stroke-width="1.60"/>
<line x1="193.60" y1="1273.34" x2="199.60" y2="1273.34" stroke="#ff1f8c" stroke-width="1.60"/>
<polygon points="196.60,1267.68 199.90,1271.64 196.60,1275.60 193.30,1271.64" fill="#ff1f8c"/>
<line x1="220.72" y1="1265.52" x2="220.72" y2="1269.60" stroke="#ff1f8c" stroke-width="1.60"/>
<line x1="217.72" y1="1265.52" x2="223.72" y2="1265.52" stroke="#ff1f8c" stroke-width="1.60"/>
<line x1="217.72" y1="1269.60" x2="223.72" y2="1269.60" stroke="#ff1f8c" stroke-width="1.60"/>
<polygon points="220.72,1263.60 224.02,1267.56 220.72,1271.52 217.42,1267.56" fill="#ff1f8c"/>
<line x1="252.88" y1="1258.21" x2="252.88" y2="1263.31" stroke="#ff1f8c" stroke-width="1.60"/>
<line x1="249.88" y1="1258.21" x2="255.88" y2="1258.21" stroke="#ff1f8c" stroke-width="1.60"/>
<line x1="249.88" y1="1263.31" x2="255.88" y2="1263.31" stroke="#ff1f8c" stroke-width="1.60"/>
<polygon points="252.88,1256.80 256.18,1260.76 252.88,1264.72 249.58,1260.76" fill="#ff1f8c"/>
<line x1="277.00" y1="1250.90" x2="277.00" y2="1257.70" stroke="#ff1f8c" stroke-width="1.60"/>
<line x1="274.00" y1="1250.90" x2="280.00" y2="1250.90" stroke="#ff1f8c" stroke-width="1.60"/>
<line x1="274.00" y1="1257.70" x2="280.00" y2="1257.70" stroke="#ff1f8c" stroke-width="1.60"/>
<polygon points="277.00,1250.34 280.30,1254.30 277.00,1258.26 273.70,1254.30" fill="#ff1f8c"/>
<line x1="309.16" y1="1244.95" x2="309.16" y2="1253.45" stroke="#ff1f8c" stroke-width="1.60"/>
<line x1="306.16" y1="1244.95" x2="312.16" y2="1244.95" stroke="#ff1f8c" stroke-width="1.60"/>
<line x1="306.16" y1="1253.45" x2="312.16" y2="1253.45" stroke="#ff1f8c" stroke-width="1.60"/>
<polygon points="309.16,1245.24 312.46,1249.20 309.16,1253.16 305.86,1249.20" fill="#ff1f8c"/>
<line x1="333.28" y1="1240.70" x2="333.28" y2="1250.90" stroke="#ff1f8c" stroke-width="1.60"/>
<line x1="330.28" y1="1240.70" x2="336.28" y2="1240.70" stroke="#ff1f8c" stroke-width="1.60"/>
<line x1="330.28" y1="1250.90" x2="336.28" y2="1250.90" stroke="#ff1f8c" stroke-width="1.60"/>
<polygon points="333.28,1241.84 336.58,1245.80 333.28,1249.76 329.98,1245.80" fill="#ff1f8c"/>
<polyline points="76.00,1279.80 164.44,1275.04 196.60,1269.94 220.72,1266.20 252.88,1261.10 277.00,1260.08 309.16,1252.77 333.28,1248.35" fill="none" stroke="#0000ff" stroke-width="2.00" stroke-dasharray="5,3.5" stroke-linejoin="round"/>
<polygon points="76.00,1283.76 72.70,1277.16 79.30,1277.16" fill="#0000ff"/>
<line x1="164.44" y1="1273.68" x2="164.44" y2="1276.40" stroke="#0000ff" stroke-width="1.60"/>
<line x1="161.44" y1="1273.68" x2="167.44" y2="1273.68" stroke="#0000ff" stroke-width="1.60"/>
<line x1="161.44" y1="1276.40" x2="167.44" y2="1276.40" stroke="#0000ff" stroke-width="1.60"/>
<polygon points="164.44,1279.00 161.14,1272.40 167.74,1272.40" fill="#0000ff"/>
<line x1="196.60" y1="1268.24" x2="196.60" y2="1271.64" stroke="#0000ff" stroke-width="1.60"/>
<line x1="193.60" y1="1268.24" x2="199.60" y2="1268.24" stroke="#0000ff" stroke-width="1.60"/>
<line x1="193.60" y1="1271.64" x2="199.60" y2="1271.64" stroke="#0000ff" stroke-width="1.60"/>
<polygon points="196.60,1273.90 193.30,1267.30 199.90,1267.30" fill="#0000ff"/>
<line x1="220.72" y1="1263.65" x2="220.72" y2="1268.75" stroke="#0000ff" stroke-width="1.60"/>
<line x1="217.72" y1="1263.65" x2="223.72" y2="1263.65" stroke="#0000ff" stroke-width="1.60"/>
<line x1="217.72" y1="1268.75" x2="223.72" y2="1268.75" stroke="#0000ff" stroke-width="1.60"/>
<polygon points="220.72,1270.16 217.42,1263.56 224.02,1263.56" fill="#0000ff"/>
<line x1="252.88" y1="1257.70" x2="252.88" y2="1264.50" stroke="#0000ff" stroke-width="1.60"/>
<line x1="249.88" y1="1257.70" x2="255.88" y2="1257.70" stroke="#0000ff" stroke-width="1.60"/>
<line x1="249.88" y1="1264.50" x2="255.88" y2="1264.50" stroke="#0000ff" stroke-width="1.60"/>
<polygon points="252.88,1265.06 249.58,1258.46 256.18,1258.46" fill="#0000ff"/>
<line x1="277.00" y1="1252.43" x2="277.00" y2="1267.73" stroke="#0000ff" stroke-width="1.60"/>
<line x1="274.00" y1="1252.43" x2="280.00" y2="1252.43" stroke="#0000ff" stroke-width="1.60"/>
<line x1="274.00" y1="1267.73" x2="280.00" y2="1267.73" stroke="#0000ff" stroke-width="1.60"/>
<polygon points="277.00,1264.04 273.70,1257.44 280.30,1257.44" fill="#0000ff"/>
<line x1="309.16" y1="1245.97" x2="309.16" y2="1259.57" stroke="#0000ff" stroke-width="1.60"/>
<line x1="306.16" y1="1245.97" x2="312.16" y2="1245.97" stroke="#0000ff" stroke-width="1.60"/>
<line x1="306.16" y1="1259.57" x2="312.16" y2="1259.57" stroke="#0000ff" stroke-width="1.60"/>
<polygon points="309.16,1256.73 305.86,1250.13 312.46,1250.13" fill="#0000ff"/>
<line x1="333.28" y1="1242.40" x2="333.28" y2="1254.30" stroke="#0000ff" stroke-width="1.60"/>
<line x1="330.28" y1="1242.40" x2="336.28" y2="1242.40" stroke="#0000ff" stroke-width="1.60"/>
<line x1="330.28" y1="1254.30" x2="336.28" y2="1254.30" stroke="#0000ff" stroke-width="1.60"/>
<polygon points="333.28,1252.31 329.98,1245.71 336.58,1245.71" fill="#0000ff"/>
<polyline points="76.00,1279.80 164.44,1274.19 196.60,1270.45 220.72,1265.86 252.88,1258.55 277.00,1254.47 309.16,1246.65 333.28,1242.23" fill="none" stroke="#00ee00" stroke-width="2.00" stroke-dasharray="5,3.5" stroke-linejoin="round"/>
<circle cx="76.00" cy="1279.80" r="3.30" fill="#00ee00"/>
<line x1="164.44" y1="1272.83" x2="164.44" y2="1275.55" stroke="#00ee00" stroke-width="1.60"/>
<line x1="161.44" y1="1272.83" x2="167.44" y2="1272.83" stroke="#00ee00" stroke-width="1.60"/>
<line x1="161.44" y1="1275.55" x2="167.44" y2="1275.55" stroke="#00ee00" stroke-width="1.60"/>
<circle cx="164.44" cy="1274.19" r="3.30" fill="#00ee00"/>
<line x1="196.60" y1="1268.75" x2="196.60" y2="1272.15" stroke="#00ee00" stroke-width="1.60"/>
<line x1="193.60" y1="1268.75" x2="199.60" y2="1268.75" stroke="#00ee00" stroke-width="1.60"/>
<line x1="193.60" y1="1272.15" x2="199.60" y2="1272.15" stroke="#00ee00" stroke-width="1.60"/>
<circle cx="196.60" cy="1270.45" r="3.30" fill="#00ee00"/>
<line x1="220.72" y1="1263.82" x2="220.72" y2="1267.90" stroke="#00ee00" stroke-width="1.60"/>
<line x1="217.72" y1="1263.82" x2="223.72" y2="1263.82" stroke="#00ee00" stroke-width="1.60"/>
<line x1="217.72" y1="1267.90" x2="223.72" y2="1267.90" stroke="#00ee00" stroke-width="1.60"/>
<circle cx="220.72" cy="1265.86" r="3.30" fill="#00ee00"/>
<line x1="252.88" y1="1256.00" x2="252.88" y2="1261.10" stroke="#00ee00" stroke-width="1.60"/>
<line x1="249.88" y1="1256.00" x2="255.88" y2="1256.00" stroke="#00ee00" stroke-width="1.60"/>
<line x1="249.88" y1="1261.10" x2="255.88" y2="1261.10" stroke="#00ee00" stroke-width="1.60"/>
<circle cx="252.88" cy="1258.55" r="3.30" fill="#00ee00"/>
<line x1="277.00" y1="1251.07" x2="277.00" y2="1257.87" stroke="#00ee00" stroke-width="1.60"/>
<line x1="274.00" y1="1251.07" x2="280.00" y2="1251.07" stroke="#00ee00" stroke-width="1.60"/>
<line x1="274.00" y1="1257.87" x2="280.00" y2="1257.87" stroke="#00ee00" stroke-width="1.60"/>
<circle cx="277.00" cy="1254.47" r="3.30" fill="#00ee00"/>
<line x1="309.16" y1="1242.40" x2="309.16" y2="1250.90" stroke="#00ee00" stroke-width="1.60"/>
<line x1="306.16" y1="1242.40" x2="312.16" y2="1242.40" stroke="#00ee00" stroke-width="1.60"/>
<line x1="306.16" y1="1250.90" x2="312.16" y2="1250.90" stroke="#00ee00" stroke-width="1.60"/>
<circle cx="309.16" cy="1246.65" r="3.30" fill="#00ee00"/>
<line x1="333.28" y1="1237.13" x2="333.28" y2="1247.33" stroke="#00ee00" stroke-width="1.60"/>
<line x1="330.28" y1="1237.13" x2="336.28" y2="1237.13" stroke="#00ee00" stroke-width="1.60"/>
<line x1="330.28" y1="1247.33" x2="336.28" y2="1247.33" stroke="#00ee00" stroke-width="1.60"/>
<circle cx="333.28" cy="1242.23" r="3.30" fill="#00ee00"/>
<polyline points="76.00,1279.80 164.44,1273.00 196.60,1264.50 220.72,1259.74 252.88,1256.34 277.00,1251.92 309.16,1243.93 333.28,1228.97" fill="none" stroke="#ff0000" stroke-width="2.00" stroke-dasharray="5,3.5" stroke-linejoin="round"/>
<polygon points="76.00,1275.84 79.30,1279.80 76.00,1283.76 72.70,1279.80" fill="#ff0000"/>
<line x1="164.44" y1="1271.64" x2="164.44" y2="1274.36" stroke="#ff0000" stroke-width="1.60"/>
<line x1="161.44" y1="1271.64" x2="167.44" y2="1271.64" stroke="#ff0000" stroke-width="1.60"/>
<line x1="161.44" y1="1274.36" x2="167.44" y2="1274.36" stroke="#ff0000" stroke-width="1.60"/>
<polygon points="164.44,1269.04 167.74,1273.00 164.44,1276.96 161.14,1273.00" fill="#ff0000"/>
<line x1="196.60" y1="1262.80" x2="196.60" y2="1266.20" stroke="#ff0000" stroke-width="1.60"/>
<line x1="193.60" y1="1262.80" x2="199.60" y2="1262.80" stroke="#ff0000" stroke-width="1.60"/>
<line x1="193.60" y1="1266.20" x2="199.60" y2="1266.20" stroke="#ff0000" stroke-width="1.60"/>
<polygon points="196.60,1260.54 199.90,1264.50 196.60,1268.46 193.30,1264.50" fill="#ff0000"/>
<line x1="220.72" y1="1257.70" x2="220.72" y2="1261.78" stroke="#ff0000" stroke-width="1.60"/>
<line x1="217.72" y1="1257.70" x2="223.72" y2="1257.70" stroke="#ff0000" stroke-width="1.60"/>
<line x1="217.72" y1="1261.78" x2="223.72" y2="1261.78" stroke="#ff0000" stroke-width="1.60"/>
<polygon points="220.72,1255.78 224.02,1259.74 220.72,1263.70 217.42,1259.74" fill="#ff0000"/>
<line x1="252.88" y1="1253.79" x2="252.88" y2="1258.89" stroke="#ff0000" stroke-width="1.60"/>
<line x1="249.88" y1="1253.79" x2="255.88" y2="1253.79" stroke="#ff0000" stroke-width="1.60"/>
<line x1="249.88" y1="1258.89" x2="255.88" y2="1258.89" stroke="#ff0000" stroke-width="1.60"/>
<polygon points="252.88,1252.38 256.18,1256.34 252.88,1260.30 249.58,1256.34" fill="#ff0000"/>
<line x1="277.00" y1="1248.52" x2="277.00" y2="1255.32" stroke="#ff0000" stroke-width="1.60"/>
<line x1="274.00" y1="1248.52" x2="280.00" y2="1248.52" stroke="#ff0000" stroke-width="1.60"/>
<line x1="274.00" y1="1255.32" x2="280.00" y2="1255.32" stroke="#ff0000" stroke-width="1.60"/>
<polygon points="277.00,1247.96 280.30,1251.92 277.00,1255.88 273.70,1251.92" fill="#ff0000"/>
<line x1="309.16" y1="1239.68" x2="309.16" y2="1248.18" stroke="#ff0000" stroke-width="1.60"/>
<line x1="306.16" y1="1239.68" x2="312.16" y2="1239.68" stroke="#ff0000" stroke-width="1.60"/>
<line x1="306.16" y1="1248.18" x2="312.16" y2="1248.18" stroke="#ff0000" stroke-width="1.60"/>
<polygon points="309.16,1239.97 312.46,1243.93 309.16,1247.89 305.86,1243.93" fill="#ff0000"/>
<line x1="333.28" y1="1225.06" x2="333.28" y2="1232.88" stroke="#ff0000" stroke-width="1.60"/>
<line x1="330.28" y1="1225.06" x2="336.28" y2="1225.06" stroke="#ff0000" stroke-width="1.60"/>
<line x1="330.28" y1="1232.88" x2="336.28" y2="1232.88" stroke="#ff0000" stroke-width="1.60"/>
<polygon points="333.28,1225.01 336.58,1228.97 333.28,1232.93 329.98,1228.97" fill="#ff0000"/>
<polyline points="76.00,1279.80 164.44,1268.58 196.60,1257.36 220.72,1250.39 252.88,1241.55 277.00,1223.02 309.16,1176.61 333.28,1153.83" fill="none" stroke="#000000" stroke-width="2.00" stroke-dasharray="5,3.5" stroke-linejoin="round"/>
<polygon points="76.00,1283.76 72.70,1277.16 79.30,1277.16" fill="#000000"/>
<line x1="164.44" y1="1267.22" x2="164.44" y2="1269.94" stroke="#000000" stroke-width="1.60"/>
<line x1="161.44" y1="1267.22" x2="167.44" y2="1267.22" stroke="#000000" stroke-width="1.60"/>
<line x1="161.44" y1="1269.94" x2="167.44" y2="1269.94" stroke="#000000" stroke-width="1.60"/>
<polygon points="164.44,1272.54 161.14,1265.94 167.74,1265.94" fill="#000000"/>
<line x1="196.60" y1="1255.66" x2="196.60" y2="1259.06" stroke="#000000" stroke-width="1.60"/>
<line x1="193.60" y1="1255.66" x2="199.60" y2="1255.66" stroke="#000000" stroke-width="1.60"/>
<line x1="193.60" y1="1259.06" x2="199.60" y2="1259.06" stroke="#000000" stroke-width="1.60"/>
<polygon points="196.60,1261.32 193.30,1254.72 199.90,1254.72" fill="#000000"/>
<line x1="220.72" y1="1248.35" x2="220.72" y2="1252.43" stroke="#000000" stroke-width="1.60"/>
<line x1="217.72" y1="1248.35" x2="223.72" y2="1248.35" stroke="#000000" stroke-width="1.60"/>
<line x1="217.72" y1="1252.43" x2="223.72" y2="1252.43" stroke="#000000" stroke-width="1.60"/>
<polygon points="220.72,1254.35 217.42,1247.75 224.02,1247.75" fill="#000000"/>
<line x1="252.88" y1="1239.00" x2="252.88" y2="1244.10" stroke="#000000" stroke-width="1.60"/>
<line x1="249.88" y1="1239.00" x2="255.88" y2="1239.00" stroke="#000000" stroke-width="1.60"/>
<line x1="249.88" y1="1244.10" x2="255.88" y2="1244.10" stroke="#000000" stroke-width="1.60"/>
<polygon points="252.88,1245.51 249.58,1238.91 256.18,1238.91" fill="#000000"/>
<line x1="277.00" y1="1219.62" x2="277.00" y2="1226.42" stroke="#000000" stroke-width="1.60"/>
<line x1="274.00" y1="1219.62" x2="280.00" y2="1219.62" stroke="#000000" stroke-width="1.60"/>
<line x1="274.00" y1="1226.42" x2="280.00" y2="1226.42" stroke="#000000" stroke-width="1.60"/>
<polygon points="277.00,1226.98 273.70,1220.38 280.30,1220.38" fill="#000000"/>
<line x1="309.16" y1="1169.81" x2="309.16" y2="1183.41" stroke="#000000" stroke-width="1.60"/>
<line x1="306.16" y1="1169.81" x2="312.16" y2="1169.81" stroke="#000000" stroke-width="1.60"/>
<line x1="306.16" y1="1183.41" x2="312.16" y2="1183.41" stroke="#000000" stroke-width="1.60"/>
<polygon points="309.16,1180.57 305.86,1173.97 312.46,1173.97" fill="#000000"/>
<line x1="333.28" y1="1147.03" x2="333.28" y2="1160.63" stroke="#000000" stroke-width="1.60"/>
<line x1="330.28" y1="1147.03" x2="336.28" y2="1147.03" stroke="#000000" stroke-width="1.60"/>
<line x1="330.28" y1="1160.63" x2="336.28" y2="1160.63" stroke="#000000" stroke-width="1.60"/>
<polygon points="333.28,1157.79 329.98,1151.19 336.58,1151.19" fill="#000000"/>
<polyline points="76.00,1279.80 164.44,1273.00 196.60,1267.90 220.72,1262.80 252.88,1248.52 277.00,1233.56 309.16,1202.79 333.28,1166.92" fill="none" stroke="#ff1f8c" stroke-width="2.00" stroke-linejoin="round"/>
<polygon points="76.00,1275.84 72.70,1282.44 79.30,1282.44" fill="#ff1f8c"/>
<line x1="164.44" y1="1271.64" x2="164.44" y2="1274.36" stroke="#ff1f8c" stroke-width="1.60"/>
<line x1="161.44" y1="1271.64" x2="167.44" y2="1271.64" stroke="#ff1f8c" stroke-width="1.60"/>
<line x1="161.44" y1="1274.36" x2="167.44" y2="1274.36" stroke="#ff1f8c" stroke-width="1.60"/>
<polygon points="164.44,1269.04 161.14,1275.64 167.74,1275.64" fill="#ff1f8c"/>
<line x1="196.60" y1="1266.20" x2="196.60" y2="1269.60" stroke="#ff1f8c" stroke-width="1.60"/>
<line x1="193.60" y1="1266.20" x2="199.60" y2="1266.20" stroke="#ff1f8c" stroke-width="1.60"/>
<line x1="193.60" y1="1269.60" x2="199.60" y2="1269.60" stroke="#ff1f8c" stroke-width="1.60"/>
<polygon points="196.60,1263.94 193.30,1270.54 199.90,1270.54" fill="#ff1f8c"/>
<line x1="220.72" y1="1260.76" x2="220.72" y2="1264.84" stroke="#ff1f8c" stroke-width="1.60"/>
<line x1="217.72" y1="1260.76" x2="223.72" y2="1260.76" stroke="#ff1f8c" stroke-width="1.60"/>
<line x1="217.72" y1="1264.84" x2="223.72" y2="1264.84" stroke="#ff1f8c" stroke-width="1.60"/>
<polygon points="220.72,1258.84 217.42,1265.44 224.02,1265.44" fill="#ff1f8c"/>
<line x1="252.88" y1="1245.97" x2="252.88" y2="1251.07" stroke="#ff1f8c" stroke-width="1.60"/>
<line x1="249.88" y1="1245.97" x2="255.88" y2="1245.97" stroke="#ff1f8c" stroke-width="1.60"/>
<line x1="249.88" y1="1251.07" x2="255.88" y2="1251.07" stroke="#ff1f8c" stroke-width="1.60"/>
<polygon points="252.88,1244.56 249.58,1251.16 256.18,1251.16" fill="#ff1f8c"/>
<line x1="277.00" y1="1219.96" x2="277.00" y2="1247.16" stroke="#ff1f8c" stroke-width="1.60"/>
<line x1="274.00" y1="1219.96" x2="280.00" y2="1219.96" stroke="#ff1f8c" stroke-width="1.60"/>
<line x1="274.00" y1="1247.16" x2="280.00" y2="1247.16" stroke="#ff1f8c" stroke-width="1.60"/>
<polygon points="277.00,1229.60 273.70,1236.20 280.30,1236.20" fill="#ff1f8c"/>
<line x1="309.16" y1="1178.99" x2="309.16" y2="1226.59" stroke="#ff1f8c" stroke-width="1.60"/>
<line x1="306.16" y1="1178.99" x2="312.16" y2="1178.99" stroke="#ff1f8c" stroke-width="1.60"/>
<line x1="306.16" y1="1226.59" x2="312.16" y2="1226.59" stroke="#ff1f8c" stroke-width="1.60"/>
<polygon points="309.16,1198.83 305.86,1205.43 312.46,1205.43" fill="#ff1f8c"/>
<line x1="333.28" y1="1153.32" x2="333.28" y2="1180.52" stroke="#ff1f8c" stroke-width="1.60"/>
<line x1="330.28" y1="1153.32" x2="336.28" y2="1153.32" stroke="#ff1f8c" stroke-width="1.60"/>
<line x1="330.28" y1="1180.52" x2="336.28" y2="1180.52" stroke="#ff1f8c" stroke-width="1.60"/>
<polygon points="333.28,1162.96 329.98,1169.56 336.58,1169.56" fill="#ff1f8c"/>
<polyline points="76.00,1279.80 164.44,1273.34 196.60,1268.92 220.72,1262.63 252.88,1246.82 277.00,1228.46 309.16,1197.86 333.28,1178.65" fill="none" stroke="#0000ff" stroke-width="2.00" stroke-linejoin="round"/>
<polygon points="76.00,1275.84 72.70,1282.44 79.30,1282.44" fill="#0000ff"/>
<line x1="164.44" y1="1271.98" x2="164.44" y2="1274.70" stroke="#0000ff" stroke-width="1.60"/>
<line x1="161.44" y1="1271.98" x2="167.44" y2="1271.98" stroke="#0000ff" stroke-width="1.60"/>
<line x1="161.44" y1="1274.70" x2="167.44" y2="1274.70" stroke="#0000ff" stroke-width="1.60"/>
<polygon points="164.44,1269.38 161.14,1275.98 167.74,1275.98" fill="#0000ff"/>
<line x1="196.60" y1="1267.22" x2="196.60" y2="1270.62" stroke="#0000ff" stroke-width="1.60"/>
<line x1="193.60" y1="1267.22" x2="199.60" y2="1267.22" stroke="#0000ff" stroke-width="1.60"/>
<line x1="193.60" y1="1270.62" x2="199.60" y2="1270.62" stroke="#0000ff" stroke-width="1.60"/>
<polygon points="196.60,1264.96 193.30,1271.56 199.90,1271.56" fill="#0000ff"/>
<line x1="220.72" y1="1260.59" x2="220.72" y2="1264.67" stroke="#0000ff" stroke-width="1.60"/>
<line x1="217.72" y1="1260.59" x2="223.72" y2="1260.59" stroke="#0000ff" stroke-width="1.60"/>
<line x1="217.72" y1="1264.67" x2="223.72" y2="1264.67" stroke="#0000ff" stroke-width="1.60"/>
<polygon points="220.72,1258.67 217.42,1265.27 224.02,1265.27" fill="#0000ff"/>
<line x1="252.88" y1="1244.27" x2="252.88" y2="1249.37" stroke="#0000ff" stroke-width="1.60"/>
<line x1="249.88" y1="1244.27" x2="255.88" y2="1244.27" stroke="#0000ff" stroke-width="1.60"/>
<line x1="249.88" y1="1249.37" x2="255.88" y2="1249.37" stroke="#0000ff" stroke-width="1.60"/>
<polygon points="252.88,1242.86 249.58,1249.46 256.18,1249.46" fill="#0000ff"/>
<line x1="277.00" y1="1225.06" x2="277.00" y2="1231.86" stroke="#0000ff" stroke-width="1.60"/>
<line x1="274.00" y1="1225.06" x2="280.00" y2="1225.06" stroke="#0000ff" stroke-width="1.60"/>
<line x1="274.00" y1="1231.86" x2="280.00" y2="1231.86" stroke="#0000ff" stroke-width="1.60"/>
<polygon points="277.00,1224.50 273.70,1231.10 280.30,1231.10" fill="#0000ff"/>
<line x1="309.16" y1="1185.11" x2="309.16" y2="1210.61" stroke="#0000ff" stroke-width="1.60"/>
<line x1="306.16" y1="1185.11" x2="312.16" y2="1185.11" stroke="#0000ff" stroke-width="1.60"/>
<line x1="306.16" y1="1210.61" x2="312.16" y2="1210.61" stroke="#0000ff" stroke-width="1.60"/>
<polygon points="309.16,1193.90 305.86,1200.50 312.46,1200.50" fill="#0000ff"/>
<line x1="333.28" y1="1163.35" x2="333.28" y2="1193.95" stroke="#0000ff" stroke-width="1.60"/>
<line x1="330.28" y1="1163.35" x2="336.28" y2="1163.35" stroke="#0000ff" stroke-width="1.60"/>
<line x1="330.28" y1="1193.95" x2="336.28" y2="1193.95" stroke="#0000ff" stroke-width="1.60"/>
<polygon points="333.28,1174.69 329.98,1181.29 336.58,1181.29" fill="#0000ff"/>
<polyline points="76.00,1279.80 164.44,1271.98 196.60,1262.80 220.72,1257.36 252.88,1241.04 277.00,1217.75 309.16,1158.25 333.28,1139.89" fill="none" stroke="#00ee00" stroke-width="2.00" stroke-linejoin="round"/>
<rect x="72.50" y="1276.30" width="7.00" height="7.00" fill="#00ee00"/>
<line x1="164.44" y1="1270.62" x2="164.44" y2="1273.34" stroke="#00ee00" stroke-width="1.60"/>
<line x1="161.44" y1="1270.62" x2="167.44" y2="1270.62" stroke="#00ee00" stroke-width="1.60"/>
<line x1="161.44" y1="1273.34" x2="167.44" y2="1273.34" stroke="#00ee00" stroke-width="1.60"/>
<rect x="160.94" y="1268.48" width="7.00" height="7.00" fill="#00ee00"/>
<line x1="196.60" y1="1261.10" x2="196.60" y2="1264.50" stroke="#00ee00" stroke-width="1.60"/>
<line x1="193.60" y1="1261.10" x2="199.60" y2="1261.10" stroke="#00ee00" stroke-width="1.60"/>
<line x1="193.60" y1="1264.50" x2="199.60" y2="1264.50" stroke="#00ee00" stroke-width="1.60"/>
<rect x="193.10" y="1259.30" width="7.00" height="7.00" fill="#00ee00"/>
<line x1="220.72" y1="1255.32" x2="220.72" y2="1259.40" stroke="#00ee00" stroke-width="1.60"/>
<line x1="217.72" y1="1255.32" x2="223.72" y2="1255.32" stroke="#00ee00" stroke-width="1.60"/>
<line x1="217.72" y1="1259.40" x2="223.72" y2="1259.40" stroke="#00ee00" stroke-width="1.60"/>
<rect x="217.22" y="1253.86" width="7.00" height="7.00" fill="#00ee00"/>
<line x1="252.88" y1="1235.94" x2="252.88" y2="1246.14" stroke="#00ee00" stroke-width="1.60"/>
<line x1="249.88" y1="1235.94" x2="255.88" y2="1235.94" stroke="#00ee00" stroke-width="1.60"/>
<line x1="249.88" y1="1246.14" x2="255.88" y2="1246.14" stroke="#00ee00" stroke-width="1.60"/>
<rect x="249.38" y="1237.54" width="7.00" height="7.00" fill="#00ee00"/>
<line x1="277.00" y1="1204.15" x2="277.00" y2="1231.35" stroke="#00ee00" stroke-width="1.60"/>
<line x1="274.00" y1="1204.15" x2="280.00" y2="1204.15" stroke="#00ee00" stroke-width="1.60"/>
<line x1="274.00" y1="1231.35" x2="280.00" y2="1231.35" stroke="#00ee00" stroke-width="1.60"/>
<rect x="273.50" y="1214.25" width="7.00" height="7.00" fill="#00ee00"/>
<line x1="309.16" y1="1139.55" x2="309.16" y2="1176.95" stroke="#00ee00" stroke-width="1.60"/>
<line x1="306.16" y1="1139.55" x2="312.16" y2="1139.55" stroke="#00ee00" stroke-width="1.60"/>
<line x1="306.16" y1="1176.95" x2="312.16" y2="1176.95" stroke="#00ee00" stroke-width="1.60"/>
<rect x="305.66" y="1154.75" width="7.00" height="7.00" fill="#00ee00"/>
<line x1="333.28" y1="1110.99" x2="333.28" y2="1168.79" stroke="#00ee00" stroke-width="1.60"/>
<line x1="330.28" y1="1110.99" x2="336.28" y2="1110.99" stroke="#00ee00" stroke-width="1.60"/>
<line x1="330.28" y1="1168.79" x2="336.28" y2="1168.79" stroke="#00ee00" stroke-width="1.60"/>
<rect x="329.78" y="1136.39" width="7.00" height="7.00" fill="#00ee00"/>
<polyline points="76.00,1279.80 164.44,1271.98 196.60,1262.46 220.72,1256.34 252.88,1240.19 277.00,1219.45 309.16,1161.82 333.28,1128.84" fill="none" stroke="#ff0000" stroke-width="2.00" stroke-linejoin="round"/>
<rect x="72.50" y="1276.30" width="7.00" height="7.00" fill="#ff0000"/>
<line x1="164.44" y1="1270.62" x2="164.44" y2="1273.34" stroke="#ff0000" stroke-width="1.60"/>
<line x1="161.44" y1="1270.62" x2="167.44" y2="1270.62" stroke="#ff0000" stroke-width="1.60"/>
<line x1="161.44" y1="1273.34" x2="167.44" y2="1273.34" stroke="#ff0000" stroke-width="1.60"/>
<rect x="160.94" y="1268.48" width="7.00" height="7.00" fill="#ff0000"/>
<line x1="196.60" y1="1260.76" x2="196.60" y2="1264.16" stroke="#ff0000" stroke-width="1.60"/>
<line x1="193.60" y1="1260.76" x2="199.60" y2="1260.76" stroke="#ff0000" stroke-width="1.60"/>
<line x1="193.60" y1="1264.16" x2="199.60" y2="1264.16" stroke="#ff0000" stroke-width="1.60"/>
<rect x="193.10" y="1258.96" width="7.00" height="7.00" fill="#ff0000"/>
<line x1="220.72" y1="1254.30" x2="220.72" y2="1258.38" stroke="#ff0000" stroke-width="1.60"/>
<line x1="217.72" y1="1254.30" x2="223.72" y2="1254.30" stroke="#ff0000" stroke-width="1.60"/>
<line x1="217.72" y1="1258.38" x2="223.72" y2="1258.38" stroke="#ff0000" stroke-width="1.60"/>
<rect x="217.22" y="1252.84" width="7.00" height="7.00" fill="#ff0000"/>
<line x1="252.88" y1="1237.64" x2="252.88" y2="1242.74" stroke="#ff0000" stroke-width="1.60"/>
<line x1="249.88" y1="1237.64" x2="255.88" y2="1237.64" stroke="#ff0000" stroke-width="1.60"/>
<line x1="249.88" y1="1242.74" x2="255.88" y2="1242.74" stroke="#ff0000" stroke-width="1.60"/>
<rect x="249.38" y="1236.69" width="7.00" height="7.00" fill="#ff0000"/>
<line x1="277.00" y1="1214.35" x2="277.00" y2="1224.55" stroke="#ff0000" stroke-width="1.60"/>
<line x1="274.00" y1="1214.35" x2="280.00" y2="1214.35" stroke="#ff0000" stroke-width="1.60"/>
<line x1="274.00" y1="1224.55" x2="280.00" y2="1224.55" stroke="#ff0000" stroke-width="1.60"/>
<rect x="273.50" y="1215.95" width="7.00" height="7.00" fill="#ff0000"/>
<line x1="309.16" y1="1151.11" x2="309.16" y2="1172.53" stroke="#ff0000" stroke-width="1.60"/>
<line x1="306.16" y1="1151.11" x2="312.16" y2="1151.11" stroke="#ff0000" stroke-width="1.60"/>
<line x1="306.16" y1="1172.53" x2="312.16" y2="1172.53" stroke="#ff0000" stroke-width="1.60"/>
<rect x="305.66" y="1158.32" width="7.00" height="7.00" fill="#ff0000"/>
<line x1="333.28" y1="1112.18" x2="333.28" y2="1145.50" stroke="#ff0000" stroke-width="1.60"/>
<line x1="330.28" y1="1112.18" x2="336.28" y2="1112.18" stroke="#ff0000" stroke-width="1.60"/>
<line x1="330.28" y1="1145.50" x2="336.28" y2="1145.50" stroke="#ff0000" stroke-width="1.60"/>
<rect x="329.78" y="1125.34" width="7.00" height="7.00" fill="#ff0000"/>
<polyline points="76.00,1279.80 164.44,1265.86 196.60,1251.07 220.72,1237.98 252.88,1208.74 277.00,1182.39 309.16,1110.14 333.28,1072.23" fill="none" stroke="#000000" stroke-width="2.00" stroke-linejoin="round"/>
<rect x="72.50" y="1276.30" width="7.00" height="7.00" fill="#000000"/>
<line x1="164.44" y1="1264.16" x2="164.44" y2="1267.56" stroke="#000000" stroke-width="1.60"/>
<line x1="161.44" y1="1264.16" x2="167.44" y2="1264.16" stroke="#000000" stroke-width="1.60"/>
<line x1="161.44" y1="1267.56" x2="167.44" y2="1267.56" stroke="#000000" stroke-width="1.60"/>
<rect x="160.94" y="1262.36" width="7.00" height="7.00" fill="#000000"/>
<line x1="196.60" y1="1248.52" x2="196.60" y2="1253.62" stroke="#000000" stroke-width="1.60"/>
<line x1="193.60" y1="1248.52" x2="199.60" y2="1248.52" stroke="#000000" stroke-width="1.60"/>
<line x1="193.60" y1="1253.62" x2="199.60" y2="1253.62" stroke="#000000" stroke-width="1.60"/>
<rect x="193.10" y="1247.57" width="7.00" height="7.00" fill="#000000"/>
<line x1="220.72" y1="1234.58" x2="220.72" y2="1241.38" stroke="#000000" stroke-width="1.60"/>
<line x1="217.72" y1="1234.58" x2="223.72" y2="1234.58" stroke="#000000" stroke-width="1.60"/>
<line x1="217.72" y1="1241.38" x2="223.72" y2="1241.38" stroke="#000000" stroke-width="1.60"/>
<rect x="217.22" y="1234.48" width="7.00" height="7.00" fill="#000000"/>
<line x1="252.88" y1="1203.64" x2="252.88" y2="1213.84" stroke="#000000" stroke-width="1.60"/>
<line x1="249.88" y1="1203.64" x2="255.88" y2="1203.64" stroke="#000000" stroke-width="1.60"/>
<line x1="249.88" y1="1213.84" x2="255.88" y2="1213.84" stroke="#000000" stroke-width="1.60"/>
<rect x="249.38" y="1205.24" width="7.00" height="7.00" fill="#000000"/>
<line x1="277.00" y1="1171.68" x2="277.00" y2="1193.10" stroke="#000000" stroke-width="1.60"/>
<line x1="274.00" y1="1171.68" x2="280.00" y2="1171.68" stroke="#000000" stroke-width="1.60"/>
<line x1="274.00" y1="1193.10" x2="280.00" y2="1193.10" stroke="#000000" stroke-width="1.60"/>
<rect x="273.50" y="1178.89" width="7.00" height="7.00" fill="#000000"/>
<line x1="309.16" y1="1084.81" x2="309.16" y2="1135.47" stroke="#000000" stroke-width="1.60"/>
<line x1="306.16" y1="1084.81" x2="312.16" y2="1084.81" stroke="#000000" stroke-width="1.60"/>
<line x1="306.16" y1="1135.47" x2="312.16" y2="1135.47" stroke="#000000" stroke-width="1.60"/>
<rect x="305.66" y="1106.64" width="7.00" height="7.00" fill="#000000"/>
<line x1="333.28" y1="1041.97" x2="333.28" y2="1102.49" stroke="#000000" stroke-width="1.60"/>
<line x1="330.28" y1="1041.97" x2="336.28" y2="1041.97" stroke="#000000" stroke-width="1.60"/>
<line x1="330.28" y1="1102.49" x2="336.28" y2="1102.49" stroke="#000000" stroke-width="1.60"/>
<rect x="329.78" y="1068.73" width="7.00" height="7.00" fill="#000000"/>
<line x1="365.20" y1="1050.60" x2="385.00" y2="1050.60" stroke="#000000" stroke-width="2.00"/>
<rect x="371.80" y="1047.40" width="6.40" height="6.40" fill="#000000"/>
<text x="396.20" y="1057.50" font-size="19.80" textLength="58.42" lengthAdjust="spacingAndGlyphs" fill="#000">shCON</text>
<line x1="365.20" y1="1078.30" x2="385.00" y2="1078.30" stroke="#ff0000" stroke-width="2.00"/>
<rect x="371.80" y="1075.10" width="6.40" height="6.40" fill="#ff0000"/>
<text x="396.20" y="1085.20" font-size="19.80" textLength="69.64" lengthAdjust="spacingAndGlyphs" fill="#000">shTrx1-1</text>
<line x1="365.20" y1="1102.90" x2="385.00" y2="1102.90" stroke="#00ee00" stroke-width="2.00"/>
<rect x="371.20" y="1099.10" width="7.60" height="7.60" fill="#00ee00"/>
<text x="396.20" y="1109.80" font-size="19.80" textLength="69.64" lengthAdjust="spacingAndGlyphs" fill="#000">shTrx1-2</text>
<line x1="365.20" y1="1128.00" x2="385.00" y2="1128.00" stroke="#0000ff" stroke-width="2.00"/>
<polygon points="375.00,1124.88 372.40,1130.08 377.60,1130.08" fill="#0000ff"/>
<text x="396.20" y="1134.90" font-size="19.80" textLength="82.51" lengthAdjust="spacingAndGlyphs" fill="#000">shTrxR1-3</text>
<line x1="365.20" y1="1155.50" x2="385.00" y2="1155.50" stroke="#ff1f8c" stroke-width="2.00"/>
<polygon points="375.00,1151.18 371.40,1158.38 378.60,1158.38" fill="#ff1f8c"/>
<text x="396.20" y="1162.40" font-size="19.80" textLength="69.64" lengthAdjust="spacingAndGlyphs" fill="#000">shTrx1-5</text>
<line x1="365.20" y1="1179.40" x2="385.00" y2="1179.40" stroke="#000000" stroke-width="2.00" stroke-dasharray="4.3,3.5"/>
<polygon points="375.00,1183.00 372.00,1177.00 378.00,1177.00" fill="#000000"/>
<text x="396.20" y="1186.30" font-size="19.80" textLength="110.41" lengthAdjust="spacingAndGlyphs" fill="#000">shCON+CHKi</text>
<line x1="365.20" y1="1202.90" x2="385.00" y2="1202.90" stroke="#ff0000" stroke-width="2.00" stroke-dasharray="4.3,3.5"/>
<polygon points="375.00,1199.30 378.00,1202.90 375.00,1206.50 372.00,1202.90" fill="#ff0000"/>
<text x="396.20" y="1209.80" font-size="19.80" textLength="121.63" lengthAdjust="spacingAndGlyphs" fill="#000">shTrx1-1+CHKi</text>
<line x1="365.20" y1="1226.10" x2="385.00" y2="1226.10" stroke="#00ee00" stroke-width="2.00" stroke-dasharray="4.3,3.5"/>
<circle cx="375.00" cy="1226.10" r="2.60" fill="#00ee00"/>
<text x="396.20" y="1233.00" font-size="19.80" textLength="121.63" lengthAdjust="spacingAndGlyphs" fill="#000">shTrx1-2+CHKi</text>
<line x1="365.20" y1="1247.10" x2="385.00" y2="1247.10" stroke="#0000ff" stroke-width="2.00" stroke-dasharray="4.3,3.5"/>
<polygon points="375.00,1251.66 371.20,1244.06 378.80,1244.06" fill="#0000ff"/>
<text x="396.20" y="1254.00" font-size="19.80" textLength="134.50" lengthAdjust="spacingAndGlyphs" fill="#000">shTrxR1-3+CHKi</text>
<line x1="365.20" y1="1274.40" x2="385.00" y2="1274.40" stroke="#ff1f8c" stroke-width="2.00" stroke-dasharray="4.3,3.5"/>
<polygon points="375.00,1270.08 378.60,1274.40 375.00,1278.72 371.40,1274.40" fill="#ff1f8c"/>
<text x="396.20" y="1281.30" font-size="19.80" textLength="144.41" lengthAdjust="spacingAndGlyphs" fill="#000">shTrxR1-5+CHK1i</text>
<polyline points="522.90,1175.40 532.10,1175.40 532.10,1205.70 522.90,1205.70" fill="none" stroke="#000" stroke-width="1.70" stroke-linejoin="round"/>
<text x="537.03" y="1201.05" font-size="24.00" transform="rotate(-90.0 541.70 1188.75)">*</text>
<text x="537.03" y="1211.90" font-size="24.00" transform="rotate(-90.0 541.70 1199.60)">*</text>
<polyline points="543.75,1174.60 552.50,1174.60 552.50,1226.00 543.75,1226.00" fill="none" stroke="#000" stroke-width="1.70" stroke-linejoin="round"/>
<text x="556.13" y="1209.00" font-size="24.00" transform="rotate(-90.0 560.80 1196.70)">*</text>
<text x="556.13" y="1219.80" font-size="24.00" transform="rotate(-90.0 560.80 1207.50)">*</text>
<text x="556.13" y="1230.60" font-size="24.00" transform="rotate(-90.0 560.80 1218.30)">*</text>
<polyline points="560.80,1173.60 570.00,1173.60 570.00,1247.10 560.80,1247.10" fill="none" stroke="#000" stroke-width="1.70" stroke-linejoin="round"/>
<text x="574.08" y="1209.30" font-size="24.00" transform="rotate(-90.0 578.75 1197.00)">*</text>
<text x="574.08" y="1220.50" font-size="24.00" transform="rotate(-90.0 578.75 1208.20)">*</text>
<text x="574.08" y="1231.50" font-size="24.00" transform="rotate(-90.0 578.75 1219.20)">*</text>
<polyline points="577.10,1174.60 586.25,1174.60 586.25,1274.80 577.10,1274.80" fill="none" stroke="#000" stroke-width="1.70" stroke-linejoin="round"/>
<text x="592.03" y="1234.80" font-size="24.00" transform="rotate(-90.0 596.70 1222.50)">*</text>
<text x="592.03" y="1246.05" font-size="24.00" transform="rotate(-90.0 596.70 1233.75)">*</text>
<text x="592.03" y="1257.30" font-size="24.00" transform="rotate(-90.0 596.70 1245.00)">*</text>
<text x="585.07" y="1010.50" font-size="29.00" font-weight="bold" textLength="16.83" lengthAdjust="spacingAndGlyphs" fill="#000">h</text>
<line x1="666.10" y1="1029.00" x2="666.10" y2="1285.00" stroke="#000" stroke-width="1.80"/>
<line x1="665.10" y1="1284.00" x2="948.00" y2="1284.00" stroke="#000" stroke-width="1.80"/>
<line x1="660.20" y1="1284.00" x2="666.10" y2="1284.00" stroke="#000" stroke-width="1.80"/>
<text x="648.02" y="1290.20" font-size="19.30" textLength="9.88" lengthAdjust="spacingAndGlyphs" fill="#000">0</text>
<line x1="660.20" y1="1168.70" x2="666.10" y2="1168.70" stroke="#000" stroke-width="1.80"/>
<text x="638.15" y="1174.90" font-size="19.30" textLength="19.75" lengthAdjust="spacingAndGlyphs" fill="#000">50</text>
<line x1="660.20" y1="1053.40" x2="666.10" y2="1053.40" stroke="#000" stroke-width="1.80"/>
<text x="628.28" y="1059.60" font-size="19.30" textLength="29.63" lengthAdjust="spacingAndGlyphs" fill="#000">100</text>
<line x1="706.20" y1="1284.00" x2="706.20" y2="1290.00" stroke="#000" stroke-width="1.80"/>
<text x="696.34" y="1310.00" font-size="19.30" textLength="19.75" lengthAdjust="spacingAndGlyphs" fill="#000">30</text>
<line x1="786.60" y1="1284.00" x2="786.60" y2="1290.00" stroke="#000" stroke-width="1.80"/>
<text x="776.87" y="1310.00" font-size="19.30" textLength="19.75" lengthAdjust="spacingAndGlyphs" fill="#000">40</text>
<line x1="867.00" y1="1284.00" x2="867.00" y2="1290.00" stroke="#000" stroke-width="1.80"/>
<text x="857.12" y="1310.00" font-size="19.30" textLength="19.75" lengthAdjust="spacingAndGlyphs" fill="#000">50</text>
<line x1="947.40" y1="1284.00" x2="947.40" y2="1290.00" stroke="#000" stroke-width="1.80"/>
<text x="937.42" y="1310.00" font-size="19.30" textLength="19.75" lengthAdjust="spacingAndGlyphs" fill="#000">60</text>
<text x="785.92" y="1334.60" font-size="20.30" textLength="41.14" lengthAdjust="spacingAndGlyphs" fill="#000">Days</text>
<text transform="translate(629.80 1222.50) rotate(-90)" x="-1.58" y="0" font-size="18.50" textLength="137.37" lengthAdjust="spacingAndGlyphs" fill="#000">Percent survival</text>
<polyline points="666.00,1053.40 802.68,1053.40 802.68,1076.46 826.80,1076.46 826.80,1122.58 850.92,1122.58 850.92,1145.64 858.96,1145.64 858.96,1168.70 875.04,1168.70 875.04,1191.76 883.08,1191.76 883.08,1214.82 907.20,1214.82 907.20,1260.94 915.24,1260.94 915.24,1284.00" fill="none" stroke="#ff1f8c" stroke-width="2.00" stroke-dasharray="5,3.5" stroke-linejoin="round"/>
<rect x="800.88" y="1074.66" width="3.60" height="3.60" fill="#ff1f8c"/>
<rect x="825.00" y="1120.78" width="3.60" height="3.60" fill="#ff1f8c"/>
<rect x="849.12" y="1143.84" width="3.60" height="3.60" fill="#ff1f8c"/>
<rect x="857.16" y="1166.90" width="3.60" height="3.60" fill="#ff1f8c"/>
<rect x="873.24" y="1189.96" width="3.60" height="3.60" fill="#ff1f8c"/>
<rect x="881.28" y="1213.02" width="3.60" height="3.60" fill="#ff1f8c"/>
<rect x="905.40" y="1259.14" width="3.60" height="3.60" fill="#ff1f8c"/>
<rect x="913.44" y="1282.20" width="3.60" height="3.60" fill="#ff1f8c"/>
<polyline points="666.00,1053.40 826.80,1053.40 826.80,1079.00 834.84,1079.00 834.84,1130.19 842.88,1130.19 842.88,1155.79 858.96,1155.79 858.96,1181.61 867.00,1181.61 867.00,1207.21 883.08,1207.21 883.08,1232.81 891.12,1232.81 891.12,1258.40 907.20,1258.40 907.20,1284.00" fill="none" stroke="#0000ff" stroke-width="2.00" stroke-dasharray="5,3.5" stroke-linejoin="round"/>
<rect x="825.00" y="1077.20" width="3.60" height="3.60" fill="#0000ff"/>
<rect x="833.04" y="1128.39" width="3.60" height="3.60" fill="#0000ff"/>
<rect x="841.08" y="1153.99" width="3.60" height="3.60" fill="#0000ff"/>
<rect x="857.16" y="1179.81" width="3.60" height="3.60" fill="#0000ff"/>
<rect x="865.20" y="1205.41" width="3.60" height="3.60" fill="#0000ff"/>
<rect x="881.28" y="1231.01" width="3.60" height="3.60" fill="#0000ff"/>
<rect x="889.32" y="1256.60" width="3.60" height="3.60" fill="#0000ff"/>
<rect x="905.40" y="1282.20" width="3.60" height="3.60" fill="#0000ff"/>
<polyline points="666.00,1053.40 778.56,1053.40 778.56,1074.38 802.68,1074.38 802.68,1095.37 826.80,1095.37 826.80,1116.35 875.04,1116.35 875.04,1137.34 883.08,1137.34 883.08,1158.32 907.20,1158.32 907.20,1200.06 915.24,1200.06 915.24,1221.05 923.28,1221.05 923.28,1242.03 931.32,1242.03 931.32,1284.00" fill="none" stroke="#ff0000" stroke-width="2.00" stroke-dasharray="5,3.5" stroke-linejoin="round"/>
<rect x="776.76" y="1072.58" width="3.60" height="3.60" fill="#ff0000"/>
<rect x="800.88" y="1093.57" width="3.60" height="3.60" fill="#ff0000"/>
<rect x="825.00" y="1114.55" width="3.60" height="3.60" fill="#ff0000"/>
<rect x="873.24" y="1135.54" width="3.60" height="3.60" fill="#ff0000"/>
<rect x="881.28" y="1156.52" width="3.60" height="3.60" fill="#ff0000"/>
<rect x="905.40" y="1198.26" width="3.60" height="3.60" fill="#ff0000"/>
<rect x="913.44" y="1219.25" width="3.60" height="3.60" fill="#ff0000"/>
<rect x="921.48" y="1240.23" width="3.60" height="3.60" fill="#ff0000"/>
<rect x="929.52" y="1282.20" width="3.60" height="3.60" fill="#ff0000"/>
<polyline points="666.00,1053.40 722.28,1053.40 722.28,1076.46 754.44,1076.46 754.44,1122.58 778.56,1122.58 778.56,1145.64 794.64,1145.64 794.64,1260.94 802.68,1260.94 802.68,1284.00" fill="none" stroke="#000000" stroke-width="2.00" stroke-dasharray="5,3.5" stroke-linejoin="round"/>
<rect x="720.48" y="1074.66" width="3.60" height="3.60" fill="#000000"/>
<rect x="752.64" y="1120.78" width="3.60" height="3.60" fill="#000000"/>
<rect x="776.76" y="1143.84" width="3.60" height="3.60" fill="#000000"/>
<rect x="792.84" y="1259.14" width="3.60" height="3.60" fill="#000000"/>
<rect x="800.88" y="1282.20" width="3.60" height="3.60" fill="#000000"/>
<polyline points="666.00,1072.54 778.56,1072.54 778.56,1091.91 810.72,1091.91 810.72,1111.05 826.80,1111.05 826.80,1168.70 834.84,1168.70 834.84,1187.84 850.92,1187.84 850.92,1226.35 875.04,1226.35 875.04,1245.49 883.08,1245.49 883.08,1284.00" fill="none" stroke="#00ee00" stroke-width="2.00" stroke-dasharray="5,3.5" stroke-linejoin="round"/>
<rect x="776.76" y="1090.11" width="3.60" height="3.60" fill="#00ee00"/>
<rect x="808.92" y="1109.25" width="3.60" height="3.60" fill="#00ee00"/>
<rect x="825.00" y="1166.90" width="3.60" height="3.60" fill="#00ee00"/>
<rect x="833.04" y="1186.04" width="3.60" height="3.60" fill="#00ee00"/>
<rect x="849.12" y="1224.55" width="3.60" height="3.60" fill="#00ee00"/>
<rect x="873.24" y="1243.69" width="3.60" height="3.60" fill="#00ee00"/>
<rect x="881.28" y="1282.20" width="3.60" height="3.60" fill="#00ee00"/>
<polyline points="666.00,1053.40 714.24,1053.40 714.24,1076.46 730.32,1076.46 730.32,1099.52 746.40,1099.52 746.40,1122.58 770.52,1122.58 770.52,1145.64 778.56,1145.64 778.56,1168.70 786.60,1168.70 786.60,1191.76 794.64,1191.76 794.64,1237.88 802.68,1237.88 802.68,1260.94 818.76,1260.94 818.76,1284.00" fill="none" stroke="#00ee00" stroke-width="2.00" stroke-linejoin="round"/>
<rect x="712.44" y="1074.66" width="3.60" height="3.60" fill="#00ee00"/>
<rect x="728.52" y="1097.72" width="3.60" height="3.60" fill="#00ee00"/>
<rect x="744.60" y="1120.78" width="3.60" height="3.60" fill="#00ee00"/>
<rect x="768.72" y="1143.84" width="3.60" height="3.60" fill="#00ee00"/>
<rect x="776.76" y="1166.90" width="3.60" height="3.60" fill="#00ee00"/>
<rect x="784.80" y="1189.96" width="3.60" height="3.60" fill="#00ee00"/>
<rect x="792.84" y="1236.08" width="3.60" height="3.60" fill="#00ee00"/>
<rect x="800.88" y="1259.14" width="3.60" height="3.60" fill="#00ee00"/>
<rect x="816.96" y="1282.20" width="3.60" height="3.60" fill="#00ee00"/>
<polyline points="666.00,1053.40 730.32,1053.40 730.32,1086.38 738.36,1086.38 738.36,1119.35 770.52,1119.35 770.52,1152.33 786.60,1152.33 786.60,1185.07 802.68,1185.07 802.68,1218.05 818.76,1218.05 818.76,1284.00" fill="none" stroke="#ff1f8c" stroke-width="2.00" stroke-linejoin="round"/>
<rect x="728.52" y="1084.58" width="3.60" height="3.60" fill="#ff1f8c"/>
<rect x="736.56" y="1117.55" width="3.60" height="3.60" fill="#ff1f8c"/>
<rect x="768.72" y="1150.53" width="3.60" height="3.60" fill="#ff1f8c"/>
<rect x="784.80" y="1183.27" width="3.60" height="3.60" fill="#ff1f8c"/>
<rect x="800.88" y="1216.25" width="3.60" height="3.60" fill="#ff1f8c"/>
<rect x="816.96" y="1282.20" width="3.60" height="3.60" fill="#ff1f8c"/>
<polyline points="666.00,1053.40 698.16,1053.40 698.16,1095.37 746.40,1095.37 746.40,1116.35 770.52,1116.35 770.52,1137.34 794.64,1137.34 794.64,1158.32 810.72,1158.32 810.72,1179.08 826.80,1179.08 826.80,1221.05 834.84,1221.05 834.84,1263.02 842.88,1263.02 842.88,1284.00" fill="none" stroke="#0000ff" stroke-width="2.00" stroke-linejoin="round"/>
<rect x="696.36" y="1093.57" width="3.60" height="3.60" fill="#0000ff"/>
<rect x="744.60" y="1114.55" width="3.60" height="3.60" fill="#0000ff"/>
<rect x="768.72" y="1135.54" width="3.60" height="3.60" fill="#0000ff"/>
<rect x="792.84" y="1156.52" width="3.60" height="3.60" fill="#0000ff"/>
<rect x="808.92" y="1177.28" width="3.60" height="3.60" fill="#0000ff"/>
<rect x="825.00" y="1219.25" width="3.60" height="3.60" fill="#0000ff"/>
<rect x="833.04" y="1261.22" width="3.60" height="3.60" fill="#0000ff"/>
<rect x="841.08" y="1282.20" width="3.60" height="3.60" fill="#0000ff"/>
<polyline points="666.00,1053.40 754.44,1053.40 754.44,1072.54 770.52,1072.54 770.52,1091.91 778.56,1091.91 778.56,1130.19 786.60,1130.19 786.60,1149.56 794.64,1149.56 794.64,1168.70 802.68,1168.70 802.68,1187.84 818.76,1187.84 818.76,1207.21 826.80,1207.21 826.80,1245.49 834.84,1245.49 834.84,1284.00" fill="none" stroke="#ff0000" stroke-width="2.00" stroke-linejoin="round"/>
<rect x="752.64" y="1070.74" width="3.60" height="3.60" fill="#ff0000"/>
<rect x="768.72" y="1090.11" width="3.60" height="3.60" fill="#ff0000"/>
<rect x="776.76" y="1128.39" width="3.60" height="3.60" fill="#ff0000"/>
<rect x="784.80" y="1147.76" width="3.60" height="3.60" fill="#ff0000"/>
<rect x="792.84" y="1166.90" width="3.60" height="3.60" fill="#ff0000"/>
<rect x="800.88" y="1186.04" width="3.60" height="3.60" fill="#ff0000"/>
<rect x="816.96" y="1205.41" width="3.60" height="3.60" fill="#ff0000"/>
<rect x="825.00" y="1243.69" width="3.60" height="3.60" fill="#ff0000"/>
<rect x="833.04" y="1282.20" width="3.60" height="3.60" fill="#ff0000"/>
<polyline points="666.00,1053.40 690.12,1053.40 690.12,1072.54 706.20,1072.54 706.20,1111.05 722.28,1111.05 722.28,1168.70 730.32,1168.70 730.32,1187.84 738.36,1187.84 738.36,1207.21 746.40,1207.21 746.40,1226.35 754.44,1226.35 754.44,1264.86 762.48,1264.86 762.48,1284.00" fill="none" stroke="#000000" stroke-width="2.00" stroke-linejoin="round"/>
<rect x="688.32" y="1070.74" width="3.60" height="3.60" fill="#000000"/>
<rect x="704.40" y="1109.25" width="3.60" height="3.60" fill="#000000"/>
<rect x="720.48" y="1166.90" width="3.60" height="3.60" fill="#000000"/>
<rect x="728.52" y="1186.04" width="3.60" height="3.60" fill="#000000"/>
<rect x="736.56" y="1205.41" width="3.60" height="3.60" fill="#000000"/>
<rect x="744.60" y="1224.55" width="3.60" height="3.60" fill="#000000"/>
<rect x="752.64" y="1263.06" width="3.60" height="3.60" fill="#000000"/>
<rect x="760.68" y="1282.20" width="3.60" height="3.60" fill="#000000"/>
<line x1="964.70" y1="1018.60" x2="984.70" y2="1018.60" stroke="#000000" stroke-width="1.80"/>
<text x="995.80" y="1025.70" font-size="19.70" textLength="115.43" lengthAdjust="spacingAndGlyphs" fill="#000">shCON (n=12)</text>
<line x1="964.70" y1="1049.30" x2="984.70" y2="1049.30" stroke="#ff0000" stroke-width="1.80"/>
<rect x="973.20" y="1047.80" width="3.00" height="3.00" fill="#ff0000"/>
<text x="995.80" y="1056.40" font-size="19.70" textLength="126.66" lengthAdjust="spacingAndGlyphs" fill="#000">shTrx1-1 (n=12)</text>
<line x1="965.50" y1="1076.90" x2="985.50" y2="1076.90" stroke="#00ee00" stroke-width="1.80"/>
<rect x="974.00" y="1075.40" width="3.00" height="3.00" fill="#00ee00"/>
<text x="996.30" y="1084.00" font-size="19.70" textLength="126.66" lengthAdjust="spacingAndGlyphs" fill="#000">shTrx1-2 (n=10)</text>
<line x1="966.00" y1="1105.70" x2="986.60" y2="1105.70" stroke="#0000ff" stroke-width="1.80"/>
<rect x="974.80" y="1104.20" width="3.00" height="3.00" fill="#0000ff"/>
<text x="997.00" y="1112.80" font-size="19.70" textLength="131.28" lengthAdjust="spacingAndGlyphs" fill="#000">shTrxr1-3 (n=11)</text>
<line x1="966.00" y1="1134.80" x2="986.60" y2="1134.80" stroke="#ff1f8c" stroke-width="1.80"/>
<rect x="974.80" y="1133.30" width="3.00" height="3.00" fill="#ff1f8c"/>
<text x="997.00" y="1141.90" font-size="19.70" textLength="129.62" lengthAdjust="spacingAndGlyphs" fill="#000">shTrxR1-5 (n=8)</text>
<line x1="966.00" y1="1163.60" x2="986.60" y2="1163.60" stroke="#000000" stroke-width="1.80" stroke-dasharray="4,3.5"/>
<rect x="974.80" y="1162.10" width="3.00" height="3.00" fill="#000000"/>
<text x="997.00" y="1170.70" font-size="19.70" textLength="167.45" lengthAdjust="spacingAndGlyphs" fill="#000">shCON+CHKi (n=10)</text>
<line x1="967.00" y1="1193.90" x2="987.70" y2="1193.90" stroke="#ff0000" stroke-width="1.80" stroke-dasharray="4,3.5"/>
<rect x="975.85" y="1192.40" width="3.00" height="3.00" fill="#ff0000"/>
<text x="998.50" y="1201.00" font-size="19.70" textLength="177.35" lengthAdjust="spacingAndGlyphs" fill="#000">shTrx1-1+CHKi (n=11)</text>
<line x1="967.00" y1="1224.30" x2="987.70" y2="1224.30" stroke="#00ee00" stroke-width="1.80" stroke-dasharray="4,3.5"/>
<rect x="975.85" y="1222.80" width="3.00" height="3.00" fill="#00ee00"/>
<text x="998.50" y="1231.40" font-size="19.70" textLength="178.68" lengthAdjust="spacingAndGlyphs" fill="#000">shTrx1-2+CHKi (n=12)</text>
<line x1="968.00" y1="1255.70" x2="988.50" y2="1255.70" stroke="#0000ff" stroke-width="1.80" stroke-dasharray="4,3.5"/>
<rect x="976.75" y="1254.20" width="3.00" height="3.00" fill="#0000ff"/>
<text x="999.00" y="1262.80" font-size="19.70" textLength="181.64" lengthAdjust="spacingAndGlyphs" fill="#000">shTrxR1-3+CHKi (n=9)</text>
<line x1="966.50" y1="1283.90" x2="987.00" y2="1283.90" stroke="#ff1f8c" stroke-width="1.80" stroke-dasharray="4,3.5"/>
<rect x="975.25" y="1282.40" width="3.00" height="3.00" fill="#ff1f8c"/>
<text x="997.50" y="1291.00" font-size="19.70" textLength="201.47" lengthAdjust="spacingAndGlyphs" fill="#000">shTrxR1-5+CHK1i (n=10)</text>
<text x="1.07" y="1371.50" font-size="29.00" font-weight="bold" textLength="7.65" lengthAdjust="spacingAndGlyphs" fill="#000">i</text>
<text x="180.90" y="1367.60" font-size="17.00" textLength="42.37" lengthAdjust="spacingAndGlyphs" fill="#000">-CHKi</text>
<line x1="52.50" y1="1373.80" x2="354.00" y2="1373.80" stroke="#333" stroke-width="1.80"/>
<text x="497.22" y="1367.60" font-size="17.00" textLength="46.66" lengthAdjust="spacingAndGlyphs" fill="#000">+CHKi</text>
<line x1="368.00" y1="1373.80" x2="672.30" y2="1373.80" stroke="#333" stroke-width="1.80"/>
<text x="79.86" y="1391.60" font-size="16.00" textLength="51.72" lengthAdjust="spacingAndGlyphs" fill="#000">shCON</text>
<text x="179.26" y="1391.60" font-size="16.00" textLength="47.63" lengthAdjust="spacingAndGlyphs" fill="#000">shTrx1</text>
<text x="274.66" y="1391.60" font-size="16.00" textLength="59.02" lengthAdjust="spacingAndGlyphs" fill="#000">shTrxR1</text>
<text x="393.56" y="1391.60" font-size="16.00" textLength="51.72" lengthAdjust="spacingAndGlyphs" fill="#000">shCON</text>
<text x="493.26" y="1391.60" font-size="16.00" textLength="47.63" lengthAdjust="spacingAndGlyphs" fill="#000">shTrx1</text>
<text x="597.06" y="1391.60" font-size="16.00" textLength="59.02" lengthAdjust="spacingAndGlyphs" fill="#000">shTrxR1</text>
<line x1="27.20" y1="1395.50" x2="27.20" y2="1671.50" stroke="#000" stroke-width="1.90"/>
<text transform="translate(19.4 1585.6) rotate(-90)" x="-0.37" y="0" font-size="16.2" textLength="100.24" lengthAdjust="spacingAndGlyphs"><tspan fill="#11dd11">TUNEL</tspan><tspan fill="#000">/</tspan><tspan fill="#1a1aff">DAPI</tspan></text>
<text x="31.69" y="1446.70" font-size="16.30" textLength="16.50" lengthAdjust="spacingAndGlyphs" fill="#000">T1</text>
<text x="31.69" y="1535.90" font-size="16.30" textLength="16.52" lengthAdjust="spacingAndGlyphs" fill="#000">T2</text>
<text x="31.69" y="1625.10" font-size="16.30" textLength="16.43" lengthAdjust="spacingAndGlyphs" fill="#000">T3</text>
<g clip-path="url(#tc1)">
<rect x="54.00" y="1398.30" width="97.00" height="87.70" fill="#031040"/>
<rect x="54.00" y="1398.30" width="97.00" height="87.70" fill="#000" filter="url(#fB1)" opacity="0.90"/>
<rect x="54.00" y="1398.30" width="97.00" height="87.70" fill="#000" filter="url(#fG1)" mask="url(#gm1)"/>
<rect x="54.00" y="1398.30" width="97.00" height="87.70" fill="#000" filter="url(#fL1)"/>
<ellipse cx="63.7" cy="1405.3" rx="12.6" ry="8.8" fill="#051a26" filter="url(#vblur)" transform="rotate(0.0 63.7 1405.3)"/>
<ellipse cx="67.6" cy="1437.8" rx="7.3" ry="14.0" fill="#051a26" filter="url(#vblur)" transform="rotate(0.0 67.6 1437.8)"/>
<ellipse cx="58.9" cy="1420.2" rx="4.9" ry="10.5" fill="#051a26" filter="url(#vblur)" transform="rotate(0.0 58.9 1420.2)"/>
<line x1="68.50" y1="1473.00" x2="88.00" y2="1473.00" stroke="#e0e0e0" stroke-width="1.20"/>
</g>
<g clip-path="url(#tc2)">
<rect x="156.00" y="1398.30" width="97.00" height="87.70" fill="#031040"/>
<rect x="156.00" y="1398.30" width="97.00" height="87.70" fill="#000" filter="url(#fB2)" opacity="0.90"/>
<rect x="156.00" y="1398.30" width="97.00" height="87.70" fill="#000" filter="url(#fG2)" mask="url(#gm2)"/>
<rect x="156.00" y="1398.30" width="97.00" height="87.70" fill="#000" filter="url(#fL2)"/>
<line x1="228.00" y1="1480.00" x2="247.00" y2="1480.00" stroke="#e0e0e0" stroke-width="1.20"/>
</g>
<g clip-path="url(#tc3)">
<rect x="257.40" y="1398.30" width="97.20" height="87.70" fill="#031040"/>
<rect x="257.40" y="1398.30" width="97.20" height="87.70" fill="#000" filter="url(#fB0)" opacity="0.90"/>
<rect x="257.40" y="1398.30" width="97.20" height="87.70" fill="#000" filter="url(#fG0)" mask="url(#gm3)"/>
<rect x="257.40" y="1398.30" width="97.20" height="87.70" fill="#000" filter="url(#fL0)"/>
<line x1="329.60" y1="1480.00" x2="348.60" y2="1480.00" stroke="#e0e0e0" stroke-width="1.20"/>
</g>
<g clip-path="url(#tc4)">
<rect x="370.80" y="1398.30" width="96.90" height="87.70" fill="#031040"/>
<rect x="370.80" y="1398.30" width="96.90" height="87.70" fill="#000" filter="url(#fB1)" opacity="0.90"/>
<rect x="370.80" y="1398.30" width="96.90" height="87.70" fill="#000" filter="url(#fG1)" mask="url(#gm4)"/>
<rect x="370.80" y="1398.30" width="96.90" height="87.70" fill="#000" filter="url(#fL1)"/>
<line x1="442.70" y1="1480.00" x2="461.70" y2="1480.00" stroke="#e0e0e0" stroke-width="1.20"/>
</g>
<g clip-path="url(#tc5)">
<rect x="472.80" y="1398.30" width="96.90" height="87.70" fill="#072a48"/>
<rect x="472.80" y="1398.30" width="96.90" height="87.70" fill="#000" filter="url(#fB2)" opacity="0.54"/>
<rect x="472.80" y="1398.30" width="96.90" height="87.70" fill="#000" filter="url(#fG2d)" mask="url(#gm5)"/>
<rect x="472.80" y="1398.30" width="96.90" height="87.70" fill="#000" filter="url(#fL2)"/>
<ellipse cx="521.2" cy="1472.8" rx="19.4" ry="2.2" fill="#051a26" filter="url(#vblur)" transform="rotate(-25.0 521.2 1472.8)"/>
<line x1="544.70" y1="1480.00" x2="563.70" y2="1480.00" stroke="#e0e0e0" stroke-width="1.20"/>
</g>
<g clip-path="url(#tc6)">
<rect x="574.80" y="1398.30" width="97.50" height="87.70" fill="#052040"/>
<rect x="574.80" y="1398.30" width="97.50" height="87.70" fill="#000" filter="url(#fB0)" opacity="0.63"/>
<rect x="574.80" y="1398.30" width="97.50" height="87.70" fill="#000" filter="url(#fG0d)" mask="url(#gm6)"/>
<rect x="574.80" y="1398.30" width="97.50" height="87.70" fill="#000" filter="url(#fL0)"/>
<ellipse cx="660.6" cy="1407.1" rx="9.8" ry="10.5" fill="#051a26" filter="url(#vblur)" transform="rotate(0.0 660.6 1407.1)"/>
<ellipse cx="645.0" cy="1400.1" rx="9.8" ry="4.4" fill="#051a26" filter="url(#vblur)" transform="rotate(0.0 645.0 1400.1)"/>
<ellipse cx="670.3" cy="1468.5" rx="3.9" ry="10.5" fill="#051a26" filter="url(#vblur)" transform="rotate(0.0 670.3 1468.5)"/>
<ellipse cx="579.7" cy="1400.9" rx="7.8" ry="4.4" fill="#051a26" filter="url(#vblur)" transform="rotate(0.0 579.7 1400.9)"/>
<line x1="647.30" y1="1480.00" x2="666.30" y2="1480.00" stroke="#e0e0e0" stroke-width="1.20"/>
</g>
<g clip-path="url(#tc7)">
<rect x="54.00" y="1490.00" width="97.00" height="87.80" fill="#031040"/>
<rect x="54.00" y="1490.00" width="97.00" height="87.80" fill="#000" filter="url(#fB1)" opacity="0.90"/>
<rect x="54.00" y="1490.00" width="97.00" height="87.80" fill="#000" filter="url(#fG1)" mask="url(#gm7)"/>
<rect x="54.00" y="1490.00" width="97.00" height="87.80" fill="#000" filter="url(#fL1)"/>
<ellipse cx="139.4" cy="1507.6" rx="10.7" ry="21.1" fill="#051a26" filter="url(#vblur)" transform="rotate(0.0 139.4 1507.6)"/>
<ellipse cx="127.7" cy="1553.2" rx="2.4" ry="17.6" fill="#051a26" filter="url(#vblur)" transform="rotate(0.0 127.7 1553.2)"/>
<ellipse cx="91.8" cy="1529.5" rx="2.9" ry="2.6" fill="#051a26" filter="url(#vblur)" transform="rotate(0.0 91.8 1529.5)"/>
<ellipse cx="92.8" cy="1507.6" rx="1.9" ry="1.8" fill="#051a26" filter="url(#vblur)" transform="rotate(0.0 92.8 1507.6)"/>
<line x1="68.50" y1="1564.80" x2="88.00" y2="1564.80" stroke="#e0e0e0" stroke-width="1.20"/>
</g>
<g clip-path="url(#tc8)">
<rect x="156.00" y="1490.00" width="97.00" height="87.80" fill="#020c34"/>
<rect x="156.00" y="1490.00" width="97.00" height="87.80" fill="#000" filter="url(#fB2)" opacity="0.77"/>
<rect x="156.00" y="1490.00" width="97.00" height="87.80" fill="#000" filter="url(#fG2)" mask="url(#gm8)"/>
<rect x="156.00" y="1490.00" width="97.00" height="87.80" fill="#000" filter="url(#fL2)"/>
<line x1="228.00" y1="1571.80" x2="247.00" y2="1571.80" stroke="#e0e0e0" stroke-width="1.20"/>
</g>
<g clip-path="url(#tc9)">
<rect x="257.40" y="1490.00" width="97.20" height="87.80" fill="#03103a"/>
<rect x="257.40" y="1490.00" width="97.20" height="87.80" fill="#000" filter="url(#fB0)" opacity="0.68"/>
<rect x="257.40" y="1490.00" width="97.20" height="87.80" fill="#000" filter="url(#fG0)" mask="url(#gm9)"/>
<rect x="257.40" y="1490.00" width="97.20" height="87.80" fill="#000" filter="url(#fL0)"/>
<line x1="329.60" y1="1571.80" x2="348.60" y2="1571.80" stroke="#e0e0e0" stroke-width="1.20"/>
</g>
<g clip-path="url(#tc10)">
<rect x="370.80" y="1490.00" width="96.90" height="87.80" fill="#041440"/>
<rect x="370.80" y="1490.00" width="96.90" height="87.80" fill="#000" filter="url(#fB1)" opacity="0.81"/>
<rect x="370.80" y="1490.00" width="96.90" height="87.80" fill="#000" filter="url(#fG1d)" mask="url(#gm10)"/>
<rect x="370.80" y="1490.00" width="96.90" height="87.80" fill="#000" filter="url(#fL1)"/>
<line x1="442.70" y1="1571.80" x2="461.70" y2="1571.80" stroke="#e0e0e0" stroke-width="1.20"/>
</g>
<g clip-path="url(#tc11)">
<rect x="472.80" y="1490.00" width="96.90" height="87.80" fill="#072a48"/>
<rect x="472.80" y="1490.00" width="96.90" height="87.80" fill="#000" filter="url(#fB2)" opacity="0.54"/>
<rect x="472.80" y="1490.00" width="96.90" height="87.80" fill="#000" filter="url(#fG2d)" mask="url(#gm11)"/>
<rect x="472.80" y="1490.00" width="96.90" height="87.80" fill="#000" filter="url(#fL2)"/>
<ellipse cx="564.9" cy="1525.1" rx="7.8" ry="39.5" fill="#051a26" filter="url(#vblur)" transform="rotate(0.0 564.9 1525.1)"/>
<ellipse cx="535.8" cy="1565.5" rx="33.9" ry="14.0" fill="#051a26" filter="url(#vblur)" transform="rotate(0.0 535.8 1565.5)"/>
<ellipse cx="560.0" cy="1564.6" rx="11.6" ry="17.6" fill="#051a26" filter="url(#vblur)" transform="rotate(0.0 560.0 1564.6)"/>
<line x1="544.70" y1="1571.80" x2="563.70" y2="1571.80" stroke="#e0e0e0" stroke-width="1.20"/>
</g>
<g clip-path="url(#tc12)">
<rect x="574.80" y="1490.00" width="97.50" height="87.80" fill="#031438"/>
<rect x="574.80" y="1490.00" width="97.50" height="87.80" fill="#000" filter="url(#fB0)" opacity="0.63"/>
<rect x="574.80" y="1490.00" width="97.50" height="87.80" fill="#000" filter="url(#fG0d)" mask="url(#gm12)"/>
<rect x="574.80" y="1490.00" width="97.50" height="87.80" fill="#000" filter="url(#fL0)"/>
<ellipse cx="664.5" cy="1500.5" rx="7.8" ry="12.3" fill="#051a26" filter="url(#vblur)" transform="rotate(0.0 664.5 1500.5)"/>
<ellipse cx="611.8" cy="1500.5" rx="4.9" ry="10.5" fill="#051a26" filter="url(#vblur)" transform="rotate(0.0 611.8 1500.5)"/>
<ellipse cx="628.4" cy="1547.1" rx="3.9" ry="10.5" fill="#051a26" filter="url(#vblur)" transform="rotate(0.0 628.4 1547.1)"/>
<ellipse cx="650.8" cy="1555.8" rx="3.9" ry="13.2" fill="#051a26" filter="url(#vblur)" transform="rotate(0.0 650.8 1555.8)"/>
<line x1="647.30" y1="1571.80" x2="666.30" y2="1571.80" stroke="#e0e0e0" stroke-width="1.20"/>
</g>
<g clip-path="url(#tc13)">
<rect x="54.00" y="1582.40" width="97.00" height="87.60" fill="#031040"/>
<rect x="54.00" y="1582.40" width="97.00" height="87.60" fill="#000" filter="url(#fB1)" opacity="0.90"/>
<rect x="54.00" y="1582.40" width="97.00" height="87.60" fill="#000" filter="url(#fG1)" mask="url(#gm13)"/>
<rect x="54.00" y="1582.40" width="97.00" height="87.60" fill="#000" filter="url(#fL1)"/>
<ellipse cx="63.7" cy="1585.0" rx="14.5" ry="6.1" fill="#051a26" filter="url(#vblur)" transform="rotate(0.0 63.7 1585.0)"/>
<line x1="126.00" y1="1664.00" x2="145.00" y2="1664.00" stroke="#e0e0e0" stroke-width="1.20"/>
</g>
<g clip-path="url(#tc14)">
<rect x="156.00" y="1582.40" width="97.00" height="87.60" fill="#031038"/>
<rect x="156.00" y="1582.40" width="97.00" height="87.60" fill="#000" filter="url(#fB2)" opacity="0.77"/>
<rect x="156.00" y="1582.40" width="97.00" height="87.60" fill="#000" filter="url(#fG2)" mask="url(#gm14)"/>
<rect x="156.00" y="1582.40" width="97.00" height="87.60" fill="#000" filter="url(#fL2)"/>
<line x1="228.00" y1="1664.00" x2="247.00" y2="1664.00" stroke="#e0e0e0" stroke-width="1.20"/>
</g>
<g clip-path="url(#tc15)">
<rect x="257.40" y="1582.40" width="97.20" height="87.60" fill="#031040"/>
<rect x="257.40" y="1582.40" width="97.20" height="87.60" fill="#000" filter="url(#fB0)" opacity="0.90"/>
<rect x="257.40" y="1582.40" width="97.20" height="87.60" fill="#000" filter="url(#fG0)" mask="url(#gm15)"/>
<rect x="257.40" y="1582.40" width="97.20" height="87.60" fill="#000" filter="url(#fL0)"/>
<line x1="329.60" y1="1664.00" x2="348.60" y2="1664.00" stroke="#e0e0e0" stroke-width="1.20"/>
</g>
<g clip-path="url(#tc16)">
<rect x="370.80" y="1582.40" width="96.90" height="87.60" fill="#031040"/>
<rect x="370.80" y="1582.40" width="96.90" height="87.60" fill="#000" filter="url(#fB1)" opacity="0.90"/>
<rect x="370.80" y="1582.40" width="96.90" height="87.60" fill="#000" filter="url(#fG1)" mask="url(#gm16)"/>
<rect x="370.80" y="1582.40" width="96.90" height="87.60" fill="#000" filter="url(#fL1)"/>
<line x1="442.70" y1="1664.00" x2="461.70" y2="1664.00" stroke="#e0e0e0" stroke-width="1.20"/>
</g>
<g clip-path="url(#tc17)">
<rect x="472.80" y="1582.40" width="96.90" height="87.60" fill="#062040"/>
<rect x="472.80" y="1582.40" width="96.90" height="87.60" fill="#000" filter="url(#fB2)" opacity="0.68"/>
<rect x="472.80" y="1582.40" width="96.90" height="87.60" fill="#000" filter="url(#fG2d)" mask="url(#gm17)"/>
<rect x="472.80" y="1582.40" width="96.90" height="87.60" fill="#000" filter="url(#fL2)"/>
<ellipse cx="521.2" cy="1626.2" rx="34.9" ry="4.4" fill="#051a26" filter="url(#vblur)" transform="rotate(-10.0 521.2 1626.2)"/>
<ellipse cx="492.2" cy="1635.0" rx="15.5" ry="4.4" fill="#051a26" filter="url(#vblur)" transform="rotate(15.0 492.2 1635.0)"/>
<ellipse cx="484.4" cy="1659.5" rx="13.6" ry="11.4" fill="#051a26" filter="url(#vblur)" transform="rotate(0.0 484.4 1659.5)"/>
<ellipse cx="499.9" cy="1650.7" rx="7.8" ry="7.0" fill="#051a26" filter="url(#vblur)" transform="rotate(0.0 499.9 1650.7)"/>
<ellipse cx="540.6" cy="1601.7" rx="3.9" ry="14.0" fill="#051a26" filter="url(#vblur)" transform="rotate(25.0 540.6 1601.7)"/>
<ellipse cx="509.6" cy="1613.1" rx="2.9" ry="10.5" fill="#051a26" filter="url(#vblur)" transform="rotate(-15.0 509.6 1613.1)"/>
<ellipse cx="529.0" cy="1608.7" rx="2.9" ry="8.8" fill="#051a26" filter="url(#vblur)" transform="rotate(20.0 529.0 1608.7)"/>
<ellipse cx="560.0" cy="1591.2" rx="5.8" ry="7.0" fill="#051a26" filter="url(#vblur)" transform="rotate(0.0 560.0 1591.2)"/>
<ellipse cx="555.2" cy="1621.8" rx="5.8" ry="4.4" fill="#051a26" filter="url(#vblur)" transform="rotate(0.0 555.2 1621.8)"/>
<line x1="544.70" y1="1664.00" x2="563.70" y2="1664.00" stroke="#e0e0e0" stroke-width="1.20"/>
</g>
<g clip-path="url(#tc18)">
<rect x="574.80" y="1582.40" width="97.50" height="87.60" fill="#052248"/>
<rect x="574.80" y="1582.40" width="97.50" height="87.60" fill="#000" filter="url(#fB0)" opacity="0.72"/>
<rect x="574.80" y="1582.40" width="97.50" height="87.60" fill="#000" filter="url(#fG0d)" mask="url(#gm18)"/>
<rect x="574.80" y="1582.40" width="97.50" height="87.60" fill="#000" filter="url(#fL0)"/>
<line x1="647.30" y1="1664.00" x2="666.30" y2="1664.00" stroke="#e0e0e0" stroke-width="1.20"/>
</g>
<text x="724.24" y="1375.70" font-size="29.00" font-weight="bold" textLength="7.65" lengthAdjust="spacingAndGlyphs" fill="#000">j</text>
<text x="886.47" y="1387.30" font-size="20.20" textLength="131.95" lengthAdjust="spacingAndGlyphs" fill="#000">H1299 Xenograft</text>
<line x1="868.75" y1="1437.95" x2="868.75" y2="1611.00" stroke="#000" stroke-width="1.80"/>
<line x1="867.75" y1="1609.80" x2="1032.50" y2="1609.80" stroke="#000" stroke-width="1.80"/>
<line x1="863.75" y1="1610.00" x2="868.75" y2="1610.00" stroke="#000" stroke-width="1.80"/>
<text x="856.29" y="1616.10" font-size="19.80" textLength="9.69" lengthAdjust="spacingAndGlyphs" fill="#000">0</text>
<line x1="863.75" y1="1575.75" x2="868.75" y2="1575.75" stroke="#000" stroke-width="1.80"/>
<text x="807.84" y="1581.85" font-size="19.80" textLength="58.14" lengthAdjust="spacingAndGlyphs" fill="#000">200000</text>
<line x1="863.75" y1="1541.50" x2="868.75" y2="1541.50" stroke="#000" stroke-width="1.80"/>
<text x="807.84" y="1547.60" font-size="19.80" textLength="58.14" lengthAdjust="spacingAndGlyphs" fill="#000">400000</text>
<line x1="863.75" y1="1507.25" x2="868.75" y2="1507.25" stroke="#000" stroke-width="1.80"/>
<text x="807.84" y="1513.35" font-size="19.80" textLength="58.14" lengthAdjust="spacingAndGlyphs" fill="#000">600000</text>
<line x1="863.75" y1="1473.00" x2="868.75" y2="1473.00" stroke="#000" stroke-width="1.80"/>
<text x="807.84" y="1479.10" font-size="19.80" textLength="58.14" lengthAdjust="spacingAndGlyphs" fill="#000">800000</text>
<line x1="863.75" y1="1438.75" x2="868.75" y2="1438.75" stroke="#000" stroke-width="1.80"/>
<text x="798.15" y="1444.85" font-size="19.80" textLength="67.83" lengthAdjust="spacingAndGlyphs" fill="#000">1000000</text>
<text transform="translate(766.30 1588.00) rotate(-90)" x="-1.56" y="0" font-size="18.90" textLength="136.29" lengthAdjust="spacingAndGlyphs" fill="#000">Relative TUNEL</text>
<text transform="translate(785.00 1595.30) rotate(-90)" x="-1.21" y="0" font-size="18.00" fill="#000">intensity (arb. units)</text>
<rect x="883.60" y="1583.46" width="10.60" height="26.54" fill="#fff" stroke="#0000ff" stroke-width="2.20"/>
<line x1="888.90" y1="1610.00" x2="888.90" y2="1616.70" stroke="#000" stroke-width="1.80"/>
<circle cx="887.90" cy="1578.32" r="3.40" fill="#0000ff"/>
<circle cx="891.90" cy="1583.46" r="3.40" fill="#0000ff"/>
<circle cx="885.90" cy="1585.17" r="3.40" fill="#0000ff"/>
<line x1="888.90" y1="1579.17" x2="888.90" y2="1587.74" stroke="#0000ff" stroke-width="1.60"/>
<line x1="884.40" y1="1579.17" x2="893.40" y2="1579.17" stroke="#0000ff" stroke-width="1.60"/>
<line x1="884.40" y1="1587.74" x2="893.40" y2="1587.74" stroke="#0000ff" stroke-width="1.60"/>
<rect x="906.40" y="1543.21" width="10.60" height="66.79" fill="#fff" stroke="#0000ff" stroke-width="2.20"/>
<line x1="911.70" y1="1610.00" x2="911.70" y2="1616.70" stroke="#000" stroke-width="1.80"/>
<circle cx="908.70" cy="1538.08" r="3.40" fill="#0000ff"/>
<circle cx="911.70" cy="1543.21" r="3.40" fill="#0000ff"/>
<circle cx="914.70" cy="1544.07" r="3.40" fill="#0000ff"/>
<line x1="911.70" y1="1538.08" x2="911.70" y2="1548.35" stroke="#0000ff" stroke-width="1.60"/>
<line x1="907.20" y1="1538.08" x2="916.20" y2="1538.08" stroke="#0000ff" stroke-width="1.60"/>
<line x1="907.20" y1="1548.35" x2="916.20" y2="1548.35" stroke="#0000ff" stroke-width="1.60"/>
<rect x="929.20" y="1555.20" width="10.60" height="54.80" fill="#fff" stroke="#0000ff" stroke-width="2.20"/>
<line x1="934.50" y1="1610.00" x2="934.50" y2="1616.70" stroke="#000" stroke-width="1.80"/>
<circle cx="932.50" cy="1544.92" r="3.40" fill="#0000ff"/>
<circle cx="938.50" cy="1550.06" r="3.40" fill="#0000ff"/>
<circle cx="933.50" cy="1568.90" r="3.40" fill="#0000ff"/>
<line x1="934.50" y1="1542.36" x2="934.50" y2="1568.90" stroke="#0000ff" stroke-width="1.60"/>
<line x1="930.00" y1="1542.36" x2="939.00" y2="1542.36" stroke="#0000ff" stroke-width="1.60"/>
<line x1="930.00" y1="1568.90" x2="939.00" y2="1568.90" stroke="#0000ff" stroke-width="1.60"/>
<rect x="966.70" y="1544.92" width="10.60" height="65.08" fill="#fff" stroke="#ff0000" stroke-width="2.20"/>
<line x1="972.00" y1="1610.00" x2="972.00" y2="1616.70" stroke="#000" stroke-width="1.80"/>
<circle cx="969.00" cy="1538.08" r="3.40" fill="#ff0000"/>
<circle cx="974.00" cy="1542.36" r="3.40" fill="#ff0000"/>
<circle cx="971.00" cy="1550.92" r="3.40" fill="#ff0000"/>
<line x1="972.00" y1="1538.08" x2="972.00" y2="1550.92" stroke="#ff0000" stroke-width="1.60"/>
<line x1="967.50" y1="1538.08" x2="976.50" y2="1538.08" stroke="#ff0000" stroke-width="1.60"/>
<line x1="967.50" y1="1550.92" x2="976.50" y2="1550.92" stroke="#ff0000" stroke-width="1.60"/>
<rect x="989.30" y="1481.56" width="10.60" height="128.44" fill="#fff" stroke="#ff0000" stroke-width="2.20"/>
<line x1="994.60" y1="1610.00" x2="994.60" y2="1616.70" stroke="#000" stroke-width="1.80"/>
<circle cx="994.60" cy="1453.31" r="3.40" fill="#ff0000"/>
<circle cx="994.60" cy="1479.85" r="3.40" fill="#ff0000"/>
<circle cx="994.60" cy="1508.96" r="3.40" fill="#ff0000"/>
<line x1="994.60" y1="1454.16" x2="994.60" y2="1507.25" stroke="#ff0000" stroke-width="1.60"/>
<line x1="990.10" y1="1454.16" x2="999.10" y2="1454.16" stroke="#ff0000" stroke-width="1.60"/>
<line x1="990.10" y1="1507.25" x2="999.10" y2="1507.25" stroke="#ff0000" stroke-width="1.60"/>
<rect x="1011.70" y="1484.99" width="10.60" height="125.01" fill="#fff" stroke="#ff0000" stroke-width="2.20"/>
<line x1="1017.00" y1="1610.00" x2="1017.00" y2="1616.70" stroke="#000" stroke-width="1.80"/>
<circle cx="1017.00" cy="1462.72" r="3.40" fill="#ff0000"/>
<circle cx="1017.00" cy="1479.85" r="3.40" fill="#ff0000"/>
<circle cx="1017.00" cy="1514.10" r="3.40" fill="#ff0000"/>
<line x1="1017.00" y1="1458.44" x2="1017.00" y2="1511.53" stroke="#ff0000" stroke-width="1.60"/>
<line x1="1012.50" y1="1458.44" x2="1021.50" y2="1458.44" stroke="#ff0000" stroke-width="1.60"/>
<line x1="1012.50" y1="1511.53" x2="1021.50" y2="1511.53" stroke="#ff0000" stroke-width="1.60"/>
<text transform="translate(895.90 1633.00) rotate(-45)" x="0.00" y="0" font-size="18.5" text-anchor="end">shCON</text>
<text transform="translate(918.70 1633.00) rotate(-45)" x="0.00" y="0" font-size="18.5" text-anchor="end">shTrx1</text>
<text transform="translate(941.50 1633.00) rotate(-45)" x="0.00" y="0" font-size="18.5" text-anchor="end">shTrxR1</text>
<text transform="translate(979.00 1633.00) rotate(-45)" x="0.00" y="0" font-size="18.5" text-anchor="end">shCON</text>
<text transform="translate(1001.60 1633.00) rotate(-45)" x="0.00" y="0" font-size="18.5" text-anchor="end">shTrx1</text>
<text transform="translate(1024.00 1633.00) rotate(-45)" x="0.00" y="0" font-size="18.5" text-anchor="end">shTrxR1</text>
<line x1="887.50" y1="1501.70" x2="913.30" y2="1501.70" stroke="#000" stroke-width="1.80"/>
<text x="892.19" y="1501.74" font-size="21.00" font-weight="bold">*</text>
<text x="900.39" y="1501.74" font-size="21.00" font-weight="bold">*</text>
<line x1="890.40" y1="1527.50" x2="935.40" y2="1527.50" stroke="#000" stroke-width="1.80"/>
<text x="908.79" y="1527.54" font-size="21.00" font-weight="bold">*</text>
<line x1="964.60" y1="1445.40" x2="994.60" y2="1445.40" stroke="#000" stroke-width="1.80"/>
<text x="971.39" y="1445.44" font-size="21.00" font-weight="bold">*</text>
<text x="979.59" y="1445.44" font-size="21.00" font-weight="bold">*</text>
<line x1="965.40" y1="1420.40" x2="1017.50" y2="1420.40" stroke="#000" stroke-width="1.80"/>
<text x="983.19" y="1420.44" font-size="21.00" font-weight="bold">*</text>
<text x="991.39" y="1420.44" font-size="21.00" font-weight="bold">*</text>
<circle cx="1076.90" cy="1452.80" r="3.30" fill="#0000ff"/>
<circle cx="1076.90" cy="1480.80" r="3.30" fill="#ff0000"/>
<text x="1094.22" y="1459.00" font-size="19.90" textLength="47.28" lengthAdjust="spacingAndGlyphs" fill="#000">-CHKi</text>
<text x="1094.43" y="1487.00" font-size="19.90" textLength="51.77" lengthAdjust="spacingAndGlyphs" fill="#000">+CHKi</text>
</svg>
</body></html>
